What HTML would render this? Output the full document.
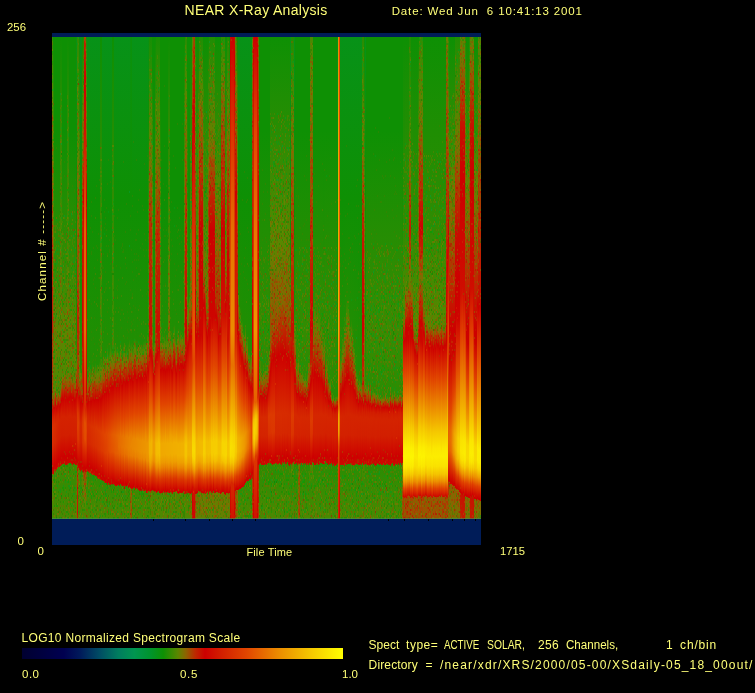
<!DOCTYPE html>
<html lang="en"><head><meta charset="utf-8"><title>NEAR X-Ray Analysis</title>
<style>
html,body{margin:0;padding:0;background:#000}
body{width:755px;height:693px;position:relative;overflow:hidden;font-family:"Liberation Sans",sans-serif}
.b{position:absolute;left:52px;width:429px;background:#001c58}
#sg{position:absolute;left:52px;top:37px;width:429px;height:482px;display:flex;background:#0a8c00}
#sg i{display:block;flex:0 0 1px;width:1px;height:482px}
#sp{position:absolute;left:52px;top:37px}
#tk{position:absolute;left:52px;top:518px;width:429px;height:1px;background:rgba(60,150,90,.55)}
#tk b{position:absolute;top:1px;width:1px;height:2px;background:#000}
#bar{position:absolute;left:22px;top:648px;width:321px;height:11px;background:linear-gradient(to right,#000030 0.0%,#000050 13.0%,#00195a 18.0%,#004b64 24.0%,#007d5f 30.0%,#009650 35.0%,#00942d 40.0%,#0e9004 44.0%,#5a8700 48.5%,#8c6400 51.0%,#be2800 54.0%,#cd0000 57.0%,#d21e00 62.0%,#e14600 70.0%,#eb8c00 80.0%,#f5c800 90.0%,#ff0 100.0%)}
.t{position:absolute;color:#ffff78;white-space:pre;line-height:1;transform-origin:0 0}
.v{transform-origin:0 0;transform:rotate(-90deg) translateY(-84.65%)}
</style></head><body>
<div class="b" style="top:33px;height:4px"></div>
<div class="b" style="top:519px;height:26px"></div>
<div id="sg"><i style="background:linear-gradient(#308c02 0.5px,#5a8700 58.5px,#8c6400 126.5px,#be2800 242.5px,#c31b00 293.5px,#be2800 316.5px,#9e4e00 361.5px,#bd2900 365.5px,#cd0200 371.5px,#d52600 382.5px,#d93100 391.5px,#d62a00 408.5px,#cd0000 431.5px,#c90a00 436.5px,#628200 437.5px,#458901 475.5px,#498901 481.5px)"></i><i style="background:linear-gradient(#0e9004 0.5px,#3a8b02 93.5px,#5a8700 185.5px,#797100 292.5px,#608300 357.5px,#8a6600 361.5px,#ba2d00 366.5px,#cc0400 371.5px,#d52700 383.5px,#d82f00 390.5px,#d62900 407.5px,#cd0100 431.5px,#c90a00 436.5px,#488901 437.5px,#498901 481.5px)"></i><i style="background:linear-gradient(#0e9004 0.5px,#0e9004 93.5px,#278d03 192.5px,#388b02 242.5px,#5a8700 293.5px,#4c8901 354.5px,#608300 356.5px,#836a00 359.5px,#be2700 365.5px,#cd0100 370.5px,#d32100 379.5px,#d72d00 387.5px,#d52700 405.5px,#cd0100 427.5px,#c90a00 433.5px,#3a8b02 434.5px,#378b02 450.5px,#498901 481.5px)"></i><i style="background:linear-gradient(#0e9004 0.5px,#0e9004 93.5px,#278d03 192.5px,#388b02 242.5px,#5a8700 293.5px,#4e8801 347.5px,#5d8500 349.5px,#896600 354.5px,#be2800 361.5px,#cc0300 367.5px,#d72b00 387.5px,#d52600 405.5px,#cd0100 428.5px,#c90a00 434.5px,#3a8b02 435.5px,#378b02 450.5px,#498901 481.5px)"></i><i style="background:linear-gradient(#0e9004 0.5px,#0e9004 93.5px,#278d03 192.5px,#388b02 242.5px,#5a8700 293.5px,#4c8901 356.5px,#5c8600 358.5px,#836a00 361.5px,#bc2b00 366.5px,#cd0200 371.5px,#d32000 379.5px,#d62900 386.5px,#d42300 404.5px,#cd0000 426.5px,#c90b00 432.5px,#3b8b02 433.5px,#378b02 450.5px,#498901 481.5px)"></i><i style="background:linear-gradient(#0e9004 0.5px,#0e9004 93.5px,#278d03 192.5px,#388b02 242.5px,#5a8700 293.5px,#4c8901 355.5px,#896600 360.5px,#be2700 365.5px,#cb0400 369.5px,#d31f00 378.5px,#d52700 385.5px,#d32100 403.5px,#cd0100 424.5px,#c90a00 430.5px,#3b8b02 431.5px,#378b02 450.5px,#498901 481.5px)"></i><i style="background:linear-gradient(#0e9004 0.5px,#0e9004 93.5px,#278d03 192.5px,#388b02 242.5px,#5a8700 293.5px,#4d8901 351.5px,#5e8400 353.5px,#8b6500 357.5px,#ba2c00 362.5px,#cc0400 367.5px,#d21f00 377.5px,#d52500 383.5px,#d32000 401.5px,#cd0100 422.5px,#c90b00 429.5px,#3b8b02 430.5px,#378b02 450.5px,#498901 481.5px)"></i><i style="background:linear-gradient(#0e9004 0.5px,#0e9004 93.5px,#278d03 192.5px,#388b02 242.5px,#5a8700 293.5px,#4c8901 355.5px,#5b8700 357.5px,#826b00 360.5px,#bc2a00 365.5px,#cb0500 369.5px,#d42300 383.5px,#d21f00 401.5px,#cd0100 422.5px,#c90b00 429.5px,#3b8b02 430.5px,#378b02 450.5px,#498901 481.5px)"></i><i style="background:linear-gradient(#0e9004 0.5px,#308c02 92.5px,#418a01 193.5px,#648000 292.5px,#4d8901 350.5px,#5a8700 352.5px,#866800 356.5px,#be2700 362.5px,#cd0100 367.5px,#d21c00 376.5px,#d42200 382.5px,#d21f00 399.5px,#cd0000 421.5px,#c90b00 428.5px,#3c8b02 429.5px,#378b02 450.5px,#498901 481.5px)"></i><i style="background:linear-gradient(#0e9004 0.5px,#308c02 92.5px,#418a01 193.5px,#648000 292.5px,#4f8801 341.5px,#608300 344.5px,#8a6600 349.5px,#bc2a00 356.5px,#cd0000 363.5px,#d21d00 374.5px,#d42200 380.5px,#d21e00 398.5px,#cd0000 420.5px,#c90b00 427.5px,#3c8b02 428.5px,#378b02 450.5px,#498901 481.5px)"></i><i style="background:linear-gradient(#0e9004 0.5px,#0e9004 93.5px,#388b02 242.5px,#5a8700 292.5px,#508801 336.5px,#5a8700 338.5px,#8d6300 345.5px,#be2800 353.5px,#cd0000 361.5px,#d42200 379.5px,#d21e00 398.5px,#cd0100 419.5px,#c90b00 426.5px,#3c8b02 427.5px,#378b02 450.5px,#498901 481.5px)"></i><i style="background:linear-gradient(#0e9004 0.5px,#0e9004 93.5px,#278d03 192.5px,#388b02 242.5px,#5a8700 293.5px,#508801 338.5px,#5a8700 340.5px,#886700 346.5px,#bc2a00 354.5px,#cd0100 362.5px,#d42200 379.5px,#d21e00 398.5px,#cd0100 419.5px,#c90b00 426.5px,#3c8b02 427.5px,#378b02 450.5px,#498901 481.5px)"></i><i style="background:linear-gradient(#0e9004 0.5px,#0e9004 93.5px,#388b02 242.5px,#5a8700 292.5px,#518800 333.5px,#5a8700 335.5px,#8a6600 342.5px,#be2900 351.5px,#cc0300 359.5px,#d42200 379.5px,#d21f00 397.5px,#cd0000 419.5px,#c90b00 426.5px,#3c8b02 427.5px,#378b02 450.5px,#498901 481.5px)"></i><i style="background:linear-gradient(#0e9004 0.5px,#0e9004 93.5px,#388b02 242.5px,#5a8700 292.5px,#518800 335.5px,#5b8700 337.5px,#8b6500 344.5px,#ba2d00 352.5px,#cd0000 361.5px,#d42200 380.5px,#d21f00 398.5px,#cd0100 420.5px,#c90b00 427.5px,#3c8b02 428.5px,#378b02 450.5px,#498901 481.5px)"></i><i style="background:linear-gradient(#0e9004 0.5px,#0e9004 93.5px,#388b02 242.5px,#5a8700 292.5px,#518800 334.5px,#8c6400 343.5px,#be2800 352.5px,#cc0200 360.5px,#d42200 380.5px,#d21f00 398.5px,#cd0000 420.5px,#c90b00 427.5px,#3c8b02 428.5px,#378b02 450.5px,#498901 481.5px)"></i><i style="background:linear-gradient(#0e9004 0.5px,#308c02 92.5px,#418a01 193.5px,#648000 292.5px,#508801 338.5px,#598700 340.5px,#876800 346.5px,#bb2b00 354.5px,#cd0000 362.5px,#d21c00 373.5px,#d42200 380.5px,#d21e00 398.5px,#cd0000 420.5px,#c90b00 426.5px,#3c8b02 427.5px,#378b02 450.5px,#498901 481.5px)"></i><i style="background:linear-gradient(#0e9004 0.5px,#308c02 92.5px,#418a01 193.5px,#648000 292.5px,#508801 336.5px,#598700 338.5px,#8d6300 345.5px,#be2800 353.5px,#cd0100 361.5px,#d42200 379.5px,#d21f00 397.5px,#cd0000 419.5px,#c90b00 426.5px,#3c8b02 427.5px,#378b02 450.5px,#498901 481.5px)"></i><i style="background:linear-gradient(#0e9004 0.5px,#0e9004 93.5px,#388b02 242.5px,#5a8700 292.5px,#518800 335.5px,#598700 337.5px,#8d6300 344.5px,#be2800 352.5px,#cd0100 360.5px,#d42200 378.5px,#d21f00 396.5px,#cd0100 418.5px,#c90b00 425.5px,#3c8b02 426.5px,#378b02 450.5px,#498901 481.5px)"></i><i style="background:linear-gradient(#0e9004 0.5px,#0e9004 93.5px,#388b02 242.5px,#5a8700 292.5px,#518800 333.5px,#5a8700 335.5px,#8a6500 342.5px,#be2700 351.5px,#cd0100 359.5px,#d42200 378.5px,#d21e00 397.5px,#cd0100 418.5px,#c90b00 425.5px,#3c8b02 426.5px,#378b02 450.5px,#498901 481.5px)"></i><i style="background:linear-gradient(#0e9004 0.5px,#0e9004 93.5px,#388b02 242.5px,#5a8700 292.5px,#518800 335.5px,#5a8700 337.5px,#8c6400 344.5px,#bd2900 352.5px,#cd0100 360.5px,#d42200 379.5px,#d21e00 397.5px,#cd0000 419.5px,#c90b00 426.5px,#3c8b02 427.5px,#378b02 450.5px,#498901 481.5px)"></i><i style="background:linear-gradient(#0e9004 0.5px,#0e9004 93.5px,#388b02 242.5px,#5a8700 292.5px,#508801 336.5px,#8e6200 345.5px,#be2900 353.5px,#cd0100 361.5px,#d42200 380.5px,#d21f00 398.5px,#cd0000 420.5px,#c90b00 427.5px,#3c8b02 428.5px,#378b02 450.5px,#498901 481.5px)"></i><i style="background:linear-gradient(#0e9004 0.5px,#0e9004 93.5px,#388b02 242.5px,#5a8700 292.5px,#518800 335.5px,#8d6300 344.5px,#bc2a00 352.5px,#cc0200 360.5px,#d42200 379.5px,#d21e00 398.5px,#cd0000 420.5px,#c90b00 426.5px,#3c8b02 427.5px,#378b02 450.5px,#498901 481.5px)"></i><i style="background:linear-gradient(#0e9004 0.5px,#0e9004 93.5px,#278d03 192.5px,#388b02 242.5px,#5a8700 293.5px,#4f8801 341.5px,#598700 343.5px,#8c6400 349.5px,#be2800 356.5px,#cd0100 363.5px,#d42200 379.5px,#d21f00 397.5px,#cd0100 419.5px,#c90b00 426.5px,#3c8b02 427.5px,#378b02 450.5px,#498901 481.5px)"></i><i style="background:linear-gradient(#0e9004 0.5px,#0e9004 93.5px,#278d03 192.5px,#388b02 242.5px,#5a8700 293.5px,#4f8801 340.5px,#598700 342.5px,#8a6500 348.5px,#ba2d00 355.5px,#cc0300 362.5px,#d42300 380.5px,#d21e00 399.5px,#cd0000 420.5px,#c90b00 427.5px,#3c8b02 428.5px,#378b02 450.5px,#498901 481.5px)"></i><i style="background:linear-gradient(#089214 0.5px,#0e9004 162.5px,#238e03 316.5px,#5c8500 328.5px,#8a6600 336.5px,#be2800 347.5px,#cd0000 357.5px,#d21e00 373.5px,#d42400 382.5px,#d21e00 400.5px,#cd0000 421.5px,#c90b00 427.5px,#428a01 428.5px,#687d00 481.5px)"></i><i style="background:linear-gradient(#308c02 0.5px,#5a8700 109.5px,#8c6400 193.5px,#be2800 278.5px,#c02200 293.5px,#a54600 343.5px,#a64500 344.5px,#bf2400 348.5px,#cd0000 354.5px,#dc3800 376.5px,#de3e00 390.5px,#d93000 403.5px,#cd0100 424.5px,#ca0900 428.5px,#a84300 429.5px,#be2800 450.5px,#c80e00 481.5px)"></i><i style="background:linear-gradient(#308c02 0.5px,#5a8700 109.5px,#8c6400 193.5px,#be2800 278.5px,#c02200 293.5px,#a24a00 348.5px,#a24900 349.5px,#c02300 353.5px,#cc0100 358.5px,#da3500 376.5px,#de3f00 385.5px,#db3600 402.5px,#cd0000 426.5px,#ca0900 430.5px,#648000 431.5px,#468901 474.5px,#498901 481.5px)"></i><i style="background:linear-gradient(#0e9004 0.5px,#5a8700 230.5px,#747500 292.5px,#638100 340.5px,#886700 345.5px,#be2700 353.5px,#cd0100 360.5px,#d62a00 377.5px,#da3300 385.5px,#d72c00 403.5px,#cd0100 427.5px,#c90a00 432.5px,#478901 433.5px,#498901 481.5px)"></i><i style="background:linear-gradient(#079218 0.5px,#0e9004 162.5px,#228e03 330.5px,#5b8600 340.5px,#8a6500 347.5px,#bd2900 356.5px,#cd0100 365.5px,#d52700 386.5px,#d42200 405.5px,#cd0100 427.5px,#c90b00 434.5px,#2e8c02 435.5px,#498901 481.5px)"></i><i style="background:linear-gradient(#079218 0.5px,#0e9004 162.5px,#238e03 331.5px,#5a8700 341.5px,#8d6300 348.5px,#bd2900 356.5px,#cd0000 364.5px,#d62800 385.5px,#d42300 404.5px,#cd0100 426.5px,#c90a00 432.5px,#2d8c02 433.5px,#498901 481.5px)"></i><i style="background:linear-gradient(#109004 0.5px,#5b8700 100.5px,#8c6400 134.5px,#be2800 175.5px,#c41700 193.5px,#cd0100 292.5px,#be2700 342.5px,#af3a00 358.5px,#cd0200 366.5px,#d93100 380.5px,#dd3a00 388.5px,#da3300 405.5px,#cd0100 429.5px,#c90a00 434.5px,#5f8400 435.5px,#428a01 469.5px,#498901 481.5px)"></i><i style="background:linear-gradient(#1f8e03 0.5px,#598700 64.5px,#777200 92.5px,#be2700 133.5px,#cd0100 162.5px,#d01200 192.5px,#d21e00 292.5px,#cd0200 359.5px,#dd3c00 381.5px,#e04300 393.5px,#dc3700 407.5px,#cd0100 430.5px,#ca0900 434.5px,#777300 435.5px,#5a8700 452.5px,#468901 466.5px,#498901 481.5px)"></i><i style="background:linear-gradient(#be2800 0.5px,#cd0000 46.5px,#d01200 93.5px,#e56200 193.5px,#e77000 292.5px,#d52700 369.5px,#e24f00 385.5px,#e14900 401.5px,#cd0100 430.5px,#ca0800 433.5px,#b63100 434.5px,#8c6400 450.5px,#598700 466.5px,#478901 473.5px,#498901 481.5px)"></i><i style="background:linear-gradient(#be2800 0.5px,#cd0000 46.5px,#d01200 93.5px,#e56200 193.5px,#e77000 292.5px,#d52500 372.5px,#e24f00 386.5px,#e24b00 402.5px,#cd0000 431.5px,#ca0800 434.5px,#b43400 435.5px,#8c6400 450.5px,#598700 466.5px,#478901 473.5px,#498901 481.5px)"></i><i style="background:linear-gradient(#1f8e03 0.5px,#598700 64.5px,#777200 92.5px,#be2700 133.5px,#cd0100 162.5px,#d01200 192.5px,#d21e00 292.5px,#cd0000 351.5px,#c90b00 361.5px,#cd0200 363.5px,#de3d00 381.5px,#e14500 393.5px,#dc3900 407.5px,#cd0100 430.5px,#ca0900 434.5px,#777300 435.5px,#5a8700 452.5px,#428a01 469.5px,#498901 481.5px)"></i><i style="background:linear-gradient(#079218 0.5px,#0e9004 162.5px,#238e03 338.5px,#598700 346.5px,#8c6400 352.5px,#be2700 359.5px,#cd0100 366.5px,#d42400 379.5px,#d82d00 387.5px,#d52700 405.5px,#cd0000 428.5px,#c90a00 433.5px,#2e8c02 434.5px,#498901 481.5px)"></i><i style="background:linear-gradient(#079218 0.5px,#0e9004 162.5px,#238e03 332.5px,#608300 342.5px,#8c6400 348.5px,#be2800 356.5px,#cd0000 364.5px,#d42400 379.5px,#d82d00 387.5px,#d62800 406.5px,#cd0000 429.5px,#c90a00 434.5px,#2e8c02 435.5px,#498901 481.5px)"></i><i style="background:linear-gradient(#079218 0.5px,#0e9004 162.5px,#228e03 326.5px,#5f8300 337.5px,#8d6300 344.5px,#be2700 353.5px,#cc0200 361.5px,#d82e00 387.5px,#d62900 406.5px,#cd0100 429.5px,#c90a00 435.5px,#2f8c02 436.5px,#498901 481.5px)"></i><i style="background:linear-gradient(#079218 0.5px,#0e9004 162.5px,#238e03 334.5px,#5d8500 343.5px,#8b6500 349.5px,#be2700 357.5px,#cc0200 364.5px,#d92f00 388.5px,#d62900 407.5px,#cd0000 430.5px,#c90a00 435.5px,#2f8c02 436.5px,#498901 481.5px)"></i><i style="background:linear-gradient(#079218 0.5px,#0e9004 162.5px,#238e03 333.5px,#5c8600 342.5px,#896600 348.5px,#bc2a00 356.5px,#cd0000 364.5px,#d52600 380.5px,#d93100 389.5px,#d72b00 407.5px,#cd0100 430.5px,#c90a00 436.5px,#308c02 437.5px,#498901 481.5px)"></i><i style="background:linear-gradient(#079218 0.5px,#0e9004 162.5px,#238e03 326.5px,#5a8700 336.5px,#8f6100 344.5px,#bb2c00 352.5px,#cc0200 361.5px,#d93200 389.5px,#d72c00 408.5px,#cd0100 431.5px,#c90a00 437.5px,#308c02 438.5px,#498901 481.5px)"></i><i style="background:linear-gradient(#079218 0.5px,#0e9004 162.5px,#228e03 327.5px,#5e8400 338.5px,#8d6200 345.5px,#bb2c00 353.5px,#cd0100 362.5px,#da3300 390.5px,#d82d00 409.5px,#cd0100 432.5px,#ca0900 437.5px,#308c02 438.5px,#498901 481.5px)"></i><i style="background:linear-gradient(#079218 0.5px,#0e9004 162.5px,#228e03 330.5px,#5f8400 340.5px,#8a6500 346.5px,#bb2c00 354.5px,#cd0100 363.5px,#d72c00 382.5px,#da3400 390.5px,#d82e00 408.5px,#cd0100 432.5px,#c90a00 437.5px,#308c02 438.5px,#498901 481.5px)"></i><i style="background:linear-gradient(#079218 0.5px,#0e9004 162.5px,#228e03 325.5px,#5f8300 336.5px,#8d6300 343.5px,#be2800 352.5px,#cd0000 361.5px,#db3600 391.5px,#d93000 409.5px,#cd0000 434.5px,#ca0900 438.5px,#318c02 439.5px,#498901 481.5px)"></i><i style="background:linear-gradient(#079218 0.5px,#0e9004 162.5px,#228e03 328.5px,#598700 338.5px,#8b6500 345.5px,#bb2c00 353.5px,#cd0100 362.5px,#db3700 390.5px,#d93000 409.5px,#cd0000 433.5px,#c90a00 438.5px,#318c02 439.5px,#498901 481.5px)"></i><i style="background:linear-gradient(#079218 0.5px,#0e9004 162.5px,#228e03 328.5px,#5b8600 338.5px,#8b6500 345.5px,#be2700 354.5px,#cd0100 362.5px,#dc3800 392.5px,#d93100 411.5px,#cd0100 435.5px,#c90a00 440.5px,#328c02 441.5px,#498901 481.5px)"></i><i style="background:linear-gradient(#079218 0.5px,#0e9004 162.5px,#228e03 327.5px,#5a8700 337.5px,#896600 344.5px,#bd2a00 353.5px,#cd0000 362.5px,#dc3900 393.5px,#da3200 412.5px,#cd0100 436.5px,#c90a00 441.5px,#328c02 442.5px,#498901 481.5px)"></i><i style="background:linear-gradient(#079218 0.5px,#0e9004 162.5px,#228e03 324.5px,#5e8400 335.5px,#8b6500 342.5px,#bc2a00 351.5px,#cc0200 360.5px,#dd3a00 393.5px,#da3400 412.5px,#cd0100 437.5px,#c90a00 441.5px,#328c02 442.5px,#498901 481.5px)"></i><i style="background:linear-gradient(#0e9004 0.5px,#388b02 193.5px,#418a01 292.5px,#368b02 331.5px,#5f8300 338.5px,#8f6100 345.5px,#bd2a00 353.5px,#cd0100 362.5px,#dd3c00 394.5px,#db3600 412.5px,#cc0100 438.5px,#c90a00 442.5px,#338c02 443.5px,#498901 481.5px)"></i><i style="background:linear-gradient(#0e9004 0.5px,#388b02 193.5px,#418a01 292.5px,#378b02 330.5px,#5e8400 337.5px,#8d6300 344.5px,#ba2c00 352.5px,#cd0100 361.5px,#de3e00 395.5px,#dc3800 413.5px,#cc0100 439.5px,#ca0800 442.5px,#338c02 443.5px,#498901 481.5px)"></i><i style="background:linear-gradient(#079218 0.5px,#0e9004 162.5px,#228e03 322.5px,#5c8600 333.5px,#896600 340.5px,#bb2c00 349.5px,#cd0100 359.5px,#db3700 386.5px,#df4000 395.5px,#dc3900 413.5px,#cd0000 438.5px,#ca0900 442.5px,#338c02 443.5px,#498901 481.5px)"></i><i style="background:linear-gradient(#079218 0.5px,#0e9004 162.5px,#228e03 315.5px,#5c8500 327.5px,#8c6400 335.5px,#bd2900 345.5px,#cd0000 355.5px,#e04200 395.5px,#dd3a00 414.5px,#cd0100 439.5px,#ca0900 443.5px,#348c02 444.5px,#498901 481.5px)"></i><i style="background:linear-gradient(#079218 0.5px,#0e9004 162.5px,#228e03 319.5px,#5e8400 331.5px,#8a6500 338.5px,#be2700 348.5px,#cd0100 357.5px,#e04400 397.5px,#dd3d00 415.5px,#cd0100 441.5px,#ca0800 444.5px,#348b02 445.5px,#498901 481.5px)"></i><i style="background:linear-gradient(#079218 0.5px,#0e9004 162.5px,#228e03 313.5px,#5d8500 325.5px,#8b6500 333.5px,#bb2b00 343.5px,#cd0000 354.5px,#e14600 397.5px,#de3e00 416.5px,#cd0100 442.5px,#ca0900 445.5px,#358b02 446.5px,#498901 481.5px)"></i><i style="background:linear-gradient(#079218 0.5px,#0e9004 162.5px,#228e03 318.5px,#598700 329.5px,#8c6400 337.5px,#bb2b00 346.5px,#cd0000 356.5px,#e14700 395.5px,#df4100 415.5px,#cd0100 442.5px,#ca0900 445.5px,#358b02 446.5px,#498901 481.5px)"></i><i style="background:linear-gradient(#079218 0.5px,#0e9004 162.5px,#218e03 309.5px,#598700 321.5px,#8b6500 330.5px,#be2800 341.5px,#cd0100 352.5px,#e24a00 397.5px,#e04300 417.5px,#cd0000 444.5px,#ca0800 447.5px,#368b02 448.5px,#498901 481.5px)"></i><i style="background:linear-gradient(#079218 0.5px,#0e9004 162.5px,#228e03 317.5px,#598700 328.5px,#8c6400 336.5px,#bc2a00 345.5px,#cd0100 355.5px,#e24d00 396.5px,#e14900 413.5px,#cd0000 442.5px,#ca0700 445.5px,#358b02 446.5px,#498901 481.5px)"></i><i style="background:linear-gradient(#079218 0.5px,#0e9004 162.5px,#228e03 313.5px,#5a8700 324.5px,#8a6600 332.5px,#bc2a00 342.5px,#cd0100 352.5px,#e25000 397.5px,#e24c00 414.5px,#cd0100 444.5px,#ca0900 447.5px,#368b02 448.5px,#498901 481.5px)"></i><i style="background:linear-gradient(#079218 0.5px,#0e9004 162.5px,#218e03 307.5px,#5a8700 319.5px,#8c6400 328.5px,#bc2b00 338.5px,#cd0000 349.5px,#e35200 397.5px,#e24e00 415.5px,#cd0000 444.5px,#ca0800 447.5px,#368b02 448.5px,#498901 481.5px)"></i><i style="background:linear-gradient(#079218 0.5px,#0e9004 162.5px,#218e03 311.5px,#598700 322.5px,#8a6600 330.5px,#bd2900 340.5px,#cd0000 350.5px,#e35600 397.5px,#e35100 414.5px,#cd0100 443.5px,#ca0700 446.5px,#358b02 447.5px,#498901 481.5px)"></i><i style="background:linear-gradient(#0e9004 0.5px,#388b02 193.5px,#418a01 292.5px,#3a8b02 317.5px,#5a8700 323.5px,#8c6400 331.5px,#bb2b00 340.5px,#cd0000 350.5px,#e45900 397.5px,#e35300 414.5px,#cd0000 443.5px,#ca0800 446.5px,#358b02 447.5px,#498901 481.5px)"></i><i style="background:linear-gradient(#0e9004 0.5px,#388b02 193.5px,#418a01 292.5px,#3a8b02 317.5px,#5e8400 324.5px,#8b6400 331.5px,#bc2b00 340.5px,#cd0100 350.5px,#e45c00 397.5px,#e35500 414.5px,#cd0000 443.5px,#ca0800 446.5px,#358b02 447.5px,#498901 481.5px)"></i><i style="background:linear-gradient(#079218 0.5px,#0e9004 162.5px,#218e03 306.5px,#598700 318.5px,#8e6100 327.5px,#bb2b00 336.5px,#cc0100 346.5px,#e45e00 397.5px,#e45800 415.5px,#cd0100 444.5px,#ca0700 447.5px,#368b02 448.5px,#498901 481.5px)"></i><i style="background:linear-gradient(#079218 0.5px,#0e9004 162.5px,#218e03 305.5px,#5f8400 318.5px,#8e6200 326.5px,#be2700 336.5px,#cd0100 346.5px,#e56000 398.5px,#e45b00 416.5px,#cd0100 445.5px,#ca0700 448.5px,#378b02 449.5px,#498901 481.5px)"></i><i style="background:linear-gradient(#079218 0.5px,#0e9004 162.5px,#218e03 311.5px,#5c8600 322.5px,#8f6100 330.5px,#be2700 339.5px,#cd0000 348.5px,#e56400 398.5px,#e45c00 416.5px,#cd0000 445.5px,#ca0800 448.5px,#378b02 449.5px,#498901 481.5px)"></i><i style="background:linear-gradient(#079218 0.5px,#0e9004 162.5px,#218e03 308.5px,#5f8400 320.5px,#8b6500 327.5px,#bb2c00 336.5px,#cd0000 346.5px,#e66600 398.5px,#e55f00 416.5px,#cd0100 445.5px,#ca0800 448.5px,#378b02 449.5px,#498901 481.5px)"></i><i style="background:linear-gradient(#079218 0.5px,#0e9004 162.5px,#218e03 311.5px,#5d8500 322.5px,#8b6500 329.5px,#bd2900 338.5px,#cd0000 347.5px,#e66900 398.5px,#e66b00 409.5px,#e56100 416.5px,#cd0000 445.5px,#cb0600 447.5px,#368b02 448.5px,#498901 481.5px)"></i><i style="background:linear-gradient(#079218 0.5px,#0e9004 162.5px,#228e03 313.5px,#5a8700 323.5px,#896600 330.5px,#bc2a00 339.5px,#cd0000 348.5px,#e66c00 399.5px,#e76d00 410.5px,#e56400 417.5px,#cd0000 446.5px,#cb0600 448.5px,#378b02 449.5px,#498901 481.5px)"></i><i style="background:linear-gradient(#079218 0.5px,#0e9004 162.5px,#218e03 304.5px,#5b8600 315.5px,#8e6200 323.5px,#bd2900 332.5px,#cd0100 342.5px,#e04500 379.5px,#e76f00 397.5px,#e77000 408.5px,#e66600 415.5px,#cd0100 444.5px,#cb0600 446.5px,#358b02 447.5px,#498901 481.5px)"></i><i style="background:linear-gradient(#079218 0.5px,#0e9004 162.5px,#218e03 310.5px,#5b8600 321.5px,#8a6500 328.5px,#bd2900 337.5px,#cd0000 346.5px,#e14600 382.5px,#e77000 399.5px,#e77200 410.5px,#e66800 417.5px,#cd0100 446.5px,#cb0500 448.5px,#378b02 449.5px,#498901 481.5px)"></i><i style="background:linear-gradient(#079218 0.5px,#0e9004 162.5px,#228e03 314.5px,#5a8700 324.5px,#8c6400 331.5px,#bb2c00 339.5px,#cd0000 348.5px,#e14600 382.5px,#e77200 399.5px,#e87400 410.5px,#e66a00 417.5px,#cd0100 446.5px,#cb0500 448.5px,#378b02 449.5px,#498901 481.5px)"></i><i style="background:linear-gradient(#079218 0.5px,#0e9004 162.5px,#218e03 308.5px,#5c8500 319.5px,#8c6400 326.5px,#be2800 335.5px,#cd0100 344.5px,#e14500 379.5px,#e87500 398.5px,#e87600 409.5px,#e66c00 416.5px,#cd0100 445.5px,#ca0700 448.5px,#378b02 449.5px,#498901 481.5px)"></i><i style="background:linear-gradient(#079218 0.5px,#0e9004 162.5px,#218e03 305.5px,#598700 316.5px,#8c6400 324.5px,#bc2b00 333.5px,#cd0100 343.5px,#e14600 381.5px,#e87700 401.5px,#e87800 412.5px,#e76e00 419.5px,#d01000 443.5px,#cd0100 449.5px,#ca0700 451.5px,#388b02 452.5px,#498901 481.5px)"></i><i style="background:linear-gradient(#079218 0.5px,#0e9004 162.5px,#228e03 312.5px,#5c8600 322.5px,#8d6200 329.5px,#bd2900 337.5px,#cd0100 346.5px,#e14500 379.5px,#e87900 399.5px,#e97b00 409.5px,#e77100 416.5px,#cd0000 446.5px,#cb0600 448.5px,#378b02 449.5px,#498901 481.5px)"></i><i style="background:linear-gradient(#079218 0.5px,#0e9004 162.5px,#218e03 310.5px,#5c8600 320.5px,#8d6300 327.5px,#bb2b00 335.5px,#cd0000 344.5px,#e14700 379.5px,#e97b00 399.5px,#e97c00 410.5px,#e77200 417.5px,#cd0100 446.5px,#cb0500 448.5px,#378b02 449.5px,#498901 481.5px)"></i><i style="background:linear-gradient(#079218 0.5px,#0e9004 162.5px,#228e03 312.5px,#5c8500 322.5px,#8e6100 329.5px,#be2800 337.5px,#cd0000 345.5px,#e14700 379.5px,#e97d00 399.5px,#e97e00 410.5px,#e87400 417.5px,#d01000 441.5px,#cd0100 447.5px,#cb0500 448.5px,#378b02 449.5px,#498901 481.5px)"></i><i style="background:linear-gradient(#079218 0.5px,#0e9004 162.5px,#218e03 306.5px,#5b8600 317.5px,#896600 324.5px,#bc2a00 333.5px,#cd0100 342.5px,#e14500 378.5px,#e97f00 401.5px,#e98100 412.5px,#e87600 419.5px,#d01000 443.5px,#cd0100 449.5px,#cb0400 450.5px,#388b02 451.5px,#498901 481.5px)"></i><i style="background:linear-gradient(#079218 0.5px,#0e9004 162.5px,#218e03 302.5px,#5a8700 313.5px,#8e6100 321.5px,#be2700 330.5px,#cd0000 339.5px,#e14600 376.5px,#ea8200 400.5px,#ea8200 411.5px,#e87700 418.5px,#cd0100 447.5px,#cb0600 449.5px,#378b02 450.5px,#498901 481.5px)"></i><i style="background:linear-gradient(#0a9110 0.5px,#0e9004 162.5px,#218e03 307.5px,#5f8300 318.5px,#8f6100 325.5px,#bc2a00 333.5px,#cd0000 342.5px,#e14700 378.5px,#e97e00 398.5px,#ea8500 409.5px,#e97c00 418.5px,#d01100 443.5px,#cd0100 449.5px,#cb0400 450.5px,#6e7900 451.5px,#8a6600 481.5px)"></i><i style="background:linear-gradient(#0b910c 0.5px,#0e9004 162.5px,#218e03 305.5px,#5c8600 316.5px,#8b6500 323.5px,#be2800 332.5px,#cd0000 341.5px,#e14600 377.5px,#e97d00 397.5px,#ea8700 407.5px,#e97d00 418.5px,#d01200 443.5px,#cd0000 449.5px,#cb0700 451.5px,#8d6200 452.5px,#a64500 481.5px)"></i><i style="background:linear-gradient(#079218 0.5px,#0e9004 162.5px,#218e03 310.5px,#5c8500 320.5px,#8e6200 327.5px,#bd2900 335.5px,#cd0100 344.5px,#e14700 378.5px,#ea8600 402.5px,#ea8700 412.5px,#e97c00 419.5px,#d01200 443.5px,#cd0000 449.5px,#cb0700 451.5px,#388b02 452.5px,#498901 481.5px)"></i><i style="background:linear-gradient(#079218 0.5px,#0e9004 162.5px,#218e03 308.5px,#5d8500 318.5px,#8e6100 325.5px,#bd2900 333.5px,#cd0100 342.5px,#e14600 376.5px,#ea8700 401.5px,#ea8800 411.5px,#e97d00 418.5px,#d01200 442.5px,#cd0000 448.5px,#cb0700 450.5px,#388b02 451.5px,#498901 481.5px)"></i><i style="background:linear-gradient(#079218 0.5px,#0e9004 162.5px,#218e03 300.5px,#5b8700 311.5px,#8e6200 319.5px,#be2700 328.5px,#cd0000 337.5px,#e14500 374.5px,#ea8800 401.5px,#eb8900 412.5px,#e97d00 419.5px,#d11500 442.5px,#cd0100 449.5px,#cb0400 450.5px,#388b02 451.5px,#498901 481.5px)"></i><i style="background:linear-gradient(#079218 0.5px,#0e9004 162.5px,#218e03 301.5px,#5b8600 312.5px,#8e6100 320.5px,#be2700 329.5px,#cd0000 338.5px,#e14600 376.5px,#eb8900 403.5px,#eb8a00 414.5px,#e97f00 421.5px,#d11600 444.5px,#cd0100 451.5px,#cb0400 452.5px,#398b02 453.5px,#498901 481.5px)"></i><i style="background:linear-gradient(#079218 0.5px,#0e9004 162.5px,#218e03 309.5px,#5a8700 319.5px,#8d6300 326.5px,#bd2900 334.5px,#cc0200 342.5px,#e14600 376.5px,#eb8a00 401.5px,#eb8b00 412.5px,#e97f00 419.5px,#d11500 442.5px,#cd0100 449.5px,#cb0500 450.5px,#388b02 451.5px,#498901 481.5px)"></i><i style="background:linear-gradient(#079218 0.5px,#0e9004 162.5px,#218e03 308.5px,#5b8600 318.5px,#8d6300 325.5px,#bc2a00 333.5px,#cd0100 342.5px,#e14600 376.5px,#eb8c00 402.5px,#eb8c00 413.5px,#ea8200 419.5px,#d01400 443.5px,#cd0100 449.5px,#cb0600 451.5px,#388b02 452.5px,#498901 481.5px)"></i><i style="background:linear-gradient(#079218 0.5px,#0e9004 162.5px,#218e03 303.5px,#5a8700 313.5px,#8f6000 321.5px,#bc2b00 329.5px,#cd0100 338.5px,#e14700 375.5px,#eb8d00 402.5px,#eb8e00 413.5px,#ea8300 420.5px,#d11700 443.5px,#cd0000 450.5px,#cb0600 452.5px,#398b02 453.5px,#498901 481.5px)"></i><i style="background:linear-gradient(#079218 0.5px,#0e9004 162.5px,#218e03 304.5px,#5c8600 315.5px,#8b6500 322.5px,#be2800 331.5px,#cd0100 340.5px,#e14700 376.5px,#eb8e00 403.5px,#eb8f00 414.5px,#ea8400 421.5px,#d11700 444.5px,#cd0000 451.5px,#cb0600 453.5px,#398b02 454.5px,#498901 481.5px)"></i><i style="background:linear-gradient(#079218 0.5px,#0e9004 162.5px,#218e03 306.5px,#5a8700 316.5px,#8a6500 323.5px,#be2700 332.5px,#cd0100 341.5px,#e14700 376.5px,#eb8f00 403.5px,#ec9000 414.5px,#ea8400 421.5px,#d11700 444.5px,#cd0000 451.5px,#cc0400 452.5px,#398b02 453.5px,#498901 481.5px)"></i><i style="background:linear-gradient(#079218 0.5px,#0e9004 162.5px,#218e03 306.5px,#5c8600 316.5px,#8c6400 323.5px,#ba2c00 331.5px,#cd0100 340.5px,#e14700 376.5px,#ec9000 404.5px,#ec9100 415.5px,#ea8400 422.5px,#d72b00 440.5px,#cd0100 451.5px,#cb0500 453.5px,#398b02 454.5px,#498901 481.5px)"></i><i style="background:linear-gradient(#079218 0.5px,#0e9004 162.5px,#218e03 307.5px,#5a8700 317.5px,#8c6400 324.5px,#bc2a00 332.5px,#cd0100 341.5px,#e14700 375.5px,#ec9100 403.5px,#ec9200 413.5px,#ea8800 420.5px,#d72a00 439.5px,#cd0100 450.5px,#cb0600 452.5px,#398b02 453.5px,#498901 481.5px)"></i><i style="background:linear-gradient(#079218 0.5px,#0e9004 162.5px,#218e03 304.5px,#5e8400 315.5px,#8e6200 322.5px,#bb2b00 330.5px,#cd0000 339.5px,#e14600 375.5px,#ec9200 404.5px,#ec9300 415.5px,#ea8800 422.5px,#d62a00 441.5px,#cd0000 452.5px,#cc0300 453.5px,#398b02 454.5px,#498901 481.5px)"></i><i style="background:linear-gradient(#079218 0.5px,#0e9004 162.5px,#218e03 303.5px,#5a8700 313.5px,#8a6600 320.5px,#bd2900 329.5px,#cd0000 338.5px,#e14600 374.5px,#ec9300 404.5px,#ec9400 415.5px,#eb8900 422.5px,#d62a00 441.5px,#cd0000 452.5px,#cc0300 453.5px,#398b02 454.5px,#498901 481.5px)"></i><i style="background:linear-gradient(#079218 0.5px,#0e9004 162.5px,#218e03 302.5px,#5f8400 313.5px,#8e6100 320.5px,#bc2a00 328.5px,#cd0000 337.5px,#e14700 373.5px,#eb8b00 397.5px,#ec9500 403.5px,#ed9500 413.5px,#eb8c00 420.5px,#d72c00 439.5px,#cd0100 450.5px,#cb0500 452.5px,#398b02 453.5px,#498901 481.5px)"></i><i style="background:linear-gradient(#079218 0.5px,#0e9004 162.5px,#218e03 306.5px,#598700 316.5px,#8a6500 323.5px,#be2700 332.5px,#cd0100 340.5px,#e14500 375.5px,#eb8a00 399.5px,#ed9600 406.5px,#ed9600 416.5px,#eb8c00 423.5px,#d72b00 442.5px,#cd0100 453.5px,#cb0600 455.5px,#3b8b02 456.5px,#498901 481.5px)"></i><i style="background:linear-gradient(#079218 0.5px,#0e9004 162.5px,#208e03 293.5px,#5d8500 305.5px,#8e6200 313.5px,#bc2a00 322.5px,#cd0000 332.5px,#e14600 372.5px,#ed9700 406.5px,#ed9700 417.5px,#eb8c00 424.5px,#d82f00 442.5px,#cd0000 454.5px,#cc0300 455.5px,#3b8b02 456.5px,#498901 481.5px)"></i><i style="background:linear-gradient(#099113 0.5px,#0e9004 82.5px,#348c02 193.5px,#468901 304.5px,#5e8500 308.5px,#8c6400 315.5px,#be2700 324.5px,#cd0100 333.5px,#e14500 369.5px,#ee9d00 404.5px,#ee9d00 415.5px,#eb8e00 423.5px,#d93000 440.5px,#cd0000 452.5px,#cc0400 453.5px,#3c8b02 454.5px,#498901 481.5px)"></i><i style="background:linear-gradient(#178f04 0.5px,#5a8700 101.5px,#8c6300 143.5px,#be2900 192.5px,#c80d00 292.5px,#c31a00 311.5px,#cd0000 318.5px,#e14600 358.5px,#efa700 398.5px,#f1b200 406.5px,#f1b100 417.5px,#eea000 424.5px,#ea8800 429.5px,#db3500 441.5px,#cd0000 453.5px,#cc0300 454.5px,#478901 455.5px,#3f8a01 464.5px,#498901 481.5px)"></i><i style="background:linear-gradient(#178f04 0.5px,#5a8700 101.5px,#8c6300 143.5px,#be2900 192.5px,#c80d00 292.5px,#c41800 308.5px,#cd0100 314.5px,#e14600 356.5px,#f1b300 406.5px,#f1b200 418.5px,#efa200 425.5px,#eb8b00 430.5px,#db3600 442.5px,#cd0100 454.5px,#cc0200 455.5px,#488901 456.5px,#518800 481.5px)"></i><i style="background:linear-gradient(#178f04 0.5px,#5a8700 101.5px,#8c6300 143.5px,#be2900 192.5px,#c80d00 292.5px,#c31a00 311.5px,#cd0000 318.5px,#e14600 357.5px,#f2b400 404.5px,#f2b300 416.5px,#efa200 423.5px,#eb8a00 428.5px,#db3500 440.5px,#cd0000 452.5px,#cc0300 453.5px,#488901 454.5px,#518800 481.5px)"></i><i style="background:linear-gradient(#0e9004 0.5px,#0e9004 29.5px,#298d03 92.5px,#5a8700 174.5px,#677e00 193.5px,#836a00 292.5px,#7e6e00 303.5px,#8c6400 306.5px,#bd2900 315.5px,#cd0100 324.5px,#e14600 362.5px,#f0a900 403.5px,#f0a900 415.5px,#ee9b00 422.5px,#ea8500 427.5px,#db3500 439.5px,#cd0100 451.5px,#cc0200 452.5px,#478901 453.5px,#518800 481.5px)"></i><i style="background:linear-gradient(#0e9004 0.5px,#0e9004 162.5px,#218e03 304.5px,#5d8500 314.5px,#8f6000 321.5px,#be2700 329.5px,#cd0000 337.5px,#e14600 371.5px,#eb8d00 395.5px,#ee9f00 404.5px,#ee9f00 415.5px,#ec9000 423.5px,#d93000 440.5px,#cd0000 452.5px,#cc0400 453.5px,#488901 454.5px,#518800 481.5px)"></i><i style="background:linear-gradient(#0e9004 0.5px,#0e9004 162.5px,#218e03 300.5px,#5b8600 310.5px,#8b6400 317.5px,#ba2d00 325.5px,#cd0100 334.5px,#e14700 370.5px,#ec9000 396.5px,#eea100 405.5px,#eea000 416.5px,#ec9000 424.5px,#dc3900 439.5px,#cd0100 452.5px,#cb0500 454.5px,#488901 455.5px,#518800 481.5px)"></i><i style="background:linear-gradient(#0e9004 0.5px,#398b02 92.5px,#5a8700 135.5px,#8e6200 193.5px,#a94200 292.5px,#9f4d00 308.5px,#be2800 314.5px,#cd0000 323.5px,#e14500 360.5px,#f1b300 405.5px,#f1b200 416.5px,#eea000 424.5px,#ea8800 429.5px,#da3400 441.5px,#cd0000 453.5px,#cb0400 454.5px,#488901 455.5px,#518800 481.5px)"></i><i style="background:linear-gradient(#178f04 0.5px,#5a8700 101.5px,#8c6300 143.5px,#be2900 192.5px,#c80d00 292.5px,#c31b00 312.5px,#cd0100 319.5px,#e14700 357.5px,#f3bb00 406.5px,#f3bb00 417.5px,#f0a800 425.5px,#ea8800 431.5px,#db3600 442.5px,#cd0000 454.5px,#cc0400 455.5px,#488901 456.5px,#518800 481.5px)"></i><i style="background:linear-gradient(#178f04 0.5px,#5a8700 101.5px,#8c6300 143.5px,#be2900 192.5px,#c80d00 292.5px,#c31a00 310.5px,#cd0000 316.5px,#e14600 355.5px,#f3bd00 406.5px,#f3bc00 417.5px,#f0ac00 424.5px,#eb8e00 430.5px,#db3500 442.5px,#d01000 449.5px,#cd0100 454.5px,#488901 455.5px,#518800 481.5px)"></i><i style="background:linear-gradient(#178f04 0.5px,#5a8700 101.5px,#8c6300 143.5px,#be2900 192.5px,#c80d00 292.5px,#c41700 306.5px,#cd0100 312.5px,#e14600 352.5px,#f3be00 404.5px,#f3bd00 416.5px,#f0ad00 423.5px,#eb8e00 429.5px,#dd3a00 440.5px,#cd0200 452.5px,#cc0100 453.5px,#488901 454.5px,#518800 481.5px)"></i><i style="background:linear-gradient(#178f04 0.5px,#5a8700 101.5px,#8c6300 143.5px,#be2900 192.5px,#c80d00 292.5px,#c51600 305.5px,#cd0100 311.5px,#e14500 351.5px,#f4c000 406.5px,#f3be00 418.5px,#f0ac00 425.5px,#eb8c00 431.5px,#dc3700 442.5px,#cd0000 454.5px,#cc0300 455.5px,#488901 456.5px,#518800 481.5px)"></i><i style="background:linear-gradient(#0e9004 0.5px,#0e9004 60.5px,#448a01 193.5px,#580 307.5px,#8d6300 315.5px,#bc2a00 323.5px,#cd0100 332.5px,#e14500 366.5px,#eea100 399.5px,#f1af00 407.5px,#f1af00 418.5px,#ee9e00 426.5px,#ea8500 431.5px,#da3300 443.5px,#cd0000 455.5px,#cc0400 456.5px,#498901 457.5px,#518800 481.5px)"></i><i style="background:linear-gradient(#0e9004 0.5px,#0e9004 162.5px,#218e03 298.5px,#5b8600 308.5px,#8c6400 315.5px,#ba2d00 323.5px,#cd0100 332.5px,#e14600 368.5px,#f0a800 406.5px,#f0a800 418.5px,#ed9900 425.5px,#ea8200 430.5px,#da3400 442.5px,#cd0100 454.5px,#cc0300 455.5px,#488901 456.5px,#518800 481.5px)"></i><i style="background:linear-gradient(#0e9004 0.5px,#0e9004 162.5px,#218e03 295.5px,#5c8600 306.5px,#8b6400 313.5px,#be2700 322.5px,#cd0100 331.5px,#e14600 367.5px,#f0a900 406.5px,#f0a800 418.5px,#ed9900 425.5px,#ea8200 430.5px,#da3300 442.5px,#cd0000 454.5px,#cc0300 455.5px,#488901 456.5px,#518800 481.5px)"></i><i style="background:linear-gradient(#0e9004 0.5px,#0e9004 162.5px,#218e03 299.5px,#5e8400 309.5px,#8f6100 316.5px,#be2800 324.5px,#cd0100 333.5px,#e14500 367.5px,#f0a900 405.5px,#f0a900 417.5px,#ed9b00 424.5px,#ea8400 429.5px,#db3500 441.5px,#cd0100 453.5px,#cc0200 454.5px,#488901 455.5px,#518800 481.5px)"></i><i style="background:linear-gradient(#0e9004 0.5px,#0e9004 162.5px,#218e03 297.5px,#598700 307.5px,#8a6600 314.5px,#be2800 323.5px,#cd0100 332.5px,#e14600 367.5px,#f0aa00 406.5px,#f0a900 418.5px,#ed9a00 425.5px,#ea8300 430.5px,#da3400 442.5px,#cd0100 454.5px,#cc0300 455.5px,#488901 456.5px,#518800 481.5px)"></i><i style="background:linear-gradient(#0e9004 0.5px,#0e9004 162.5px,#218e03 301.5px,#5d8500 311.5px,#896600 317.5px,#ba2c00 325.5px,#cd0100 334.5px,#e14500 367.5px,#ee9c00 397.5px,#f0aa00 405.5px,#f0aa00 416.5px,#ee9c00 423.5px,#ea8600 428.5px,#d93100 441.5px,#cf0b00 449.5px,#cd0100 453.5px,#cb0500 454.5px,#488901 455.5px,#518800 481.5px)"></i><i style="background:linear-gradient(#0e9004 0.5px,#0e9004 162.5px,#218e03 297.5px,#5d8500 308.5px,#8e6200 315.5px,#bd2a00 323.5px,#cd0100 332.5px,#e14600 367.5px,#f0aa00 406.5px,#f0ab00 417.5px,#ed9a00 425.5px,#ea8300 430.5px,#da3300 442.5px,#cd0000 454.5px,#cc0300 455.5px,#488901 456.5px,#518800 481.5px)"></i><i style="background:linear-gradient(#0e9004 0.5px,#0e9004 162.5px,#218e03 297.5px,#5e8400 308.5px,#8f6000 315.5px,#be2800 323.5px,#cd0100 332.5px,#e14700 367.5px,#f0ab00 405.5px,#f0ab00 417.5px,#ee9c00 424.5px,#ea8500 429.5px,#db3500 441.5px,#cd0100 453.5px,#cc0200 454.5px,#488901 455.5px,#518800 481.5px)"></i><i style="background:linear-gradient(#0e9004 0.5px,#308c02 93.5px,#418a01 192.5px,#5a8700 242.5px,#787200 292.5px,#717700 308.5px,#8c6400 312.5px,#be2700 321.5px,#cd0100 330.5px,#e14600 366.5px,#f0ab00 406.5px,#f0ab00 418.5px,#ee9c00 425.5px,#ea8600 430.5px,#db3500 442.5px,#cd0100 454.5px,#cc0200 455.5px,#488901 456.5px,#518800 481.5px)"></i><i style="background:linear-gradient(#0e9004 0.5px,#308c02 93.5px,#418a01 193.5px,#5a8700 243.5px,#787200 292.5px,#707700 311.5px,#8e6100 316.5px,#be2800 324.5px,#cc0100 332.5px,#e14600 367.5px,#ee9d00 398.5px,#f0ac00 406.5px,#f0ac00 417.5px,#ed9b00 425.5px,#ea8300 430.5px,#da3300 442.5px,#cd0000 454.5px,#cc0400 455.5px,#488901 456.5px,#518800 481.5px)"></i><i style="background:linear-gradient(#0e9004 0.5px,#0e9004 162.5px,#208e03 293.5px,#5d8500 304.5px,#8d6300 311.5px,#bb2c00 319.5px,#cd0100 328.5px,#e14500 364.5px,#ee9e00 397.5px,#f0ac00 405.5px,#f0ac00 416.5px,#ee9e00 423.5px,#ea8800 428.5px,#d93200 441.5px,#cd0100 453.5px,#cb0400 454.5px,#488901 455.5px,#518800 481.5px)"></i><i style="background:linear-gradient(#0e9004 0.5px,#0e9004 162.5px,#218e03 299.5px,#5b8700 309.5px,#8d6300 316.5px,#bd2900 324.5px,#cd0100 333.5px,#e14600 367.5px,#ee9e00 398.5px,#f0ad00 406.5px,#f0ad00 417.5px,#ee9e00 424.5px,#ea8800 429.5px,#d93200 442.5px,#cd0100 454.5px,#cb0400 455.5px,#488901 456.5px,#518800 481.5px)"></i><i style="background:linear-gradient(#0e9004 0.5px,#0e9004 162.5px,#218e03 302.5px,#5d8500 312.5px,#896600 318.5px,#bb2c00 326.5px,#cd0100 335.5px,#e14500 368.5px,#ee9f00 399.5px,#f1ad00 407.5px,#f0ad00 418.5px,#ed9b00 426.5px,#ea8200 431.5px,#dd3c00 441.5px,#cd0200 454.5px,#cb0500 456.5px,#498901 457.5px,#518800 481.5px)"></i><i style="background:linear-gradient(#0e9004 0.5px,#0e9004 162.5px,#208e03 291.5px,#5e8400 302.5px,#8d6300 309.5px,#ba2d00 317.5px,#cd0100 327.5px,#e14600 363.5px,#f1ae00 405.5px,#f1ad00 416.5px,#ee9c00 424.5px,#eb8900 428.5px,#da3200 441.5px,#cd0000 453.5px,#cb0400 454.5px,#488901 455.5px,#518800 481.5px)"></i><i style="background:linear-gradient(#0e9004 0.5px,#0e9004 162.5px,#208e03 287.5px,#5a8700 298.5px,#8e6200 306.5px,#be2800 315.5px,#cd0000 324.5px,#e14600 362.5px,#f1ae00 405.5px,#f1ad00 417.5px,#ee9e00 424.5px,#ea8600 429.5px,#db3500 441.5px,#cd0100 453.5px,#cc0300 454.5px,#488901 455.5px,#518800 481.5px)"></i><i style="background:linear-gradient(#0e9004 0.5px,#0e9004 162.5px,#218e03 298.5px,#598700 308.5px,#8b6500 315.5px,#bc2b00 323.5px,#cd0100 332.5px,#e14600 366.5px,#f1ae00 405.5px,#f1ae00 416.5px,#ee9e00 424.5px,#ea8600 429.5px,#da3400 441.5px,#cd0000 453.5px,#cc0300 454.5px,#488901 455.5px,#518800 481.5px)"></i><i style="background:linear-gradient(#0e9004 0.5px,#0e9004 162.5px,#218e03 306.5px,#5d8500 315.5px,#8c6400 321.5px,#ba2d00 328.5px,#cd0100 336.5px,#e14600 368.5px,#ee9f00 397.5px,#f1af00 405.5px,#f1ae00 416.5px,#eea000 423.5px,#eb8900 428.5px,#db3700 440.5px,#cd0100 452.5px,#cd0100 453.5px,#488901 454.5px,#518800 481.5px)"></i><i style="background:linear-gradient(#0e9004 0.5px,#0e9004 162.5px,#208e03 292.5px,#5f8400 303.5px,#8e6200 310.5px,#bb2c00 318.5px,#cd0100 328.5px,#e14600 364.5px,#f1af00 406.5px,#f1af00 418.5px,#eea000 425.5px,#eb8900 430.5px,#db3700 442.5px,#cd0100 454.5px,#cd0100 455.5px,#488901 456.5px,#518800 481.5px)"></i><i style="background:linear-gradient(#0e9004 0.5px,#0e9004 162.5px,#208e03 291.5px,#5f8400 302.5px,#8d6300 309.5px,#be2700 318.5px,#cd0100 327.5px,#e14600 364.5px,#f1b000 407.5px,#f1af00 418.5px,#ee9e00 426.5px,#ea8500 431.5px,#da3300 443.5px,#cd0000 455.5px,#cc0400 456.5px,#498901 457.5px,#518800 481.5px)"></i><i style="background:linear-gradient(#0e9004 0.5px,#0e9004 162.5px,#218e03 297.5px,#5f8400 308.5px,#8a6600 314.5px,#be2700 323.5px,#cd0000 331.5px,#e14600 366.5px,#f1af00 406.5px,#f1af00 418.5px,#eea000 425.5px,#eb8a00 430.5px,#db3700 442.5px,#cd0100 454.5px,#cc0200 455.5px,#488901 456.5px,#518800 481.5px)"></i><i style="background:linear-gradient(#0e9004 0.5px,#0e9004 162.5px,#208e03 292.5px,#5e8400 303.5px,#8d6200 310.5px,#bb2c00 318.5px,#cd0100 327.5px,#e14700 364.5px,#f1b000 406.5px,#f1af00 418.5px,#ee9f00 425.5px,#ea8700 430.5px,#db3500 442.5px,#cd0000 454.5px,#cc0300 455.5px,#488901 456.5px,#518800 481.5px)"></i><i style="background:linear-gradient(#0e9004 0.5px,#0e9004 162.5px,#208e03 293.5px,#5e8400 304.5px,#8e6200 311.5px,#bc2a00 319.5px,#cd0000 328.5px,#e14700 364.5px,#f1b100 406.5px,#f1b100 417.5px,#ee9f00 425.5px,#ea8600 430.5px,#da3400 442.5px,#cd0000 454.5px,#cc0400 455.5px,#488901 456.5px,#518800 481.5px)"></i><i style="background:linear-gradient(#0e9004 0.5px,#0e9004 162.5px,#218e03 294.5px,#5c8600 304.5px,#8c6400 311.5px,#bb2c00 319.5px,#cd0100 328.5px,#e14600 364.5px,#f1b100 406.5px,#f1b000 418.5px,#eea000 425.5px,#ea8800 430.5px,#db3500 442.5px,#cd0100 454.5px,#cc0300 455.5px,#488901 456.5px,#518800 481.5px)"></i><i style="background:linear-gradient(#0e9004 0.5px,#0e9004 162.5px,#218e03 297.5px,#5d8500 307.5px,#8f6100 314.5px,#be2700 322.5px,#cd0000 330.5px,#e14700 365.5px,#f1b100 405.5px,#f1b100 417.5px,#efa100 424.5px,#eb8a00 429.5px,#db3700 441.5px,#cd0100 453.5px,#cc0200 454.5px,#488901 455.5px,#518800 481.5px)"></i><i style="background:linear-gradient(#0e9004 0.5px,#5a8700 166.5px,#836a00 262.5px,#8d6300 292.5px,#846a00 309.5px,#be2800 319.5px,#cd0100 327.5px,#e14600 362.5px,#f0ad00 399.5px,#f3bb00 407.5px,#f3ba00 418.5px,#f0ab00 425.5px,#eb8e00 431.5px,#db3600 443.5px,#cd0000 455.5px,#cc0400 456.5px,#498901 457.5px,#518800 481.5px)"></i><i style="background:linear-gradient(#288d03 0.5px,#5a8700 62.5px,#8c6400 117.5px,#be2800 192.5px,#cd0000 292.5px,#c51500 321.5px,#cd0100 325.5px,#e14600 359.5px,#f2b800 400.5px,#f4c500 408.5px,#f4c300 419.5px,#f1b000 426.5px,#ec9000 432.5px,#dc3900 443.5px,#cd0100 455.5px,#cc0300 456.5px,#498901 457.5px,#518800 481.5px)"></i><i style="background:linear-gradient(#288d03 0.5px,#5a8700 62.5px,#8c6400 117.5px,#be2800 192.5px,#cd0000 292.5px,#c71100 314.5px,#cd0000 318.5px,#e14600 355.5px,#f3b900 400.5px,#f5c500 408.5px,#f4c300 419.5px,#f1b000 426.5px,#ec9000 432.5px,#dc3900 443.5px,#cd0000 455.5px,#cc0300 456.5px,#498901 457.5px,#518800 481.5px)"></i><i style="background:linear-gradient(#0e9004 0.5px,#0e9004 40.5px,#5b8600 282.5px,#8e6100 291.5px,#be2700 301.5px,#cd0000 311.5px,#e14600 353.5px,#f2b800 405.5px,#f2b800 417.5px,#f0a900 424.5px,#eb8c00 430.5px,#da3500 442.5px,#d01000 449.5px,#cd0000 454.5px,#cb0400 455.5px,#488901 456.5px,#518800 481.5px)"></i><i style="background:linear-gradient(#0e9004 0.5px,#0e9004 162.5px,#1f8e03 262.5px,#5d8500 276.5px,#8d6200 285.5px,#bb2c00 295.5px,#cd0100 307.5px,#e14600 352.5px,#f1b300 405.5px,#f2b400 417.5px,#efa200 425.5px,#eb8b00 430.5px,#db3600 442.5px,#cd0100 454.5px,#cc0300 455.5px,#488901 456.5px,#518800 481.5px)"></i><i style="background:linear-gradient(#0e9004 0.5px,#0e9004 162.5px,#1d8e03 251.5px,#5d8500 266.5px,#8a6500 275.5px,#be2900 287.5px,#cd0000 299.5px,#e14600 348.5px,#f2b400 405.5px,#f2b400 417.5px,#efa200 425.5px,#eb8a00 430.5px,#db3500 442.5px,#cd0000 454.5px,#cc0300 455.5px,#488901 456.5px,#518800 481.5px)"></i><i style="background:linear-gradient(#0e9004 0.5px,#498901 192.5px,#5b8700 222.5px,#7d6f00 271.5px,#bc2a00 286.5px,#cd0100 299.5px,#e14600 348.5px,#f1b300 405.5px,#f2b500 418.5px,#efa500 426.5px,#ea8700 432.5px,#dc3900 443.5px,#cd0200 455.5px,#cd0100 456.5px,#697c00 457.5px,#648000 481.5px)"></i><i style="background:linear-gradient(#0e9004 0.5px,#498901 192.5px,#5b8700 222.5px,#7a7000 267.5px,#be2900 283.5px,#cd0100 295.5px,#e14700 346.5px,#f2b400 404.5px,#f2b500 417.5px,#efa400 425.5px,#eb8d00 430.5px,#db3700 442.5px,#cd0100 454.5px,#cc0200 455.5px,#697c00 456.5px,#648000 481.5px)"></i><i style="background:linear-gradient(#528800 0.5px,#8b6400 39.5px,#be2800 79.5px,#cd0000 113.5px,#d82d00 193.5px,#e14600 292.5px,#dc3a00 327.5px,#f6cf00 398.5px,#f8d900 412.5px,#f7d300 419.5px,#f3bd00 425.5px,#eb8f00 432.5px,#e04400 440.5px,#cf0a00 450.5px,#cd0000 468.5px,#c80d00 481.5px)"></i><i style="background:linear-gradient(#a44700 0.5px,#be2800 25.5px,#cd0000 73.5px,#e45b00 292.5px,#e14900 324.5px,#f7d200 400.5px,#f8da00 413.5px,#f7d300 421.5px,#f3bd00 427.5px,#eb8e00 434.5px,#e04300 442.5px,#d01300 450.5px,#ce0300 481.5px)"></i><i style="background:linear-gradient(#a44700 0.5px,#be2800 25.5px,#cd0000 73.5px,#e45b00 292.5px,#e24a00 322.5px,#f7d200 401.5px,#f8db00 414.5px,#f7d400 422.5px,#f3be00 428.5px,#ec9000 435.5px,#e04500 443.5px,#d01100 452.5px,#ce0300 481.5px)"></i><i style="background:linear-gradient(#1f8e03 0.5px,#5a8700 79.5px,#8c6400 126.5px,#c12000 192.5px,#cd0000 272.5px,#cd0200 297.5px,#e14600 341.5px,#f4c000 400.5px,#f5cb00 410.5px,#f5c800 419.5px,#f2b400 426.5px,#eb8b00 433.5px,#dc3900 443.5px,#cd0000 455.5px,#cc0300 456.5px,#a14b00 457.5px,#950 481.5px)"></i><i style="background:linear-gradient(#0e9004 0.5px,#498901 192.5px,#5b8700 222.5px,#7f6d00 273.5px,#bd2900 287.5px,#cd0000 299.5px,#e14600 347.5px,#f2b700 405.5px,#f2b800 417.5px,#f0a900 425.5px,#eb8c00 431.5px,#db3500 443.5px,#cd0000 455.5px,#cc0400 456.5px,#697c00 457.5px,#648000 481.5px)"></i><i style="background:linear-gradient(#0e9004 0.5px,#498901 192.5px,#5b8700 222.5px,#7c7000 269.5px,#bc2a00 284.5px,#cd0100 296.5px,#e14600 345.5px,#f2b700 404.5px,#f3b900 416.5px,#f0ab00 424.5px,#ea8800 431.5px,#dc3700 442.5px,#cd0100 454.5px,#cc0200 455.5px,#697c00 456.5px,#648000 481.5px)"></i><i style="background:linear-gradient(#0e9004 0.5px,#148f04 22.5px,#5a8700 131.5px,#856900 192.5px,#935b00 274.5px,#be2700 285.5px,#cd0100 296.5px,#e14500 344.5px,#f2b700 402.5px,#f3b900 415.5px,#f0a900 423.5px,#eb8c00 429.5px,#da3400 441.5px,#d01000 448.5px,#cd0100 453.5px,#6a7c00 454.5px,#648000 481.5px)"></i><i style="background:linear-gradient(#1f8e03 0.5px,#5a8700 54.5px,#8c6300 93.5px,#be2800 143.5px,#cd0000 193.5px,#ce0400 300.5px,#e14600 345.5px,#f3ba00 404.5px,#f3b900 416.5px,#f0aa00 423.5px,#eb8d00 429.5px,#db3500 441.5px,#cd0000 453.5px,#cb0400 454.5px,#6c7a00 455.5px,#648000 481.5px)"></i><i style="background:linear-gradient(#1f8e03 0.5px,#5a8700 54.5px,#8c6300 93.5px,#be2800 143.5px,#cd0000 193.5px,#ce0400 299.5px,#e14600 345.5px,#f3ba00 404.5px,#f3ba00 416.5px,#f0a800 424.5px,#eb8a00 430.5px,#dc3800 441.5px,#cd0100 453.5px,#cc0200 454.5px,#6c7a00 455.5px,#648000 481.5px)"></i><i style="background:linear-gradient(#1f8e03 0.5px,#5a8700 54.5px,#8c6300 93.5px,#be2800 143.5px,#cd0000 193.5px,#ce0500 297.5px,#e14600 343.5px,#f3bb00 405.5px,#f3bb00 417.5px,#f0a900 425.5px,#eb8a00 431.5px,#dc3700 442.5px,#cd0100 454.5px,#cc0300 455.5px,#6b7b00 456.5px,#648000 481.5px)"></i><i style="background:linear-gradient(#1f8e03 0.5px,#5a8700 54.5px,#8c6300 93.5px,#be2800 143.5px,#cd0000 193.5px,#ce0400 301.5px,#e14600 346.5px,#f3bb00 405.5px,#f3bc00 417.5px,#f0aa00 425.5px,#eb8c00 431.5px,#dc3a00 442.5px,#cd0100 454.5px,#cc0100 455.5px,#6b7b00 456.5px,#648000 481.5px)"></i><i style="background:linear-gradient(#0e9004 0.5px,#148f04 22.5px,#5a8700 131.5px,#856900 192.5px,#8e6100 241.5px,#bf2700 255.5px,#cd0000 268.5px,#e14600 324.5px,#f6cc00 404.5px,#f6ce00 417.5px,#f3bc00 425.5px,#eb8f00 433.5px,#dd3b00 443.5px,#d01300 450.5px,#cd0100 455.5px,#cc0300 456.5px,#697c00 457.5px,#648000 481.5px)"></i><i style="background:linear-gradient(#0e9004 0.5px,#498901 192.5px,#608300 229.5px,#8d6200 240.5px,#be2800 253.5px,#cd0100 267.5px,#e14700 323.5px,#f6cd00 403.5px,#f6cf00 416.5px,#f3be00 424.5px,#ec9000 432.5px,#dd3c00 442.5px,#cd0100 454.5px,#cc0200 455.5px,#697c00 456.5px,#648000 481.5px)"></i><i style="background:linear-gradient(#0e9004 0.5px,#498901 192.5px,#6b7b00 245.5px,#8b6500 252.5px,#be2800 265.5px,#cd0000 278.5px,#e14600 331.5px,#f5c600 404.5px,#f5c900 417.5px,#f2b800 425.5px,#eb8c00 433.5px,#dd3a00 443.5px,#cd0100 455.5px,#cc0300 456.5px,#697c00 457.5px,#648000 481.5px)"></i><i style="background:linear-gradient(#0e9004 0.5px,#498901 192.5px,#5b8700 222.5px,#7c6f00 269.5px,#be2700 284.5px,#cd0000 295.5px,#e14600 343.5px,#f3bd00 404.5px,#f3be00 416.5px,#f1af00 424.5px,#eb8b00 431.5px,#dc3800 442.5px,#cd0100 454.5px,#cc0300 455.5px,#697c00 456.5px,#648000 481.5px)"></i><i style="background:linear-gradient(#0e9004 0.5px,#498901 192.5px,#5b8700 222.5px,#806c00 276.5px,#bd2900 289.5px,#cd0000 300.5px,#e14700 346.5px,#f3be00 404.5px,#f3bf00 416.5px,#f1ae00 424.5px,#eb8900 431.5px,#db3600 442.5px,#d01000 449.5px,#cd0000 454.5px,#6a7c00 455.5px,#648000 481.5px)"></i><i style="background:linear-gradient(#109004 0.5px,#458901 92.5px,#5a8700 113.5px,#8c6400 155.5px,#b03900 192.5px,#be2800 281.5px,#cd0000 293.5px,#e14600 342.5px,#f3be00 405.5px,#f4c000 417.5px,#f1af00 425.5px,#eb8c00 432.5px,#dc3700 443.5px,#cd0000 455.5px,#cc0300 456.5px,#697c00 457.5px,#648000 481.5px)"></i><i style="background:linear-gradient(#1f8e03 0.5px,#648000 92.5px,#8d6300 118.5px,#be2800 155.5px,#cd0000 193.5px,#ce0400 298.5px,#e14600 343.5px,#f4bf00 404.5px,#f4c000 416.5px,#f1ae00 424.5px,#eb8900 431.5px,#dd3b00 441.5px,#cd0200 453.5px,#cd0100 454.5px,#6c7a00 455.5px,#648000 481.5px)"></i><i style="background:linear-gradient(#1f8e03 0.5px,#648000 92.5px,#8d6300 118.5px,#be2800 155.5px,#cd0000 193.5px,#ce0600 293.5px,#e14600 339.5px,#f4c000 403.5px,#f4c000 415.5px,#f0ad00 423.5px,#eb8d00 429.5px,#dc3800 440.5px,#cd0100 452.5px,#cc0300 453.5px,#6d7a00 454.5px,#648000 481.5px)"></i><i style="background:linear-gradient(#1f8e03 0.5px,#648000 92.5px,#8d6300 118.5px,#be2800 155.5px,#cd0000 193.5px,#ce0500 280.5px,#e14600 329.5px,#f6cc00 404.5px,#f6cb00 417.5px,#f3b900 424.5px,#eb8b00 432.5px,#dc3800 442.5px,#d01100 449.5px,#cd0100 454.5px,#6c7a00 455.5px,#648000 481.5px)"></i><i style="background:linear-gradient(#1f8e03 0.5px,#648000 92.5px,#8d6300 118.5px,#be2800 155.5px,#cd0000 193.5px,#ce0500 283.5px,#e14600 331.5px,#f6cc00 405.5px,#f6cb00 418.5px,#f3b900 425.5px,#eb8a00 433.5px,#de3e00 442.5px,#cd0200 454.5px,#cd0100 455.5px,#6b7b00 456.5px,#648000 481.5px)"></i><i style="background:linear-gradient(#1f8e03 0.5px,#648000 92.5px,#8d6300 118.5px,#be2800 155.5px,#cd0000 193.5px,#ce0500 279.5px,#e14700 328.5px,#f6cc00 402.5px,#f6cc00 415.5px,#f3bc00 422.5px,#eb8e00 430.5px,#dd3a00 440.5px,#d01300 447.5px,#cd0000 452.5px,#cc0300 453.5px,#6d7a00 454.5px,#648000 481.5px)"></i><i style="background:linear-gradient(#1f8e03 0.5px,#648000 92.5px,#8d6300 118.5px,#be2800 155.5px,#cd0000 193.5px,#ce0500 279.5px,#e14600 328.5px,#f6cc00 404.5px,#f6cd00 417.5px,#f3bd00 424.5px,#ec8f00 432.5px,#dd3c00 442.5px,#cd0100 454.5px,#cc0300 455.5px,#6b7b00 456.5px,#648000 481.5px)"></i><i style="background:linear-gradient(#0e9004 0.5px,#308c02 92.5px,#5a8700 155.5px,#8c6400 212.5px,#b63200 263.5px,#cd0100 278.5px,#e14600 329.5px,#f6cb00 403.5px,#f6ce00 416.5px,#f3bd00 424.5px,#ec9000 432.5px,#dd3c00 442.5px,#cd0100 454.5px,#cc0200 455.5px,#697c00 456.5px,#648000 481.5px)"></i><i style="background:linear-gradient(#0e9004 0.5px,#308c02 92.5px,#5a8700 155.5px,#8c6400 212.5px,#b73000 264.5px,#cd0100 279.5px,#e14700 330.5px,#f6cd00 403.5px,#f6cd00 416.5px,#f3be00 423.5px,#ec9100 431.5px,#de3d00 441.5px,#cd0100 453.5px,#cc0200 454.5px,#6a7c00 455.5px,#648000 481.5px)"></i><i style="background:linear-gradient(#0e9004 0.5px,#308c02 92.5px,#5a8700 155.5px,#8c6400 212.5px,#be2700 274.5px,#cd0100 286.5px,#e14700 335.5px,#f5c800 403.5px,#f5c900 416.5px,#f3b900 423.5px,#eb8d00 431.5px,#dd3b00 441.5px,#cd0100 453.5px,#cc0200 454.5px,#6a7c00 455.5px,#648000 481.5px)"></i><i style="background:linear-gradient(#0e9004 0.5px,#308c02 92.5px,#5a8700 155.5px,#8c6400 212.5px,#be2800 272.5px,#c31b00 292.5px,#cd0000 300.5px,#e14700 345.5px,#f4c200 404.5px,#f4c300 416.5px,#f1b200 424.5px,#eb8e00 431.5px,#dc3800 442.5px,#cd0000 454.5px,#cc0300 455.5px,#697c00 456.5px,#648000 481.5px)"></i><i style="background:linear-gradient(#0e9004 0.5px,#308c02 92.5px,#5a8700 155.5px,#8c6400 212.5px,#be2800 272.5px,#c11f00 286.5px,#cd0100 295.5px,#e14600 342.5px,#f4c200 404.5px,#f4c300 416.5px,#f1b200 424.5px,#eb8e00 431.5px,#dc3800 442.5px,#cd0000 454.5px,#cc0400 455.5px,#697c00 456.5px,#648000 481.5px)"></i><i style="background:linear-gradient(#0e9004 0.5px,#498901 192.5px,#5b8700 222.5px,#7b7000 267.5px,#be2800 282.5px,#cd0100 294.5px,#e14500 341.5px,#f4c200 405.5px,#f4c400 417.5px,#f2b400 425.5px,#eb8a00 433.5px,#dd3b00 443.5px,#cd0100 455.5px,#cc0200 456.5px,#697c00 457.5px,#648000 481.5px)"></i><i style="background:linear-gradient(#308c02 0.5px,#5b8600 39.5px,#9c5100 92.5px,#be2900 132.5px,#cd0000 193.5px,#d01300 293.5px,#e14700 332.5px,#f6cc00 406.5px,#f6cc00 418.5px,#f3ba00 425.5px,#eb8c00 433.5px,#dc3900 443.5px,#d01100 450.5px,#cd0000 455.5px,#707700 456.5px,#648000 481.5px)"></i><i style="background:linear-gradient(#308c02 0.5px,#5b8600 39.5px,#9c5100 92.5px,#be2900 132.5px,#cd0000 193.5px,#d00f00 277.5px,#e14700 321.5px,#f7d500 404.5px,#f7d400 416.5px,#f4c400 423.5px,#eb8e00 432.5px,#de3e00 441.5px,#cd0100 453.5px,#cc0200 454.5px,#727600 455.5px,#648000 481.5px)"></i><i style="background:linear-gradient(#308c02 0.5px,#5b8600 39.5px,#9c5100 92.5px,#be2900 132.5px,#cd0000 193.5px,#d00f00 278.5px,#e14600 321.5px,#f7d500 405.5px,#f7d400 417.5px,#f4c300 424.5px,#ec9300 432.5px,#dd3b00 442.5px,#d01300 449.5px,#cd0000 454.5px,#727600 455.5px,#648000 481.5px)"></i><i style="background:linear-gradient(#308c02 0.5px,#5b8600 39.5px,#9c5100 92.5px,#be2900 132.5px,#cd0000 193.5px,#d00f00 277.5px,#e14600 321.5px,#f7d600 406.5px,#f7d500 418.5px,#f4c400 425.5px,#eb8d00 434.5px,#de3d00 443.5px,#d01400 450.5px,#cd0100 455.5px,#cc0300 456.5px,#6f7800 457.5px,#648000 481.5px)"></i><i style="background:linear-gradient(#0e9004 0.5px,#498901 192.5px,#628200 232.5px,#8d6300 242.5px,#be2700 255.5px,#cd0100 268.5px,#e14600 322.5px,#f7d400 405.5px,#f8d600 418.5px,#f4c400 426.5px,#eb8d00 435.5px,#de3d00 444.5px,#d01400 451.5px,#cd0100 456.5px,#cc0300 457.5px,#697d00 458.5px,#648000 481.5px)"></i><i style="background:linear-gradient(#0e9004 0.5px,#168f04 29.5px,#5a8700 145.5px,#905f00 237.5px,#bd2900 249.5px,#cd0100 263.5px,#e14600 318.5px,#f7d500 404.5px,#f8d600 417.5px,#f4c400 425.5px,#eb8c00 434.5px,#dd3c00 443.5px,#d01300 450.5px,#cd0000 455.5px,#697c00 456.5px,#648000 481.5px)"></i><i style="background:linear-gradient(#1f8e03 0.5px,#5a8700 65.5px,#8c6400 109.5px,#be2800 159.5px,#cd0000 218.5px,#d01200 292.5px,#cf0e00 304.5px,#e14600 342.5px,#f4c500 405.5px,#f5c600 417.5px,#f2b300 425.5px,#eb8e00 432.5px,#db3700 443.5px,#d01000 450.5px,#cd0100 455.5px,#707700 456.5px,#648000 481.5px)"></i><i style="background:linear-gradient(#1f8e03 0.5px,#5a8700 65.5px,#8c6400 109.5px,#be2800 159.5px,#cd0000 218.5px,#cf0f00 302.5px,#e14700 341.5px,#f5c500 406.5px,#f5c600 418.5px,#f2b500 426.5px,#ec8f00 433.5px,#dc3800 444.5px,#cd0000 456.5px,#6f7800 457.5px,#648000 481.5px)"></i><i style="background:linear-gradient(#0e9004 0.5px,#5b8700 112.5px,#9f4d00 192.5px,#bd2900 264.5px,#cd0100 277.5px,#e14600 329.5px,#f6cc00 404.5px,#f6cd00 417.5px,#f3be00 424.5px,#ec9200 432.5px,#de3d00 442.5px,#cd0200 454.5px,#cc0100 455.5px,#697c00 456.5px,#648000 481.5px)"></i><i style="background:linear-gradient(#c80d00 0.5px,#cd0000 19.5px,#e66900 292.5px,#e35400 326.5px,#f8d700 399.5px,#f9e100 411.5px,#f9dc00 419.5px,#f4c500 426.5px,#eb8e00 434.5px,#df4100 442.5px,#d01200 450.5px,#cd0000 481.5px)"></i><i style="background:linear-gradient(#cd0000 0.5px,#e14600 132.5px,#e77000 193.5px,#eb8c00 292.5px,#e77200 328.5px,#f8d700 398.5px,#f9df00 409.5px,#f8da00 418.5px,#f4c400 425.5px,#ed9500 432.5px,#e14900 440.5px,#d62800 445.5px,#d01200 481.5px)"></i><i style="background:linear-gradient(#cd0000 0.5px,#e14600 132.5px,#e77000 193.5px,#eb8c00 292.5px,#e77200 328.5px,#f8d600 399.5px,#f9dd00 410.5px,#f8d800 419.5px,#f4c400 425.5px,#ec9000 433.5px,#e04400 441.5px,#d52700 446.5px,#d01200 481.5px)"></i><i style="background:linear-gradient(#cd0000 0.5px,#e14600 132.5px,#e77000 193.5px,#eb8c00 292.5px,#e77100 329.5px,#f7d400 400.5px,#f8db00 411.5px,#f8d700 420.5px,#f4c100 427.5px,#ec9400 434.5px,#e14900 442.5px,#d62800 447.5px,#d01200 481.5px)"></i><i style="background:linear-gradient(#c80d00 0.5px,#cd0000 19.5px,#e66900 292.5px,#e45900 317.5px,#f7d200 397.5px,#f8d900 409.5px,#f7d300 418.5px,#f3bd00 424.5px,#ec8f00 431.5px,#e14500 439.5px,#d01400 447.5px,#cd0000 481.5px)"></i><i style="background:linear-gradient(#648000 0.5px,#9f4d00 93.5px,#be2700 118.5px,#cd0000 155.5px,#d01200 193.5px,#d52500 301.5px,#e14700 328.5px,#f5c600 399.5px,#f6cc00 411.5px,#f5c500 419.5px,#f1af00 425.5px,#eb8a00 431.5px,#e04500 439.5px,#cd0200 452.5px,#cd0000 453.5px,#af3a00 454.5px,#a14b00 481.5px)"></i><i style="background:linear-gradient(#308c02 0.5px,#5b8600 39.5px,#8c6400 77.5px,#bd2900 117.5px,#cd0000 155.5px,#d01200 193.5px,#d52700 298.5px,#e14600 324.5px,#f5c800 401.5px,#f5c900 414.5px,#f2b800 421.5px,#eb8c00 429.5px,#dc3a00 439.5px,#cd0100 451.5px,#cc0300 452.5px,#8d6300 453.5px,#787200 481.5px)"></i><i style="background:linear-gradient(#0e9004 0.5px,#408a01 92.5px,#5a8700 123.5px,#8c6400 173.5px,#be2800 232.5px,#cd0100 292.5px,#e14600 342.5px,#f1b200 400.5px,#f2b500 414.5px,#efa500 422.5px,#ea8800 428.5px,#dc3800 439.5px,#cd0100 451.5px,#cc0100 452.5px,#8d6300 453.5px,#787200 481.5px)"></i><i style="background:linear-gradient(#079218 0.5px,#0e9004 162.5px,#1d8e03 249.5px,#5a8700 264.5px,#8c6400 274.5px,#be2700 286.5px,#cd0100 298.5px,#e14700 347.5px,#f1b100 402.5px,#f1b200 414.5px,#efa300 422.5px,#eb8c00 427.5px,#dc3800 439.5px,#cd0200 451.5px,#cd0100 452.5px,#398b02 453.5px,#498901 481.5px)"></i><i style="background:linear-gradient(#079218 0.5px,#0e9004 162.5px,#1f8e03 267.5px,#5c8600 280.5px,#8e6100 289.5px,#be2800 299.5px,#cd0100 310.5px,#e14600 353.5px,#f0ad00 401.5px,#f1ae00 413.5px,#ee9d00 421.5px,#ea8600 426.5px,#da3400 438.5px,#cd0100 450.5px,#cc0300 451.5px,#388b02 452.5px,#498901 481.5px)"></i><i style="background:linear-gradient(#079218 0.5px,#0e9004 162.5px,#1f8e03 270.5px,#5d8500 283.5px,#8b6500 291.5px,#bb2c00 301.5px,#cd0000 312.5px,#e14700 356.5px,#f0a900 402.5px,#f0a900 414.5px,#ed9900 421.5px,#ea8200 426.5px,#da3300 438.5px,#cd0000 450.5px,#cc0300 451.5px,#388b02 452.5px,#498901 481.5px)"></i><i style="background:linear-gradient(#079218 0.5px,#0e9004 162.5px,#208e03 281.5px,#598700 292.5px,#8a6500 300.5px,#be2800 310.5px,#cd0100 320.5px,#e14600 360.5px,#efa500 401.5px,#efa500 413.5px,#ed9600 420.5px,#da3200 437.5px,#cd0000 449.5px,#cc0300 450.5px,#388b02 451.5px,#498901 481.5px)"></i><i style="background:linear-gradient(#079218 0.5px,#0e9004 162.5px,#208e03 283.5px,#598700 294.5px,#8b6500 302.5px,#be2700 312.5px,#cd0100 321.5px,#e14600 361.5px,#eea100 400.5px,#eea100 411.5px,#ec9100 419.5px,#d93000 436.5px,#cd0100 448.5px,#cb0400 449.5px,#378b02 450.5px,#498901 481.5px)"></i><i style="background:linear-gradient(#079218 0.5px,#0e9004 162.5px,#208e03 293.5px,#5c8600 304.5px,#8b6500 311.5px,#be2800 320.5px,#cd0000 329.5px,#e14700 366.5px,#eb8c00 391.5px,#ee9d00 400.5px,#ee9d00 411.5px,#eb8d00 419.5px,#d82f00 436.5px,#cd0100 448.5px,#cb0500 449.5px,#378b02 450.5px,#498901 481.5px)"></i><i style="background:linear-gradient(#079218 0.5px,#0e9004 162.5px,#218e03 297.5px,#5a8700 307.5px,#8b6500 314.5px,#be2700 323.5px,#cd0100 331.5px,#e14700 367.5px,#ed9800 398.5px,#ed9900 409.5px,#eb8d00 416.5px,#d82f00 434.5px,#cd0000 446.5px,#cc0400 447.5px,#368b02 448.5px,#498901 481.5px)"></i><i style="background:linear-gradient(#079218 0.5px,#0e9004 162.5px,#208e03 287.5px,#5d8500 299.5px,#8e6100 307.5px,#be2800 316.5px,#cd0100 326.5px,#e14700 365.5px,#ec9200 396.5px,#ec9200 407.5px,#ea8700 414.5px,#d62900 433.5px,#cd0000 444.5px,#cc0400 445.5px,#358b02 446.5px,#498901 481.5px)"></i><i style="background:linear-gradient(#079218 0.5px,#0e9004 162.5px,#218e03 302.5px,#5b8600 312.5px,#8d6300 319.5px,#bc2a00 327.5px,#cd0100 336.5px,#e14600 370.5px,#eb8900 395.5px,#eb8a00 406.5px,#e97d00 413.5px,#d01400 436.5px,#cd0100 442.5px,#cb0500 444.5px,#348b02 445.5px,#498901 481.5px)"></i><i style="background:linear-gradient(#079218 0.5px,#0e9004 162.5px,#218e03 300.5px,#5a8700 310.5px,#896600 317.5px,#bc2a00 326.5px,#cd0000 335.5px,#e14600 371.5px,#e97f00 394.5px,#e98000 404.5px,#e87600 411.5px,#cd0000 441.5px,#cb0600 443.5px,#348c02 444.5px,#498901 481.5px)"></i><i style="background:linear-gradient(#079218 0.5px,#0e9004 162.5px,#228e03 314.5px,#598700 323.5px,#8e6100 330.5px,#bb2c00 337.5px,#cd0100 345.5px,#e04500 376.5px,#e87500 394.5px,#e87700 404.5px,#e76d00 411.5px,#d01000 435.5px,#cd0100 441.5px,#ca0700 443.5px,#348c02 444.5px,#498901 481.5px)"></i><i style="background:linear-gradient(#079218 0.5px,#0e9004 162.5px,#228e03 315.5px,#5a8700 324.5px,#8f6000 331.5px,#bc2b00 338.5px,#cd0100 346.5px,#e66c00 392.5px,#e56400 409.5px,#cd0100 438.5px,#ca0700 441.5px,#328c02 442.5px,#498901 481.5px)"></i><i style="background:linear-gradient(#079218 0.5px,#0e9004 162.5px,#228e03 318.5px,#5e8400 328.5px,#8a6500 334.5px,#bc2b00 342.5px,#cc0200 350.5px,#e45e00 393.5px,#e45800 410.5px,#cd0100 439.5px,#ca0800 442.5px,#338c02 443.5px,#498901 481.5px)"></i><i style="background:linear-gradient(#079218 0.5px,#0e9004 162.5px,#228e03 312.5px,#5c8600 323.5px,#8e6100 331.5px,#be2800 340.5px,#cd0100 349.5px,#e24c00 390.5px,#e14900 407.5px,#cd0100 437.5px,#ca0900 440.5px,#328c02 441.5px,#498901 481.5px)"></i><i style="background:linear-gradient(#648000 0.5px,#a74400 92.5px,#be2800 146.5px,#cd0000 267.5px,#cd0000 309.5px,#c61100 349.5px,#cd0000 352.5px,#e14800 372.5px,#e98100 384.5px,#eb8e00 391.5px,#eb8d00 400.5px,#e98100 406.5px,#d62a00 424.5px,#cd0100 435.5px,#cb0600 437.5px,#ad3c00 438.5px,#a14b00 481.5px)"></i><i style="background:linear-gradient(#c80d00 0.5px,#cd0000 15.5px,#d21e00 93.5px,#e14600 292.5px,#d82f00 360.5px,#e14500 365.5px,#f2b700 382.5px,#f5c700 387.5px,#f5ca00 393.5px,#f4c400 401.5px,#f1ae00 407.5px,#eb8a00 413.5px,#e14500 421.5px,#d11700 429.5px,#cd0000 481.5px)"></i><i style="background:linear-gradient(#cd0000 0.5px,#e14600 93.5px,#e87700 193.5px,#ed9800 292.5px,#e56000 364.5px,#f4c400 382.5px,#f7d500 392.5px,#f6cf00 401.5px,#f3b900 407.5px,#eb8c00 414.5px,#db3600 424.5px,#d01200 481.5px)"></i><i style="background:linear-gradient(#cd0000 0.5px,#e14600 93.5px,#e87700 193.5px,#ed9800 292.5px,#e55f00 365.5px,#f3bc00 378.5px,#f6cb00 382.5px,#f6d000 388.5px,#f5cb00 396.5px,#f2b700 402.5px,#eb8c00 409.5px,#dc3800 419.5px,#d01200 481.5px)"></i><i style="background:linear-gradient(#cd0000 0.5px,#e14600 93.5px,#e87700 193.5px,#ed9800 292.5px,#e56000 364.5px,#f3ba00 378.5px,#f5c600 382.5px,#f5ca00 388.5px,#f4c400 396.5px,#f1af00 402.5px,#eb8c00 408.5px,#dc3a00 418.5px,#d01200 481.5px)"></i><i style="background:linear-gradient(#c80d00 0.5px,#cd0000 15.5px,#d21e00 93.5px,#e14600 292.5px,#d82f00 360.5px,#ee9f00 377.5px,#f1af00 382.5px,#f1b300 388.5px,#f0ac00 396.5px,#ed9900 402.5px,#e14700 414.5px,#d11800 423.5px,#cd0000 481.5px)"></i><i style="background:linear-gradient(#806c00 0.5px,#be2800 81.5px,#cd0000 181.5px,#d01200 292.5px,#ce0400 351.5px,#e66c00 375.5px,#e87800 383.5px,#e66900 397.5px,#cd0000 425.5px,#cb0600 427.5px,#c11f00 428.5px,#b13800 481.5px)"></i><i style="background:linear-gradient(#0e9004 0.5px,#0e9004 93.5px,#338c02 292.5px,#2a8d03 340.5px,#598700 346.5px,#8b6500 351.5px,#be2800 357.5px,#cd0100 363.5px,#d32000 373.5px,#d62800 380.5px,#d42300 398.5px,#cd0100 420.5px,#c90a00 426.5px,#2a8d03 427.5px,#498901 481.5px)"></i><i style="background:linear-gradient(#0e9004 0.5px,#0e9004 93.5px,#338c02 292.5px,#2c8c02 327.5px,#5b8700 335.5px,#8d6300 342.5px,#be2800 350.5px,#cd0000 358.5px,#d21f00 371.5px,#d62800 379.5px,#d42300 398.5px,#cd0000 420.5px,#c90a00 426.5px,#2a8d03 427.5px,#498901 481.5px)"></i><i style="background:linear-gradient(#0e9004 0.5px,#0e9004 93.5px,#338c02 292.5px,#2c8c02 330.5px,#5f8400 338.5px,#8c6400 344.5px,#be2700 352.5px,#cc0200 359.5px,#d62800 380.5px,#d42300 399.5px,#cd0000 421.5px,#c90b00 427.5px,#2a8d03 428.5px,#498901 481.5px)"></i><i style="background:linear-gradient(#0e9004 0.5px,#0e9004 93.5px,#338c02 292.5px,#2b8d02 334.5px,#5d8500 341.5px,#8f6100 347.5px,#b92e00 353.5px,#cc0300 360.5px,#d62800 380.5px,#d42400 398.5px,#cd0100 420.5px,#c90b00 427.5px,#2a8d03 428.5px,#498901 481.5px)"></i><i style="background:linear-gradient(#0e9004 0.5px,#0e9004 93.5px,#338c02 292.5px,#2c8c02 328.5px,#598700 336.5px,#8d6300 343.5px,#be2700 351.5px,#cd0100 359.5px,#d32000 372.5px,#d62900 380.5px,#d42400 398.5px,#cd0000 421.5px,#c90b00 427.5px,#2a8d03 428.5px,#498901 481.5px)"></i><i style="background:linear-gradient(#0e9004 0.5px,#0e9004 93.5px,#338c02 292.5px,#2c8c02 330.5px,#5c8600 338.5px,#8b6500 344.5px,#be2700 352.5px,#cc0200 359.5px,#d62900 380.5px,#d42300 399.5px,#cd0000 421.5px,#c90b00 427.5px,#2a8d03 428.5px,#498901 481.5px)"></i><i style="background:linear-gradient(#0e9004 0.5px,#0e9004 93.5px,#338c02 292.5px,#2c8c02 329.5px,#5d8500 337.5px,#8b6500 343.5px,#be2800 351.5px,#cc0300 358.5px,#d62900 380.5px,#d42400 398.5px,#cd0100 420.5px,#c90a00 426.5px,#2a8d03 427.5px,#498901 481.5px)"></i><i style="background:linear-gradient(#0e9004 0.5px,#0e9004 93.5px,#338c02 292.5px,#2c8c02 331.5px,#598700 338.5px,#8f6000 345.5px,#bd2900 352.5px,#cd0100 360.5px,#d31f00 372.5px,#d62900 380.5px,#d42400 399.5px,#cd0100 421.5px,#c90a00 427.5px,#2a8d03 428.5px,#498901 481.5px)"></i><i style="background:linear-gradient(#0e9004 0.5px,#0e9004 93.5px,#338c02 292.5px,#2c8c02 327.5px,#5e8400 335.5px,#8a6500 341.5px,#bc2a00 349.5px,#cd0100 357.5px,#d32100 371.5px,#d62a00 379.5px,#d52500 397.5px,#cd0000 420.5px,#c90b00 426.5px,#2a8d03 427.5px,#498901 481.5px)"></i><i style="background:linear-gradient(#0e9004 0.5px,#0e9004 93.5px,#338c02 292.5px,#2d8c02 324.5px,#5d8500 331.5px,#8d6300 337.5px,#bd2a00 344.5px,#cc0200 351.5px,#d93000 371.5px,#dc3900 379.5px,#d93100 397.5px,#cd0000 421.5px,#ca0900 425.5px,#298d03 426.5px,#498901 481.5px)"></i><i style="background:linear-gradient(#0e9004 0.5px,#0e9004 93.5px,#318c02 306.5px,#5d8500 315.5px,#8d6300 323.5px,#be2800 333.5px,#cd0000 343.5px,#dc3900 378.5px,#da3200 396.5px,#cd0100 420.5px,#c90900 425.5px,#298d03 426.5px,#498901 481.5px)"></i><i style="background:linear-gradient(#0e9004 0.5px,#288d03 93.5px,#5a8700 205.5px,#9c5000 292.5px,#915e00 309.5px,#be2700 321.5px,#cd0100 334.5px,#dc3900 377.5px,#da3300 396.5px,#cd0100 420.5px,#ca0900 425.5px,#368b02 426.5px,#2f8c02 436.5px,#498901 481.5px)"></i><i style="background:linear-gradient(#0e9004 0.5px,#288d03 93.5px,#5a8700 205.5px,#8c6400 268.5px,#9c5000 292.5px,#950 298.5px,#be2800 310.5px,#cd0000 326.5px,#dc3900 377.5px,#db3600 394.5px,#cd0100 421.5px,#c90a00 426.5px,#358b02 427.5px,#2f8c02 436.5px,#498901 481.5px)"></i><i style="background:linear-gradient(#0e9004 0.5px,#288d03 93.5px,#5a8700 205.5px,#9b5200 290.5px,#be2700 303.5px,#cd0100 320.5px,#dc3900 378.5px,#db3600 396.5px,#cd0000 423.5px,#ca0900 427.5px,#348b02 428.5px,#2f8c02 436.5px,#498901 481.5px)"></i><i style="background:linear-gradient(#0e9004 0.5px,#288d03 93.5px,#5a8700 205.5px,#9d5000 292.5px,#be2700 304.5px,#cd0000 321.5px,#dc3a00 378.5px,#db3600 395.5px,#cd0000 422.5px,#ca0900 426.5px,#358b02 427.5px,#2f8c02 436.5px,#498901 481.5px)"></i><i style="background:linear-gradient(#0e9004 0.5px,#288d03 93.5px,#5a8700 205.5px,#985600 285.5px,#bd2900 299.5px,#cd0000 317.5px,#dc3a00 377.5px,#db3700 394.5px,#cd0100 421.5px,#c90a00 426.5px,#358b02 427.5px,#2f8c02 436.5px,#498901 481.5px)"></i><i style="background:linear-gradient(#0e9004 0.5px,#288d03 93.5px,#5a8700 205.5px,#965800 282.5px,#be2800 301.5px,#cd0000 323.5px,#d72b00 376.5px,#d52700 396.5px,#cd0000 420.5px,#c90a00 425.5px,#368b02 426.5px,#2f8c02 436.5px,#498901 481.5px)"></i><i style="background:linear-gradient(#0e9004 0.5px,#288d03 93.5px,#5a8700 205.5px,#925c00 277.5px,#be2800 298.5px,#cd0000 321.5px,#d72b00 376.5px,#d52700 397.5px,#cd0100 420.5px,#c90a00 426.5px,#358b02 427.5px,#2f8c02 436.5px,#498901 481.5px)"></i><i style="background:linear-gradient(#0e9004 0.5px,#288d03 93.5px,#5a8700 205.5px,#915e00 275.5px,#be2800 297.5px,#cd0000 320.5px,#d72c00 376.5px,#d52700 397.5px,#cd0100 420.5px,#c90a00 426.5px,#358b02 427.5px,#2f8c02 436.5px,#498901 481.5px)"></i><i style="background:linear-gradient(#0e9004 0.5px,#288d03 93.5px,#5a8700 205.5px,#8d6300 269.5px,#bd2900 293.5px,#cd0000 318.5px,#d72c00 376.5px,#d52700 397.5px,#cd0100 420.5px,#c90a00 426.5px,#358b02 427.5px,#2f8c02 436.5px,#498901 481.5px)"></i><i style="background:linear-gradient(#0e9004 0.5px,#288d03 93.5px,#5a8700 205.5px,#905f00 274.5px,#be2900 296.5px,#cd0100 319.5px,#d72c00 375.5px,#d62700 396.5px,#cd0100 419.5px,#c90a00 425.5px,#368b02 426.5px,#2f8c02 436.5px,#498901 481.5px)"></i><i style="background:linear-gradient(#0e9004 0.5px,#288d03 93.5px,#5a8700 205.5px,#8a6600 264.5px,#be2800 291.5px,#cd0000 316.5px,#d72c00 376.5px,#d52700 397.5px,#cd0100 420.5px,#c90a00 426.5px,#358b02 427.5px,#2f8c02 436.5px,#498901 481.5px)"></i><i style="background:linear-gradient(#0e9004 0.5px,#288d03 93.5px,#5a8700 205.5px,#886700 262.5px,#bd2900 290.5px,#cd0000 316.5px,#d72c00 377.5px,#d52700 398.5px,#cd0100 421.5px,#c90a00 427.5px,#348b02 428.5px,#2f8c02 436.5px,#498901 481.5px)"></i><i style="background:linear-gradient(#0e9004 0.5px,#288d03 93.5px,#5a8700 205.5px,#8a6500 265.5px,#bd2900 291.5px,#cd0000 316.5px,#d72b00 374.5px,#d52700 395.5px,#cd0000 419.5px,#c90a00 424.5px,#368b02 425.5px,#2f8c02 436.5px,#498901 481.5px)"></i><i style="background:linear-gradient(#0e9004 0.5px,#288d03 93.5px,#5a8700 205.5px,#8a6500 265.5px,#be2800 292.5px,#cd0000 317.5px,#d72b00 376.5px,#d52700 397.5px,#cd0100 420.5px,#c90a00 426.5px,#358b02 427.5px,#2f8c02 436.5px,#498901 481.5px)"></i><i style="background:linear-gradient(#0e9004 0.5px,#288d03 93.5px,#5a8700 205.5px,#8a6500 265.5px,#bd2900 291.5px,#cd0000 316.5px,#d72b00 374.5px,#d52700 395.5px,#cd0000 419.5px,#c90a00 424.5px,#368b02 425.5px,#2f8c02 436.5px,#498901 481.5px)"></i><i style="background:linear-gradient(#0e9004 0.5px,#288d03 93.5px,#5a8700 205.5px,#876800 260.5px,#bd2900 289.5px,#cd0000 316.5px,#d72b00 376.5px,#d52600 397.5px,#cd0000 421.5px,#c90a00 426.5px,#358b02 427.5px,#2f8c02 436.5px,#498901 481.5px)"></i><i style="background:linear-gradient(#0e9004 0.5px,#288d03 93.5px,#5a8700 205.5px,#915e00 275.5px,#be2800 297.5px,#cd0000 321.5px,#d72b00 376.5px,#d52700 396.5px,#cd0000 420.5px,#c90b00 426.5px,#358b02 427.5px,#2f8c02 436.5px,#498901 481.5px)"></i><i style="background:linear-gradient(#0e9004 0.5px,#288d03 93.5px,#5a8700 205.5px,#925c00 277.5px,#be2800 298.5px,#cd0000 321.5px,#d72a00 375.5px,#d52600 395.5px,#cd0000 419.5px,#c90a00 424.5px,#368b02 425.5px,#2f8c02 436.5px,#498901 481.5px)"></i><i style="background:linear-gradient(#0e9004 0.5px,#288d03 93.5px,#5a8700 205.5px,#8f6000 272.5px,#be2800 296.5px,#cd0100 320.5px,#d62a00 376.5px,#d52600 397.5px,#cd0100 420.5px,#c90a00 426.5px,#358b02 427.5px,#2f8c02 436.5px,#498901 481.5px)"></i><i style="background:linear-gradient(#0e9004 0.5px,#288d03 93.5px,#5a8700 205.5px,#985600 285.5px,#bd2900 303.5px,#cd0000 326.5px,#d62a00 378.5px,#d52600 398.5px,#cd0000 422.5px,#c90b00 428.5px,#348c02 429.5px,#2f8c02 436.5px,#498901 481.5px)"></i><i style="background:linear-gradient(#079218 0.5px,#198f03 227.5px,#5b8600 258.5px,#8d6300 278.5px,#be2800 301.5px,#cd0000 324.5px,#d62900 376.5px,#d52500 397.5px,#cd0100 420.5px,#c90a00 426.5px,#2a8d03 427.5px,#498901 481.5px)"></i><i style="background:linear-gradient(#1f8e03 0.5px,#5a8700 81.5px,#8c6400 142.5px,#ae3c00 193.5px,#be2800 226.5px,#c80e00 292.5px,#c41800 306.5px,#cd0000 317.5px,#dd3b00 379.5px,#da3400 398.5px,#cd0000 423.5px,#ca0900 427.5px,#478901 428.5px,#358b02 446.5px,#498901 481.5px)"></i><i style="background:linear-gradient(#1f8e03 0.5px,#5a8700 81.5px,#8c6400 142.5px,#ae3c00 193.5px,#be2800 226.5px,#c80e00 292.5px,#c31b00 309.5px,#cd0000 320.5px,#dd3b00 378.5px,#da3400 397.5px,#cd0000 422.5px,#ca0900 426.5px,#488901 427.5px,#358b02 446.5px,#498901 481.5px)"></i><i style="background:linear-gradient(#1f8e03 0.5px,#5a8700 81.5px,#8c6400 142.5px,#ae3c00 193.5px,#be2800 226.5px,#c80e00 292.5px,#c21e00 312.5px,#cd0000 324.5px,#dd3b00 377.5px,#da3300 396.5px,#cd0000 420.5px,#ca0900 424.5px,#4b8901 425.5px,#358b02 446.5px,#498901 481.5px)"></i><i style="background:linear-gradient(#079218 0.5px,#0e9004 162.5px,#1f8e03 272.5px,#5a8700 292.5px,#8b6400 306.5px,#be2900 323.5px,#cd0000 340.5px,#d62800 377.5px,#d42500 397.5px,#cd0100 420.5px,#c90a00 426.5px,#2a8d03 427.5px,#498901 481.5px)"></i><i style="background:linear-gradient(#0e9004 0.5px,#0e9004 93.5px,#328c02 289.5px,#5d8500 302.5px,#8c6400 314.5px,#be2800 329.5px,#cd0100 343.5px,#d62800 377.5px,#d42400 397.5px,#cd0000 420.5px,#c90b00 426.5px,#2a8d03 427.5px,#498901 481.5px)"></i><i style="background:linear-gradient(#0e9004 0.5px,#0e9004 93.5px,#338c02 292.5px,#2d8c02 323.5px,#5d8500 332.5px,#8d6300 339.5px,#bc2b00 347.5px,#cd0100 356.5px,#d21e00 369.5px,#d62800 378.5px,#d42300 397.5px,#cd0000 419.5px,#c90b00 425.5px,#298d03 426.5px,#498901 481.5px)"></i><i style="background:linear-gradient(#0e9004 0.5px,#0e9004 93.5px,#338c02 292.5px,#2d8c02 322.5px,#5e8400 331.5px,#8b6500 338.5px,#bc2b00 347.5px,#cc0200 356.5px,#d62800 379.5px,#d42300 398.5px,#cd0000 421.5px,#c90b00 427.5px,#2a8d03 428.5px,#498901 481.5px)"></i><i style="background:linear-gradient(#0e9004 0.5px,#0e9004 93.5px,#338c02 292.5px,#2e8c02 320.5px,#5e8400 329.5px,#8f6100 337.5px,#be2800 346.5px,#cd0100 356.5px,#d32100 372.5px,#d62800 381.5px,#d32200 399.5px,#cd0000 420.5px,#c90a00 426.5px,#5e8400 427.5px,#915e00 481.5px)"></i><i style="background:linear-gradient(#0e9004 0.5px,#0e9004 93.5px,#338c02 292.5px,#2d8c02 325.5px,#338c02 333.5px,#5c8500 339.5px,#8d6300 345.5px,#bd2a00 352.5px,#cd0200 360.5px,#d42200 373.5px,#d62800 384.5px,#d32100 399.5px,#cd0100 420.5px,#c90b00 426.5px,#7c6f00 427.5px,#b03900 481.5px)"></i><i style="background:linear-gradient(#0e9004 0.5px,#0e9004 93.5px,#338c02 292.5px,#2c8c02 328.5px,#5a8700 336.5px,#8d6300 343.5px,#be2800 351.5px,#cd0000 359.5px,#d21f00 372.5px,#d62700 380.5px,#d42300 398.5px,#cd0100 420.5px,#c90b00 427.5px,#2a8d03 428.5px,#498901 481.5px)"></i><i style="background:linear-gradient(#0e9004 0.5px,#0e9004 93.5px,#338c02 292.5px,#2b8d02 334.5px,#5c8600 341.5px,#8f6000 347.5px,#bb2c00 353.5px,#cd0000 360.5px,#d21e00 371.5px,#d62700 379.5px,#d42200 397.5px,#cd0100 419.5px,#c90a00 425.5px,#298d03 426.5px,#498901 481.5px)"></i><i style="background:linear-gradient(#0e9004 0.5px,#0e9004 93.5px,#338c02 292.5px,#2b8d02 332.5px,#5f8300 340.5px,#8f6100 346.5px,#be2800 353.5px,#cd0100 360.5px,#d21f00 372.5px,#d52700 380.5px,#d42200 398.5px,#cd0100 420.5px,#c90b00 427.5px,#2a8d03 428.5px,#498901 481.5px)"></i><i style="background:linear-gradient(#0e9004 0.5px,#0e9004 93.5px,#338c02 292.5px,#2b8d02 336.5px,#5f8300 343.5px,#8d6300 348.5px,#bb2c00 354.5px,#cd0100 361.5px,#d21e00 371.5px,#d52700 379.5px,#d42200 397.5px,#cd0000 419.5px,#c90a00 425.5px,#298d03 426.5px,#498901 481.5px)"></i><i style="background:linear-gradient(#0e9004 0.5px,#0e9004 93.5px,#338c02 292.5px,#2a8d03 338.5px,#5c8600 345.5px,#8b6500 350.5px,#bb2c00 356.5px,#cc0300 362.5px,#d21f00 373.5px,#d52700 380.5px,#d42200 398.5px,#cd0100 420.5px,#c90a00 426.5px,#2a8d03 427.5px,#498901 481.5px)"></i><i style="background:linear-gradient(#0e9004 0.5px,#0e9004 93.5px,#338c02 292.5px,#2b8d02 336.5px,#5b8600 343.5px,#896600 348.5px,#b82f00 354.5px,#cd0000 361.5px,#d21e00 371.5px,#d52700 379.5px,#d32200 397.5px,#cd0000 419.5px,#c90a00 425.5px,#298d03 426.5px,#498901 481.5px)"></i><i style="background:linear-gradient(#0e9004 0.5px,#0e9004 93.5px,#338c02 292.5px,#298d03 344.5px,#608300 350.5px,#8b6500 354.5px,#b92e00 359.5px,#cd0000 365.5px,#d21e00 374.5px,#d52700 381.5px,#d32200 399.5px,#cd0000 421.5px,#c90a00 427.5px,#2a8d03 428.5px,#498901 481.5px)"></i><i style="background:linear-gradient(#0e9004 0.5px,#0e9004 93.5px,#338c02 292.5px,#2b8d02 335.5px,#5e8400 342.5px,#896600 347.5px,#bc2b00 354.5px,#cd0000 361.5px,#d21e00 372.5px,#d52700 380.5px,#d32200 398.5px,#cd0000 420.5px,#c90a00 426.5px,#2a8d03 427.5px,#498901 481.5px)"></i><i style="background:linear-gradient(#0e9004 0.5px,#0e9004 93.5px,#338c02 292.5px,#2d8c02 322.5px,#5c8600 331.5px,#8e6200 339.5px,#be2800 348.5px,#cd0100 357.5px,#d52700 380.5px,#d32200 399.5px,#cd0000 421.5px,#c90a00 427.5px,#2a8d03 428.5px,#498901 481.5px)"></i><i style="background:linear-gradient(#0e9004 0.5px,#0e9004 93.5px,#338c02 292.5px,#2e8c02 317.5px,#5f8300 327.5px,#8e6100 335.5px,#bb2c00 344.5px,#cd0100 354.5px,#d52700 378.5px,#d32200 397.5px,#cd0100 419.5px,#c90a00 425.5px,#298d03 426.5px,#498901 481.5px)"></i><i style="background:linear-gradient(#498901 0.5px,#5a8700 31.5px,#8c6400 109.5px,#be2800 207.5px,#cd0000 292.5px,#bd2900 337.5px,#cd0100 347.5px,#da3400 372.5px,#dd3b00 383.5px,#da3200 398.5px,#cd0100 422.5px,#c90a00 426.5px,#4d8901 427.5px,#368b02 448.5px,#498901 481.5px)"></i><i style="background:linear-gradient(#498901 0.5px,#5a8700 31.5px,#8c6400 109.5px,#be2800 207.5px,#cd0000 292.5px,#c02300 332.5px,#cd0100 342.5px,#db3500 373.5px,#dd3b00 384.5px,#da3200 399.5px,#cd0100 423.5px,#c90a00 427.5px,#4c8901 428.5px,#368b02 448.5px,#498901 481.5px)"></i><i style="background:linear-gradient(#498901 0.5px,#5a8700 31.5px,#8c6400 109.5px,#be2800 207.5px,#cd0000 292.5px,#c21e00 326.5px,#cd0000 335.5px,#db3600 370.5px,#dd3b00 381.5px,#da3200 396.5px,#cd0000 420.5px,#c90900 424.5px,#508801 425.5px,#368b02 448.5px,#498901 481.5px)"></i><i style="background:linear-gradient(#0e9004 0.5px,#0e9004 93.5px,#308c02 278.5px,#5b8600 293.5px,#8c6400 307.5px,#be2800 324.5px,#cd0000 341.5px,#d52600 376.5px,#d42200 396.5px,#cd0000 419.5px,#c90a00 425.5px,#298d03 426.5px,#498901 481.5px)"></i><i style="background:linear-gradient(#0e9004 0.5px,#0e9004 93.5px,#2d8c02 260.5px,#5b8600 279.5px,#8d6300 296.5px,#bd2900 316.5px,#cd0000 336.5px,#d52600 378.5px,#d42200 398.5px,#cd0000 421.5px,#c90b00 427.5px,#2a8d03 428.5px,#498901 481.5px)"></i><i style="background:linear-gradient(#0e9004 0.5px,#0e9004 93.5px,#2e8c02 265.5px,#5b8600 283.5px,#8c6400 299.5px,#bc2a00 318.5px,#cd0100 337.5px,#d52600 377.5px,#d42300 397.5px,#cd0100 420.5px,#c90b00 427.5px,#2a8d03 428.5px,#498901 481.5px)"></i><i style="background:linear-gradient(#0e9004 0.5px,#0e9004 93.5px,#2f8c02 272.5px,#5a8700 288.5px,#8d6200 304.5px,#be2800 322.5px,#cd0000 340.5px,#d52600 378.5px,#d42200 398.5px,#cd0000 421.5px,#c90b00 427.5px,#2a8d03 428.5px,#498901 481.5px)"></i><i style="background:linear-gradient(#0e9004 0.5px,#0e9004 93.5px,#2e8c02 267.5px,#5b8700 284.5px,#8c6400 300.5px,#be2800 319.5px,#cd0000 338.5px,#d52600 377.5px,#d32200 397.5px,#cd0000 420.5px,#c90b00 426.5px,#2a8d03 427.5px,#498901 481.5px)"></i><i style="background:linear-gradient(#0e9004 0.5px,#0e9004 93.5px,#308c02 275.5px,#5d8500 291.5px,#8b6500 305.5px,#bd2900 323.5px,#cd0000 341.5px,#d52600 378.5px,#d32200 398.5px,#cd0100 420.5px,#c90b00 427.5px,#2a8d03 428.5px,#498901 481.5px)"></i><i style="background:linear-gradient(#0e9004 0.5px,#0e9004 93.5px,#308c02 276.5px,#5c8500 292.5px,#8c6400 306.5px,#bc2a00 323.5px,#cd0100 340.5px,#d52600 377.5px,#d32200 397.5px,#cd0100 419.5px,#c90b00 426.5px,#2a8d03 427.5px,#498901 481.5px)"></i><i style="background:linear-gradient(#0e9004 0.5px,#0e9004 93.5px,#328c02 286.5px,#5b8600 299.5px,#8c6400 312.5px,#be2800 328.5px,#cd0100 343.5px,#d52600 376.5px,#d32200 396.5px,#cd0000 419.5px,#c90b00 425.5px,#298d03 426.5px,#498901 481.5px)"></i><i style="background:linear-gradient(#0e9004 0.5px,#0e9004 93.5px,#318c02 284.5px,#5c8600 298.5px,#8c6400 311.5px,#be2900 327.5px,#cd0000 343.5px,#d52600 376.5px,#d32200 396.5px,#cd0000 419.5px,#c90b00 425.5px,#298d03 426.5px,#498901 481.5px)"></i><i style="background:linear-gradient(#0e9004 0.5px,#0e9004 93.5px,#338c02 292.5px,#5d8500 305.5px,#8d6300 317.5px,#bc2b00 331.5px,#cd0000 346.5px,#d52600 377.5px,#d32200 397.5px,#cd0100 419.5px,#c90b00 426.5px,#2a8d03 427.5px,#498901 481.5px)"></i><i style="background:linear-gradient(#0e9004 0.5px,#0e9004 93.5px,#318c02 303.5px,#5a8700 314.5px,#8d6300 325.5px,#bc2b00 337.5px,#cd0000 350.5px,#d52600 378.5px,#d32100 397.5px,#cd0100 419.5px,#c90b00 426.5px,#2a8d03 427.5px,#498901 481.5px)"></i><i style="background:linear-gradient(#0e9004 0.5px,#0e9004 93.5px,#328c02 297.5px,#5b8700 309.5px,#8e6200 321.5px,#bc2a00 334.5px,#cd0000 348.5px,#d52600 378.5px,#d32100 397.5px,#cd0100 419.5px,#c90b00 426.5px,#2a8d03 427.5px,#498901 481.5px)"></i><i style="background:linear-gradient(#0e9004 0.5px,#0e9004 93.5px,#338c02 292.5px,#2c8c02 331.5px,#5c8600 338.5px,#8d6300 344.5px,#bd2900 351.5px,#cd0100 358.5px,#d21f00 370.5px,#d52600 377.5px,#d32100 395.5px,#cd0000 417.5px,#c90a00 423.5px,#288d03 424.5px,#498901 481.5px)"></i><i style="background:linear-gradient(#0e9004 0.5px,#0e9004 93.5px,#338c02 292.5px,#2e8c02 319.5px,#598700 328.5px,#8b6500 336.5px,#be2700 346.5px,#cd0000 355.5px,#d52500 377.5px,#d32100 396.5px,#cd0100 418.5px,#c90b00 425.5px,#298d03 426.5px,#498901 481.5px)"></i><i style="background:linear-gradient(#0e9004 0.5px,#0e9004 93.5px,#338c02 292.5px,#2d8c02 325.5px,#5d8500 334.5px,#8d6300 341.5px,#bb2c00 349.5px,#cd0000 358.5px,#d21d00 371.5px,#d52600 379.5px,#d32000 398.5px,#cd0100 419.5px,#c90b00 426.5px,#2a8d03 427.5px,#498901 481.5px)"></i><i style="background:linear-gradient(#0e9004 0.5px,#0e9004 93.5px,#338c02 292.5px,#2a8d03 339.5px,#5e8400 346.5px,#8d6300 351.5px,#bd2900 357.5px,#cc0100 363.5px,#d21d00 373.5px,#d52500 380.5px,#d32100 398.5px,#cd0100 420.5px,#c90b00 427.5px,#2a8d03 428.5px,#498901 481.5px)"></i><i style="background:linear-gradient(#0e9004 0.5px,#0e9004 93.5px,#338c02 292.5px,#298d03 342.5px,#2b8d02 343.5px,#638100 349.5px,#8d6300 353.5px,#ba2d00 358.5px,#cd0100 364.5px,#d21e00 373.5px,#d52500 380.5px,#d32000 398.5px,#cd0100 419.5px,#c90b00 426.5px,#2a8d03 427.5px,#498901 481.5px)"></i><i style="background:linear-gradient(#0e9004 0.5px,#0e9004 93.5px,#338c02 292.5px,#2a8d03 341.5px,#628100 348.5px,#8b6400 352.5px,#bf2700 358.5px,#cc0200 363.5px,#d21e00 373.5px,#d52500 379.5px,#d32100 397.5px,#cd0100 419.5px,#c90b00 426.5px,#2a8d03 427.5px,#498901 481.5px)"></i><i style="background:linear-gradient(#0e9004 0.5px,#0e9004 93.5px,#338c02 292.5px,#278d03 356.5px,#2b8d02 357.5px,#618200 360.5px,#8b6500 362.5px,#bf2600 365.5px,#cd0200 368.5px,#d21e00 374.5px,#d52500 380.5px,#d32000 397.5px,#cd0000 418.5px,#c90b00 425.5px,#298d03 426.5px,#498901 481.5px)"></i><i style="background:linear-gradient(#0e9004 0.5px,#0e9004 93.5px,#338c02 292.5px,#268d03 360.5px,#578700 363.5px,#816c00 365.5px,#b83000 368.5px,#cc0300 371.5px,#d21d00 377.5px,#d52500 383.5px,#d32000 400.5px,#cd0000 422.5px,#c90b00 428.5px,#2b8d02 429.5px,#498901 481.5px)"></i><i style="background:linear-gradient(#0e9004 0.5px,#0e9004 93.5px,#338c02 292.5px,#268d03 357.5px,#2b8d02 358.5px,#618200 361.5px,#8b6500 363.5px,#bf2600 366.5px,#cd0200 369.5px,#d21e00 375.5px,#d52500 381.5px,#d32000 398.5px,#cd0000 419.5px,#c90b00 426.5px,#2a8d03 427.5px,#498901 481.5px)"></i><i style="background:linear-gradient(#0e9004 0.5px,#0e9004 93.5px,#338c02 292.5px,#268d03 359.5px,#278d03 360.5px,#5c8500 363.5px,#866800 365.5px,#bc2b00 368.5px,#cd0000 371.5px,#d21e00 377.5px,#d52500 383.5px,#d32000 400.5px,#cd0100 421.5px,#c90b00 428.5px,#2b8d02 429.5px,#498901 481.5px)"></i><i style="background:linear-gradient(#0e9004 0.5px,#0e9004 93.5px,#338c02 292.5px,#268d03 359.5px,#298d03 360.5px,#5e8400 363.5px,#886700 365.5px,#bd2900 368.5px,#cd0100 371.5px,#d21e00 377.5px,#d52500 383.5px,#d32000 400.5px,#cd0100 421.5px,#c90b00 428.5px,#2b8d02 429.5px,#498901 481.5px)"></i><i style="background:linear-gradient(#0e9004 0.5px,#0e9004 93.5px,#338c02 292.5px,#268d03 358.5px,#2a8d03 359.5px,#5f8300 362.5px,#896600 364.5px,#be2800 367.5px,#cd0100 370.5px,#d21e00 376.5px,#d52500 382.5px,#d32000 399.5px,#cd0100 420.5px,#c90b00 427.5px,#2a8d03 428.5px,#498901 481.5px)"></i><i style="background:linear-gradient(#079218 0.5px,#0e9004 162.5px,#248d03 358.5px,#588700 361.5px,#955a00 364.5px,#c11f00 367.5px,#cc0300 369.5px,#d21d00 375.5px,#d52500 381.5px,#d32000 398.5px,#cd0100 419.5px,#c90b00 426.5px,#2a8d03 427.5px,#498901 481.5px)"></i><i style="background:linear-gradient(#eb8c00 0.5px,#efa400 93.5px,#f1b000 292.5px,#e77000 371.5px,#efa100 377.5px,#f0ac00 386.5px,#f0a700 392.5px,#ed9500 398.5px,#e24f00 409.5px,#d21e00 481.5px)"></i><i style="background:linear-gradient(#de3f00 0.5px,#e45e00 192.5px,#e56000 292.5px,#dc3900 364.5px,#e87900 375.5px,#ea8400 384.5px,#e87600 395.5px,#d42300 414.5px,#ce0400 481.5px)"></i><i style="background:linear-gradient(#079218 0.5px,#0e9004 162.5px,#228e03 319.5px,#5a8700 330.5px,#8b6500 338.5px,#be2700 348.5px,#cd0100 357.5px,#d52500 379.5px,#d32100 398.5px,#cd0100 420.5px,#c90b00 427.5px,#2a8d03 428.5px,#498901 481.5px)"></i><i style="background:linear-gradient(#079218 0.5px,#0e9004 162.5px,#228e03 314.5px,#5e8400 327.5px,#8b6500 335.5px,#bb2b00 345.5px,#cd0100 356.5px,#d52500 379.5px,#d32000 398.5px,#cd0000 420.5px,#c90b00 427.5px,#2a8d03 428.5px,#498901 481.5px)"></i><i style="background:linear-gradient(#079218 0.5px,#0e9004 162.5px,#218e03 300.5px,#5a8700 315.5px,#8c6400 326.5px,#be2800 339.5px,#cc0200 351.5px,#d42400 378.5px,#d32100 398.5px,#cd0100 420.5px,#c90b00 427.5px,#2a8d03 428.5px,#498901 481.5px)"></i><i style="background:linear-gradient(#079218 0.5px,#0e9004 162.5px,#218e03 299.5px,#5a8700 314.5px,#8b6500 325.5px,#bc2a00 338.5px,#cd0100 351.5px,#d42500 379.5px,#d32000 399.5px,#cd0000 421.5px,#c90b00 427.5px,#2a8d03 428.5px,#498901 481.5px)"></i><i style="background:linear-gradient(#079218 0.5px,#0e9004 162.5px,#208e03 283.5px,#5a8700 302.5px,#8b6500 315.5px,#bd2a00 331.5px,#cd0000 347.5px,#d42400 379.5px,#d32100 399.5px,#cd0100 421.5px,#c90b00 428.5px,#2b8d02 429.5px,#498901 481.5px)"></i><i style="background:linear-gradient(#079218 0.5px,#0e9004 162.5px,#208e03 277.5px,#5c8600 297.5px,#8d6300 311.5px,#bc2a00 327.5px,#cd0000 344.5px,#d42400 377.5px,#d32100 397.5px,#cd0000 420.5px,#c90b00 426.5px,#2a8d03 427.5px,#498901 481.5px)"></i><i style="background:linear-gradient(#079218 0.5px,#0e9004 162.5px,#1f8e03 262.5px,#5a8700 285.5px,#8d6200 302.5px,#be2800 321.5px,#cd0000 340.5px,#d42400 378.5px,#d32100 398.5px,#cd0000 421.5px,#c90a00 427.5px,#2a8d03 428.5px,#498901 481.5px)"></i><i style="background:linear-gradient(#079218 0.5px,#0e9004 162.5px,#1f8e03 261.5px,#5c8500 285.5px,#8d6300 301.5px,#be2800 320.5px,#cd0000 339.5px,#d42400 376.5px,#d32100 397.5px,#cd0100 419.5px,#c90b00 426.5px,#2a8d03 427.5px,#498901 481.5px)"></i><i style="background:linear-gradient(#079218 0.5px,#0e9004 162.5px,#1f8e03 262.5px,#5a8700 285.5px,#8c6400 301.5px,#bd2900 320.5px,#cd0000 339.5px,#d42400 376.5px,#d32000 397.5px,#cd0100 419.5px,#c90b00 426.5px,#2a8d03 427.5px,#498901 481.5px)"></i><i style="background:linear-gradient(#079218 0.5px,#0e9004 162.5px,#208e03 275.5px,#5c8600 296.5px,#8d6300 310.5px,#be2800 327.5px,#cd0100 343.5px,#d42400 377.5px,#d32100 397.5px,#cd0100 419.5px,#c90b00 426.5px,#2a8d03 427.5px,#498901 481.5px)"></i><i style="background:linear-gradient(#079218 0.5px,#0e9004 162.5px,#208e03 287.5px,#5b8600 305.5px,#8a6500 317.5px,#bd2a00 332.5px,#cd0000 347.5px,#d42400 377.5px,#d32000 397.5px,#cd0100 419.5px,#c90b00 426.5px,#2a8d03 427.5px,#498901 481.5px)"></i><i style="background:linear-gradient(#079218 0.5px,#0e9004 162.5px,#208e03 282.5px,#5b8600 301.5px,#8b6500 314.5px,#bc2a00 330.5px,#cd0100 346.5px,#d42400 378.5px,#d32100 398.5px,#cd0000 421.5px,#c90a00 427.5px,#2a8d03 428.5px,#498901 481.5px)"></i><i style="background:linear-gradient(#079218 0.5px,#0e9004 162.5px,#208e03 288.5px,#5a8700 306.5px,#8d6300 319.5px,#be2700 334.5px,#cd0100 348.5px,#d42400 378.5px,#d32100 398.5px,#cd0000 421.5px,#c90a00 427.5px,#2a8d03 428.5px,#498901 481.5px)"></i><i style="background:linear-gradient(#079218 0.5px,#0e9004 162.5px,#218e03 300.5px,#5c8600 316.5px,#8d6200 327.5px,#bb2b00 339.5px,#cd0100 352.5px,#d42400 379.5px,#d32000 399.5px,#cd0000 421.5px,#c90b00 428.5px,#2b8d02 429.5px,#498901 481.5px)"></i><i style="background:linear-gradient(#079218 0.5px,#0e9004 162.5px,#228e03 310.5px,#5b8600 323.5px,#8b6500 332.5px,#bb2b00 343.5px,#cc0200 354.5px,#d42400 378.5px,#d32000 398.5px,#cd0000 420.5px,#c90b00 427.5px,#2a8d03 428.5px,#498901 481.5px)"></i><i style="background:linear-gradient(#079218 0.5px,#0e9004 162.5px,#228e03 318.5px,#5b8600 330.5px,#8c6400 338.5px,#be2800 348.5px,#cc0200 357.5px,#d42400 379.5px,#d32000 398.5px,#cd0100 420.5px,#c90b00 427.5px,#2a8d03 428.5px,#498901 481.5px)"></i><i style="background:linear-gradient(#079218 0.5px,#0e9004 162.5px,#238e03 333.5px,#5f8400 342.5px,#906000 348.5px,#b92e00 354.5px,#cd0100 362.5px,#d21e00 373.5px,#d42400 379.5px,#d32000 398.5px,#cd0000 420.5px,#c90b00 426.5px,#2a8d03 427.5px,#498901 481.5px)"></i><i style="background:linear-gradient(#079218 0.5px,#0e9004 162.5px,#238e03 337.5px,#608300 345.5px,#8e6200 350.5px,#bc2a00 356.5px,#cc0300 362.5px,#d42400 379.5px,#d21f00 398.5px,#cd0000 419.5px,#c90b00 426.5px,#2a8d03 427.5px,#498901 481.5px)"></i><i style="background:linear-gradient(#079218 0.5px,#0e9004 162.5px,#238d03 346.5px,#5e8400 352.5px,#8c6400 356.5px,#bd2a00 361.5px,#cd0100 366.5px,#d21e00 375.5px,#d42400 381.5px,#d31f00 399.5px,#cd0100 420.5px,#c90b00 427.5px,#2a8d03 428.5px,#498901 481.5px)"></i><i style="background:linear-gradient(#079218 0.5px,#0e9004 162.5px,#238d03 340.5px,#5c8500 347.5px,#8c6400 352.5px,#bd2900 358.5px,#cd0100 364.5px,#d21d00 374.5px,#d42400 380.5px,#d21f00 399.5px,#cd0100 420.5px,#c90b00 427.5px,#2a8d03 428.5px,#498901 481.5px)"></i><i style="background:linear-gradient(#079218 0.5px,#0e9004 162.5px,#238d03 343.5px,#628100 350.5px,#8e6200 354.5px,#bc2a00 359.5px,#cc0300 364.5px,#d42400 379.5px,#d21f00 398.5px,#cd0100 419.5px,#c90b00 426.5px,#2a8d03 427.5px,#498901 481.5px)"></i><i style="background:linear-gradient(#079218 0.5px,#0e9004 162.5px,#238d03 346.5px,#588700 352.5px,#876800 356.5px,#b92e00 361.5px,#cc0300 366.5px,#d21d00 375.5px,#d42400 381.5px,#d31f00 399.5px,#cd0100 420.5px,#c90b00 427.5px,#2a8d03 428.5px,#498901 481.5px)"></i><i style="background:linear-gradient(#288d03 0.5px,#5a8700 100.5px,#8c6400 135.5px,#be2700 179.5px,#c31b00 193.5px,#cd0000 292.5px,#be2800 336.5px,#a74300 356.5px,#bf2500 359.5px,#cd0000 364.5px,#d21e00 373.5px,#d42400 380.5px,#d21f00 398.5px,#cd0000 419.5px,#c90b00 425.5px,#4e8801 426.5px,#368b02 448.5px,#498901 481.5px)"></i><i style="background:linear-gradient(#288d03 0.5px,#5a8700 100.5px,#8c6400 135.5px,#be2700 179.5px,#c31b00 193.5px,#cd0000 292.5px,#be2800 336.5px,#a14a00 361.5px,#c02400 364.5px,#cd0200 368.5px,#d21d00 375.5px,#d42400 382.5px,#d21f00 399.5px,#cd0000 420.5px,#c90b00 427.5px,#4c8901 428.5px,#368b02 448.5px,#498901 481.5px)"></i><i style="background:linear-gradient(#0d9006 0.5px,#298d03 92.5px,#598700 163.5px,#717700 193.5px,#866800 263.5px,#8d6300 293.5px,#687d00 349.5px,#697d00 350.5px,#886700 353.5px,#be2800 359.5px,#cc0300 364.5px,#d21e00 374.5px,#d42400 380.5px,#d21f00 398.5px,#cd0000 420.5px,#c90b00 426.5px,#3c8b02 427.5px,#368b02 448.5px,#498901 481.5px)"></i><i style="background:linear-gradient(#079218 0.5px,#0e9004 162.5px,#238e03 342.5px,#5d8500 349.5px,#915e00 354.5px,#bd2900 359.5px,#cb0400 364.5px,#d42400 380.5px,#d31f00 398.5px,#cd0000 420.5px,#c90b00 426.5px,#2a8d03 427.5px,#498901 481.5px)"></i><i style="background:linear-gradient(#0e9004 0.5px,#0e9004 93.5px,#3a8b02 292.5px,#2d8c02 347.5px,#608300 352.5px,#8f6000 356.5px,#b82f00 360.5px,#cc0300 365.5px,#d21e00 374.5px,#d42400 380.5px,#d21f00 398.5px,#cd0100 419.5px,#c90b00 426.5px,#2a8d03 427.5px,#498901 481.5px)"></i><i style="background:linear-gradient(#0e9004 0.5px,#0e9004 93.5px,#3a8b02 292.5px,#2d8c02 348.5px,#5d8500 353.5px,#8c6400 357.5px,#be2800 362.5px,#cd0000 367.5px,#d21c00 375.5px,#d42400 381.5px,#d31f00 399.5px,#cd0000 421.5px,#c90a00 427.5px,#2a8d03 428.5px,#498901 481.5px)"></i><i style="background:linear-gradient(#0e9004 0.5px,#0e9004 93.5px,#3a8b02 292.5px,#2e8c02 343.5px,#5f8400 349.5px,#905f00 354.5px,#bb2c00 359.5px,#cd0000 365.5px,#d21e00 375.5px,#d42400 381.5px,#d21f00 399.5px,#cd0100 420.5px,#c90b00 427.5px,#2a8d03 428.5px,#498901 481.5px)"></i><i style="background:linear-gradient(#0e9004 0.5px,#0e9004 93.5px,#3a8b02 292.5px,#2d8c02 350.5px,#5e8400 355.5px,#905f00 359.5px,#bb2b00 363.5px,#cd0100 368.5px,#d21d00 376.5px,#d42400 382.5px,#d21f00 400.5px,#cd0000 421.5px,#c90b00 428.5px,#2b8d02 429.5px,#498901 481.5px)"></i><i style="background:linear-gradient(#0e9004 0.5px,#0e9004 93.5px,#3a8b02 292.5px,#2e8c02 344.5px,#628100 350.5px,#8c6400 354.5px,#b82f00 359.5px,#cd0100 365.5px,#d21e00 375.5px,#d42400 381.5px,#d21f00 399.5px,#cd0100 420.5px,#c90b00 427.5px,#2a8d03 428.5px,#498901 481.5px)"></i><i style="background:linear-gradient(#0e9004 0.5px,#0e9004 93.5px,#3a8b02 292.5px,#2b8d02 358.5px,#5f8300 361.5px,#886700 363.5px,#bc2a00 366.5px,#cd0100 369.5px,#d21c00 375.5px,#d42400 381.5px,#d21f00 398.5px,#cd0000 419.5px,#c90b00 426.5px,#2a8d03 427.5px,#498901 481.5px)"></i><i style="background:linear-gradient(#0e9004 0.5px,#0e9004 93.5px,#3a8b02 292.5px,#2c8c02 353.5px,#2d8c02 354.5px,#638100 358.5px,#915e00 361.5px,#b82f00 364.5px,#cc0100 368.5px,#d21c00 375.5px,#d42400 381.5px,#d21e00 399.5px,#cd0000 420.5px,#c90a00 426.5px,#2a8d03 427.5px,#498901 481.5px)"></i><i style="background:linear-gradient(#0e9004 0.5px,#0e9004 93.5px,#3a8b02 292.5px,#2c8c02 352.5px,#318c02 353.5px,#667f00 357.5px,#925d00 360.5px,#b82f00 363.5px,#cc0300 367.5px,#d21e00 375.5px,#d42300 380.5px,#d21f00 398.5px,#cd0000 419.5px,#c90b00 426.5px,#2a8d03 427.5px,#498901 481.5px)"></i><i style="background:linear-gradient(#0e9004 0.5px,#0e9004 93.5px,#3a8b02 292.5px,#2c8c02 351.5px,#608300 356.5px,#896600 359.5px,#b73000 363.5px,#cd0100 368.5px,#d21c00 375.5px,#d42300 381.5px,#d21f00 399.5px,#cd0100 420.5px,#c90b00 427.5px,#2a8d03 428.5px,#498901 481.5px)"></i><i style="background:linear-gradient(#0e9004 0.5px,#0e9004 93.5px,#3a8b02 292.5px,#2c8c02 354.5px,#308c02 355.5px,#657f00 359.5px,#925d00 362.5px,#b82f00 365.5px,#cc0300 369.5px,#d21e00 377.5px,#d42300 382.5px,#d21f00 400.5px,#cd0000 421.5px,#c90b00 428.5px,#2b8d02 429.5px,#498901 481.5px)"></i><i style="background:linear-gradient(#0e9004 0.5px,#0e9004 93.5px,#3a8b02 292.5px,#2b8d02 356.5px,#2d8c02 357.5px,#5a8700 360.5px,#8e6100 363.5px,#bb2c00 366.5px,#cb0600 369.5px,#cd0200 370.5px,#d21f00 377.5px,#d42400 382.5px,#d21f00 399.5px,#cd0100 420.5px,#c90b00 427.5px,#2a8d03 428.5px,#498901 481.5px)"></i><i style="background:linear-gradient(#0e9004 0.5px,#0e9004 93.5px,#3a8b02 292.5px,#2c8c02 354.5px,#5d8500 358.5px,#8d6200 361.5px,#b63200 364.5px,#cc0200 368.5px,#d21c00 375.5px,#d42300 381.5px,#d21e00 399.5px,#cd0000 420.5px,#c90b00 426.5px,#2a8d03 427.5px,#498901 481.5px)"></i><i style="background:linear-gradient(#0e9004 0.5px,#0e9004 93.5px,#3a8b02 292.5px,#2b8d02 355.5px,#2e8c02 356.5px,#598700 359.5px,#8c6400 362.5px,#b82f00 365.5px,#cd0100 369.5px,#d21b00 375.5px,#d42300 381.5px,#d21e00 399.5px,#cd0000 420.5px,#c90a00 426.5px,#2a8d03 427.5px,#498901 481.5px)"></i><i style="background:linear-gradient(#0e9004 0.5px,#0e9004 93.5px,#3a8b02 292.5px,#2a8d03 359.5px,#5a8700 362.5px,#836a00 364.5px,#b83000 367.5px,#cb0400 370.5px,#d21e00 377.5px,#d42300 382.5px,#d21f00 399.5px,#cd0100 420.5px,#c90b00 427.5px,#2a8d03 428.5px,#498901 481.5px)"></i><i style="background:linear-gradient(#0e9004 0.5px,#0e9004 93.5px,#3a8b02 292.5px,#2b8d02 357.5px,#2d8c02 358.5px,#618200 361.5px,#896600 363.5px,#bd2900 366.5px,#cd0000 369.5px,#d21c00 375.5px,#d42300 381.5px,#d21e00 398.5px,#cd0000 419.5px,#c90b00 426.5px,#2a8d03 427.5px,#498901 481.5px)"></i><i style="background:linear-gradient(#0e9004 0.5px,#0e9004 93.5px,#3a8b02 292.5px,#2a8d03 359.5px,#5b8600 362.5px,#846a00 364.5px,#b82f00 367.5px,#cb0400 370.5px,#d21e00 377.5px,#d42300 382.5px,#d21e00 399.5px,#cd0100 420.5px,#c90b00 427.5px,#2a8d03 428.5px,#498901 481.5px)"></i><i style="background:linear-gradient(#0e9004 0.5px,#0e9004 93.5px,#3a8b02 292.5px,#2a8d03 359.5px,#5a8700 362.5px,#836b00 364.5px,#b73000 367.5px,#cb0500 370.5px,#d21e00 377.5px,#d42300 382.5px,#d21e00 399.5px,#cd0100 420.5px,#c90b00 427.5px,#2a8d03 428.5px,#498901 481.5px)"></i><i style="background:linear-gradient(#0e9004 0.5px,#0e9004 93.5px,#3a8b02 292.5px,#2b8d02 358.5px,#318c02 359.5px,#667f00 362.5px,#8e6100 364.5px,#bf2500 367.5px,#cd0100 370.5px,#d21d00 376.5px,#d42300 381.5px,#d21f00 398.5px,#cd0000 420.5px,#c90b00 426.5px,#2a8d03 427.5px,#498901 481.5px)"></i><i style="background:linear-gradient(#0e9004 0.5px,#0e9004 93.5px,#3a8b02 292.5px,#2b8d02 358.5px,#2f8c02 359.5px,#648000 362.5px,#8c6400 364.5px,#be2700 367.5px,#cd0100 370.5px,#d21d00 376.5px,#d42300 381.5px,#d21e00 399.5px,#cd0000 420.5px,#c90b00 427.5px,#2a8d03 428.5px,#498901 481.5px)"></i><i style="background:linear-gradient(#0e9004 0.5px,#0e9004 93.5px,#3a8b02 292.5px,#2c8c02 354.5px,#5b8600 358.5px,#8a6600 361.5px,#be2800 365.5px,#cd0100 369.5px,#d21d00 376.5px,#d42300 382.5px,#d21e00 399.5px,#cd0100 420.5px,#c90b00 427.5px,#2a8d03 428.5px,#498901 481.5px)"></i><i style="background:linear-gradient(#0e9004 0.5px,#0e9004 93.5px,#3a8b02 292.5px,#2b8d02 358.5px,#578700 361.5px,#6a7c00 362.5px,#c02300 367.5px,#cd0200 370.5px,#d21d00 376.5px,#d42300 381.5px,#d21f00 398.5px,#cd0100 419.5px,#c90b00 426.5px,#2a8d03 427.5px,#498901 481.5px)"></i><i style="background:linear-gradient(#0e9004 0.5px,#0e9004 93.5px,#3a8b02 292.5px,#2b8d02 358.5px,#578700 361.5px,#925d00 364.5px,#b33500 366.5px,#ca0800 369.5px,#cd0200 370.5px,#d21d00 376.5px,#d42300 381.5px,#d21f00 398.5px,#cd0100 419.5px,#c90b00 426.5px,#2a8d03 427.5px,#498901 481.5px)"></i><i style="background:linear-gradient(#0e9004 0.5px,#0e9004 93.5px,#3a8b02 292.5px,#2a8d03 359.5px,#308c02 360.5px,#648000 363.5px,#8d6300 365.5px,#be2700 368.5px,#cd0100 371.5px,#d21c00 377.5px,#d42300 382.5px,#d21f00 399.5px,#cd0000 421.5px,#c90a00 427.5px,#2a8d03 428.5px,#498901 481.5px)"></i><i style="background:linear-gradient(#0e9004 0.5px,#0e9004 93.5px,#3a8b02 292.5px,#2a8d03 359.5px,#598700 362.5px,#945a00 365.5px,#b63200 367.5px,#cb0600 370.5px,#ce0300 371.5px,#d21d00 377.5px,#d42300 382.5px,#d21e00 399.5px,#cd0100 420.5px,#c90b00 427.5px,#2a8d03 428.5px,#498901 481.5px)"></i><i style="background:linear-gradient(#0e9004 0.5px,#0e9004 93.5px,#3a8b02 292.5px,#2d8c02 347.5px,#598700 352.5px,#8f6000 357.5px,#be2900 362.5px,#cc0200 367.5px,#d21c00 376.5px,#d42300 382.5px,#d21e00 400.5px,#cd0100 421.5px,#c90b00 428.5px,#2b8d02 429.5px,#498901 481.5px)"></i><i style="background:linear-gradient(#0e9004 0.5px,#0e9004 93.5px,#3a8b02 292.5px,#2b8d02 358.5px,#598700 361.5px,#935b00 364.5px,#c02100 367.5px,#cb0700 369.5px,#cd0300 370.5px,#d21d00 376.5px,#d42300 381.5px,#d21e00 398.5px,#cd0100 419.5px,#c90b00 426.5px,#2a8d03 427.5px,#498901 481.5px)"></i><i style="background:linear-gradient(#0e9004 0.5px,#0e9004 93.5px,#3a8b02 292.5px,#2c8c02 353.5px,#2e8c02 354.5px,#677e00 358.5px,#876800 360.5px,#be2800 364.5px,#cd0200 368.5px,#d21b00 374.5px,#d42300 380.5px,#d21f00 397.5px,#cd0000 419.5px,#c90a00 425.5px,#298d03 426.5px,#498901 481.5px)"></i><i style="background:linear-gradient(#0e9004 0.5px,#0e9004 93.5px,#3a8b02 292.5px,#2a8d03 359.5px,#2d8c02 360.5px,#618200 363.5px,#896600 365.5px,#bd2a00 368.5px,#cd0100 371.5px,#d21c00 377.5px,#d42300 383.5px,#d21e00 400.5px,#cd0000 421.5px,#c90b00 428.5px,#2b8d02 429.5px,#498901 481.5px)"></i><i style="background:linear-gradient(#0e9004 0.5px,#0e9004 93.5px,#3a8b02 292.5px,#2d8c02 350.5px,#308c02 351.5px,#5b8700 355.5px,#8d6300 359.5px,#b82f00 363.5px,#cd0000 368.5px,#d21c00 376.5px,#d42300 382.5px,#d21f00 399.5px,#cd0000 421.5px,#c90b00 428.5px,#2b8d02 429.5px,#498901 481.5px)"></i><i style="background:linear-gradient(#0e9004 0.5px,#0e9004 93.5px,#3a8b02 292.5px,#2b8d02 355.5px,#638000 359.5px,#935b00 362.5px,#bd2900 365.5px,#cd0200 369.5px,#d21b00 375.5px,#d42300 381.5px,#d21e00 398.5px,#cd0100 419.5px,#c90b00 426.5px,#2a8d03 427.5px,#498901 481.5px)"></i><i style="background:linear-gradient(#0e9004 0.5px,#0e9004 93.5px,#3a8b02 292.5px,#2b8d02 357.5px,#2c8c02 358.5px,#5f8300 361.5px,#886700 363.5px,#bb2c00 366.5px,#cc0200 369.5px,#d21b00 375.5px,#d42300 381.5px,#d21e00 398.5px,#cd0000 419.5px,#c90b00 426.5px,#2a8d03 427.5px,#498901 481.5px)"></i><i style="background:linear-gradient(#0e9004 0.5px,#0e9004 93.5px,#3a8b02 292.5px,#2a8d03 359.5px,#5d8500 362.5px,#856900 364.5px,#b92f00 367.5px,#cb0400 370.5px,#d21d00 377.5px,#d42300 382.5px,#d21e00 399.5px,#cd0000 420.5px,#c90b00 427.5px,#2a8d03 428.5px,#498901 481.5px)"></i><i style="background:linear-gradient(#0e9004 0.5px,#0e9004 93.5px,#3a8b02 292.5px,#2b8d02 357.5px,#598700 360.5px,#925d00 363.5px,#bf2400 366.5px,#cd0100 369.5px,#d21c00 375.5px,#d42200 380.5px,#d21e00 397.5px,#cd0000 419.5px,#c90b00 426.5px,#2a8d03 427.5px,#498901 481.5px)"></i><i style="background:linear-gradient(#0e9004 0.5px,#0e9004 93.5px,#3a8b02 292.5px,#2d8c02 352.5px,#5c8600 356.5px,#866800 359.5px,#b63200 363.5px,#cd0100 368.5px,#d21b00 375.5px,#d42300 381.5px,#d21e00 398.5px,#cd0000 420.5px,#c90b00 427.5px,#2a8d03 428.5px,#498901 481.5px)"></i><i style="background:linear-gradient(#0e9004 0.5px,#0e9004 93.5px,#3a8b02 292.5px,#2c8c02 353.5px,#318c02 354.5px,#5a8700 357.5px,#8a6500 360.5px,#bf2600 364.5px,#cb0400 367.5px,#d21e00 375.5px,#d42300 380.5px,#d21e00 397.5px,#cd0100 418.5px,#c90b00 425.5px,#298d03 426.5px,#498901 481.5px)"></i><i style="background:linear-gradient(#0e9004 0.5px,#0e9004 93.5px,#3a8b02 292.5px,#2b8d02 358.5px,#2c8c02 359.5px,#5f8300 362.5px,#876700 364.5px,#bb2c00 367.5px,#cc0300 370.5px,#d21e00 377.5px,#d42300 382.5px,#d21e00 398.5px,#cd0000 420.5px,#c90b00 427.5px,#2a8d03 428.5px,#498901 481.5px)"></i><i style="background:linear-gradient(#0e9004 0.5px,#0e9004 93.5px,#1f8e03 192.5px,#548800 358.5px,#856900 361.5px,#bf2500 365.5px,#cd0100 368.5px,#d21d00 375.5px,#d42300 381.5px,#d21e00 397.5px,#cd0100 418.5px,#c90b00 425.5px,#6b7b00 426.5px,#915e00 481.5px)"></i><i style="background:linear-gradient(#0e9004 0.5px,#308c02 192.5px,#580 278.5px,#896600 285.5px,#bc2b00 293.5px,#cd0200 302.5px,#e14600 336.5px,#f5c800 392.5px,#fbe900 410.5px,#fcef00 419.5px,#fae300 429.5px,#f4c300 437.5px,#ec9000 444.5px,#e04300 451.5px,#ce0900 459.5px,#a44700 460.5px,#b03800 481.5px)"></i><i style="background:linear-gradient(#0e9004 0.5px,#308c02 192.5px,#580 280.5px,#860 287.5px,#bd2900 295.5px,#cd0000 303.5px,#e14600 337.5px,#f5c800 391.5px,#fcee00 411.5px,#fdf500 420.5px,#fbea00 430.5px,#f5cb00 438.5px,#ed9700 445.5px,#e14800 452.5px,#cf0b00 460.5px,#965800 461.5px,#9d5000 481.5px)"></i><i style="background:linear-gradient(#0e9004 0.5px,#3e8a01 226.5px,#468901 244.5px,#588700 249.5px,#8e6200 262.5px,#be2800 276.5px,#cd0000 290.5px,#cd0100 302.5px,#e14700 336.5px,#f5c700 389.5px,#fcef00 410.5px,#fdf500 419.5px,#fbe800 429.5px,#f5c800 437.5px,#ec9300 444.5px,#e04400 451.5px,#cf0900 459.5px,#a74300 460.5px,#9d5000 481.5px)"></i><i style="background:linear-gradient(#0e9004 0.5px,#3e8a01 226.5px,#468901 244.5px,#588700 249.5px,#8e6200 262.5px,#be2800 276.5px,#cd0000 290.5px,#cd0100 303.5px,#e14700 337.5px,#f5c700 390.5px,#fcef00 411.5px,#fdf500 420.5px,#fbe800 430.5px,#f5c700 438.5px,#ec9200 445.5px,#e04300 452.5px,#ce0800 460.5px,#a74400 461.5px,#9d5000 481.5px)"></i><i style="background:linear-gradient(#0e9004 0.5px,#3e8a01 226.5px,#468901 244.5px,#588700 249.5px,#8e6200 262.5px,#be2800 276.5px,#cd0000 290.5px,#cd0200 300.5px,#e14600 334.5px,#f5c900 389.5px,#fcee00 409.5px,#fdf500 418.5px,#fbea00 428.5px,#f5c600 437.5px,#ec9000 444.5px,#df4100 451.5px,#cf0d00 458.5px,#a84300 459.5px,#9d5000 481.5px)"></i><i style="background:linear-gradient(#0e9004 0.5px,#3e8a01 226.5px,#468901 244.5px,#588700 249.5px,#8e6200 262.5px,#be2800 276.5px,#cd0000 290.5px,#cd0100 303.5px,#e14600 336.5px,#f5c700 389.5px,#fcee00 409.5px,#fdf500 418.5px,#fbea00 428.5px,#f5c500 437.5px,#eb8f00 444.5px,#df4000 451.5px,#cf0c00 458.5px,#a84300 459.5px,#9d5000 481.5px)"></i><i style="background:linear-gradient(#1f8e03 0.5px,#408a01 92.5px,#5a8700 111.5px,#8d6300 143.5px,#be2800 180.5px,#c31b00 192.5px,#be2800 201.5px,#8c6400 226.5px,#667f00 243.5px,#8d6300 254.5px,#bd2900 270.5px,#cd0000 287.5px,#ce0600 300.5px,#e14500 332.5px,#f5c900 388.5px,#fcef00 409.5px,#fdf500 418.5px,#fbe900 428.5px,#f5c800 436.5px,#ec9300 443.5px,#e04400 450.5px,#cf0900 458.5px,#a94200 459.5px,#9d5000 481.5px)"></i><i style="background:linear-gradient(#1f8e03 0.5px,#408a01 92.5px,#5a8700 111.5px,#8d6300 143.5px,#be2800 180.5px,#c31b00 192.5px,#be2800 201.5px,#8c6400 226.5px,#667f00 243.5px,#8d6300 254.5px,#bd2900 270.5px,#cd0000 287.5px,#ce0400 304.5px,#e14600 336.5px,#f5c700 390.5px,#fcef00 411.5px,#fdf500 420.5px,#fbe900 430.5px,#f5c800 438.5px,#ec9300 445.5px,#e04400 452.5px,#cf0900 460.5px,#a84300 461.5px,#9d5000 481.5px)"></i><i style="background:linear-gradient(#0e9004 0.5px,#3e8a01 226.5px,#468901 244.5px,#588700 249.5px,#8e6200 262.5px,#be2800 276.5px,#cd0000 290.5px,#cd0200 300.5px,#e14600 334.5px,#f5c800 389.5px,#fcef00 410.5px,#fdf500 419.5px,#fbe900 429.5px,#f5c900 437.5px,#eb8b00 445.5px,#e14500 451.5px,#cf0a00 459.5px,#a74300 460.5px,#9d5000 481.5px)"></i><i style="background:linear-gradient(#0e9004 0.5px,#3e8a01 226.5px,#468901 244.5px,#588700 249.5px,#8e6200 262.5px,#be2800 276.5px,#cd0000 290.5px,#cd0100 303.5px,#e14700 337.5px,#f5c800 391.5px,#fcee00 411.5px,#fdf500 420.5px,#fbea00 430.5px,#f5c500 439.5px,#eb8f00 446.5px,#df4000 453.5px,#cf0c00 460.5px,#a74400 461.5px,#9d5000 481.5px)"></i><i style="background:linear-gradient(#0e9004 0.5px,#308c02 192.5px,#588700 283.5px,#8f6100 290.5px,#bd2900 297.5px,#cd0100 305.5px,#e14700 338.5px,#f5c800 390.5px,#fcec00 409.5px,#fdf400 418.5px,#fbe800 428.5px,#f5c800 436.5px,#eb8b00 444.5px,#e14600 450.5px,#cf0a00 458.5px,#965800 459.5px,#9d5000 481.5px)"></i><i style="background:linear-gradient(#0e9004 0.5px,#308c02 192.5px,#598700 291.5px,#8d6300 298.5px,#bc2a00 305.5px,#cd0100 313.5px,#e14600 345.5px,#f5c800 397.5px,#fae200 411.5px,#fbe800 419.5px,#f9dc00 429.5px,#f3bc00 437.5px,#eb8a00 444.5px,#df4000 451.5px,#ce0800 459.5px,#965800 460.5px,#9d5000 481.5px)"></i><i style="background:linear-gradient(#0e9004 0.5px,#308c02 192.5px,#5a8700 293.5px,#5b8600 294.5px,#8d6300 300.5px,#bd2a00 307.5px,#cd0100 315.5px,#e14700 347.5px,#f5c600 397.5px,#fae200 411.5px,#fbe800 419.5px,#f9dc00 429.5px,#f3be00 437.5px,#eb8d00 444.5px,#e04200 451.5px,#cf0900 459.5px,#965800 460.5px,#9d5000 481.5px)"></i><i style="background:linear-gradient(#0e9004 0.5px,#308c02 192.5px,#5b8700 294.5px,#8b6500 300.5px,#ba2c00 307.5px,#cd0000 315.5px,#e14600 347.5px,#f5c600 398.5px,#fae200 412.5px,#fbe800 420.5px,#f9dc00 430.5px,#f3be00 438.5px,#eb8d00 445.5px,#e04300 452.5px,#cf0a00 460.5px,#965800 461.5px,#9d5000 481.5px)"></i><i style="background:linear-gradient(#0e9004 0.5px,#308c02 192.5px,#5c8600 298.5px,#8e6100 304.5px,#be2700 311.5px,#cd0000 318.5px,#e14500 349.5px,#f5c700 399.5px,#fae200 413.5px,#fbe700 421.5px,#f9dd00 430.5px,#f4c000 438.5px,#ec9000 445.5px,#e14500 452.5px,#cf0b00 460.5px,#965800 461.5px,#9d5000 481.5px)"></i><i style="background:linear-gradient(#0e9004 0.5px,#3a8b02 92.5px,#5a8700 139.5px,#856900 192.5px,#5b8600 225.5px,#488901 242.5px,#598700 254.5px,#8e6100 285.5px,#be2700 293.5px,#cd0100 301.5px,#e14600 335.5px,#f5c800 390.5px,#fced00 410.5px,#fdf300 418.5px,#fbe800 428.5px,#f5ca00 436.5px,#ed9700 443.5px,#df4100 451.5px,#cf0c00 458.5px,#965800 459.5px,#9d5000 481.5px)"></i><i style="background:linear-gradient(#308c02 0.5px,#5a8700 57.5px,#787200 92.5px,#be2800 150.5px,#cd0000 192.5px,#be2800 214.5px,#8d6300 235.5px,#7a7100 243.5px,#be2800 266.5px,#cd0000 284.5px,#ce0800 299.5px,#e14500 331.5px,#f5c700 388.5px,#fcec00 409.5px,#fdf300 418.5px,#fbe700 428.5px,#f5c800 436.5px,#eb8b00 444.5px,#e14600 450.5px,#cf0a00 458.5px,#aa4100 459.5px,#9d5000 481.5px)"></i><i style="background:linear-gradient(#308c02 0.5px,#5a8700 57.5px,#787200 92.5px,#be2800 150.5px,#cd0000 192.5px,#be2800 214.5px,#8d6300 235.5px,#7a7100 243.5px,#be2800 266.5px,#cd0000 284.5px,#ce0700 303.5px,#e14500 334.5px,#f5c800 389.5px,#fcec00 409.5px,#fdf300 417.5px,#fbe800 427.5px,#f4c500 436.5px,#ec9000 443.5px,#df4200 450.5px,#ce0800 458.5px,#aa4100 459.5px,#9d5000 481.5px)"></i><i style="background:linear-gradient(#308c02 0.5px,#5a8700 57.5px,#787200 92.5px,#be2800 150.5px,#cd0000 192.5px,#be2800 214.5px,#8d6300 235.5px,#7a7100 243.5px,#be2800 266.5px,#cd0000 284.5px,#ce0700 304.5px,#e14600 336.5px,#f5c700 391.5px,#fcec00 411.5px,#fdf300 420.5px,#fbe700 430.5px,#f5c700 438.5px,#eb8b00 446.5px,#e14600 452.5px,#cf0a00 460.5px,#a84200 461.5px,#9d5000 481.5px)"></i><i style="background:linear-gradient(#308c02 0.5px,#5a8700 57.5px,#787200 92.5px,#be2800 150.5px,#cd0000 192.5px,#be2800 214.5px,#8d6300 235.5px,#7a7100 243.5px,#be2800 266.5px,#cd0000 284.5px,#ce0900 293.5px,#ce0600 307.5px,#e14600 338.5px,#f5c700 391.5px,#fbec00 410.5px,#fdf200 419.5px,#fae600 429.5px,#f5c700 437.5px,#ec9300 444.5px,#e04400 451.5px,#cf0a00 459.5px,#a94100 460.5px,#9d5000 481.5px)"></i><i style="background:linear-gradient(#0e9004 0.5px,#248d03 122.5px,#3e8a01 192.5px,#388b02 211.5px,#508801 269.5px,#876800 277.5px,#be2800 286.5px,#cd0100 295.5px,#e14700 331.5px,#f5c700 388.5px,#fbec00 409.5px,#fdf300 418.5px,#fbe800 428.5px,#f5ca00 436.5px,#ed9700 443.5px,#df4100 451.5px,#cf0c00 458.5px,#965800 459.5px,#9d5000 481.5px)"></i><i style="background:linear-gradient(#0e9004 0.5px,#308c02 192.5px,#528800 273.5px,#8b6500 281.5px,#bc2a00 289.5px,#cd0100 298.5px,#e14600 333.5px,#f5c800 390.5px,#fcec00 410.5px,#fdf300 419.5px,#fbe600 429.5px,#f5c700 437.5px,#ec9300 444.5px,#e04500 451.5px,#cf0a00 459.5px,#965800 460.5px,#9d5000 481.5px)"></i><i style="background:linear-gradient(#0e9004 0.5px,#308c02 192.5px,#598700 291.5px,#8b6500 297.5px,#bc2a00 304.5px,#cd0100 312.5px,#e14600 343.5px,#f5c700 393.5px,#fbe700 409.5px,#fced00 417.5px,#fae100 427.5px,#f4c200 435.5px,#ec8f00 442.5px,#e04300 449.5px,#cf0900 457.5px,#955900 458.5px,#9d5000 481.5px)"></i><i style="background:linear-gradient(#0e9004 0.5px,#308c02 192.5px,#578700 282.5px,#8d6300 289.5px,#ba2d00 296.5px,#cd0200 305.5px,#e14500 338.5px,#f5c700 392.5px,#fbe700 409.5px,#fced00 418.5px,#fae300 427.5px,#f5c600 435.5px,#eb8c00 443.5px,#df4000 450.5px,#ce0800 458.5px,#965800 459.5px,#9d5000 481.5px)"></i><i style="background:linear-gradient(#0e9004 0.5px,#308c02 192.5px,#568800 282.5px,#8a6600 289.5px,#bd2900 297.5px,#cd0000 305.5px,#e14500 339.5px,#f5c700 394.5px,#fbe700 411.5px,#fced00 420.5px,#f9e100 430.5px,#f4c100 438.5px,#eb8d00 445.5px,#df4100 452.5px,#ce0800 460.5px,#965800 461.5px,#9d5000 481.5px)"></i><i style="background:linear-gradient(#0e9004 0.5px,#308c02 192.5px,#588700 288.5px,#8f6000 295.5px,#be2800 302.5px,#cd0100 310.5px,#e14500 342.5px,#f5c600 394.5px,#fbe700 411.5px,#fced00 419.5px,#fae200 429.5px,#f4c400 437.5px,#ec9200 444.5px,#e14600 451.5px,#cf0b00 459.5px,#965800 460.5px,#9d5000 481.5px)"></i><i style="background:linear-gradient(#0e9004 0.5px,#308c02 192.5px,#5a8700 290.5px,#8b6500 296.5px,#bb2c00 303.5px,#cd0000 311.5px,#e14500 343.5px,#f5c800 395.5px,#fbe700 411.5px,#fced00 419.5px,#fae200 429.5px,#f4c300 437.5px,#ec9100 444.5px,#e04400 451.5px,#cf0a00 459.5px,#965800 460.5px,#9d5000 481.5px)"></i><i style="background:linear-gradient(#0e9004 0.5px,#308c02 192.5px,#568700 284.5px,#8c6400 291.5px,#ba2d00 298.5px,#cd0100 306.5px,#e14700 340.5px,#f5c700 393.5px,#fbe700 410.5px,#fced00 418.5px,#fae200 428.5px,#f4c300 436.5px,#ec9100 443.5px,#e14500 450.5px,#cf0a00 458.5px,#965800 459.5px,#9d5000 481.5px)"></i><i style="background:linear-gradient(#0e9004 0.5px,#308c02 192.5px,#588700 288.5px,#8e6100 295.5px,#bd2900 302.5px,#cd0100 310.5px,#e14700 343.5px,#f5c800 395.5px,#fced00 419.5px,#fae200 429.5px,#f4c500 437.5px,#ec9400 444.5px,#e14800 451.5px,#cf0c00 459.5px,#965800 460.5px,#9d5000 481.5px)"></i><i style="background:linear-gradient(#0e9004 0.5px,#308c02 192.5px,#578700 286.5px,#8a6600 293.5px,#be2800 301.5px,#cd0100 309.5px,#e14600 342.5px,#f5c700 395.5px,#fbe700 412.5px,#fced00 420.5px,#fae200 430.5px,#f4c500 438.5px,#ec9300 445.5px,#e14700 452.5px,#cf0c00 460.5px,#965800 461.5px,#9d5000 481.5px)"></i><i style="background:linear-gradient(#0e9004 0.5px,#308c02 192.5px,#598700 291.5px,#8e6100 298.5px,#be2700 305.5px,#cd0100 312.5px,#e14700 344.5px,#f5c700 394.5px,#fbe700 410.5px,#fced00 418.5px,#fae100 428.5px,#f4c200 436.5px,#ec9000 443.5px,#e04300 450.5px,#cf0a00 458.5px,#965800 459.5px,#9d5000 481.5px)"></i><i style="background:linear-gradient(#0e9004 0.5px,#308c02 192.5px,#578700 286.5px,#8c6400 293.5px,#ba2c00 300.5px,#cd0100 308.5px,#e14500 341.5px,#f5c700 394.5px,#fbe700 411.5px,#fced00 419.5px,#fae100 429.5px,#f4c200 437.5px,#ec9000 444.5px,#e04300 451.5px,#cf0a00 459.5px,#965800 460.5px,#9d5000 481.5px)"></i><i style="background:linear-gradient(#0e9004 0.5px,#308c02 192.5px,#598700 289.5px,#8c6400 296.5px,#bb2b00 303.5px,#cd0100 311.5px,#e14600 343.5px,#f5c700 394.5px,#fbe800 411.5px,#fced00 419.5px,#f9e000 429.5px,#f4c000 437.5px,#eb8c00 444.5px,#df4000 451.5px,#ce0800 459.5px,#965800 460.5px,#9d5000 481.5px)"></i><i style="background:linear-gradient(#0e9004 0.5px,#308c02 192.5px,#568700 283.5px,#8a6500 290.5px,#be2800 298.5px,#cd0100 306.5px,#e14700 340.5px,#f5c800 394.5px,#fbe700 411.5px,#fced00 419.5px,#fae200 429.5px,#f4c400 437.5px,#ec9200 444.5px,#e14600 451.5px,#cf0b00 459.5px,#965800 460.5px,#9d5000 481.5px)"></i><i style="background:linear-gradient(#0e9004 0.5px,#308c02 192.5px,#598700 286.5px,#896600 292.5px,#be2800 300.5px,#cd0100 308.5px,#e14600 341.5px,#f5c800 394.5px,#fbe800 411.5px,#fced00 419.5px,#fae100 429.5px,#f4c200 437.5px,#ec9000 444.5px,#e04300 451.5px,#cf0a00 459.5px,#965800 460.5px,#9d5000 481.5px)"></i><i style="background:linear-gradient(#0e9004 0.5px,#308c02 192.5px,#578700 286.5px,#8e6200 293.5px,#bc2a00 300.5px,#cd0000 308.5px,#e14600 341.5px,#f5c800 394.5px,#fbe800 411.5px,#fced00 419.5px,#fae100 429.5px,#f4c200 437.5px,#eb8e00 444.5px,#e04200 451.5px,#ce0900 459.5px,#965800 460.5px,#9d5000 481.5px)"></i><i style="background:linear-gradient(#0e9004 0.5px,#308c02 192.5px,#598700 290.5px,#886700 296.5px,#be2700 304.5px,#cd0100 311.5px,#e14600 343.5px,#f5c700 394.5px,#fbe700 410.5px,#fced00 418.5px,#fae200 428.5px,#f4c400 436.5px,#ec9200 443.5px,#e14600 450.5px,#cf0b00 458.5px,#965800 459.5px,#9d5000 481.5px)"></i><i style="background:linear-gradient(#0e9004 0.5px,#308c02 192.5px,#588700 288.5px,#8e6200 295.5px,#bd2a00 302.5px,#cd0100 310.5px,#e14500 342.5px,#f5c700 394.5px,#fbe700 411.5px,#fced00 419.5px,#fae100 429.5px,#f4c200 437.5px,#ec8f00 444.5px,#e04300 451.5px,#cf0900 459.5px,#965800 460.5px,#9d5000 481.5px)"></i><i style="background:linear-gradient(#0e9004 0.5px,#308c02 192.5px,#588700 284.5px,#8e6200 291.5px,#bc2b00 298.5px,#cd0000 306.5px,#e14700 340.5px,#f5c700 393.5px,#fced00 418.5px,#fae200 428.5px,#f5c500 436.5px,#ec9400 443.5px,#e14800 450.5px,#cf0c00 458.5px,#965800 459.5px,#9d5000 481.5px)"></i><i style="background:linear-gradient(#0e9004 0.5px,#308c02 192.5px,#588700 288.5px,#8b6400 295.5px,#bb2c00 302.5px,#cd0000 310.5px,#e14700 343.5px,#f5c700 394.5px,#fbe800 411.5px,#fced00 419.5px,#fae100 429.5px,#f4c200 437.5px,#eb8e00 444.5px,#e04200 451.5px,#ce0900 459.5px,#965800 460.5px,#9d5000 481.5px)"></i><i style="background:linear-gradient(#0e9004 0.5px,#308c02 192.5px,#598700 289.5px,#896600 295.5px,#be2700 303.5px,#cd0100 310.5px,#e14700 343.5px,#f5c700 394.5px,#fbe700 411.5px,#fced00 419.5px,#fae100 429.5px,#f4c200 437.5px,#ec8f00 444.5px,#e04300 451.5px,#cf0900 459.5px,#965800 460.5px,#9d5000 481.5px)"></i><i style="background:linear-gradient(#0e9004 0.5px,#308c02 192.5px,#588700 286.5px,#8e6100 293.5px,#bc2a00 300.5px,#cd0000 308.5px,#e14500 341.5px,#f5c700 394.5px,#fbe700 411.5px,#fced00 419.5px,#fae200 429.5px,#f5c500 437.5px,#ec9400 444.5px,#e14800 451.5px,#cf0c00 459.5px,#965800 460.5px,#9d5000 481.5px)"></i><i style="background:linear-gradient(#0e9004 0.5px,#308c02 192.5px,#578700 285.5px,#8a6500 292.5px,#be2700 300.5px,#cd0100 308.5px,#e14700 341.5px,#f5c600 393.5px,#fbe700 410.5px,#fced00 418.5px,#fae200 428.5px,#f5c500 436.5px,#ec9400 443.5px,#e14800 450.5px,#cf0c00 458.5px,#965800 459.5px,#9d5000 481.5px)"></i><i style="background:linear-gradient(#648000 0.5px,#9d5000 93.5px,#be2800 193.5px,#cd0000 292.5px,#cd0100 308.5px,#e14600 341.5px,#f5c800 394.5px,#fbe800 411.5px,#fced00 419.5px,#f9e100 429.5px,#f4c100 437.5px,#eb8d00 444.5px,#df4100 451.5px,#ce0800 459.5px,#965800 460.5px,#9d5000 481.5px)"></i><i style="background:linear-gradient(#648000 0.5px,#9c5000 92.5px,#bf2700 196.5px,#cd0000 222.5px,#d82d00 292.5px,#d72a00 300.5px,#f5c700 388.5px,#fced00 419.5px,#fae300 429.5px,#f5c700 437.5px,#ed9700 444.5px,#e04200 452.5px,#ce0900 460.5px,#965800 461.5px,#9d5000 481.5px)"></i><i style="background:linear-gradient(#288d03 0.5px,#358b02 35.5px,#5a8700 69.5px,#8c6400 109.5px,#be2800 159.5px,#cd0000 200.5px,#e14600 292.5px,#d82d00 341.5px,#e56200 392.5px,#e56400 405.5px,#e35700 414.5px,#cd0100 441.5px,#ca0800 444.5px,#bc2b00 445.5px,#797100 481.5px)"></i><i style="background:linear-gradient(#0e9004 0.5px,#308c02 92.5px,#5b8700 143.5px,#8c6300 193.5px,#be2900 242.5px,#cd0000 293.5px,#c90c00 316.5px,#cd0000 321.5px,#e14600 375.5px,#e56300 391.5px,#e66900 402.5px,#e56100 412.5px,#cd0000 442.5px,#cb0600 444.5px,#925d00 445.5px,#787200 481.5px)"></i><i style="background:linear-gradient(#0e9004 0.5px,#308c02 92.5px,#5b8700 143.5px,#8c6300 193.5px,#be2900 242.5px,#cd0000 293.5px,#c90b00 314.5px,#cd0000 318.5px,#e14600 374.5px,#e66700 392.5px,#e76e00 403.5px,#e66700 413.5px,#cd0000 444.5px,#cb0600 446.5px,#915e00 447.5px,#787200 481.5px)"></i><i style="background:linear-gradient(#0e9004 0.5px,#308c02 92.5px,#5b8700 143.5px,#8c6300 193.5px,#be2900 242.5px,#cd0000 293.5px,#c90c00 316.5px,#cd0100 321.5px,#e14600 371.5px,#e77300 393.5px,#e87900 405.5px,#e77000 414.5px,#cd0100 444.5px,#cb0500 446.5px,#915e00 447.5px,#787200 481.5px)"></i><i style="background:linear-gradient(#0e9004 0.5px,#308c02 92.5px,#5b8700 143.5px,#8c6300 193.5px,#be2900 242.5px,#cd0000 293.5px,#ca0900 310.5px,#cd0100 314.5px,#e14600 363.5px,#ea8600 394.5px,#eb8c00 406.5px,#e98100 415.5px,#d01400 439.5px,#cd0100 445.5px,#cb0500 447.5px,#905f00 448.5px,#787200 481.5px)"></i><i style="background:linear-gradient(#0e9004 0.5px,#308c02 92.5px,#5b8700 143.5px,#8c6300 193.5px,#be2900 242.5px,#cd0000 292.5px,#ca0900 311.5px,#cd0000 314.5px,#e14700 359.5px,#ed9800 396.5px,#ed9b00 409.5px,#eb8e00 417.5px,#da3200 434.5px,#cd0100 446.5px,#cb0500 448.5px,#8f6000 449.5px,#787200 481.5px)"></i><i style="background:linear-gradient(#0e9004 0.5px,#308c02 92.5px,#5b8700 143.5px,#8c6300 193.5px,#be2900 242.5px,#cd0000 292.5px,#ca0900 310.5px,#cd0100 313.5px,#e14600 354.5px,#efa600 396.5px,#f0a900 409.5px,#ed9b00 417.5px,#ea8400 422.5px,#db3600 434.5px,#cd0100 446.5px,#cb0500 448.5px,#8f6000 449.5px,#787200 481.5px)"></i><i style="background:linear-gradient(#1f8e03 0.5px,#648000 92.5px,#8c6400 121.5px,#be2800 164.5px,#c80d00 193.5px,#cd0000 242.5px,#cd0300 306.5px,#e14700 349.5px,#f1b200 399.5px,#f2b500 411.5px,#efa600 419.5px,#eb8b00 425.5px,#db3600 437.5px,#cd0100 449.5px,#cc0300 450.5px,#915e00 451.5px,#787200 481.5px)"></i><i style="background:linear-gradient(#1f8e03 0.5px,#648000 92.5px,#8c6400 121.5px,#be2800 164.5px,#c80d00 193.5px,#cd0000 243.5px,#ce0400 278.5px,#e14700 331.5px,#f3bc00 400.5px,#f3be00 413.5px,#f1af00 421.5px,#eb8c00 428.5px,#dc3800 439.5px,#cd0100 451.5px,#cc0300 452.5px,#8f6000 453.5px,#787200 481.5px)"></i><i style="background:linear-gradient(#1f8e03 0.5px,#648000 92.5px,#8c6400 121.5px,#be2800 164.5px,#c80d00 193.5px,#cd0000 242.5px,#ce0500 282.5px,#e14600 330.5px,#f5ca00 401.5px,#f6cb00 414.5px,#f3b900 422.5px,#eb8b00 430.5px,#dc3900 440.5px,#d01200 447.5px,#cd0000 452.5px,#8f6000 453.5px,#787200 481.5px)"></i><i style="background:linear-gradient(#1f8e03 0.5px,#648000 92.5px,#8c6400 121.5px,#be2800 164.5px,#c80d00 193.5px,#cd0000 242.5px,#ce0500 282.5px,#e14600 328.5px,#f7d100 401.5px,#f7d100 414.5px,#f4c200 421.5px,#eb8c00 430.5px,#de3e00 439.5px,#cd0100 451.5px,#cc0200 452.5px,#8f6000 453.5px,#787200 481.5px)"></i><i style="background:linear-gradient(#1f8e03 0.5px,#648000 92.5px,#8c6400 121.5px,#be2800 164.5px,#c80d00 193.5px,#cd0000 242.5px,#ce0500 281.5px,#e14600 328.5px,#f7d200 403.5px,#f7d300 416.5px,#f4c100 424.5px,#ec9200 432.5px,#dd3b00 442.5px,#d01300 449.5px,#cd0000 454.5px,#8e6200 455.5px,#787200 481.5px)"></i><i style="background:linear-gradient(#5b8600 0.5px,#8d6300 31.5px,#bd2900 67.5px,#c80d00 93.5px,#cd0000 143.5px,#cf0e00 258.5px,#e14600 305.5px,#f9e000 400.5px,#fbe700 413.5px,#f9e000 420.5px,#f5c900 426.5px,#ec9000 434.5px,#df4200 442.5px,#ce0400 453.5px,#cc0200 455.5px,#c61200 456.5px,#c31a00 481.5px)"></i><i style="background:linear-gradient(#5b8600 0.5px,#8d6300 31.5px,#bd2900 67.5px,#c80d00 93.5px,#cd0000 143.5px,#cf0d00 253.5px,#e14600 302.5px,#fae200 402.5px,#fbe800 415.5px,#f9e000 422.5px,#f5c900 428.5px,#eb8e00 436.5px,#df4000 444.5px,#ce0300 455.5px,#cd0100 456.5px,#c61200 457.5px,#c31a00 481.5px)"></i><i style="background:linear-gradient(#5b8600 0.5px,#8d6300 31.5px,#bd2900 67.5px,#c80d00 93.5px,#cd0000 143.5px,#cf0d00 249.5px,#e14700 300.5px,#fae400 403.5px,#fbe900 416.5px,#fae100 423.5px,#f5ca00 429.5px,#ec8f00 437.5px,#df4000 445.5px,#ce0300 456.5px,#cd0100 457.5px,#c61200 458.5px,#c31a00 481.5px)"></i><i style="background:linear-gradient(#5b8600 0.5px,#8d6300 31.5px,#bd2900 67.5px,#c80d00 93.5px,#cd0000 143.5px,#cf0e00 257.5px,#e14600 304.5px,#fae400 402.5px,#fbeb00 415.5px,#fae300 422.5px,#f5c700 429.5px,#ec9200 436.5px,#df4200 444.5px,#ce0400 455.5px,#cd0100 456.5px,#c61200 457.5px,#c31a00 481.5px)"></i><i style="background:linear-gradient(#5b8600 0.5px,#8d6300 31.5px,#bd2900 67.5px,#c80d00 93.5px,#cd0000 143.5px,#cf0d00 252.5px,#e14600 301.5px,#fae600 404.5px,#fcec00 417.5px,#fae300 425.5px,#f5c900 431.5px,#eb8c00 439.5px,#e04400 446.5px,#ce0500 457.5px,#cd0100 459.5px,#c61300 460.5px,#c31a00 481.5px)"></i><i style="background:linear-gradient(#248d03 0.5px,#598700 68.5px,#717700 93.5px,#8f6000 196.5px,#c12100 251.5px,#cd0100 262.5px,#e14600 314.5px,#fae300 403.5px,#fbea00 415.5px,#fae400 423.5px,#f5c800 430.5px,#eb8c00 438.5px,#e04500 445.5px,#d01200 453.5px,#cd0200 457.5px,#cd0100 458.5px,#8f6100 459.5px,#905f00 481.5px)"></i><i style="background:linear-gradient(#0e9004 0.5px,#308c02 92.5px,#5b8700 143.5px,#8c6300 193.5px,#be2900 242.5px,#cd0000 292.5px,#cd0100 301.5px,#e14700 342.5px,#f8d700 407.5px,#f8da00 420.5px,#f5c900 428.5px,#ec9100 437.5px,#df3f00 446.5px,#d01000 454.5px,#cd0100 458.5px,#cc0200 459.5px,#886700 460.5px,#787200 481.5px)"></i><i style="background:linear-gradient(#0e9004 0.5px,#308c02 92.5px,#5b8700 143.5px,#8c6300 193.5px,#be2900 242.5px,#cd0000 292.5px,#cd0100 306.5px,#e14500 345.5px,#f8d800 408.5px,#f8da00 420.5px,#f5c900 428.5px,#ec9200 437.5px,#df4000 446.5px,#cd0200 458.5px,#cd0100 459.5px,#886700 460.5px,#787200 481.5px)"></i><i style="background:linear-gradient(#0e9004 0.5px,#308c02 92.5px,#5b8700 143.5px,#8c6300 193.5px,#be2900 242.5px,#cd0000 292.5px,#cd0000 306.5px,#e14500 345.5px,#f8d800 409.5px,#f8da00 421.5px,#f5c900 429.5px,#ec9100 438.5px,#de3f00 447.5px,#d01000 455.5px,#cd0100 459.5px,#cc0200 460.5px,#876700 461.5px,#787200 481.5px)"></i><i style="background:linear-gradient(#248d03 0.5px,#598700 68.5px,#717700 93.5px,#8f6000 196.5px,#bf2500 246.5px,#cd0000 258.5px,#e14600 312.5px,#fae400 405.5px,#fbeb00 417.5px,#fae400 425.5px,#f5c900 432.5px,#eb8d00 440.5px,#e14500 447.5px,#d01200 455.5px,#cd0200 459.5px,#cd0100 460.5px,#8f6100 461.5px,#905f00 481.5px)"></i><i style="background:linear-gradient(#5b8600 0.5px,#8d6300 31.5px,#bd2900 67.5px,#c80d00 93.5px,#cd0000 143.5px,#cf0d00 253.5px,#e14600 301.5px,#fbe700 403.5px,#fcee00 416.5px,#fae500 424.5px,#f6cd00 430.5px,#ec9000 438.5px,#e14700 445.5px,#ce0600 456.5px,#cd0000 458.5px,#c61300 459.5px,#c31a00 481.5px)"></i><i style="background:linear-gradient(#5b8600 0.5px,#8d6300 31.5px,#bd2900 67.5px,#c80d00 93.5px,#cd0000 143.5px,#cf0d00 251.5px,#e14600 300.5px,#fbe800 405.5px,#fcee00 418.5px,#fbe600 425.5px,#f5c900 432.5px,#eb8b00 440.5px,#e04300 447.5px,#ce0400 458.5px,#cd0100 459.5px,#c61300 460.5px,#c31a00 481.5px)"></i><i style="background:linear-gradient(#5b8600 0.5px,#8d6300 31.5px,#bd2900 67.5px,#c80d00 93.5px,#cd0000 143.5px,#cf0d00 250.5px,#e14600 299.5px,#fbe700 403.5px,#fcee00 416.5px,#fae500 424.5px,#f6cc00 430.5px,#ec9000 438.5px,#e14700 445.5px,#ce0600 456.5px,#cd0000 458.5px,#c61300 459.5px,#c31a00 481.5px)"></i><i style="background:linear-gradient(#5b8600 0.5px,#8d6300 31.5px,#bd2900 67.5px,#c80d00 93.5px,#cd0000 143.5px,#d01000 276.5px,#e14600 317.5px,#fae300 405.5px,#fbea00 418.5px,#f9e000 426.5px,#f5c600 432.5px,#ec9200 439.5px,#e04200 447.5px,#ce0400 458.5px,#cd0100 459.5px,#c61300 460.5px,#c31a00 481.5px)"></i><i style="background:linear-gradient(#0e9004 0.5px,#308c02 92.5px,#5b8700 143.5px,#8c6300 193.5px,#be2900 242.5px,#cd0000 292.5px,#cd0100 303.5px,#e14600 344.5px,#f8d700 409.5px,#f8da00 422.5px,#f5c900 430.5px,#ec9100 439.5px,#de3f00 448.5px,#d01000 456.5px,#cd0100 460.5px,#cc0200 461.5px,#866800 462.5px,#787200 481.5px)"></i><i style="background:linear-gradient(#0e9004 0.5px,#308c02 92.5px,#5b8700 143.5px,#8c6300 193.5px,#be2900 242.5px,#cd0000 292.5px,#cd0100 306.5px,#e14700 346.5px,#f8d700 410.5px,#f8d900 423.5px,#f5c600 431.5px,#eb8d00 440.5px,#dd3c00 449.5px,#d01200 456.5px,#cd0000 461.5px,#866800 462.5px,#787200 481.5px)"></i><i style="background:linear-gradient(#0e9004 0.5px,#308c02 92.5px,#5b8700 143.5px,#8c6300 193.5px,#be2900 242.5px,#cd0000 292.5px,#cd0100 305.5px,#e14700 346.5px,#f8d700 410.5px,#f8da00 423.5px,#f5c900 431.5px,#ec9100 440.5px,#df3f00 449.5px,#d01000 457.5px,#cd0100 461.5px,#cc0200 462.5px,#866800 463.5px,#787200 481.5px)"></i><i style="background:linear-gradient(#0e9004 0.5px,#308c02 92.5px,#5b8700 143.5px,#8c6300 193.5px,#be2900 242.5px,#c31c00 258.5px,#cd0100 267.5px,#e14600 317.5px,#fbea00 408.5px,#fced00 422.5px,#f8da00 430.5px,#f0a700 438.5px,#de3e00 449.5px,#cd0200 460.5px,#cd0100 461.5px,#866800 462.5px,#787200 481.5px)"></i><i style="background:linear-gradient(#498901 0.5px,#5a8700 37.5px,#787200 93.5px,#be2800 192.5px,#c90a00 267.5px,#cd0000 270.5px,#e14700 320.5px,#fced00 413.5px,#fbea00 425.5px,#f7d500 432.5px,#ee9e00 440.5px,#e04400 449.5px,#d01100 457.5px,#cd0100 461.5px,#cc0200 462.5px,#866800 463.5px,#787200 481.5px)"></i><i style="background:linear-gradient(#498901 0.5px,#5a8700 37.5px,#787200 93.5px,#be2800 192.5px,#c80c00 262.5px,#cd0000 266.5px,#e14600 317.5px,#fced00 413.5px,#fbeb00 425.5px,#f7d500 432.5px,#ee9f00 440.5px,#e14500 449.5px,#d01200 457.5px,#cd0200 461.5px,#cd0100 462.5px,#866800 463.5px,#787200 481.5px)"></i><i style="background:linear-gradient(#498901 0.5px,#5a8700 37.5px,#787200 93.5px,#be2800 192.5px,#c90b00 265.5px,#cd0100 269.5px,#e14600 319.5px,#fced00 414.5px,#fbeb00 426.5px,#f8d600 433.5px,#eea000 441.5px,#de3f00 451.5px,#d01300 458.5px,#cd0000 463.5px,#856900 464.5px,#787200 481.5px)"></i></div>
<svg id="sp" width="429" height="482" viewBox="0 0 429 482"><g transform="translate(.5 0)" fill="none" stroke-width="1" stroke-opacity=".5" shape-rendering="crispEdges"><path stroke="#00a040" d="M26 0v2m131 2v2m201 18v2m-332 14v2m378 2v2m-297 4v2m-99 4v2m391 2v2m-374 0v2m399 4v2m-27 2v2m-243 0v2m79 4v2m-101 0v2m87 4v2m4 2v2m176 2v2m-175 0v2m-215 6v2m221 0v2m6 2v2m-10 8v2m126-2v2m4-2v2m15-2v2m15 0v2m2-2v2m-27 6v2m20-2v2m11-2v2m-21 2v2m4 2v2m-150 0v2m134-2v2m17 0v2m-12 0v2m-337 2v2m50 2v2m297 2v2m4-2v2m6 4v2m-2 2v2m9 0v2m-12 0v2m-360 2v2m-7 0v2m96-2v2m274 6v2m-361 10v2m27-2v2m29 8v2m176 0v2m4-2v2m103 0v2m-108 4v2m72-2v2m22 2v2m-100 2v2m4-2v2m-6 2v2m10 0v2m67 0v2m-74 2v2m7 2v2m18-2v2m-17 0v2m26-2v2m-2 0v2m-262 0v2m198 10v2m56-2v2m-28 0v2m76 8v2m-52 0v2m-23 2v2m38 4v2m81 0v2m-33 4v2m-6 2v2m-8 0v2m-12 0v2m20-2v2m18 2v2m-11 4v2m-79 2v2m-177 0v2m-20 0v2m158 0v2m2 8v2m114 4v2m-3 6v2m-11 4v2m30 2v2m-66 72v2m-12 0v2m35-2v2m-58 0v2m83 0v2m-114 0v2m105-2v2m-67 0v2m-32 2v2m84-2v2m-46 0v2m36 0v2m40 6v2m-217 0v2m194-2v2m-173 4v2m-81 4v2m258-2v2"/><path stroke="#a06000" d="M32 0v2m1-2v2m-1 0v2m147-2v2m-146 0v2m393-2v2m-226 0v2m59-2v2m161-2v2m7-2v2m-32 0v2m13 0v2m1-2v2m-376 0v2m107 0v2m43-2v2m0 0v2m245-2v2m-267 2v2m242-2v2m-8 2v2m-28 0v2m50-2v2m-276 0v2m8 0v2m279 0v2m-58 0v2m-111 0v2m-112 6v2m259-2v2m22-2v2m-395 0v2m128-2v2m9-2v2m-139 0v2m153-2v2m55-2v2m-80 0v2m10-2v2m89-2v2m-84 0v2m-4 0v2m90-2v2m-89 2v2m13-2v2m242-2v2m-292 0v2m7-2v2m2 0v2m168-2v2m-311 0v2m148-2v2m2-2v2m253-2v2m23-2v2m2-2v2m-402 0v2m73-2v2m7-2v2m27-2v2m236-2v2m59-2v2m-413 0v2m343-2v2m-259 0v2m49-2v2m14-2v2m79-2v2m19-2v2m149-2v2m2-2v2m6-2v2m-105 0v2m108-2v2m-280 0v2m3-2v2m96-2v2m129-2v2m43-2v2m15-2v2m-276 0v2m10-2v2m46-2v2m-63 0v2m8-2v2m6-2v2m154-2v2m-213 0v2m56-2v2m23-2v2m192-2v2m51-2v2m-286 0v2m96-2v2m11-2v2m187-2v2m-397 0v2m66-2v2m49-2v2m94-2v2m71-2v2m107-2v2m-320 0v2m45 0v2m86-2v2m188 0v2m-181 0v2m74-2v2m97-2v2m-377 0v2m192-2v2m-61 0v2m150-2v2m110-2v2m-193 0v2m13-2v2m116-2v2m-47 0v2m94-2v2m21-2v2m-282 0v2m167-2v2m89-2v2m17-2v2m-408 0v2m130-2v2m266-2v2m-307 0v2m1-2v2m6-2v2m319-2v2m-323 0v2m46-2v2m17-2v2m78-2v2m-138 0v2m74-2v2m64-2v2m172-2v2m-189 0v2m187-2v2m-402 0v2m95-2v2m47-2v2m26-2v2m133-2v2m-142 0v2m9-2v2m237-2v2m-104 2v2m56 0v2m16-2v2m30-2v2m-386 0v2m35-2v2m-30 2v2m139-2v2m30-2v2m-97 0v2m61-2v2m73-2v2m-89 0v2m52-2v2m6-2v2m-58 0v2m79-2v2m157-2v2m27-2v2m12-2v2m-279 0v2m26-2v2m1-2v2m53-2v2m137-2v2m-334 0v2m4-2v2m117-2v2m3-2v2m18 0v2m14-2v2m46-2v2m171-2v2m-375 0v2m144-2v2m5-2v2m60-2v2m190-2v2m-2 0v2m-421 0v2m8-2v2m163-2v2m49-2v2m134-2v2m56-2v2m14-2v2m-322 0v2m63-2v2m250-2v2m-269 0v2m10-2v2m14-2v2m195-2v2m2-2v2m33-2v2m-176 4v2m10-2v2m117-2v2m10-2v2m5-2v2m31-2v2m8-2v2m4-2v2m-255 0v2m2-2v2m8-2v2m257-2v2m-395 0v2m73-2v2m16-2v2m1-2v2m54-2v2m227-2v2m-382 0v2m133-2v2m13-2v2m205-2v2m1-2v2m14-2v2m16-2v2m6-2v2m12-2v2m7-2v2m-111 0v2m71-2v2m-221 0v2m1-2v2m5-2v2m56-2v2m88-2v2m-212 0v2m58-2v2m9-2v2m185-2v2m43-2v2m-228 0v2m2-2v2m51-2v2m6-2v2m-210 0v2m11-2v2m90-2v2m18-2v2m9-2v2m23-2v2m57-2v2m3-2v2m-207 0v2m142-2v2m1-2v2m2-2v2m145-2v2m84-2v2m11-2v2m-247 0v2m9-2v2m1-2v2m202-2v2m33-2v2m-240 0v2m12-2v2m54-2v2m5-2v2m-230 0v2m96-2v2m-70 0v2m194-2v2m-81 0v2m20-2v2m1-2v2m54-2v2m2-2v2m3-2v2m159-2v2m13-2v2m-290 0v2m38-2v2m11-2v2m65-2v2m6-2v2m178-2v2m16-2v2m-418 0v2m217-2v2m6-2v2m-208 0v2m83-2v2m1-2v2m8-2v2m46-2v2m70-2v2m203-2v2m-419 0v2m229-2v2m73-2v2m100-2v2m-187 0v2m148-2v2m41-2v2m-389 0v2m77-2v2m48-2v2m213-2v2m-254 0v2m112-2v2m2-2v2m-219 0v2m106-2v2m262-2v2m25-2v2m32-2v2m-410 0v2m214-2v2m134-2v2m18-2v2m-370 0v2m93-2v2m1-2v2m1-2v2m31-2v2m11-2v2m4-2v2m78-2v2m2-2v2m26-2v2m98-2v2m23-2v2m10-2v2m-244 0v2m3-2v2m85-2v2m23-2v2m2-2v2m103-2v2m1-2v2m-334 0v2m102-2v2m96-2v2m125-2v2m-353 0v2m30-2v2m86-2v2m106-2v2m134-2v2m12-2v2m17-2v2m-372 0v2m35-2v2m85-2v2m96-2v2m1-2v2m28-2v2m77-2v2m54-2v2m16-2v2m21-2v2m-425 0v2m7-2v2m142-2v2m18-2v2m47-2v2m3-2v2m-65 0v2m72-2v2m4-2v2m7-2v2m91-2v2m9-2v2m-237 0v2m5-2v2m13-2v2m36-2v2m69-2v2m17-2v2m138-2v2m6-2v2m-284 0v2m9-2v2m44-2v2m68-2v2m168-2v2m-281 0v2m28-2v2m65-2v2m8-2v2m12-2v2m3-2v2m1-2v2m11-2v2m131-2v2m-268 0v2m124-2v2m17-2v2m1-2v2m147-2v2m39-2v2m-327 0v2m18-2v2m122-2v2m1-2v2m124-2v2m-264 0v2m45-2v2m76-2v2m3-2v2m119-2v2m20-2v2m17-2v2m4-2v2m-376 0v2m97-2v2m51-2v2m1-2v2m43-2v2m125-2v2m-325 0v2m152-2v2m85-2v2m74-2v2m80-2v2m1-2v2m-365 0v2m112-2v2m87-2v2m2-2v2m88-2v2m-212 0v2m228-2v2m26-2v2m39-2v2m18-2v2m-366 0v2m178-2v2m49-2v2m122-2v2m15-2v2m9-2v2m-422 0v2m12-2v2m10-2v2m77-2v2m18-2v2m38-2v2m64-2v2m106-2v2m26 0v2m50-2v2m12-2v2m-410 0v2m102-2v2m144-2v2m148-2v2m28-2v2m-417 0v2m15-2v2m116-2v2m119-2v2m80-2v2m60-2v2m3-2v2m1-2v2m-247 0v2m86-2v2m160-2v2m4-2v2m-404 0v2m159-2v2m119-2v2m36-2v2m18-2v2m20-2v2m12-2v2m20-2v2m-337 0v2m104-2v2m117-2v2m129-2v2m2-2v2m-399 0v2m151-2v2m116-2v2m47-2v2m14-2v2m25-2v2m34-2v2m26-2v2m-387 0v2m127-2v2m14-2v2m85-2v2m78-2v2m15-2v2m20-2v2m11-2v2m51-2v2m-176 0v2m135-2v2m29-2v2m10-2v2m-408 0v2m7-2v2m131-2v2m12-2v2m143-2v2m82-2v2m30-2v2m5-2v2m-402 0v2m315-2v2m57-2v2m-381 0v2m221-2v2m24-2v2m33-2v2m23-2v2m53-2v2m19-2v2m1-2v2m22-2v2m-314 0v2m17-2v2m51-2v2m72-2v2m31-2v2m88-2v2m31-2v2m-362 0v2m70-2v2m59-2v2m117-2v2m94-2v2m18-2v2m-337 0v2m165-2v2m26-2v2m19-2v2m2-2v2m101-2v2m-358 0v2m12-2v2m1-2v2m119-2v2m125-2v2m95-2v2m29-2v2m-365 0v2m116-2v2m227-2v2m14-2v2m6-2v2m-373 0v2m5-2v2m121-2v2m217-2v2m7-2v2m5-2v2m24-2v2m-135 0v2m101-2v2m19-2v2m3-2v2m-358 0v2m138-2v2m12-2v2m9-2v2m88-2v2m30-2v2m41-2v2m23-2v2m64-2v2m-412 0v2m5-2v2m33-2v2m166-2v2m81-2v2m31-2v2m16-2v2m36-2v2m10-2v2m-378 0v2m12-2v2m84-2v2m30-2v2m96-2v2m11-2v2m29-2v2m102-2v2m-358 0v2m259-2v2m52-2v2m66-2v2m21-2v2m-173 0v2m21-2v2m13-2v2m89-2v2m-361 0v2m271-2v2m21-2v2m66-2v2m-128 0v2m60-2v2m93-2v2m-368 0v2m88-2v2m189-2v2m69-2v2m-340 0v2m268-2v2m6-2v2m39-2v2m36-2v2m10-2v2m-384 0v2m13-2v2m85-2v2m126-2v2m10-2v2m-226 0v2m91-2v2m114-2v2m14-2v2m44-2v2m21-2v2m37-2v2m59-2v2m2-2v2m32-2v2m-317 0v2m25-2v2m58-2v2m39-2v2m3-2v2m107-2v2m42-2v2m-353 0v2m194-2v2m21-2v2m14-2v2m24-2v2m1-2v2m12-2v2m81-2v2m-351 0v2m73-2v2m14-2v2m112-2v2m15-2v2m18-2v2m90-2v2m29-2v2m24-2v2m-397 0v2m87-2v2m7-2v2m3-2v2m13-2v2m113-2v2m-222 0v2m3-2v2m98-2v2m106-2v2m113-2v2m23-2v2m-343 0v2m18-2v2m114-2v2m57-2v2m29-2v2m113-2v2m6-2v2m-334 0v2m5-2v2m44-2v2m48-2v2m2-2v2m170-2v2m62-2v2m-267 0v2m64-2v2m68-2v2m34-2v2m94-2v2m-307 0v2m290-2v2m30-2v2m-338 0v2m19-2v2m29-2v2m179-2v2m-230 0v2m25-2v2m30-2v2m5-2v2m55-2v2m101-2v2m-202 0v2m99-2v2m16-2v2m208-2v2m-322 0v2m46-2v2m55-2v2m8-2v2m132-2v2m33-2v2m6-2v2m-294 0v2m1-2v2m12-2v2m5-2v2m101-2v2m126-2v2m2-2v2m10-2v2m1-2v2m-237 0v2m61-2v2m110-2v2m106-2v2m12-2v2m4-2v2m-265 0v2m38-2v2m1-2v2m144-2v2m66-2v2m-250 0v2m1-2v2m36-2v2m15-2v2m107-2v2m113-2v2m-272 0v2m13-2v2m19-2v2m21-2v2m95-2v2m74-2v2m-248 0v2m14-2v2m34-2v2m16-2v2m3-2v2m159-2v2m-239 0v2m18-2v2m11-2v2m33-2v2m-69 0v2m4-2v2m16-2v2m38-2v2m137-2v2m99-2v2m-289 0v2m43-2v2m165-2v2m36-2v2m2-2v2m26-2v2m4-2v2m15-2v2m-295 0v2m295-2v2m-245 0v2m-29 0v2m24-2v2m198-2v2m69-2v2m20-2v2m-317 2v2m10-2v2m11-2v2m-36 0v2m204-2v2m97-2v2m29-2v2m-295 0v2m216-2v2m23-2v2m1-2v2m54-2v2m-296 0v2m7-2v2m262-2v2m-300 0v2m315-2v2m9-2v2m1-2v2m3-2v2m11-2v2m2-2v2m-29 0v2m3-2v2m-299 46v2m253-2v2m15 0v2m-22 0v2m28-2v2m34 2v2m-112 0v2m77-2v2m-45 2v2m-250 0v2m258-2v2m2-2v2m55-2v2m35-2v2m-116 0v2m35-2v2m80-2v2m-341 0v2m26-2v2m5-2v2m-1 0v2m178-2v2m44-2v2m7-2v2m18-2v2m-280 0v2m241-2v2m26-2v2m-267 0v2m267-2v2m35 0v2m-59 0v2m16-2v2m32-2v2m5-2v2m-274 0v2m179-2v2m-9 0v2m137-2v2m-295 0v2m11-2v2m148-2v2m91-2v2m1-2v2m23-2v2m-277 0v2m34-2v2m19-2v2m-29 0v2m146-2v2m61-2v2m80-2v2m-303 0v2m54-2v2m26-2v2m8-2v2m91-2v2m39-2v2m44-2v2m-267 0v2m11-2v2m31-2v2m1-2v2m41-2v2m38-2v2m3-2v2m5-2v2m25-2v2m82-2v2m132-2v2m-364 0v2m133-2v2m31-2v2m33-2v2m88-2v2m27-2v2m-310 0v2m77-2v2m49-2v2m3-2v2m62-2v2m63-2v2m64-2v2m-335 0v2m75-2v2m9-2v2m19-2v2m19-2v2m4-2v2m2-2v2m60-2v2m13-2v2m32-2v2m17-2v2m39-2v2m-302 0v2m22-2v2m50-2v2m21-2v2m3-2v2m3-2v2m7-2v2m38-2v2m89-2v2m59-2v2m20-2v2m84-2v2m-391 0v2m61-2v2m11-2v2m35-2v2m1-2v2m4-2v2m43-2v2m17-2v2m47-2v2m73-2v2m5-2v2m25-2v2m2-2v2m-306 0v2m47-2v2m13-2v2m65-2v2m5-2v2m159-2v2m-312 0v2m84-2v2m27-2v2m22-2v2m3-2v2m1-2v2m2-2v2m16-2v2m1-2v2m95-2v2m59-2v2m-326 0v2m14-2v2m92-2v2m38-2v2m6-2v2m2-2v2m10-2v2m13-2v2m83-2v2m65-2v2m-264 0v2m16-2v2m1-2v2m61-2v2m12-2v2m1-2v2m7-2v2m5-2v2m131-2v2m37-2v2m10-2v2m3-2v2m-338 0v2m1-2v2m15-2v2m44-2v2m39-2v2m1-2v2m17-2v2m15-2v2m29-2v2m30-2v2m57-2v2m15-2v2m16-2v2m30-2v2m97-2v2m-409 0v2m39-2v2m5-2v2m74-2v2m9-2v2m57-2v2m1-2v2m28-2v2m48-2v2m33-2v2m124-2v2m-403 0v2m9-2v2m45-2v2m3-2v2m36-2v2m34-2v2m47-2v2m4-2v2m30-2v2m6-2v2m74-2v2m5-2v2m23-2v2m76-2v2"/><path stroke="#608000" d="M134 0v2m234-2v2m-335 0v2m108-2v2m-141 0v2m206-2v2m161-2v2m29-2v2m-370 0v2m180-2v2m-73 0v2m15-2v2m28-2v2m8-2v2m185-2v2m-236 0v2m24-2v2m-123 0v2m114-2v2m209-2v2m-224 0v2m24-2v2m1-2v2m26-2v2m173-2v2m1-2v2m48-2v2m-372 0v2m115-2v2m258-2v2m-373 0v2m71-2v2m29-2v2m269-2v2m-378 0v2m80-2v2m29-2v2m14-2v2m10-2v2m153-2v2m47-2v2m49-2v2m5-2v2m-387 0v2m9-2v2m63-2v2m46-2v2m14-2v2m4-2v2m11-2v2m3-2v2m31-2v2m162-2v2m35-2v2m6-2v2m2-2v2m-385 0v2m131-2v2m-24 0v2m24-2v2m18-2v2m182-2v2m39-2v2m12-2v2m11-2v2m-259 0v2m247-2v2m2-2v2m2-2v2m1-2v2m-279 0v2m7-2v2m263-2v2m7-2v2m8-2v2m1-2v2m-394 0v2m1-2v2m5-2v2m66-2v2m1-2v2m35-2v2m270-2v2m2-2v2m13-2v2m-388 0v2m209-2v2m172-2v2m7-2v2m-285 0v2m108-2v2m166-2v2m3-2v2m2-2v2m-313 0v2m8-2v2m36-2v2m40-2v2m228-2v2m-253 0v2m238-2v2m-370 0v2m80-2v2m56-2v2m38-2v2m213-2v2m-388 0v2m152-2v2m218-2v2m8-2v2m-296 0v2m49-2v2m154-2v2m99-2v2m-302 0v2m49-2v2m29-2v2m181-2v2m37-2v2m-247 0v2m6-2v2m15-2v2m230-2v2m3-2v2m-259 0v2m244-2v2m10-2v2m4-2v2m11-2v2m-269 0v2m206-2v2m-348 0v2m17-2v2m106-2v2m14-2v2m5-2v2m14-2v2m12-2v2m224-2v2m15-2v2m-401 0v2m102-2v2m29-2v2m5-2v2m207-2v2m36-2v2m6-2v2m21-2v2m-406 0v2m143-2v2m-149 0v2m16 0v2m107-2v2m14-2v2m248-2v2m14-2v2m4-2v2m-309 0v2m62-2v2m18-2v2m227-2v2m10-2v2m4-2v2m1-2v2m-416 0v2m90-2v2m65-2v2m19-2v2m127-2v2m85-2v2m6-2v2m13-2v2m-406 0v2m138-2v2m54-2v2m215-2v2m-399 0v2m87-2v2m103-2v2m193-2v2m2-2v2m21-2v2m3-2v2m-322 0v2m67-2v2m15-2v2m181-2v2m42-2v2m15-2v2m1-2v2m-408 0v2m14-2v2m73-2v2m29-2v2m12-2v2m3-2v2m5-2v2m14-2v2m3-2v2m49-2v2m4-2v2m6-2v2m173-2v2m21-2v2m3-2v2m-409 0v2m87-2v2m36-2v2m7-2v2m85-2v2m4-2v2m1-2v2m130-2v2m34-2v2m-180 0v2m6-2v2m9-2v2m131-2v2m32-2v2m2-2v2m2-2v2m21-2v2m-323 0v2m65-2v2m7-2v2m55-2v2m8-2v2m2-2v2m165-2v2m12-2v2m-405 0v2m136-2v2m20-2v2m54-2v2m7-2v2m6-2v2m27-2v2m53-2v2m86-2v2m26-2v2m-268 0v2m7-2v2m2-2v2m41-2v2m14-2v2m11-2v2m6-2v2m75-2v2m-212 0v2m66-2v2m57-2v2m9-2v2m167-2v2m-383 0v2m84-2v2m3-2v2m64-2v2m62-2v2m4-2v2m1-2v2m181-2v2m10-2v2m-271 0v2m12-2v2m5-2v2m13-2v2m36-2v2m8-2v2m84-2v2m88-2v2m16-2v2m-263 0v2m13-2v2m93-2v2m98-2v2m42-2v2m29-2v2m-401 0v2m117-2v2m4-2v2m17-2v2m19-2v2m46-2v2m3-2v2m25-2v2m54-2v2m86-2v2m2-2v2m14-2v2m-405 0v2m25-2v2m112-2v2m20-2v2m71-2v2m133-2v2m25-2v2m2-2v2m18-2v2m6-2v2m-394 0v2m7-2v2m130-2v2m10-2v2m26-2v2m19-2v2m4-2v2m143-2v2m36-2v2m20-2v2m2-2v2m-416 0v2m1-2v2m6-2v2m16-2v2m102-2v2m6-2v2m8-2v2m4-2v2m3-2v2m19-2v2m3-2v2m46-2v2m11-2v2m167-2v2m25-2v2m-416 0v2m18-2v2m76-2v2m31-2v2m1-2v2m15-2v2m2-2v2m18-2v2m48-2v2m11-2v2m8-2v2m153-2v2m-257 0v2m1-2v2m14-2v2m73-2v2m11-2v2m26-2v2m110-2v2m2-2v2m-339 0v2m107-2v2m16-2v2m19-2v2m46-2v2m8-2v2m10-2v2m117-2v2m2-2v2m10-2v2m4-2v2m30-2v2m-369 0v2m3-2v2m15-2v2m51-2v2m32-2v2m16-2v2m7-2v2m2-2v2m16-2v2m49-2v2m6-2v2m141-2v2m30-2v2m25-2v2m2-2v2m2-2v2m-293 0v2m4-2v2m8-2v2m5-2v2m1-2v2m5-2v2m3-2v2m59-2v2m3-2v2m2-2v2m3-2v2m4-2v2m3-2v2m2-2v2m75-2v2m57-2v2m31-2v2m3-2v2m1-2v2m12-2v2m9-2v2m-398 0v2m106-2v2m6-2v2m14-2v2m4-2v2m61-2v2m3-2v2m37-2v2m1-2v2m102-2v2m8-2v2m12-2v2m23-2v2m1-2v2m1-2v2m-391 0v2m120-2v2m4-2v2m15-2v2m3-2v2m1-2v2m4-2v2m8-2v2m60-2v2m121-2v2m1-2v2m12-2v2m3-2v2m4-2v2m13-2v2m3-2v2m2-2v2m3-2v2m1-2v2m35-2v2m-419 0v2m7-2v2m11-2v2m4-2v2m29-2v2m79-2v2m5-2v2m10-2v2m19-2v2m45-2v2m3-2v2m14-2v2m25-2v2m95-2v2m6-2v2m17-2v2m2-2v2m5-2v2m3-2v2m-354 0v2m113-2v2m15-2v2m11-2v2m3-2v2m52-2v2m12-2v2m112-2v2m18-2v2m4-2v2m5-2v2m17-2v2m5-2v2m15-2v2m-407 0v2m18-2v2m21-2v2m52-2v2m8-2v2m25-2v2m1-2v2m4-2v2m1-2v2m6-2v2m5-2v2m5-2v2m17-2v2m1-2v2m48-2v2m1-2v2m5-2v2m5-2v2m79-2v2m40-2v2m28-2v2m1-2v2m10-2v2m4-2v2m2-2v2m11-2v2m-399 0v2m23-2v2m76-2v2m37-2v2m32-2v2m47-2v2m1-2v2m12-2v2m5-2v2m112-2v2m24-2v2m2-2v2m6-2v2m19-2v2m-396 0v2m52-2v2m78-2v2m6-2v2m24-2v2m7-2v2m31-2v2m18-2v2m9-2v2m120-2v2m11-2v2m5-2v2m2-2v2m7-2v2m4-2v2m7-2v2m17-2v2m7-2v2m14-2v2m-427 0v2m105-2v2m1-2v2m28-2v2m4-2v2m1-2v2m26-2v2m10-2v2m1-2v2m44-2v2m19-2v2m117-2v2m3-2v2m1-2v2m3-2v2m14-2v2m9-2v2m10-2v2m-348 0v2m69-2v2m16-2v2m15-2v2m11-2v2m63-2v2m89-2v2m44-2v2m52-2v2m19-2v2m-410 0v2m44-2v2m57-2v2m18-2v2m27-2v2m63-2v2m14-2v2m71-2v2m42-2v2m5-2v2m11-2v2m3-2v2m9-2v2m3-2v2m23-2v2m21-2v2m-418 0v2m7-2v2m18-2v2m14-2v2m1-2v2m50-2v2m45-2v2m32-2v2m63-2v2m1-2v2m18-2v2m2-2v2m92-2v2m1-2v2m1-2v2m5-2v2m3-2v2m13-2v2m1-2v2m5-2v2m2-2v2m23-2v2m-398 0v2m90-2v2m8-2v2m10-2v2m22-2v2m1-2v2m15-2v2m1-2v2m200-2v2m7-2v2m27-2v2m6-2v2m10-2v2m1-2v2m-358 0v2m1-2v2m11-2v2m38-2v2m19-2v2m21-2v2m5-2v2m9-2v2m7-2v2m13-2v2m3-2v2m54-2v2m2-2v2m10-2v2m17-2v2m98-2v2m6-2v2m5-2v2m13-2v2m3-2v2m10-2v2m-385 0v2m1-2v2m97-2v2m27-2v2m24-2v2m19-2v2m54-2v2m5-2v2m77-2v2m46-2v2m37-2v2m11-2v2m1-2v2m-311 0v2m21-2v2m16-2v2m35-2v2m7-2v2m43-2v2m93-2v2m57-2v2m7-2v2m6-2v2m15-2v2m11-2v2m10-2v2m-318 0v2m7-2v2m2-2v2m50-2v2m63-2v2m2-2v2m2-2v2m7-2v2m120-2v2m25-2v2m5-2v2m1-2v2m-367 0v2m11-2v2m79-2v2m120-2v2m6-2v2m26-2v2m-258 0v2m107-2v2m46-2v2m7-2v2m67-2v2m14-2v2m18-2v2m96-2v2m8-2v2m4-2v2m12-2v2m4-2v2m-375 0v2m22-2v2m18-2v2m1-2v2m11-2v2m37-2v2m8-2v2m12-2v2m143-2v2m96-2v2m7-2v2m8-2v2m6-2v2m7-2v2m43-2v2m-378 0v2m106-2v2m1-2v2m67-2v2m3-2v2m11-2v2m2-2v2m19-2v2m1-2v2m52-2v2m40-2v2m1-2v2m25-2v2m14-2v2m-383 0v2m40-2v2m107-2v2m7-2v2m62-2v2m17-2v2m117-2v2m4-2v2m22-2v2m19-2v2m-394 0v2m89-2v2m47-2v2m11-2v2m66-2v2m135-2v2m4-2v2m11-2v2m10-2v2m1-2v2m3-2v2m-279 0v2m122-2v2m126-2v2m10-2v2m10-2v2m7-2v2m9-2v2m2-2v2m-296 0v2m9-2v2m43-2v2m110-2v2m92-2v2m4-2v2m4-2v2m15-2v2m11-2v2m2-2v2m3-2v2m1-2v2m4-2v2m32-2v2m-397 0v2m66-2v2m8-2v2m8-2v2m43-2v2m1-2v2m12-2v2m9-2v2m49-2v2m147-2v2m1-2v2m13-2v2m2-2v2m4-2v2m2-2v2m-368 0v2m77-2v2m179-2v2m77-2v2m18-2v2m1-2v2m2-2v2m1-2v2m4-2v2m4-2v2m-382 0v2m41-2v2m96-2v2m25-2v2m6-2v2m135-2v2m45-2v2m6-2v2m10-2v2m14-2v2m-359 0v2m22-2v2m84-2v2m21-2v2m19-2v2m67-2v2m20-2v2m99-2v2m-119 0v2m112-2v2m7-2v2m12-2v2m19-2v2m-284 0v2m134-2v2m30-2v2m88-2v2m6-2v2m9-2v2m15-2v2m1-2v2m37-2v2m2-2v2m-406 0v2m4-2v2m71-2v2m2-2v2m9-2v2m122-2v2m29-2v2m114-2v2m52-2v2m-415 0v2m10-2v2m28-2v2m210-2v2m93-2v2m21-2v2m4-2v2m6-2v2m9-2v2m2-2v2m-386 0v2m89-2v2m2-2v2m126-2v2m150-2v2m7-2v2m5-2v2m14-2v2m13-2v2m4-2v2m-417 0v2m12-2v2m4-2v2m27-2v2m200-2v2m114-2v2m30-2v2m2-2v2m7-2v2m19-2v2m-401 0v2m89-2v2m82-2v2m21-2v2m6-2v2m159-2v2m31-2v2m11-2v2m2-2v2m10-2v2m1-2v2m-426 0v2m7-2v2m3-2v2m13-2v2m2-2v2m71-2v2m42-2v2m16-2v2m106-2v2m113-2v2m5-2v2m9-2v2m11-2v2m-393 0v2m15-2v2m113-2v2m220-2v2m10-2v2m20-2v2m4-2v2m2-2v2m17-2v2m-403 0v2m1-2v2m8-2v2m2-2v2m12-2v2m360-2v2m6-2v2m5-2v2m17-2v2m11-2v2m-422 0v2m2-2v2m2-2v2m19-2v2m79-2v2m2-2v2m244-2v2m13-2v2m12-2v2m3-2v2m12-2v2m6-2v2m-390 0v2m10-2v2m2-2v2m4-2v2m26-2v2m77-2v2m40-2v2m105-2v2m82-2v2m9-2v2m12-2v2m5-2v2m7-2v2m4-2v2m2-2v2m36-2v2m-426 0v2m8-2v2m97-2v2m59-2v2m74-2v2m115-2v2m5-2v2m62-2v2m-416 0v2m313-2v2m43-2v2m13-2v2m12-2v2m27-2v2m-395 0v2m35-2v2m220-2v2m70-2v2m21-2v2m34-2v2m26-2v2m-414 0v2m10-2v2m1-2v2m74-2v2m78-2v2m99-2v2m74-2v2m18-2v2m52-2v2m-414 0v2m8-2v2m7-2v2m2-2v2m115-2v2m228-2v2m1-2v2m18-2v2m2-2v2m5-2v2m8-2v2m20-2v2m8-2v2m-405 0v2m2-2v2m143-2v2m2-2v2m72-2v2m137-2v2m8-2v2m16-2v2m-390 0v2m5-2v2m5-2v2m299-2v2m6-2v2m30-2v2m23-2v2m23-2v2m14-2v2m-411 0v2m2-2v2m11-2v2m4-2v2m39-2v2m91-2v2m65-2v2m42-2v2m71-2v2m1-2v2m17-2v2m1-2v2m2-2v2m5-2v2m60-2v2m8-2v2m2-2v2m-422 0v2m9-2v2m11-2v2m140-2v2m46-2v2m38-2v2m3-2v2m1-2v2m10-2v2m1-2v2m3-2v2m8-2v2m3-2v2m8-2v2m14-2v2m28-2v2m36-2v2m27-2v2m37-2v2m-423 0v2m93-2v2m120-2v2m32-2v2m4-2v2m2-2v2m7-2v2m21-2v2m42-2v2m3-2v2m45-2v2m15-2v2m27-2v2m-389 0v2m131-2v2m53-2v2m38-2v2m7-2v2m1-2v2m11-2v2m6-2v2m43-2v2m11-2v2m1-2v2m2-2v2m5-2v2m2-2v2m2-2v2m5-2v2m6-2v2m14-2v2m9-2v2m17-2v2m3-2v2m6-2v2m1-2v2m28-2v2m-416 0v2m2-2v2m2-2v2m152-2v2m42-2v2m38-2v2m24-2v2m47-2v2m7-2v2m7-2v2m10-2v2m10-2v2m15-2v2m17-2v2m17-2v2m4-2v2m-400 0v2m3-2v2m12-2v2m1-2v2m34-2v2m41-2v2m7-2v2m31-2v2m43-2v2m80-2v2m4-2v2m4-2v2m2-2v2m9-2v2m38-2v2m21-2v2m6-2v2m22-2v2m7-2v2m12-2v2m2-2v2m3-2v2m12-2v2m3-2v2m11-2v2m-407 0v2m8-2v2m10-2v2m37-2v2m12-2v2m134-2v2m6-2v2m37-2v2m16-2v2m3-2v2m6-2v2m1-2v2m1-2v2m39-2v2m1-2v2m1-2v2m22-2v2m23-2v2m17-2v2m4-2v2m3-2v2m27-2v2m-397 0v2m8-2v2m78-2v2m60-2v2m48-2v2m1-2v2m38-2v2m1-2v2m3-2v2m25-2v2m3-2v2m33-2v2m7-2v2m13-2v2m18-2v2m2-2v2m24-2v2m2-2v2m1-2v2m33-2v2m-413 0v2m4-2v2m13-2v2m4-2v2m88-2v2m45-2v2m56-2v2m33-2v2m5-2v2m7-2v2m7-2v2m2-2v2m2-2v2m1-2v2m10-2v2m37-2v2m5-2v2m14-2v2m19-2v2m9-2v2m5-2v2m1-2v2m5-2v2m6-2v2m12-2v2m24-2v2m-398 0v2m1-2v2m6-2v2m78-2v2m4-2v2m58-2v2m30-2v2m14-2v2m7-2v2m29-2v2m9-2v2m8-2v2m5-2v2m17-2v2m12-2v2m21-2v2m5-2v2m2-2v2m6-2v2m9-2v2m6-2v2m8-2v2m5-2v2m2-2v2m64-2v2m-405 0v2m127-2v2m100-2v2m3-2v2m6-2v2m8-2v2m7-2v2m1-2v2m59-2v2m3-2v2m11-2v2m1-2v2m3-2v2m7-2v2m21-2v2m1-2v2m5-2v2m21-2v2m4-2v2m-401 0v2m20-2v2m34-2v2m107-2v2m40-2v2m4-2v2m6-2v2m35-2v2m3-2v2m1-2v2m7-2v2m30-2v2m16-2v2m12-2v2m1-2v2m1-2v2m44-2v2m22-2v2m10-2v2m-392 0v2m7-2v2m12-2v2m70-2v2m71-2v2m10-2v2m39-2v2m35-2v2m14-2v2m11-2v2m25-2v2m23-2v2m12-2v2m4-2v2m6-2v2m-329 0v2m9-2v2m23-2v2m80-2v2m79-2v2m9-2v2m22-2v2m17-2v2m6-2v2m7-2v2m2-2v2m9-2v2m45-2v2m4-2v2m39-2v2m33-2v2m-396 0v2m5-2v2m2-2v2m2-2v2m12-2v2m2-2v2m15-2v2m43-2v2m1-2v2m65-2v2m14-2v2m8-2v2m43-2v2m21-2v2m25-2v2m2-2v2m2-2v2m12-2v2m1-2v2m26-2v2m27-2v2m8-2v2m24-2v2m25-2v2m9-2v2m-387 0v2m9-2v2m143-2v2m50-2v2m39-2v2m1-2v2m1-2v2m8-2v2m11-2v2m45-2v2m6-2v2m9-2v2m1-2v2m2-2v2m4-2v2m1-2v2m3-2v2m23-2v2m23-2v2m-344 0v2m23-2v2m61-2v2m15-2v2m5-2v2m5-2v2m55-2v2m27-2v2m10-2v2m1-2v2m7-2v2m5-2v2m73-2v2m7-2v2m7-2v2m36-2v2m-367 0v2m4-2v2m2-2v2m26-2v2m114-2v2m44-2v2m8-2v2m48-2v2m17-2v2m41-2v2m5-2v2m4-2v2m5-2v2m7-2v2m5-2v2m12-2v2m21-2v2m-359 0v2m35-2v2m47-2v2m28-2v2m42-2v2m41-2v2m23-2v2m16-2v2m65-2v2m4-2v2m2-2v2m13-2v2m6-2v2m9-2v2m15-2v2m-365 0v2m3-2v2m55-2v2m151-2v2m6-2v2m31-2v2m2-2v2m1-2v2m14-2v2m1-2v2m29-2v2m23-2v2m3-2v2m7-2v2m3-2v2m17-2v2m51-2v2m1-2v2m26-2v2m-426 0v2m10-2v2m103-2v2m43-2v2m54-2v2m34-2v2m9-2v2m4-2v2m6-2v2m5-2v2m5-2v2m11-2v2m6-2v2m24-2v2m5-2v2m1-2v2m11-2v2m1-2v2m4-2v2m6-2v2m2-2v2m2-2v2m70-2v2m-413 0v2m22-2v2m32-2v2m46-2v2m108-2v2m3-2v2m26-2v2m4-2v2m10-2v2m1-2v2m1-2v2m8-2v2m7-2v2m10-2v2m27-2v2m19-2v2m15-2v2m4-2v2m3-2v2m20-2v2m1-2v2m-358 0v2m76-2v2m38-2v2m51-2v2m31-2v2m14-2v2m19-2v2m3-2v2m1-2v2m1-2v2m1-2v2m6-2v2m2-2v2m10-2v2m15-2v2m38-2v2m6-2v2m7-2v2m11-2v2m15-2v2m1-2v2m10-2v2m-366 0v2m46-2v2m4-2v2m68-2v2m43-2v2m62-2v2m4-2v2m16-2v2m27-2v2m9-2v2m33-2v2m21-2v2m4-2v2m5-2v2m26-2v2m-366 0v2m7-2v2m199-2v2m22-2v2m5-2v2m6-2v2m3-2v2m4-2v2m1-2v2m3-2v2m3-2v2m6-2v2m1-2v2m9-2v2m2-2v2m3-2v2m4-2v2m33-2v2m13-2v2m17-2v2m26-2v2m-347 0v2m45-2v2m31-2v2m113-2v2m5-2v2m1-2v2m10-2v2m34-2v2m1-2v2m3-2v2m1-2v2m15-2v2m10-2v2m31-2v2m1-2v2m8-2v2m15-2v2m22-2v2m32-2v2m-353 0v2m16-2v2m15-2v2m131-2v2m1-2v2m2-2v2m12-2v2m20-2v2m19-2v2m5-2v2m2-2v2m7-2v2m59-2v2m6-2v2m12-2v2m-343 0v2m5-2v2m19-2v2m18-2v2m158-2v2m3-2v2m18-2v2m13-2v2m1-2v2m16-2v2m18-2v2m1-2v2m1-2v2m40-2v2m3-2v2m3-2v2m1-2v2m13-2v2m-331 0v2m12-2v2m17-2v2m6-2v2m52-2v2m28-2v2m4-2v2m12-2v2m50-2v2m16-2v2m4-2v2m2-2v2m2-2v2m3-2v2m2-2v2m2-2v2m2-2v2m3-2v2m19-2v2m14-2v2m10-2v2m3-2v2m44-2v2m5-2v2m-281 0v2m7-2v2m26-2v2m44-2v2m15-2v2m8-2v2m82-2v2m3-2v2m23-2v2m23-2v2m7-2v2m65-2v2m13-2v2m-315 0v2m65-2v2m29-2v2m7-2v2m19-2v2m47-2v2m17-2v2m18-2v2m4-2v2m1-2v2m11-2v2m1-2v2m3-2v2m2-2v2m8-2v2m7-2v2m4-2v2m27-2v2m14-2v2m11-2v2m4-2v2m9-2v2m5-2v2m2-2v2m10-2v2m-349 0v2m111-2v2m22-2v2m33-2v2m20-2v2m11-2v2m14-2v2m19-2v2m5-2v2m12-2v2m3-2v2m2-2v2m1-2v2m3-2v2m6-2v2m22-2v2m11-2v2m13-2v2m2-2v2m2-2v2m1-2v2m-274 0v2m26-2v2m59-2v2m1-2v2m41-2v2m22-2v2m5-2v2m1-2v2m1-2v2m11-2v2m6-2v2m1-2v2m11-2v2m8-2v2m8-2v2m6-2v2m7-2v2m10-2v2m12-2v2m35-2v2m13-2v2m4-2v2m-285 0v2m3-2v2m13-2v2m77-2v2m61-2v2m8-2v2m3-2v2m3-2v2m5-2v2m2-2v2m43-2v2m36-2v2m11-2v2m1-2v2m1-2v2m1-2v2m4-2v2m4-2v2m63-2v2m-331 0v2m138-2v2m1-2v2m15-2v2m21-2v2m7-2v2m2-2v2m2-2v2m9-2v2m6-2v2m2-2v2m4-2v2m47-2v2m6-2v2m23-2v2m44-2v2m-349 0v2m158-2v2m1-2v2m13-2v2m1-2v2m21-2v2m8-2v2m16-2v2m9-2v2m40-2v2m6-2v2m-283 0v2m19-2v2m27-2v2m33-2v2m20-2v2m70-2v2m1-2v2m11-2v2m7-2v2m30-2v2m11-2v2m5-2v2m8-2v2m11-2v2m5-2v2m17-2v2m15-2v2m3-2v2m11-2v2m10-2v2m-318 0v2m33-2v2m118-2v2m39-2v2m10-2v2m15-2v2m5-2v2m12-2v2m9-2v2m16-2v2m26-2v2m16-2v2m11-2v2m27-2v2m-281 0v2m95-2v2m27-2v2m3-2v2m7-2v2m2-2v2m17-2v2m1-2v2m6-2v2m1-2v2m7-2v2m13-2v2m2-2v2m4-2v2m8-2v2m46-2v2m-241 0v2m4-2v2m116-2v2m27-2v2m1-2v2m18-2v2m13-2v2m3-2v2m6-2v2m4-2v2m51-2v2m18-2v2m9-2v2m-299 0v2m133-2v2m14-2v2m16-2v2m14-2v2m17-2v2m2-2v2m72-2v2m7-2v2m2-2v2m1-2v2m23-2v2m-252 0v2m78-2v2m20-2v2m3-2v2m1-2v2m9-2v2m9-2v2m19-2v2m2-2v2m23-2v2m7-2v2m11-2v2m7-2v2m22-2v2m15-2v2m14-2v2m3-2v2m14-2v2m12-2v2m6-2v2m-340 0v2m34-2v2m1-2v2m3-2v2m31-2v2m19-2v2m86-2v2m3-2v2m1-2v2m23-2v2m6-2v2m5-2v2m14-2v2m8-2v2m6-2v2m15-2v2m13-2v2m6-2v2m1-2v2m3-2v2m2-2v2m21-2v2m41-2v2m-337 0v2m2-2v2m10-2v2m48-2v2m3-2v2m6-2v2m17-2v2m92-2v2m22-2v2m5-2v2m3-2v2m19-2v2m40-2v2m8-2v2m14-2v2m55-2v2m-338 0v2m34-2v2m28-2v2m2-2v2m16-2v2m80-2v2m100-2v2m1-2v2m1-2v2m-256 0v2m10-2v2m20-2v2m27-2v2m11-2v2m89-2v2m5-2v2m2-2v2m12-2v2m8-2v2m6-2v2m6-2v2m5-2v2m17-2v2m10-2v2m26-2v2m3-2v2m15-2v2m9-2v2m2-2v2m3-2v2m43-2v2m1-2v2m-331 0v2m32-2v2m19-2v2m96-2v2m8-2v2m106-2v2m15-2v2m25-2v2m2-2v2m1-2v2m-339 0v2m22-2v2m53-2v2m20-2v2m92-2v2m6-2v2m26-2v2m2-2v2m17-2v2m17-2v2m10-2v2m6-2v2m18-2v2m12-2v2m1-2v2m-214 0v2m9-2v2m66-2v2m6-2v2m18-2v2m3-2v2m34-2v2m18-2v2m9-2v2m1-2v2m4-2v2m37-2v2m1-2v2m25-2v2m21-2v2m-316 0v2m8-2v2m4-2v2m11-2v2m54-2v2m6-2v2m80-2v2m4-2v2m30-2v2m6-2v2m5-2v2m20-2v2m2-2v2m54-2v2m4-2v2m9-2v2m-274 0v2m1-2v2m8-2v2m19-2v2m3-2v2m27-2v2m3-2v2m58-2v2m17-2v2m6-2v2m1-2v2m32-2v2m17-2v2m9-2v2m7-2v2m35-2v2m8-2v2m3-2v2m7-2v2m4-2v2m4-2v2m6-2v2m-323 0v2m41-2v2m6-2v2m9-2v2m38-2v2m14-2v2m113-2v2m12-2v2m17-2v2m4-2v2m42-2v2m6-2v2m-281 0v2m36-2v2m9-2v2m26-2v2m15-2v2m62-2v2m17-2v2m2-2v2m34-2v2m2-2v2m40-2v2m14-2v2m28-2v2m7-2v2m7-2v2m-229 0v2m3-2v2m14-2v2m59-2v2m8-2v2m20-2v2m17-2v2m11-2v2m1-2v2m1-2v2m26-2v2m21-2v2m26-2v2m15-2v2m8-2v2m-304 0v2m73-2v2m1-2v2m14-2v2m2-2v2m63-2v2m21-2v2m31-2v2m5-2v2m1-2v2m9-2v2m6-2v2m1-2v2m2-2v2m7-2v2m2-2v2m14-2v2m6-2v2m31-2v2m5-2v2m14-2v2m-305 0v2m66-2v2m3-2v2m6-2v2m8-2v2m68-2v2m13-2v2m34-2v2m5-2v2m4-2v2m6-2v2m6-2v2m13-2v2m2-2v2m3-2v2m11-2v2m1-2v2m11-2v2m34-2v2m-247 0v2m23-2v2m3-2v2m6-2v2m93-2v2m40-2v2m11-2v2m5-2v2m56-2v2m1-2v2m6-2v2m4-2v2m10-2v2m-300 0v2m30-2v2m9-2v2m24-2v2m2-2v2m10-2v2m8-2v2m75-2v2m39-2v2m3-2v2m4-2v2m17-2v2m5-2v2m5-2v2m39-2v2m4-2v2m3-2v2m19-2v2m-319 0v2m11-2v2m34-2v2m5-2v2m8-2v2m9-2v2m115-2v2m8-2v2m1-2v2m59-2v2m6-2v2m8-2v2m29-2v2m3-2v2m6-2v2m3-2v2m2-2v2m1-2v2m2-2v2m2-2v2m9-2v2m-322 0v2m24-2v2m13-2v2m25-2v2m15-2v2m106-2v2m5-2v2m4-2v2m59-2v2m2-2v2m5-2v2m29-2v2m9-2v2m14-2v2m4-2v2m10-2v2m-320 0v2m16-2v2m3-2v2m23-2v2m3-2v2m3-2v2m3-2v2m4-2v2m124-2v2m3-2v2m2-2v2m1-2v2m33-2v2m5-2v2m21-2v2m25-2v2m38-2v2m-307 0v2m7-2v2m9-2v2m24-2v2m16-2v2m122-2v2m43-2v2m4-2v2m24-2v2m23-2v2m17-2v2m7-2v2m23-2v2m-348 0v2m35-2v2m1-2v2m2-2v2m7-2v2m14-2v2m7-2v2m10-2v2m178-2v2m17-2v2m37-2v2m1-2v2m6-2v2m10-2v2m3-2v2m-290 0v2m19-2v2m141-2v2m103-2v2m17-2v2m13-2v2m2-2v2m2-2v2m3-2v2m3-2v2m-303 0v2m18-2v2m7-2v2m27-2v2m155-2v2m8-2v2m31-2v2m30-2v2m16-2v2m2-2v2m1-2v2m1-2v2m5-2v2m-283 0v2m2-2v2m8-2v2m141-2v2m70-2v2m5-2v2m1-2v2m51-2v2m13-2v2m-140 0v2m38-2v2m66-2v2m2-2v2m11-2v2m1-2v2m4-2v2m5-2v2m-321 0v2m28-2v2m10-2v2m1-2v2m156-2v2m40-2v2m34-2v2m3-2v2m4-2v2m21-2v2m15-2v2m3-2v2m15-2v2m1-2v2m1-2v2m3-2v2m-336 0v2m2-2v2m7-2v2m20-2v2m3-2v2m171-2v2m33-2v2m9-2v2m31-2v2m32-2v2m4-2v2m8-2v2m2-2v2m6-2v2m9-2v2m-312 0v2m172-2v2m2-2v2m1-2v2m33-2v2m28-2v2m2-2v2m5-2v2m23-2v2m21-2v2m2-2v2m1-2v2m-311 0v2m6-2v2m14-2v2m28-2v2m150-2v2m41-2v2m26-2v2m24-2v2m4-2v2m17-2v2m4-2v2m17-2v2m-335 0v2m7-2v2m4-2v2m5-2v2m11-2v2m171-2v2m72-2v2m40-2v2m1-2v2m6-2v2m20-2v2m-330 0v2m10-2v2m181-2v2m102-2v2m8-2v2m4-2v2m1-2v2m2-2v2m8-2v2m-309 0v2m4-2v2m283-2v2m19-2v2m3-2v2m11-2v2m3-2v2m-349 0v2m209-2v2m70-2v2m1-2v2m38-2v2m15-2v2m-333 0v2m8-2v2m273-2v2m28-2v2m32-2v2m1-2v2m7-2v2m-66 0v2m1-2v2m43-2v2m13-2v2m-2 0v2m5-2v2m1-2v2m4-2v2m-347 0v2m323-2v2m5-2v2m11-2v2m-339 0v2m348 0v2m-108 50v2m31-2v2m-5 2v2m-251 0v2m192-2v2m7-2v2m8-2v2m4-2v2m4-2v2m9-2v2m1-2v2m5-2v2m9-2v2m9-2v2m1-2v2m20-2v2m8-2v2m10-2v2m22-2v2m6-2v2m-119 0v2m3-2v2m7-2v2m31-2v2m9-2v2m13-2v2m8-2v2m8-2v2m8-2v2m2-2v2m8-2v2m5-2v2m3-2v2m24-2v2m-334 0v2m204-2v2m3-2v2m11-2v2m1-2v2m2-2v2m2-2v2m13-2v2m9-2v2m18-2v2m3-2v2m6-2v2m9-2v2m6-2v2m5-2v2m2-2v2m6-2v2m22-2v2m2-2v2m7-2v2m3-2v2m6-2v2m-345 0v2m10-2v2m7-2v2m188-2v2m2-2v2m9-2v2m9-2v2m3-2v2m7-2v2m16-2v2m15-2v2m4-2v2m16-2v2m4-2v2m4-2v2m1-2v2m4-2v2m7-2v2m7-2v2m10-2v2m6-2v2m2-2v2m9-2v2m1-2v2m-340 0v2m1-2v2m6-2v2m4-2v2m14-2v2m182-2v2m1-2v2m1-2v2m8-2v2m11-2v2m2-2v2m4-2v2m1-2v2m6-2v2m5-2v2m5-2v2m2-2v2m1-2v2m7-2v2m2-2v2m2-2v2m12-2v2m16-2v2m1-2v2m2-2v2m9-2v2m6-2v2m7-2v2m1-2v2m2-2v2m14-2v2m1-2v2m2-2v2m5-2v2m-343 0v2m11-2v2m6-2v2m8-2v2m182-2v2m5-2v2m17-2v2m4-2v2m8-2v2m1-2v2m30-2v2m20-2v2m13-2v2m4-2v2m7-2v2m15-2v2m8-2v2m-335 0v2m12-2v2m3-2v2m2-2v2m11-2v2m173-2v2m7-2v2m3-2v2m6-2v2m2-2v2m6-2v2m17-2v2m8-2v2m9-2v2m1-2v2m3-2v2m1-2v2m3-2v2m5-2v2m4-2v2m2-2v2m11-2v2m12-2v2m6-2v2m1-2v2m5-2v2m2-2v2m27-2v2m-320 0v2m14-2v2m166-2v2m2-2v2m10-2v2m3-2v2m6-2v2m2-2v2m6-2v2m2-2v2m10-2v2m7-2v2m16-2v2m28-2v2m14-2v2m23-2v2m8-2v2m2-2v2m-341 0v2m8-2v2m2-2v2m1-2v2m14-2v2m12-2v2m4-2v2m172-2v2m6-2v2m5-2v2m26-2v2m1-2v2m31-2v2m2-2v2m7-2v2m9-2v2m3-2v2m6-2v2m27-2v2m1-2v2m-341 0v2m5-2v2m2-2v2m15-2v2m4-2v2m3-2v2m7-2v2m1-2v2m154-2v2m18-2v2m18-2v2m6-2v2m27-2v2m5-2v2m9-2v2m1-2v2m7-2v2m13-2v2m6-2v2m20-2v2m3-2v2m2-2v2m-326 0v2m26-2v2m7-2v2m6-2v2m178-2v2m10-2v2m21-2v2m10-2v2m6-2v2m6-2v2m9-2v2m31-2v2m3-2v2m1-2v2m33-2v2m-332 0v2m19-2v2m4-2v2m2-2v2m13-2v2m9-2v2m4-2v2m6-2v2m118-2v2m21-2v2m3-2v2m3-2v2m4-2v2m23-2v2m24-2v2m17-2v2m11-2v2m1-2v2m2-2v2m6-2v2m11-2v2m17-2v2m3-2v2m5-2v2m-342 0v2m35-2v2m8-2v2m151-2v2m14-2v2m7-2v2m2-2v2m1-2v2m1-2v2m1-2v2m23-2v2m5-2v2m10-2v2m4-2v2m6-2v2m3-2v2m2-2v2m10-2v2m10-2v2m27-2v2m11-2v2m66-2v2m-386 0v2m6-2v2m1-2v2m7-2v2m56-2v2m1-2v2m6-2v2m119-2v2m2-2v2m48-2v2m4-2v2m1-2v2m13-2v2m2-2v2m40-2v2m5-2v2m8-2v2m7-2v2m7-2v2m-327 0v2m1-2v2m18-2v2m27-2v2m2-2v2m6-2v2m6-2v2m12-2v2m6-2v2m6-2v2m8-2v2m12-2v2m8-2v2m59-2v2m3-2v2m27-2v2m5-2v2m6-2v2m16-2v2m16-2v2m4-2v2m7-2v2m18-2v2m18-2v2m13-2v2m2-2v2m11-2v2m9-2v2m2-2v2m51-2v2m-393 0v2m37-2v2m7-2v2m13-2v2m9-2v2m2-2v2m35-2v2m25-2v2m54-2v2m26-2v2m1-2v2m6-2v2m1-2v2m28-2v2m30-2v2m10-2v2m7-2v2m1-2v2m2-2v2m3-2v2m4-2v2m13-2v2m27-2v2m55-2v2m-397 0v2m33-2v2m10-2v2m10-2v2m11-2v2m25-2v2m6-2v2m84-2v2m1-2v2m9-2v2m29-2v2m14-2v2m7-2v2m12-2v2m7-2v2m15-2v2m3-2v2m11-2v2m32-2v2m24-2v2m-340 0v2m29-2v2m8-2v2m6-2v2m13-2v2m8-2v2m8-2v2m2-2v2m7-2v2m96-2v2m72-2v2m17-2v2m20-2v2m2-2v2m29-2v2m7-2v2m9-2v2m3-2v2m14-2v2m5-2v2m4-2v2m6-2v2m1-2v2m8-2v2m7-2v2m8-2v2m2-2v2m-393 0v2m36-2v2m15-2v2m9-2v2m24-2v2m101-2v2m30-2v2m16-2v2m1-2v2m1-2v2m5-2v2m1-2v2m17-2v2m9-2v2m6-2v2m1-2v2m12-2v2m18-2v2m2-2v2m18-2v2m22-2v2m6-2v2m7-2v2m6-2v2m5-2v2m4-2v2m8-2v2m4-2v2m3-2v2m5-2v2m19-2v2m-415 0v2m11-2v2m60-2v2m7-2v2m15-2v2m93-2v2m1-2v2m5-2v2m16-2v2m38-2v2m7-2v2m1-2v2m17-2v2m54-2v2m17-2v2m11-2v2m5-2v2m1-2v2m4-2v2m4-2v2m3-2v2m10-2v2m1-2v2m14-2v2m-354 0v2m7-2v2m4-2v2m11-2v2m6-2v2m26-2v2m112-2v2m3-2v2m12-2v2m28-2v2m15-2v2m18-2v2m14-2v2m18-2v2m12-2v2m24-2v2m5-2v2m5-2v2m4-2v2m2-2v2m21-2v2m18-2v2m9-2v2m7-2v2m5-2v2m-400 0v2m3-2v2m33-2v2m30-2v2m95-2v2m1-2v2m5-2v2m12-2v2m28-2v2m16-2v2m20-2v2m8-2v2m15-2v2m11-2v2m52-2v2m6-2v2m13-2v2m1-2v2m19-2v2m2-2v2m-391 0v2m2-2v2m22-2v2m23-2v2m22-2v2m121-2v2m9-2v2m14-2v2m2-2v2m3-2v2m37-2v2m2-2v2m44-2v2m7-2v2m13-2v2m2-2v2m21-2v2m7-2v2m1-2v2m23-2v2m5-2v2m1-2v2m2-2v2m23-2v2m-391 0v2m50-2v2m6-2v2m157-2v2m5-2v2m24-2v2m20-2v2m36-2v2m6-2v2m24-2v2m6-2v2m10-2v2m26-2v2m8-2v2m17-2v2m7-2v2m-372 0v2m27-2v2m105-2v2m1-2v2m8-2v2m29-2v2m19-2v2m22-2v2m5-2v2m10-2v2m38-2v2m18-2v2m39-2v2m6-2v2m8-2v2m1-2v2m1-2v2m14-2v2m10-2v2m2-2v2m-375 0v2m19-2v2m26-2v2m135-2v2m4-2v2m11-2v2m14-2v2m3-2v2m18-2v2m5-2v2m42-2v2m36-2v2m7-2v2m5-2v2m3-2v2m3-2v2m1-2v2m7-2v2m6-2v2m4-2v2m2-2v2m10-2v2m-396 0v2m31-2v2m9-2v2m4-2v2m12-2v2m36-2v2m143-2v2m11-2v2m41-2v2m31-2v2m17-2v2m12-2v2m2-2v2m4-2v2m4-2v2m3-2v2m10-2v2m3-2v2m7-2v2m-130 0v2m110-2v2m8-2v2m18-2v2m26-2v2"/><path stroke="#806000" d="M140 0v2m254-2v2m33 0v2m-286 0v2m43-2v2m55-2v2m1-2v2m169-2v2m9-2v2m1-2v2m9-2v2m-428 0v2m141-2v2m29-2v2m256 0v2m-393 0v2m107-2v2m217-2v2m13-2v2m-229 0v2m226 0v2m-128 0v2m1-2v2m127-2v2m2-2v2m57-2v2m-395 0v2m110-2v2m118-2v2m-228 0v2m102-2v2m16-2v2m56-2v2m54-2v2m167-2v2m-393 0v2m114-2v2m3-2v2m108-2v2m53-2v2m-163 0v2m1-2v2m0 0v2m22-2v2m199-2v2m-265 0v2m53-2v2m83-2v2m187-2v2m-281 0v2m1-2v2m10-2v2m11-2v2m199-2v2m39-2v2m-251 0v2m21-2v2m82-2v2m-153 0v2m152-2v2m111-2v2m-263 0v2m42-2v2m1-2v2m35-2v2m55-2v2m19-2v2m-116 0v2m16-2v2m268-2v2m1-2v2m1-2v2m-323 0v2m56-2v2m-18 0v2m27-2v2m69-2v2m21-2v2m106-2v2m-267 0v2m34-2v2m27-2v2m79-2v2m21-2v2m107-2v2m59-2v2m-392 0v2m113-2v2m2-2v2m91-2v2m19-2v2m-126 0v2m29-2v2m79-2v2m70-2v2m58-2v2m35-2v2m-247 2v2m153-2v2m96-2v2m-381 0v2m124-2v2m26-2v2m194-2v2m27-2v2m13-2v2m-41 0v2m-271 0v2m36-2v2m41-2v2m66-2v2m117-2v2m53-2v2m5-2v2m8-2v2m-15 0v2m4-2v2m6-2v2m-321 0v2m36-2v2m263-2v2m23-2v2m3-2v2m-388 0v2m73-2v2m36-2v2m267-2v2m-306 0v2m58-2v2m-131 0v2m101-2v2m74-2v2m-176 0v2m155-2v2m-155 0v2m76-2v2m69-2v2m228-2v2m9-2v2m6-2v2m-256 0v2m44-2v2m35-2v2m71-2v2m100-2v2m-315 0v2m48-2v2m265-2v2m1-2v2m3-2v2m-406 0v2m18-2v2m141-2v2m59-2v2m2-2v2m-198 0v2m77-2v2m78-2v2m34-2v2m187-2v2m-405 0v2m7-2v2m18-2v2m135-2v2m247-2v2m3-2v2m-254 0v2m3-2v2m1-2v2m80-2v2m69-2v2m90 0v2m3-2v2m22-2v2m-319 0v2m100-2v2m34-2v2m166-2v2m-274 0v2m24-2v2m250-2v2m-381 0v2m135-2v2m7-2v2m144-2v2m93-2v2m-306 0v2m7-2v2m34-2v2m279-2v2m-266 0v2m16-2v2m189-2v2m-331 0v2m81-2v2m204-2v2m114-2v2m-328 0v2m8-2v2m60-2v2m62-2v2m-120 0v2m48-2v2m68-2v2m88-2v2m104-2v2m8-2v2m-325 0v2m79-2v2m8-2v2m45-2v2m168-2v2m1-2v2m-374 0v2m121-2v2m23-2v2m16-2v2m229-2v2m-315 0v2m8-2v2m76-2v2m175-2v2m36-2v2m-393 0v2m150-2v2m12-2v2m8-2v2m1-2v2m11-2v2m48-2v2m122-2v2m-352 0v2m59-2v2m38-2v2m40-2v2m13-2v2m5-2v2m66-2v2m136-2v2m40-2v2m1-2v2m-296 0v2m5-2v2m24-2v2m37-2v2m31-2v2m224-2v2m-202 0v2m6-2v2m134-2v2m60-2v2m-245 0v2m234-2v2m-266 0v2m167-2v2m49-2v2m5-2v2m29-2v2m5-2v2m19-2v2m4-2v2m-238 0v2m15-2v2m-173 0v2m90-2v2m29-2v2m227-2v2m42-2v2m-414 0v2m60-2v2m164-2v2m1-2v2m11-2v2m161-2v2m-234 0v2m7-2v2m14-2v2m33-2v2m10-2v2m7-2v2m118-2v2m11-2v2m2-2v2m7-2v2m20-2v2m9-2v2m14-2v2m9-2v2m-276 0v2m80-2v2m139-2v2m17-2v2m2-2v2m7-2v2m1-2v2m4-2v2m17-2v2m-415 0v2m115-2v2m33-2v2m14-2v2m60-2v2m8-2v2m144-2v2m19-2v2m29-2v2m-277 0v2m5-2v2m18-2v2m-24 0v2m27-2v2m2-2v2m47-2v2m8-2v2m173-2v2m-302 0v2m126-2v2m4-2v2m162-2v2m7-2v2m1-2v2m2-2v2m22-2v2m1-2v2m-394 0v2m130-2v2m1-2v2m204-2v2m31-2v2m1-2v2m18-2v2m-284 0v2m22-2v2m6-2v2m12-2v2m229-2v2m14-2v2m7-2v2m-322 0v2m62-2v2m14-2v2m189-2v2m1-2v2m4-2v2m-220 0v2m8-2v2m9-2v2m67-2v2m122-2v2m3-2v2m39-2v2m6-2v2m17-2v2m-321 0v2m59-2v2m4-2v2m190-2v2m16-2v2m9-2v2m3-2v2m7-2v2m6-2v2m31-2v2m-410 0v2m130-2v2m77-2v2m2-2v2m2-2v2m143-2v2m1-2v2m24-2v2m-250 0v2m76-2v2m12-2v2m80-2v2m-303 0v2m18-2v2m116-2v2m15-2v2m3-2v2m70-2v2m122-2v2m35-2v2m6-2v2m3-2v2m1-2v2m7-2v2m-297 0v2m8-2v2m38-2v2m4-2v2m3-2v2m15-2v2m42-2v2m9-2v2m4-2v2m139-2v2m46-2v2m-190 0v2m184-2v2m18-2v2m-285 0v2m77-2v2m150-2v2m-271 0v2m1-2v2m32-2v2m38-2v2m53-2v2m12-2v2m120-2v2m15-2v2m-270 0v2m32-2v2m34-2v2m63-2v2m5-2v2m1-2v2m75-2v2m81-2v2m-258 0v2m93-2v2m-217 0v2m210-2v2m92-2v2m116-2v2m-427 0v2m27-2v2m116-2v2m81-2v2m3-2v2m84-2v2m46-2v2m19-2v2m50-2v2m-318 0v2m31-2v2m4-2v2m10-2v2m8-2v2m12-2v2m59-2v2m3-2v2m75-2v2m47-2v2m17-2v2m9-2v2m-183 0v2m23-2v2m203-2v2m-328 0v2m2-2v2m4-2v2m55-2v2m41-2v2m32-2v2m5-2v2m23-2v2m135-2v2m33-2v2m-323 0v2m12-2v2m89-2v2m12-2v2m9-2v2m31-2v2m1-2v2m52-2v2m48-2v2m4-2v2m1-2v2m64-2v2m-290 0v2m5-2v2m10-2v2m70-2v2m12-2v2m2-2v2m116-2v2m18-2v2m2-2v2m21-2v2m11-2v2m16-2v2m-322 0v2m127-2v2m8-2v2m24-2v2m-90 0v2m51-2v2m14-2v2m134-2v2m-367 0v2m19-2v2m78-2v2m59-2v2m73-2v2m7-2v2m4-2v2m20-2v2m51-2v2m46-2v2m37-2v2m-392 0v2m28-2v2m19-2v2m58-2v2m26-2v2m37-2v2m-110 0v2m162-2v2m8-2v2m130-2v2m34-2v2m-393 0v2m2-2v2m3-2v2m10-2v2m11-2v2m205-2v2m2-2v2m24-2v2m2-2v2m91-2v2m24-2v2m9-2v2m11-2v2m-176 0v2m3-2v2m17-2v2m20-2v2m95-2v2m13-2v2m7-2v2m15-2v2m1-2v2m4-2v2m-383 0v2m87-2v2m122-2v2m7-2v2m138-2v2m29-2v2m-388 0v2m1-2v2m166-2v2m3-2v2m47-2v2m10-2v2m2-2v2m24-2v2m51-2v2m46-2v2m-347 0v2m6-2v2m83-2v2m58-2v2m63-2v2m4-2v2m150-2v2m3-2v2m-363 0v2m14-2v2m117-2v2m24-2v2m56-2v2m16-2v2m1-2v2m18-2v2m99-2v2m-331 0v2m198-2v2m33-2v2m128-2v2m3-2v2m-388 0v2m104-2v2m119-2v2m10-2v2m192-2v2m-281 0v2m7-2v2m3-2v2m205-2v2m2-2v2m23-2v2m-370 0v2m92-2v2m70-2v2m49-2v2m1-2v2m14-2v2m30-2v2m1-2v2m56-2v2m18-2v2m17-2v2m28-2v2m-390 0v2m97-2v2m8-2v2m2-2v2m118-2v2m9-2v2m1-2v2m23-2v2m109-2v2m14-2v2m45-2v2m-366 0v2m44-2v2m39-2v2m8-2v2m1-2v2m32-2v2m41-2v2m4-2v2m11-2v2m10-2v2m81-2v2m3-2v2m15-2v2m34-2v2m-280 0v2m40-2v2m33-2v2m60-2v2m3-2v2m19-2v2m3-2v2m11-2v2m41-2v2m21-2v2m43-2v2m44-2v2m-373 0v2m57-2v2m33-2v2m29-2v2m48-2v2m17-2v2m30-2v2m-262 0v2m59-2v2m113-2v2m38-2v2m30-2v2m27-2v2m12-2v2m122-2v2m20-2v2m1-2v2m1-2v2m3-2v2m-221 0v2m10-2v2m25-2v2m22-2v2m14-2v2m34-2v2m43-2v2m16-2v2m7-2v2m16-2v2m-382 0v2m38-2v2m210-2v2m16-2v2m36-2v2m16-2v2m26-2v2m8-2v2m-361 0v2m26-2v2m118-2v2m24-2v2m73-2v2m92-2v2m18-2v2m10-2v2m5-2v2m31-2v2m-383 0v2m148-2v2m78-2v2m135-2v2m22-2v2m3-2v2m14-2v2m-409 0v2m4-2v2m107-2v2m18-2v2m145-2v2m51-2v2m20-2v2m4-2v2m21-2v2m15-2v2m23-2v2m-259 0v2m177-2v2m19-2v2m9-2v2m24-2v2m15-2v2m-389 0v2m88-2v2m11-2v2m77-2v2m74-2v2m23-2v2m79-2v2m18-2v2m10-2v2m-366 0v2m94-2v2m92-2v2m35-2v2m6-2v2m16-2v2m15-2v2m39-2v2m15-2v2m19-2v2m2-2v2m68-2v2m-318 0v2m105-2v2m41-2v2m18-2v2m90-2v2m57-2v2m4-2v2m-236 0v2m55-2v2m99-2v2m12-2v2m30-2v2m7-2v2m27-2v2m2-2v2m-417 0v2m16-2v2m9-2v2m74-2v2m18-2v2m39-2v2m83-2v2m28-2v2m6-2v2m8-2v2m36-2v2m43-2v2m18-2v2m8-2v2m2-2v2m-253 0v2m9-2v2m118-2v2m68-2v2m17-2v2m4-2v2m40-2v2m32-2v2m-409 0v2m119-2v2m192-2v2m31-2v2m23-2v2m-374 0v2m3-2v2m1-2v2m87-2v2m38-2v2m17-2v2m125-2v2m40-2v2m43-2v2m1-2v2m23-2v2m-357 0v2m151-2v2m38-2v2m124-2v2m15-2v2m6-2v2m12-2v2m4-2v2m8-2v2m-378 0v2m17-2v2m141-2v2m9-2v2m193-2v2m-351 0v2m2-2v2m157-2v2m64-2v2m15-2v2m8-2v2m12-2v2m57-2v2m12-2v2m9-2v2m22-2v2m7-2v2m5-2v2m-379 0v2m10-2v2m1-2v2m118-2v2m103-2v2m30-2v2m13-2v2m30-2v2m70-2v2m30-2v2m13-2v2m-417 0v2m10-2v2m149-2v2m11-2v2m78-2v2m11-2v2m8-2v2m44-2v2m47-2v2m10-2v2m5-2v2m-378 0v2m103-2v2m61-2v2m84-2v2m32-2v2m54-2v2m34-2v2m6-2v2m8-2v2m1-2v2m-380 0v2m9-2v2m1-2v2m148-2v2m99-2v2m3-2v2m82-2v2m28-2v2m13-2v2m1-2v2m27-2v2m-405 0v2m1-2v2m2-2v2m94-2v2m51-2v2m4-2v2m91-2v2m57-2v2m15-2v2m5-2v2m5-2v2m6-2v2m20-2v2m16-2v2m19-2v2m3-2v2m-397 0v2m153-2v2m87-2v2m15-2v2m66-2v2m40-2v2m17-2v2m-379 0v2m4-2v2m6-2v2m4-2v2m32-2v2m119-2v2m114-2v2m42-2v2m15-2v2m36-2v2m5-2v2m4-2v2m9-2v2m2-2v2m21-2v2m-411 0v2m1-2v2m4-2v2m1-2v2m10-2v2m84-2v2m31-2v2m21-2v2m109-2v2m87-2v2m2-2v2m10-2v2m17-2v2m-116 0v2m10-2v2m7-2v2m35-2v2m20-2v2m21-2v2m10-2v2m7-2v2m6-2v2m2-2v2m-381 0v2m4-2v2m161-2v2m96-2v2m82-2v2m4-2v2m5-2v2m7-2v2m14-2v2m-370 0v2m8-2v2m198-2v2m22-2v2m30-2v2m2-2v2m45-2v2m11-2v2m19-2v2m21-2v2m-262 0v2m67-2v2m62-2v2m34-2v2m10-2v2m24-2v2m23-2v2m14-2v2m20-2v2m9-2v2m18-2v2m9-2v2m4-2v2m-129 0v2m13-2v2m17-2v2m2-2v2m23-2v2m3-2v2m1-2v2m56-2v2m11-2v2m26-2v2m-406 0v2m198-2v2m48-2v2m7-2v2m8-2v2m26-2v2m66-2v2m10-2v2m10-2v2m7-2v2m-387 0v2m6-2v2m130-2v2m6-2v2m67-2v2m19-2v2m66-2v2m43-2v2m2-2v2m35-2v2m11-2v2m2-2v2m10-2v2m1-2v2m-399 0v2m17-2v2m214-2v2m31-2v2m54-2v2m6-2v2m6-2v2m14-2v2m36-2v2m-375 0v2m16-2v2m1-2v2m210-2v2m40-2v2m49-2v2m9-2v2m11-2v2m3-2v2m28-2v2m11-2v2m7-2v2m-387 0v2m6-2v2m14-2v2m80-2v2m36-2v2m16-2v2m79-2v2m11-2v2m26-2v2m44-2v2m24-2v2m2-2v2m22-2v2m2-2v2m-352 0v2m213-2v2m9-2v2m3-2v2m89-2v2m2-2v2m5-2v2m15-2v2m3-2v2m-216 0v2m85-2v2m7-2v2m40-2v2m62-2v2m19-2v2m-349 0v2m19-2v2m4-2v2m37-2v2m167-2v2m2-2v2m6-2v2m37-2v2m54-2v2m19-2v2m-342 0v2m105-2v2m6-2v2m114-2v2m26-2v2m22-2v2m72-2v2m49-2v2m-388 0v2m2-2v2m1-2v2m102-2v2m4-2v2m10-2v2m111-2v2m29-2v2m13-2v2m38-2v2m8-2v2m5-2v2m10-2v2m8-2v2m35-2v2m-368 0v2m44-2v2m34-2v2m40-2v2m52-2v2m35-2v2m34-2v2m45-2v2m18-2v2m1-2v2m2-2v2m7-2v2m14-2v2m-343 0v2m21-2v2m39-2v2m37-2v2m173-2v2m66-2v2m9-2v2m-332 0v2m8-2v2m39-2v2m45-2v2m22-2v2m82-2v2m82-2v2m9-2v2m38-2v2m-322 0v2m3-2v2m70-2v2m2-2v2m18-2v2m10-2v2m122-2v2m11-2v2m1-2v2m25-2v2m65-2v2m-343 0v2m17-2v2m32-2v2m54-2v2m147-2v2m4-2v2m1-2v2m1-2v2m108-2v2m-346 0v2m53-2v2m1-2v2m7-2v2m43-2v2m140-2v2m1-2v2m2-2v2m13-2v2m16-2v2m45-2v2m26-2v2m37-2v2m-396 0v2m7-2v2m6-2v2m1-2v2m2-2v2m104-2v2m67-2v2m19-2v2m3-2v2m74-2v2m26-2v2m35-2v2m-350 0v2m5-2v2m8-2v2m11-2v2m39-2v2m62-2v2m115-2v2m35-2v2m20-2v2m-295 0v2m8-2v2m5-2v2m12-2v2m46-2v2m9-2v2m4-2v2m31-2v2m94-2v2m57-2v2m17-2v2m14-2v2m5-2v2m8-2v2m16-2v2m-301 0v2m5-2v2m34-2v2m3-2v2m6-2v2m42-2v2m130-2v2m19-2v2m78-2v2m-334 0v2m19-2v2m69-2v2m164-2v2m139-2v2m-396 0v2m15-2v2m12-2v2m62-2v2m22-2v2m2-2v2m7-2v2m91-2v2m48-2v2m5-2v2m58-2v2m4-2v2m12-2v2m-289 0v2m141-2v2m51-2v2m13-2v2m2-2v2m57-2v2m6-2v2m10-2v2m-314 0v2m262-2v2m45-2v2m10-2v2m4-2v2m1-2v2m2-2v2m-334 0v2m2-2v2m67-2v2m15-2v2m9-2v2m99-2v2m45-2v2m22-2v2m72-2v2m-337 0v2m4-2v2m46-2v2m28-2v2m7-2v2m5-2v2m159-2v2m7-2v2m15-2v2m12-2v2m29-2v2m2-2v2m5-2v2m-319 0v2m41-2v2m33-2v2m191-2v2m15-2v2m25-2v2m3-2v2m10-2v2m16-2v2m-278 0v2m1-2v2m1-2v2m4-2v2m6-2v2m5-2v2m3-2v2m131-2v2m4-2v2m34-2v2m11-2v2m57-2v2m8-2v2m18-2v2m-338 0v2m10-2v2m2-2v2m42-2v2m8-2v2m285-2v2m-345 0v2m3-2v2m34-2v2m15-2v2m21-2v2m171-2v2m53-2v2m8-2v2m37-2v2m-347 0v2m5-2v2m52-2v2m19-2v2m255-2v2m4-2v2m-90 0v2m44-2v2m17-2v2m-271 0v2m25-2v2m4-2v2m180-2v2m89-2v2m-329 0v2m3-2v2m6-2v2m17-2v2m185-2v2m30-2v2m30-2v2m73-2v2m-303 0v2m269-2v2m6-2v2m-314 0v2m2-2v2m5-2v2m4-2v2m13-2v2m14-2v2m2-2v2m167-2v2m34-2v2m63-2v2m23-2v2m-331 0v2m13-2v2m1-2v2m23-2v2m10-2v2m204-2v2m57-2v2m15-2v2m2-2v2m3-2v2m18-2v2m-321 0v2m7-2v2m1-2v2m4-2v2m216-2v2m75-2v2m-292 0v2m272-2v2m21-2v2m-118 0v2m101-2v2m2-2v2m15-2v2m13-2v2m-29 0v2m2-2v2m10 2v2m10 0v2m10 38v2m-134 6v2m4 4v2m0 0v2m77-2v2m-269 0v2m192-2v2m31-2v2m51-2v2m-280 0v2m1-2v2m5-2v2m208-2v2m6-2v2m108-2v2m-334 0v2m249-2v2m4-2v2m11-2v2m34-2v2m-300 0v2m10-2v2m203-2v2m7-2v2m19-2v2m-248 0v2m10-2v2m13-2v2m7-2v2m214-2v2m12-2v2m74-2v2m8-2v2m-303 0v2m161-2v2m14-2v2m89-2v2m34-2v2m-329 0v2m12-2v2m3-2v2m16-2v2m240-2v2m28-2v2m11-2v2m5-2v2m-317 0v2m306-2v2m27-2v2m-307 0v2m4-2v2m246-2v2m13-2v2m35-2v2m12-2v2m2-2v2m-305 0v2m176-2v2m62-2v2m5-2v2m8-2v2m12-2v2m15-2v2m7-2v2m16-2v2m3-2v2m8-2v2m-342 0v2m30-2v2m39-2v2m136-2v2m43-2v2m2-2v2m48-2v2m2-2v2m18-2v2m4-2v2m-306 0v2m13-2v2m2-2v2m157-2v2m17-2v2m1-2v2m2-2v2m1-2v2m-213 0v2m1-2v2m16-2v2m37-2v2m6-2v2m160-2v2m18-2v2m22-2v2m17-2v2m18-2v2m7-2v2m15-2v2m8-2v2m18-2v2m-308 0v2m10-2v2m19-2v2m126-2v2m26-2v2m110-2v2m20-2v2m-318 0v2m21-2v2m2-2v2m80-2v2m13-2v2m1-2v2m7-2v2m28-2v2m31-2v2m25-2v2m2-2v2m25-2v2m28-2v2m14-2v2m-245 0v2m11-2v2m29-2v2m48-2v2m25-2v2m7-2v2m12-2v2m47-2v2m1-2v2m20-2v2m2-2v2m17-2v2m8-2v2m1-2v2m4-2v2m-268 0v2m3-2v2m1-2v2m3-2v2m49-2v2m5-2v2m6-2v2m6-2v2m15-2v2m1-2v2m8-2v2m4-2v2m5-2v2m6-2v2m100-2v2m13-2v2m17-2v2m30-2v2m8-2v2m11-2v2m20-2v2m7-2v2m3-2v2m18-2v2m-365 0v2m10-2v2m5-2v2m37-2v2m3-2v2m42-2v2m9-2v2m14-2v2m6-2v2m5-2v2m14-2v2m42-2v2m32-2v2m24-2v2m14-2v2m27-2v2m49-2v2m13-2v2m20-2v2m-345 0v2m12-2v2m14-2v2m22-2v2m55-2v2m6-2v2m13-2v2m4-2v2m8-2v2m8-2v2m61-2v2m4-2v2m3-2v2m34-2v2m6-2v2m16-2v2m38-2v2m19-2v2m3-2v2m5-2v2m-336 0v2m3-2v2m48-2v2m8-2v2m58-2v2m2-2v2m20-2v2m10-2v2m41-2v2m15-2v2m16-2v2m2-2v2m5-2v2m5-2v2m29-2v2m12-2v2m-269 0v2m7-2v2m7-2v2m12-2v2m52-2v2m22-2v2m92-2v2m10-2v2m7-2v2m6-2v2m2-2v2m35-2v2m4-2v2m16-2v2m1-2v2m8-2v2m14-2v2m8-2v2m45-2v2m-362 0v2m2-2v2m2-2v2m4-2v2m33-2v2m1-2v2m4-2v2m48-2v2m18-2v2m8-2v2m43-2v2m47-2v2m10-2v2m19-2v2m55-2v2m14-2v2m5-2v2m-319 0v2m2-2v2m2-2v2m6-2v2m5-2v2m2-2v2m9-2v2m17-2v2m3-2v2m4-2v2m21-2v2m39-2v2m16-2v2m1-2v2m21-2v2m89-2v2m8-2v2m14-2v2m13-2v2m20-2v2m15-2v2m1-2v2m11-2v2m2-2v2m25-2v2m-342 0v2m10-2v2m19-2v2m11-2v2m9-2v2m25-2v2m11-2v2m4-2v2m20-2v2m3-2v2m6-2v2m63-2v2m1-2v2m73-2v2m16-2v2m5-2v2m15-2v2m15-2v2m13-2v2m12-2v2m11-2v2m60-2v2m-400 0v2m9-2v2m7-2v2m11-2v2m4-2v2m12-2v2m13-2v2m8-2v2m15-2v2m1-2v2m11-2v2m1-2v2m11-2v2m7-2v2m1-2v2m64-2v2m7-2v2m6-2v2m13-2v2m5-2v2m12-2v2m13-2v2m16-2v2m15-2v2m7-2v2m38-2v2m20-2v2m4-2v2m73-2v2m-400 0v2m7-2v2m3-2v2m5-2v2m3-2v2m2-2v2m1-2v2m3-2v2m5-2v2m6-2v2m44-2v2m1-2v2m8-2v2m21-2v2m8-2v2m16-2v2m4-2v2m16-2v2m13-2v2m20-2v2m11-2v2m2-2v2m3-2v2m14-2v2m8-2v2m5-2v2m2-2v2m12-2v2m8-2v2m1-2v2m19-2v2m40-2v2m6-2v2m10-2v2m12-2v2m57-2v2m-390 0v2m5-2v2m12-2v2m28-2v2m10-2v2m27-2v2m4-2v2m7-2v2m7-2v2m6-2v2m30-2v2m63-2v2m5-2v2m11-2v2m8-2v2m17-2v2m10-2v2m3-2v2m20-2v2m11-2v2m6-2v2m13-2v2m9-2v2m16-2v2m-336 0v2m2-2v2m7-2v2m27-2v2m47-2v2m2-2v2m18-2v2m6-2v2m4-2v2m38-2v2m9-2v2m36-2v2m10-2v2m18-2v2m6-2v2m12-2v2m29-2v2m16-2v2m17-2v2m11-2v2m23-2v2"/><path stroke="#208000" d="M200 0v2m221-2v2m6-2v2m-16 0v2m-151 2v2m134-2v2m1-2v2m33 0v2m-228 0v2m228-2v2m-170 0v2m1-2v2m149-2v2m13-2v2m-163 0v2m137-2v2m-395 0v2m259-2v2m159-2v2m2-2v2m-251 0v2m89-2v2m162-2v2m6-2v2m1-2v2m-256 0v2m1-2v2m198-2v2m58-2v2m-2 0v2m-257 0v2m257-2v2m2-2v2m-428 0v2m184-2v2m242-2v2m-277 0v2m21-2v2m257 0v2m-277 0v2m34-2v2m76-2v2m107-2v2m1-2v2m-337 0v2m139-2v2m2-2v2m255-2v2m-258 0v2m-144 0v2m124-2v2m10-2v2m12-2v2m68-2v2m-89 0v2m33-2v2m76-2v2m168-2v2m1-2v2m-403 0v2m147-2v2m86-2v2m109-2v2m-233 0v2m9-2v2m19-2v2m7-2v2m1-2v2m1-2v2m223-2v2m-369 0v2m6-2v2m116 0v2m22-2v2m90-2v2m111-2v2m-199 0v2m4-2v2m1-2v2m63-2v2m21-2v2m135-2v2m1-2v2m30-2v2m-279 0v2m1-2v2m27-2v2m193-2v2m2-2v2m37-2v2m-301 0v2m41-2v2m24-2v2m69-2v2m177-2v2m11-2v2m-280 0v2m1-2v2m8-2v2m2-2v2m3-2v2m243-2v2m8-2v2m4-2v2m9-2v2m-283 0v2m4-2v2m3-2v2m25-2v2m135-2v2m96-2v2m1-2v2m20-2v2m-427 0v2m26-2v2m8-2v2m113-2v2m12-2v2m16-2v2m242-2v2m-383 0v2m64-2v2m49-2v2m3-2v2m12-2v2m241-2v2m10-2v2m15-2v2m-402 0v2m285-2v2m-311 0v2m30-2v2m104-2v2m26-2v2m80-2v2m19-2v2m1-2v2m-103 0v2m82-2v2m1-2v2m130-2v2m47-2v2m-319 0v2m59-2v2m4-2v2m97-2v2m100-2v2m-200 0v2m4-2v2m79-2v2m-241 0v2m26-2v2m72-2v2m6-2v2m53-2v2m4-2v2m8-2v2m15-2v2m126-2v2m94-2v2m-300 0v2m136-2v2m20-2v2m109-2v2m27-2v2m11-2v2m6-2v2m-314 0v2m140-2v2m-214 0v2m133-2v2m152-2v2m47-2v2m37-2v2m34-2v2m-397 0v2m125-2v2m248-2v2m3-2v2m10-2v2m-310 0v2m44-2v2m7-2v2m1-2v2m11-2v2m13-2v2m185-2v2m-261 0v2m68-2v2m66-2v2m126-2v2m38-2v2m-301 0v2m29-2v2m13-2v2m26-2v2m13-2v2m182-2v2m29-2v2m7-2v2m-260 0v2m19-2v2m79-2v2m117-2v2m-260 0v2m7-2v2m38-2v2m13-2v2m-52 0v2m72-2v2m63-2v2m2-2v2m17-2v2m53-2v2m47-2v2m-254 0v2m54-2v2m81-2v2m157-2v2m31-2v2m-402 0v2m74-2v2m6-2v2m95-2v2m40-2v2m163-2v2m-297 0v2m50-2v2m3-2v2m3-2v2m195-2v2m46-2v2m-403 0v2m25-2v2m72-2v2m2-2v2m78-2v2m181-2v2m-210 0v2m15-2v2m250-2v2m-250 0v2m78-2v2m117-2v2m-254 0v2m1-2v2m298-2v2m3-2v2m-406 0v2m25-2v2m73-2v2m36-2v2m13-2v2m2-2v2m90-2v2m119-2v2m-332 0v2m4-2v2m102-2v2m45-2v2m23-2v2m157-2v2m9-2v2m56-2v2m6-2v2m-28 0v2m23-2v2m-317 0v2m45-2v2m5-2v2m5-2v2m-161 0v2m25-2v2m376-2v2m13-2v2m-384 0v2m76-2v2m252-2v2m44-2v2m-402 0v2m402-2v2m-236 0v2m146-2v2m86-2v2m-292 0v2m57-2v2m203-2v2m2-2v2m47-2v2m8-2v2m-397 0v2m208-2v2m78-2v2m105-2v2m-319 0v2m48-2v2m28-2v2m47-2v2m145-2v2m38-2v2m9-2v2m2-2v2m10-2v2m-251 0v2m54-2v2m1-2v2m1-2v2m192-2v2m-325 0v2m68-2v2m2-2v2m61-2v2m138-2v2m32-2v2m-295 0v2m63-2v2m71-2v2m161-2v2m16-2v2m8-2v2m-316 0v2m60-2v2m146-2v2m-212 0v2m46-2v2m-46 0v2m3-2v2m263-2v2m34-2v2m23-2v2m-326 0v2m139-2v2m162-2v2m4-2v2m-268 0v2m29-2v2m2-2v2m9-2v2m53-2v2m4-2v2m2-2v2m4-2v2m75-2v2m101-2v2m10-2v2m-414 0v2m125-2v2m265-2v2m16-2v2m9-2v2m-408 0v2m87-2v2m1-2v2m47-2v2m2-2v2m12-2v2m1-2v2m1-2v2m52-2v2m1-2v2m15-2v2m164-2v2m15-2v2m-406 0v2m159-2v2m10-2v2m224-2v2m15-2v2m-400 0v2m128-2v2m22-2v2m64-2v2m2-2v2m4-2v2m75-2v2m89-2v2m25-2v2m-417 0v2m124-2v2m3-2v2m4-2v2m25-2v2m2-2v2m63-2v2m83-2v2m113-2v2m-290 0v2m32-2v2m51-2v2m17-2v2m131-2v2m32-2v2m-382 0v2m138-2v2m67-2v2m2-2v2m1-2v2m11-2v2m1-2v2m163-2v2m2-2v2m-235 0v2m56-2v2m8-2v2m3-2v2m167-2v2m-237 0v2m1-2v2m21-2v2m40-2v2m1-2v2m171-2v2m3-2v2m24-2v2m-424 0v2m167-2v2m61-2v2m8-2v2m74-2v2m-92 0v2m9-2v2m1-2v2m3-2v2m4-2v2m131-2v2m36-2v2m-401 0v2m144-2v2m85-2v2m2-2v2m193-2v2m-424 0v2m25-2v2m128-2v2m9-2v2m58-2v2m4-2v2m5-2v2m-222 0v2m221-2v2m6-2v2m-208 0v2m137-2v2m10-2v2m226-2v2m14-2v2m8-2v2m-414 0v2m92-2v2m53-2v2m1-2v2m72-2v2m7-2v2m-232 0v2m138-2v2m79-2v2m14-2v2m165-2v2m-259 0v2m36-2v2m44-2v2m2-2v2m2-2v2m3-2v2m7-2v2m-93 0v2m6-2v2m8-2v2m2-2v2m66-2v2m5-2v2m8-2v2m1-2v2m1-2v2m76-2v2m41-2v2m-214 0v2m5-2v2m77-2v2m178-2v2m-383 0v2m100-2v2m36-2v2m68-2v2m5-2v2m5-2v2m194-2v2m-206 0v2m14-2v2m127-2v2m54-2v2m2-2v2m-400 0v2m203-2v2m5-2v2m13-2v2m163-2v2m2-2v2m-392 0v2m51-2v2m78-2v2m83-2v2m7-2v2m1-2v2m3-2v2m3-2v2m182-2v2m-265 0v2m13-2v2m53-2v2m7-2v2m11-2v2m135-2v2m-356 0v2m129-2v2m21-2v2m3-2v2m54-2v2m2-2v2m3-2v2m2-2v2m3-2v2m5-2v2m165-2v2m-286 0v2m19-2v2m9-2v2m10-2v2m70-2v2m10-2v2m1-2v2m187-2v2m-407 0v2m85-2v2m53-2v2m65-2v2m5-2v2m-214 0v2m126-2v2m29-2v2m55-2v2m16-2v2m77-2v2m116-2v2m-312 0v2m19-2v2m9-2v2m8-2v2m3-2v2m19-2v2m49-2v2m4-2v2m9-2v2m1-2v2m124-2v2m18-2v2m-226 0v2m69-2v2m2-2v2m5-2v2m5-2v2m132-2v2m50-2v2m-316 0v2m39-2v2m13-2v2m67-2v2m-66 0v2m2-2v2m64-2v2m3-2v2m5-2v2m5-2v2m145-2v2m-328 0v2m83-2v2m3-2v2m3-2v2m17-2v2m231-2v2m2-2v2m-272 0v2m115-2v2m1-2v2m142-2v2m8-2v2m-274 0v2m37-2v2m92-2v2m128-2v2m-356 0v2m129-2v2m90-2v2m1-2v2m7-2v2m120-2v2m29-2v2m-166 0v2m8-2v2m1-2v2m132-2v2m1-2v2m19-2v2m-365 0v2m124-2v2m6-2v2m233-2v2m3-2v2m-366 0v2m117-2v2m13-2v2m8-2v2m72-2v2m1-2v2m3-2v2m127-2v2m-340 0v2m45-2v2m77-2v2m80-2v2m9-2v2m124-2v2m15-2v2m5-2v2m1-2v2m-323 0v2m51-2v2m39-2v2m15-2v2m19-2v2m51-2v2m156-2v2m1-2v2m6-2v2m-386 0v2m217-2v2m1-2v2m4-2v2m152-2v2m1-2v2m9-2v2m-380 0v2m43-2v2m185-2v2m125-2v2m4-2v2m10-2v2m8-2v2m11-2v2m-383 0v2m1-2v2m7-2v2m11-2v2m193-2v2m146-2v2m18-2v2m5-2v2m-374 0v2m33-2v2m304-2v2m13-2v2m12-2v2m-361 0v2m137-2v2m221-2v2m18-2v2m-381 0v2m134-2v2m89-2v2m149-2v2m4-2v2m2-2v2m3-2v2m-376 0v2m138-2v2m201-2v2m20-2v2m7-2v2m2-2v2m4-2v2m1-2v2m-383 0v2m102-2v2m27-2v2m16-2v2m204-2v2m7-2v2m2-2v2m5-2v2m9-2v2m13-2v2m-385 0v2m12-2v2m2-2v2m2-2v2m110-2v2m21-2v2m11-2v2m69-2v2m4-2v2m114-2v2m3-2v2m1-2v2m9-2v2m2-2v2m21-2v2m-271 0v2m236-2v2m4-2v2m10-2v2m7-2v2m4-2v2m9-2v2m7-2v2m-390 0v2m12-2v2m7-2v2m39-2v2m35-2v2m129-2v2m13-2v2m114-2v2m2-2v2m20-2v2m11-2v2m6-2v2m-385 0v2m4-2v2m11-2v2m118-2v2m5-2v2m74-2v2m153-2v2m18-2v2m-380 0v2m5-2v2m94-2v2m118-2v2m161-2v2m-386 0v2m7-2v2m6-2v2m5-2v2m4-2v2m80-2v2m13-2v2m21-2v2m175-2v2m39-2v2m7-2v2m14-2v2m2-2v2m5-2v2m10-2v2m-385 0v2m9-2v2m3-2v2m1-2v2m4-2v2m124-2v2m75-2v2m3-2v2m167-2v2m-381 0v2m355-2v2m23-2v2m3-2v2m1-2v2m1-2v2m-332 0v2m312-2v2m3-2v2m2-2v2m15-2v2m-390 0v2m6-2v2m6-2v2m13-2v2m33-2v2m252-2v2m65-2v2m-363 0v2m8-2v2m78-2v2m263-2v2m14-2v2m9-2v2m-383 0v2m113-2v2m146-2v2m89-2v2m11-2v2m25-2v2m-368 0v2m98-2v2m27-2v2m208-2v2m9-2v2m13-2v2m3-2v2m-375 2v2m19-2v2m95-2v2m28-2v2m44-2v2m32-2v2m115-2v2m31-2v2m11-2v2m3-2v2m2-2v2m3-2v2m1-2v2m1-2v2m2-2v2m1-2v2m2-2v2m-384 0v2m4-2v2m4-2v2m45-2v2m47-2v2m280-2v2m-385 0v2m5-2v2m7-2v2m8-2v2m4-2v2m21-2v2m139-2v2m185-2v2m14-2v2m1-2v2m1-2v2m-381 0v2m2-2v2m4-2v2m1-2v2m4-2v2m78-2v2m12-2v2m115-2v2m42-2v2m79-2v2m36-2v2m6-2v2m-380 0v2m4-2v2m50-2v2m204-2v2m1-2v2m31-2v2m37-2v2m12-2v2m31-2v2m7-2v2m-377 0v2m5-2v2m12-2v2m113-2v2m52-2v2m54-2v2m75-2v2m49-2v2m15-2v2m5-2v2m1-2v2m-385 0v2m18-2v2m28-2v2m48-2v2m4-2v2m169-2v2m24-2v2m70-2v2m10-2v2m-360 0v2m4-2v2m1-2v2m2-2v2m1-2v2m39-2v2m259-2v2m58-2v2m2-2v2m4-2v2m8-2v2m1-2v2m-378 0v2m1-2v2m7-2v2m246-2v2m29-2v2m18-2v2m25-2v2m45-2v2m-380 0v2m6-2v2m1-2v2m178-2v2m52-2v2m50-2v2m2-2v2m23-2v2m16-2v2m4-2v2m-330 0v2m1-2v2m13-2v2m75-2v2m30-2v2m141-2v2m-262 0v2m3-2v2m3-2v2m4-2v2m81-2v2m26-2v2m209-2v2m9-2v2m3-2v2m21-2v2m-360 0v2m19-2v2m102-2v2m118-2v2m26-2v2m30-2v2m16-2v2m-304 0v2m1-2v2m2-2v2m1-2v2m95-2v2m8-2v2m151-2v2m1-2v2m29-2v2m-276 0v2m79-2v2m6-2v2m1-2v2m2-2v2m-96 0v2m5-2v2m3-2v2m25-2v2m69-2v2m152-2v2m-252 0v2m3-2v2m197-2v2m54-2v2m21-2v2m-277 0v2m62-2v2m32-2v2m4-2v2m1-2v2m184-2v2m-296 0v2m2-2v2m5-2v2m5-2v2m46-2v2m2-2v2m16-2v2m15-2v2m124-2v2m80-2v2m3-2v2m-299 0v2m7-2v2m4-2v2m2-2v2m2-2v2m11-2v2m45-2v2m4-2v2m9-2v2m2-2v2m-79 0v2m9-2v2m6-2v2m53-2v2m12-2v2m6-2v2m196-2v2m-270 0v2m55-2v2m1-2v2m224-2v2m-295 0v2m7-2v2m6-2v2m52-2v2m6-2v2m8-2v2m1-2v2m9-2v2m-89 0v2m2-2v2m6-2v2m45-2v2m7-2v2m19-2v2m112-2v2m21-2v2m40-2v2m55-2v2m-306 0v2m4-2v2m6-2v2m7-2v2m40-2v2m9-2v2m125-2v2m48-2v2m12-2v2m-255 0v2m1-2v2m2-2v2m6-2v2m1-2v2m2-2v2m43-2v2m245-2v2m-294 0v2m12-2v2m31-2v2m1-2v2m4-2v2m247-2v2m-297 0v2m9-2v2m4-2v2m33-2v2m28-2v2m223-2v2m-293 0v2m4-2v2m10-2v2m-23 0v2m5-2v2m9-2v2m5-2v2m21-2v2m15-2v2m153-2v2m2-2v2m36-2v2m28-2v2m-262 0v2m6-2v2m3-2v2m30-2v2m163-2v2m58-2v2m-268 0v2m17-2v2m14-2v2m5-2v2m168-2v2m-206 0v2m6-2v2m10-2v2m1-2v2m23-2v2m169-2v2m39-2v2m53-2v2m-284 0v2m18-2v2m169-2v2m69-2v2m-267 0v2m30-2v2m237-2v2m-268 0v2m342-2v2m-349 2v2m5-2v2m344-2v2m-345 0v2m303-2v2m5-2v2m37-2v2m-344 0v2m1-2v2m315-2v2m25 0v2m1-2v2m-344 0v2m334-2v2m12-2v2m-8 0v2m-6 2v2m-315 60v2m254-2v2m46-2v2m-309 0v2m3-2v2m-6 0v2m8-2v2m293-2v2m-297 0v2m233-2v2m-235 0v2m19-2v2m210-2v2m71-2v2m-305 0v2m3-2v2m17-2v2m-26 0v2m23-2v2m11 0v2m-33 0v2m30-2v2m-27 0v2m2-2v2m321 0v2m5-2v2m-305 0v2m4-2v2m2-2v2m25-2v2m152-2v2m38-2v2m7-2v2m52-2v2m36-2v2m54-2v2m-371 0v2m7-2v2m226-2v2m57-2v2m11-2v2m10-2v2m8-2v2m-328 0v2m17-2v2m45-2v2m143-2v2m72-2v2m3-2v2m13-2v2m-309 0v2m5-2v2m21-2v2m49-2v2m85-2v2m49-2v2m19-2v2m5-2v2m26-2v2m33-2v2m12-2v2m26-2v2m68-2v2m-383 0v2m14-2v2m21-2v2m2-2v2m34-2v2m4-2v2m10-2v2m9-2v2m12-2v2m9-2v2m4-2v2m4-2v2m10-2v2m10-2v2m41-2v2m8-2v2m24-2v2m79-2v2m9-2v2m-304 0v2m4-2v2m4-2v2m2-2v2m16-2v2m14-2v2m11-2v2m24-2v2m5-2v2m1-2v2m21-2v2m4-2v2m12-2v2m2-2v2m11-2v2m15-2v2m72-2v2m47-2v2m34-2v2m5-2v2m84-2v2m-400 0v2m10-2v2m10-2v2m2-2v2m22-2v2m12-2v2m1-2v2m14-2v2m11-2v2m11-2v2m9-2v2m22-2v2m1-2v2m26-2v2m8-2v2m11-2v2m21-2v2m1-2v2m14-2v2m4-2v2m3-2v2m4-2v2m53-2v2m6-2v2m2-2v2m33-2v2m7-2v2m19-2v2m-335 0v2m11-2v2m14-2v2m14-2v2m21-2v2m7-2v2m44-2v2m5-2v2m5-2v2m23-2v2m12-2v2m3-2v2m2-2v2m51-2v2m38-2v2m7-2v2m31-2v2m31-2v2m6-2v2m13-2v2m-336 0v2m13-2v2m1-2v2m22-2v2m10-2v2m1-2v2m2-2v2m3-2v2m43-2v2m7-2v2m3-2v2m4-2v2m22-2v2m20-2v2m12-2v2m27-2v2m21-2v2m15-2v2m5-2v2m61-2v2m105-2v2m-401 0v2m11-2v2m17-2v2m3-2v2m3-2v2m14-2v2m16-2v2m12-2v2m21-2v2m2-2v2m3-2v2m7-2v2m8-2v2m2-2v2m7-2v2m1-2v2m25-2v2m4-2v2m10-2v2m3-2v2m18-2v2m3-2v2m4-2v2m1-2v2m11-2v2m16-2v2m6-2v2m12-2v2m4-2v2m6-2v2m13-2v2m1-2v2m5-2v2m9-2v2m33-2v2m17-2v2m4-2v2m5-2v2m-327 0v2m15-2v2m15-2v2m1-2v2m10-2v2m5-2v2m13-2v2m2-2v2m30-2v2m5-2v2m1-2v2m6-2v2m5-2v2m4-2v2m11-2v2m14-2v2m15-2v2m59-2v2m48-2v2m5-2v2m11-2v2m8-2v2m15-2v2m17-2v2m3-2v2m3-2v2m7-2v2m4-2v2m55-2v2m-393 0v2m15-2v2m13-2v2m29-2v2m15-2v2m1-2v2m5-2v2m9-2v2m1-2v2m5-2v2m2-2v2m2-2v2m2-2v2m4-2v2m6-2v2m6-2v2m1-2v2m12-2v2m11-2v2m9-2v2m10-2v2m25-2v2m1-2v2m7-2v2m18-2v2m2-2v2m5-2v2m29-2v2m1-2v2m14-2v2m9-2v2m5-2v2m8-2v2m15-2v2m12-2v2m-316 0v2m10-2v2m10-2v2m9-2v2m13-2v2m1-2v2m4-2v2m50-2v2m5-2v2m1-2v2m5-2v2m2-2v2m18-2v2m7-2v2m11-2v2m8-2v2m5-2v2m9-2v2m40-2v2m3-2v2m7-2v2m13-2v2m6-2v2m4-2v2m7-2v2m11-2v2m15-2v2m10-2v2m21-2v2m43-2v2m67-2v2m-410 0v2m3-2v2m6-2v2m8-2v2m15-2v2m31-2v2m16-2v2m11-2v2m2-2v2m4-2v2m11-2v2m1-2v2m7-2v2m2-2v2m1-2v2m6-2v2m1-2v2m21-2v2m13-2v2m7-2v2m1-2v2m13-2v2m2-2v2m71-2v2m12-2v2m2-2v2m2-2v2m19-2v2m35-2v2m19-2v2m74-2v2m-421 0v2m9-2v2m34-2v2m8-2v2m4-2v2m27-2v2m15-2v2m4-2v2m1-2v2m25-2v2m3-2v2m1-2v2m105-2v2m3-2v2m2-2v2m2-2v2m12-2v2m9-2v2m25-2v2m12-2v2m17-2v2m15-2v2m7-2v2m5-2v2m2-2v2m66-2v2m-410 0v2m9-2v2m6-2v2m1-2v2m70-2v2m15-2v2m2-2v2m9-2v2m7-2v2m8-2v2m1-2v2m21-2v2m2-2v2m5-2v2m14-2v2m19-2v2m1-2v2m1-2v2m3-2v2m9-2v2m17-2v2m7-2v2m6-2v2m2-2v2m9-2v2m2-2v2m12-2v2m7-2v2m13-2v2m1-2v2m23-2v2m26-2v2m2-2v2m5-2v2m5-2v2m60-2v2m-397 0v2m2-2v2m7-2v2m40-2v2m5-2v2m5-2v2m6-2v2m4-2v2m7-2v2m1-2v2m10-2v2m5-2v2m2-2v2m1-2v2m14-2v2m5-2v2m1-2v2m4-2v2m4-2v2m2-2v2m22-2v2m2-2v2m9-2v2m11-2v2m13-2v2m23-2v2m1-2v2m26-2v2m12-2v2m7-2v2m3-2v2m11-2v2m7-2v2m4-2v2m6-2v2m3-2v2m1-2v2m1-2v2m4-2v2m10-2v2m5-2v2m2-2v2m12-2v2m1-2v2m2-2v2m1-2v2m7-2v2m6-2v2m84-2v2"/><path stroke="#408000" d="M206 0v2m105-2v2m97 0v2m12-2v2m-272 0v2m246-2v2m-232 0v2m249-2v2m1-2v2m6-2v2m-384 0v2m124-2v2m48 0v2m188 0v2m24 0v2m1 0v2m2-2v2m-26 0v2m-296 0v2m101-2v2m58-2v2m151-2v2m2-2v2m9-2v2m0 0v2m1-2v2m-12 0v2m2-2v2m8-2v2m-8 0v2m-228 0v2m225 0v2m-225 0v2m17-2v2m194 0v2m15-2v2m11-2v2m-11 2v2m-15 0v2m-211 0v2m183 0v2m-220 0v2m-34 0v2m88 2v2m59-2v2m135-2v2m18-2v2m14-2v2m2-2v2m-244 0v2m243-2v2m-280 0v2m25-2v2m222-2v2m3-2v2m5-2v2m10-2v2m-264 0v2m247-2v2m-247 0v2m2-2v2m252-2v2m14-2v2m-282 0v2m32-2v2m201-2v2m1-2v2m2-2v2m28-2v2m-264 0v2m15-2v2m14-2v2m1-2v2m2-2v2m6-2v2m196-2v2m45-2v2m8-2v2m-273 0v2m21-2v2m3-2v2m198-2v2m56-2v2m1-2v2m-419 0v2m141-2v2m1-2v2m16-2v2m5-2v2m1-2v2m-22 0v2m219-2v2m58-2v2m-396 0v2m338-2v2m-219 0v2m-150 0v2m153-2v2m47-2v2m20-2v2m151-2v2m55-2v2m-273 0v2m6-2v2m17-2v2m82-2v2m110-2v2m39-2v2m-373 0v2m142-2v2m46-2v2m5-2v2m12-2v2m21-2v2m77-2v2m-199 0v2m16-2v2m29-2v2m36-2v2m41-2v2m136-2v2m7-2v2m10-2v2m-413 0v2m100-2v2m72-2v2m1-2v2m11-2v2m36-2v2m38-2v2m137-2v2m33-2v2m-428 0v2m34-2v2m91-2v2m5-2v2m4-2v2m10-2v2m28-2v2m58-2v2m28-2v2m1-2v2m147-2v2m7-2v2m-379 0v2m126-2v2m11-2v2m199-2v2m17-2v2m8-2v2m31-2v2m-392 0v2m99-2v2m14-2v2m7-2v2m22-2v2m7-2v2m43-2v2m97-2v2m80-2v2m-269 0v2m15-2v2m72-2v2m38-2v2m111-2v2m-370 0v2m133-2v2m25-2v2m2-2v2m58-2v2m22-2v2m20-2v2m66-2v2m44-2v2m36-2v2m21-2v2m-287 0v2m19-2v2m3-2v2m14-2v2m45-2v2m13-2v2m133-2v2m1-2v2m45-2v2m15-2v2m-61 0v2m1-2v2m28-2v2m9-2v2m22-2v2m-278 0v2m34-2v2m49-2v2m28-2v2m153-2v2m-255 0v2m4-2v2m95-2v2m146-2v2m1-2v2m-404 0v2m31-2v2m50-2v2m52-2v2m26-2v2m208-2v2m28-2v2m10-2v2m12-2v2m-369 0v2m112-2v2m196-2v2m15-2v2m36-2v2m-295 0v2m36-2v2m10-2v2m4-2v2m77-2v2m21-2v2m34-2v2m17-2v2m44-2v2m41-2v2m-392 0v2m129-2v2m127-2v2m144-2v2m1-2v2m22-2v2m-402 0v2m81-2v2m234-2v2m67-2v2m-308 0v2m50-2v2m9-2v2m3-2v2m150-2v2m10 0v2m36-2v2m13-2v2m3-2v2m32-2v2m2-2v2m-377 0v2m65-2v2m2-2v2m1-2v2m6-2v2m4-2v2m13-2v2m35-2v2m3-2v2m95-2v2m98-2v2m12-2v2m49-2v2m-243 0v2m15-2v2m93-2v2m64-2v2m47-2v2m16-2v2m2-2v2m-381 0v2m30-2v2m28-2v2m13-2v2m2-2v2m8-2v2m2-2v2m21-2v2m197-2v2m10-2v2m4-2v2m14-2v2m14-2v2m7-2v2m-364 0v2m18-2v2m41-2v2m33-2v2m58-2v2m172-2v2m14-2v2m11-2v2m21-2v2m11-2v2m3-2v2m-302 0v2m7-2v2m2-2v2m4-2v2m2-2v2m36-2v2m6-2v2m28-2v2m93-2v2m147-2v2m-310 0v2m51-2v2m153-2v2m47-2v2m68-2v2m-319 0v2m16-2v2m54-2v2m8-2v2m167-2v2m17-2v2m21-2v2m15-2v2m-306 0v2m111-2v2m62-2v2m52-2v2m-299 0v2m1-2v2m79-2v2m87-2v2m157-2v2m16-2v2m63-2v2m-324 0v2m158-2v2m125-2v2m7-2v2m-394 0v2m12-2v2m145-2v2m20-2v2m65-2v2m10-2v2m8-2v2m17-2v2m53-2v2m3-2v2m5-2v2m12-2v2m-243 0v2m78-2v2m10-2v2m45-2v2m3-2v2m88-2v2m11-2v2m15-2v2m32-2v2m-366 0v2m3-2v2m21-2v2m51-2v2m145-2v2m11-2v2m20-2v2m31-2v2m81-2v2m-386 0v2m58-2v2m76-2v2m22-2v2m154-2v2m48-2v2m-303 0v2m46-2v2m10-2v2m32-2v2m6-2v2m64-2v2m29-2v2m18-2v2m135-2v2m-375 0v2m24-2v2m52-2v2m8-2v2m10-2v2m32-2v2m5-2v2m115-2v2m38-2v2m39-2v2m70-2v2m9-2v2m-397 0v2m71-2v2m78-2v2m71-2v2m148-2v2m5-2v2m17-2v2m-393 0v2m65-2v2m285-2v2m41-2v2m-406 0v2m15-2v2m134-2v2m18-2v2m37-2v2m4-2v2m43-2v2m85-2v2m44-2v2m26-2v2m10-2v2m-394 0v2m104-2v2m32-2v2m20-2v2m157-2v2m2-2v2m58-2v2m15-2v2m-392 0v2m3-2v2m52-2v2m164-2v2m2-2v2m79-2v2m7-2v2m65-2v2m-354 0v2m108-2v2m15-2v2m74-2v2m6-2v2m69-2v2m-290 0v2m10-2v2m17-2v2m34-2v2m17-2v2m4-2v2m44-2v2m16-2v2m7-2v2m11-2v2m5-2v2m5-2v2m90-2v2m3-2v2m111-2v2m15-2v2m8-2v2m-422 0v2m25-2v2m1-2v2m13-2v2m59-2v2m21-2v2m55-2v2m20-2v2m70-2v2m64-2v2m1-2v2m97-2v2m-396 0v2m44-2v2m30-2v2m106-2v2m69-2v2m17-2v2m21-2v2m80-2v2m3-2v2m1-2v2m23-2v2m1-2v2m-403 0v2m58-2v2m10-2v2m11-2v2m5-2v2m111-2v2m29-2v2m58-2v2m2-2v2m39-2v2m55-2v2m1-2v2m-364 0v2m17-2v2m71-2v2m41-2v2m34-2v2m197-2v2m17-2v2m-389 0v2m41-2v2m25-2v2m74-2v2m96-2v2m53-2v2m8-2v2m18-2v2m59-2v2m14-2v2m-395 0v2m11-2v2m23-2v2m33-2v2m33-2v2m49-2v2m167-2v2m-309 0v2m76-2v2m62-2v2m2-2v2m12-2v2m36-2v2m75-2v2m7-2v2m71-2v2m-348 0v2m21-2v2m23-2v2m16-2v2m129-2v2m58-2v2m10-2v2m18-2v2m24-2v2m18-2v2m9-2v2m22-2v2m50-2v2m7-2v2m-416 0v2m46-2v2m12-2v2m36-2v2m1-2v2m10-2v2m15-2v2m29-2v2m83-2v2m66-2v2m36-2v2m61-2v2m23-2v2m-403 0v2m3-2v2m93-2v2m33-2v2m5-2v2m9-2v2m45-2v2m7-2v2m23-2v2m14-2v2m146-2v2m-301 0v2m2-2v2m1-2v2m72-2v2m110-2v2m116-2v2m25-2v2m-422 0v2m23-2v2m27-2v2m199-2v2m11-2v2m50-2v2m87-2v2m1-2v2m21-2v2m-401 0v2m103-2v2m40-2v2m87-2v2m20-2v2m128-2v2m24-2v2m-410 0v2m25-2v2m14-2v2m143-2v2m52-2v2m1-2v2m65-2v2m53-2v2m34-2v2m1-2v2m-396 0v2m49-2v2m24-2v2m8-2v2m25-2v2m3-2v2m14-2v2m23-2v2m12-2v2m1-2v2m149-2v2m9-2v2m78-2v2m4-2v2m20-2v2m-420 0v2m36-2v2m33-2v2m45-2v2m7-2v2m38-2v2m24-2v2m9-2v2m62-2v2m23-2v2m27-2v2m5-2v2m4-2v2m25-2v2m59-2v2m1-2v2m11-2v2m2-2v2m10-2v2m-390 0v2m11-2v2m38-2v2m8-2v2m75-2v2m21-2v2m62-2v2m40-2v2m16-2v2m18-2v2m73-2v2m20-2v2m-392 0v2m37-2v2m50-2v2m1-2v2m2-2v2m12-2v2m3-2v2m2-2v2m31-2v2m11-2v2m68-2v2m2-2v2m32-2v2m26-2v2m64-2v2m35-2v2m14-2v2m-389 0v2m10-2v2m66-2v2m23-2v2m88-2v2m33-2v2m34-2v2m16-2v2m1-2v2m6-2v2m17-2v2m77-2v2m2-2v2m16-2v2m-408 0v2m22-2v2m28-2v2m6-2v2m20-2v2m1-2v2m9-2v2m6-2v2m20-2v2m91-2v2m7-2v2m8-2v2m24-2v2m5-2v2m2-2v2m5-2v2m9-2v2m131-2v2m15-2v2m8-2v2m4-2v2m-299 0v2m85-2v2m4-2v2m13-2v2m50-2v2m42-2v2m102-2v2m-355 0v2m20-2v2m10-2v2m27-2v2m5-2v2m34-2v2m74-2v2m4-2v2m24-2v2m32-2v2m7-2v2m116-2v2m2-2v2m-397 0v2m16-2v2m10-2v2m2-2v2m14-2v2m31-2v2m19-2v2m118-2v2m16-2v2m29-2v2m29-2v2m9-2v2m18-2v2m75-2v2m3-2v2m-376 0v2m4-2v2m24-2v2m19-2v2m105-2v2m31-2v2m25-2v2m39-2v2m24-2v2m-255 0v2m14-2v2m8-2v2m12-2v2m3-2v2m34-2v2m36-2v2m4-2v2m39-2v2m63-2v2m5-2v2m2-2v2m3-2v2m17-2v2m17-2v2m3-2v2m-278 0v2m18-2v2m13-2v2m1-2v2m27-2v2m65-2v2m11-2v2m45-2v2m9-2v2m5-2v2m15-2v2m13-2v2m22-2v2m15-2v2m2-2v2m6-2v2m7-2v2m53-2v2m59-2v2m-389 0v2m3-2v2m12-2v2m4-2v2m27-2v2m2-2v2m35-2v2m6-2v2m7-2v2m7-2v2m16-2v2m67-2v2m8-2v2m22-2v2m40-2v2m41-2v2m66-2v2m-374 0v2m61-2v2m6-2v2m23-2v2m52-2v2m51-2v2m1-2v2m15-2v2m30-2v2m13-2v2m12-2v2m38-2v2m7-2v2m23-2v2m67-2v2m-398 0v2m83-2v2m45-2v2m33-2v2m5-2v2m30-2v2m24-2v2m8-2v2m30-2v2m13-2v2m50-2v2m-318 0v2m16-2v2m37-2v2m2-2v2m2-2v2m26-2v2m6-2v2m46-2v2m2-2v2m49-2v2m16-2v2m5-2v2m37-2v2m10-2v2m10-2v2m40-2v2m16-2v2m-348 0v2m27-2v2m9-2v2m43-2v2m23-2v2m28-2v2m15-2v2m5-2v2m12-2v2m46-2v2m2-2v2m16-2v2m8-2v2m56-2v2m7-2v2m10-2v2m23-2v2m12-2v2m2-2v2m-287 0v2m15-2v2m36-2v2m13-2v2m64-2v2m3-2v2m24-2v2m18-2v2m48-2v2m9-2v2m24-2v2m11-2v2m-273 0v2m14-2v2m62-2v2m27-2v2m39-2v2m4-2v2m30-2v2m5-2v2m6-2v2m13-2v2m3-2v2m19-2v2m12-2v2m4-2v2m2-2v2m12-2v2m-273 0v2m13-2v2m8-2v2m1-2v2m17-2v2m6-2v2m10-2v2m82-2v2m42-2v2m20-2v2m1-2v2m1-2v2m1-2v2m5-2v2m18-2v2m13-2v2m27-2v2m18-2v2m104-2v2m-381 0v2m53-2v2m9-2v2m3-2v2m24-2v2m27-2v2m70-2v2m3-2v2m4-2v2m2-2v2m2-2v2m71-2v2m9-2v2m33-2v2m-310 0v2m18-2v2m6-2v2m21-2v2m84-2v2m27-2v2m30-2v2m6-2v2m18-2v2m46-2v2m15-2v2m61-2v2m2-2v2m1-2v2m-369 0v2m49-2v2m88-2v2m7-2v2m10-2v2m33-2v2m23-2v2m7-2v2m18-2v2m19-2v2m53-2v2m-307 0v2m34-2v2m49-2v2m39-2v2m31-2v2m69-2v2m1-2v2m4-2v2m3-2v2m11-2v2m1-2v2m37-2v2m12-2v2m20-2v2m-284 0v2m1-2v2m13-2v2m4-2v2m122-2v2m24-2v2m18-2v2m13-2v2m8-2v2m64-2v2m10-2v2m1-2v2m6-2v2m-288 0v2m17-2v2m25-2v2m15-2v2m19-2v2m1-2v2m67-2v2m26-2v2m22-2v2m19-2v2m12-2v2m14-2v2m16-2v2m17-2v2m74-2v2m-367 0v2m24-2v2m2-2v2m47-2v2m44-2v2m20-2v2m97-2v2m78-2v2m45-2v2m10-2v2m1-2v2m-328 0v2m13-2v2m19-2v2m40-2v2m41-2v2m41-2v2m4-2v2m15-2v2m22-2v2m131-2v2m-341 0v2m9-2v2m30-2v2m46-2v2m4-2v2m12-2v2m10-2v2m50-2v2m64-2v2m24-2v2m95-2v2m-327 0v2m10-2v2m1-2v2m4-2v2m6-2v2m36-2v2m38-2v2m17-2v2m74-2v2m5-2v2m51-2v2m-232 0v2m12-2v2m13-2v2m34-2v2m13-2v2m7-2v2m64-2v2m38-2v2m121-2v2m5-2v2m-333 0v2m68-2v2m21-2v2m14-2v2m2-2v2m21-2v2m67-2v2m74-2v2m1-2v2m3-2v2m8-2v2m1-2v2m53-2v2m37-2v2m-372 0v2m25-2v2m30-2v2m14-2v2m16-2v2m22-2v2m12-2v2m75-2v2m11-2v2m3-2v2m55-2v2m81-2v2m-304 0v2m15-2v2m10-2v2m12-2v2m7-2v2m45-2v2m-153 0v2m44-2v2m18-2v2m16-2v2m39-2v2m21-2v2m15-2v2m71-2v2m4-2v2m9-2v2m71-2v2m3-2v2m-285 0v2m9-2v2m16-2v2m69-2v2m47-2v2m135-2v2m-190 0v2m3-2v2m15-2v2m14-2v2m81-2v2m11-2v2m48-2v2m69-2v2m-353 0v2m38-2v2m62-2v2m26-2v2m12-2v2m15-2v2m69-2v2m5-2v2m8-2v2m53-2v2m-208 0v2m6-2v2m15-2v2m52-2v2m66-2v2m6-2v2m11-2v2m55-2v2m-265 0v2m29-2v2m8-2v2m3-2v2m11-2v2m5-2v2m54-2v2m7-2v2m24-2v2m56-2v2m-223 0v2m68-2v2m1-2v2m40-2v2m13-2v2m7-2v2m93-2v2m79-2v2m2-2v2m2-2v2m-251 0v2m20-2v2m5-2v2m29-2v2m7-2v2m39-2v2m63-2v2m1-2v2m1-2v2m7-2v2m-226 0v2m61-2v2m6-2v2m45-2v2m4-2v2m7-2v2m65-2v2m47-2v2m61-2v2m15-2v2m-86 0v2m9-2v2m-211 0v2m18-2v2m30-2v2m4-2v2m123-2v2m39-2v2m52-2v2m17-2v2m64-2v2m-363 0v2m19-2v2m10-2v2m44-2v2m6-2v2m102-2v2m120-2v2m-282 0v2m24-2v2m24-2v2m4-2v2m23-2v2m9-2v2m250-2v2m-298 0v2m17-2v2m11-2v2m3-2v2m6-2v2m30-2v2m25-2v2m76-2v2m31-2v2m90-2v2m41-2v2m-335 0v2m21-2v2m6-2v2m135-2v2m18-2v2m67-2v2m75-2v2m4-2v2m3-2v2m5-2v2m1-2v2m-377 0v2m13-2v2m16-2v2m8-2v2m16-2v2m52-2v2m8-2v2m96-2v2m63-2v2m1-2v2m-254 0v2m40-2v2m42-2v2m9-2v2m139-2v2m23-2v2m7-2v2m6-2v2m2-2v2m1-2v2m57-2v2m31-2v2m-384 0v2m31-2v2m37-2v2m3-2v2m36-2v2m4-2v2m142-2v2m6-2v2m-155 0v2m149-2v2m2-2v2m38-2v2m61-2v2m1-2v2m-362 0v2m36-2v2m28-2v2m22-2v2m1-2v2m32-2v2m15-2v2m54-2v2m30-2v2m17-2v2m57-2v2m4-2v2m15-2v2m50-2v2m-344 0v2m9-2v2m14-2v2m10-2v2m21-2v2m3-2v2m15-2v2m26-2v2m1-2v2m5-2v2m74-2v2m46-2v2m67-2v2m53-2v2m-361 0v2m15-2v2m23-2v2m225-2v2m28-2v2m1-2v2m10-2v2m-222 0v2m3-2v2m1-2v2m31-2v2m8-2v2m101-2v2m12-2v2m52-2v2m5-2v2m5-2v2m4-2v2m-279 0v2m18-2v2m4-2v2m10-2v2m2-2v2m22-2v2m20-2v2m10-2v2m15-2v2m118-2v2m20-2v2m7-2v2m26-2v2m-267 0v2m6-2v2m12-2v2m8-2v2m41-2v2m10-2v2m26-2v2m136-2v2m32-2v2m3-2v2m6-2v2m55-2v2m-289 0v2m21-2v2m4-2v2m16-2v2m15-2v2m137-2v2m24-2v2m7-2v2m7-2v2m-192 0v2m13-2v2m-112 0v2m98-2v2m1-2v2m15-2v2m135-2v2m6-2v2m2-2v2m20-2v2m6-2v2m2-2v2m13-2v2m-266 0v2m35-2v2m189-2v2m41-2v2m-272 0v2m18 0v2m5-2v2m24-2v2m184-2v2m27-2v2m-263 0v2m6-2v2m2-2v2m20-2v2m13-2v2m195-2v2m20-2v2m1-2v2m9-2v2m-261 0v2m19-2v2m3-2v2m11-2v2m7-2v2m1-2v2m210-2v2m1-2v2m-202 0v2m-37 0v2m4-2v2m214-2v2m-229 0v2m11-2v2m4-2v2m5-2v2m135-2v2m59-2v2m33-2v2m19-2v2m5-2v2m-260 0v2m2-2v2m190-2v2m35-2v2m22-2v2m-248 0v2m203-2v2m-231 0v2m14-2v2m168-2v2m-191 0v2m4-2v2m285-2v2m-305 0v2m24-2v2m2-2v2m21-2v2m8-2v2m8-2v2m183-2v2m24-2v2m41-2v2m-276 0v2m4-2v2m8-2v2m162-2v2m99-2v2m3-2v2m-292 0v2m3-2v2m4-2v2m9-2v2m2-2v2m8-2v2m1-2v2m208-2v2m50-2v2m-304 0v2m28-2v2m9-2v2m245-2v2m-272 0v2m1-2v2m5-2v2m12-2v2m12-2v2m166-2v2m100-2v2m5-2v2m-301 0v2m268-2v2m39-2v2m-62 0v2m22-2v2m-275 0v2m209-2v2m67-2v2m59-2v2m-23 0v2m27-2v2m-341 2v2m323-2v2m2-2v2m-42 0v2m40-2v2m9-2v2m13-2v2m1 0v2m-10 0v2m-325 58v2m212-2v2m10-2v2m17-2v2m47-2v2m-18 0v2m-276 2v2m346 2v2m-317 6v2m317-2v2m0 2v2m-268 0v2m164-2v2m-214 0v2m370-2v2m-300 0v2m55-2v2m-23 0v2m18-2v2m5-2v2m89-2v2m158-2v2m-371 0v2m112-2v2m4-2v2m1-2v2m4-2v2m3-2v2m7-2v2m1-2v2m3-2v2m4-2v2m75-2v2m151-2v2m8-2v2m-374 0v2m118-2v2m7-2v2m9-2v2m3-2v2m1-2v2m3-2v2m240-2v2m2-2v2m-337 0v2m60-2v2m20-2v2m1-2v2m12-2v2m2-2v2m3-2v2m199-2v2m21-2v2m26-2v2m-276 0v2m5-2v2m6-2v2m19-2v2m182-2v2m16-2v2m13-2v2m37-2v2m-280 0v2m1-2v2m3-2v2m36-2v2m193-2v2m21-2v2m6-2v2m10-2v2m10-2v2m-277 0v2m205-2v2m7-2v2m2-2v2m11-2v2m11-2v2m8-2v2m6-2v2m5-2v2m12-2v2m1-2v2m11-2v2m-287 0v2m28-2v2m2-2v2m1-2v2m15-2v2m177-2v2m4-2v2m33-2v2m3-2v2m14-2v2m7-2v2m-280 0v2m8-2v2m7-2v2m6-2v2m216-2v2m15-2v2m4-2v2m-261 0v2m20-2v2m3-2v2m3-2v2m11-2v2m194-2v2m25-2v2m2-2v2m4-2v2m27-2v2m-259 0v2m5-2v2m227-2v2m2-2v2m3-2v2m11-2v2m1-2v2m6-2v2m3-2v2m1-2v2m-278 0v2m8-2v2m9-2v2m5-2v2m29-2v2m47-2v2m116-2v2m6-2v2m5-2v2m19-2v2m29-2v2m4-2v2m1-2v2m-348 0v2m76-2v2m13-2v2m188-2v2m43-2v2m6-2v2m18-2v2m2-2v2m2-2v2"/><path stroke="#00a020" d="M367 0v2m-196 0v2m199-2v2m-199 0v2m-146 0v2m159-2v2m184-2v2m-199 0v2m242-2v2m-43 0v2m-221 0v2m11-2v2m13-2v2m235-2v2m1-2v2m10-2v2m-267 0v2m89-2v2m71-2v2m-177 0v2m17-2v2m34-2v2m221-2v2m-306 0v2m60-2v2m1-2v2m253-2v2m-17 0v2m17-2v2m-8 0v2m-165 0v2m1-2v2m69-2v2m86-2v2m9-2v2m-379 0v2m5-2v2m280-2v2m-285 0v2m108-2v2m177-2v2m47-2v2m11-2v2m35-2v2m-297 0v2m77-2v2m55-2v2m-205 0v2m113-2v2m12-2v2m3-2v2m77-2v2m119-2v2m38-2v2m21-2v2m-312 0v2m70-2v2m136-2v2m-207 0v2m1-2v2m45-2v2m12-2v2m8-2v2m140-2v2m-153 0v2m249-2v2m7-2v2m-254 0v2m3-2v2m78-2v2m118-2v2m-358 0v2m97-2v2m51-2v2m-122 0v2m344-2v2m35-2v2m-1 0v2m-300 0v2m54-2v2m200-2v2m-328 0v2m375-2v2m-405 0v2m1-2v2m29-2v2m76-2v2m252-2v2m-332 0v2m4-2v2m67-2v2m269-2v2m-210 0v2m2-2v2m2-2v2m-134 0v2m72-2v2m8-2v2m54-2v2m2-2v2m-46 0v2m45 0v2m-58 0v2m254-2v2m-199 0v2m199-2v2m50-2v2m-3 0v2m2-2v2m22-2v2m-253 0v2m229-2v2m24-2v2m-282 0v2m-137 0v2m165-2v2m226-2v2m-257 0v2m82-2v2m198-2v2m-414 0v2m348-2v2m-202 0v2m19-2v2m196-2v2m46-2v2m8-2v2m1-2v2m-274 0v2m9-2v2m151-2v2m-137 0v2m223 0v2m19-2v2m-267 0v2m86-2v2m180-2v2m7-2v2m-413 0v2m136-2v2m252-2v2m17-2v2m10-2v2m-398 0v2m148-2v2m1-2v2m222-2v2m-389 0v2m95-2v2m51-2v2m9-2v2m56-2v2m14-2v2m169-2v2m14-2v2m-400 0v2m148-2v2m259-2v2m-422 0v2m15-2v2m100-2v2m1-2v2m110-2v2m7-2v2m190-2v2m-399 0v2m203-2v2m172-2v2m15-2v2m-178 0v2m-222 0v2m84-2v2m1-2v2m124-2v2m2-2v2m-126 0v2m55-2v2m64-2v2m6-2v2m2-2v2m85-2v2m41-2v2m47-2v2m-234 0v2m146-2v2m-285 0v2m112-2v2m13-2v2m77-2v2m3-2v2m2-2v2m1-2v2m1-2v2m166-2v2m13-2v2m-197 0v2m1-2v2m10-2v2m130-2v2m65-2v2m-272 0v2m70-2v2m4-2v2m1-2v2m158-2v2m16-2v2m-257 0v2m1-2v2m10-2v2m8-2v2m61-2v2m-86 0v2m28-2v2m56-2v2m101-2v2m-223 0v2m39-2v2m88-2v2m8-2v2m-118 0v2m117-2v2m-95 0v2m82-2v2m1-2v2m3-2v2m6-2v2m171-2v2m-250 0v2m69-2v2m13-2v2m163-2v2m-176 0v2m1-2v2m5-2v2m5-2v2m-116 0v2m38-2v2m78-2v2m80-2v2m41-2v2m44-2v2m-297 0v2m8-2v2m36-2v2m80-2v2m132-2v2m68-2v2m1-2v2m-417 0v2m177-2v2m40-2v2m164-2v2m-158 0v2m3-2v2m122-2v2m37-2v2m-238 0v2m119-2v2m80-2v2m62-2v2m-356 0v2m57-2v2m37-2v2m79-2v2m123-2v2m22-2v2m-351 0v2m81-2v2m116-2v2m2-2v2m86-2v2m86-2v2m-170 0v2m163-2v2m-155 0v2m125-2v2m20-2v2m-320 0v2m56-2v2m107-2v2m-223 0v2m226-2v2m1-2v2m136-2v2m-211 0v2m72-2v2m6-2v2m3-2v2m145-2v2m4-2v2m3-2v2m12-2v2m-397 0v2m95-2v2m39-2v2m19-2v2m211-2v2m9-2v2m8-2v2m11-2v2m-276 0v2m113-2v2m157-2v2m5-2v2m-376 0v2m206-2v2m2-2v2m6-2v2m4-2v2m152-2v2m-377 0v2m146-2v2m70-2v2m2-2v2m135-2v2m2-2v2m15-2v2m-318 0v2m290-2v2m3-2v2m7-2v2m29-2v2m-389 0v2m137-2v2m1-2v2m213-2v2m13-2v2m11-2v2m1-2v2m15-2v2m-331 0v2m159-2v2m131-2v2m22-2v2m-234 0v2m84-2v2m7-2v2m141-2v2m5-2v2m11-2v2m2-2v2m-381 0v2m100-2v2m14-2v2m229-2v2m28-2v2m-156 0v2m5-2v2m144-2v2m12-2v2m-368 0v2m40-2v2m304-2v2m27-2v2m-327 0v2m56-2v2m237-2v2m18-2v2m2-2v2m-359 0v2m5-2v2m353-2v2m17-2v2m-387 0v2m7-2v2m210-2v2m5-2v2m136-2v2m12-2v2m9-2v2m2-2v2m3-2v2m6-2v2m-388 0v2m45-2v2m105-2v2m198-2v2m13-2v2m18-2v2m-367 0v2m92-2v2m244-2v2m32-2v2m2-2v2m6-2v2m-28 0v2m12-2v2m12-2v2m-368 0v2m102-2v2m112-2v2m119-2v2m6-2v2m1-2v2m12-2v2m7-2v2m2-2v2m1-2v2m5-2v2m-219 0v2m193-2v2m4-2v2m8-2v2m5-2v2m-318 0v2m48-2v2m256-2v2m1-2v2m7-2v2m8-2v2m-365 0v2m7-2v2m26-2v2m303-2v2m22-2v2m7-2v2m8-2v2m-380 0v2m44-2v2m64-2v2m238-2v2m-201 0v2m199-2v2m2-2v2m5-2v2m2-2v2m12-2v2m2-2v2m9-2v2m3-2v2m-384 0v2m14-2v2m2-2v2m335-2v2m9-2v2m-347 0v2m33-2v2m103-2v2m68-2v2m135-2v2m7-2v2m26-2v2m-384 0v2m2-2v2m42-2v2m317-2v2m23-2v2m-381 0v2m20-2v2m69-2v2m12-2v2m30-2v2m183-2v2m12-2v2m6-2v2m26-2v2m10-2v2m11-2v2m-378 0v2m130-2v2m176-2v2m42-2v2m18-2v2m2-2v2m1-2v2m4-2v2m2-2v2m-378 0v2m15-2v2m29-2v2m104-2v2m227-2v2m-376 0v2m1-2v2m2-2v2m2-2v2m6-2v2m7-2v2m1-2v2m220-2v2m1-2v2m30-2v2m10-2v2m60-2v2m1-2v2m4-2v2m25-2v2m1-2v2m6-2v2m4-2v2m3-2v2m4-2v2m-389 0v2m10-2v2m3-2v2m2-2v2m4-2v2m329-2v2m8-2v2m6-2v2m12-2v2m-374 0v2m2-2v2m1-2v2m11-2v2m44-2v2m202-2v2m88-2v2m25-2v2m-364 0v2m49-2v2m222-2v2m83-2v2m24-2v2m-387 0v2m19-2v2m351-2v2m3-2v2m15-2v2m-387 0v2m18-2v2m259-2v2m58-2v2m37-2v2m14-2v2m-385 0v2m16-2v2m1-2v2m39-2v2m74-2v2m224-2v2m27-2v2m-384 0v2m2-2v2m317-2v2m13-2v2m20-2v2m20-2v2m3-2v2m-369 0v2m1-2v2m1-2v2m5-2v2m33-2v2m219-2v2m2-2v2m59-2v2m6-2v2m25-2v2m15-2v2m12-2v2m-26 0v2m3-2v2m10-2v2m-353 0v2m41-2v2m186-2v2m75-2v2m3-2v2m10-2v2m16-2v2m39-2v2m-387 0v2m7-2v2m1-2v2m12-2v2m190-2v2m42-2v2m60-2v2m16-2v2m3-2v2m41-2v2m-240 0v2m138-2v2m48-2v2m13-2v2m25-2v2m2-2v2m-359 0v2m17-2v2m3-2v2m74-2v2m72-2v2m40-2v2m18-2v2m45-2v2m4-2v2m57-2v2m4-2v2m10-2v2m3-2v2m35-2v2m-288 0v2m120-2v2m30-2v2m82-2v2m4-2v2m12-2v2m42-2v2m3-2v2m2-2v2m2-2v2m-391 0v2m3-2v2m203-2v2m2-2v2m114-2v2m8-2v2m9-2v2m4-2v2m-333 0v2m272-2v2m41-2v2m8-2v2m12-2v2m3-2v2m22-2v2m-274 0v2m149-2v2m31-2v2m63-2v2m2-2v2m2-2v2m22-2v2m12-2v2m-366 0v2m203-2v2m1-2v2m31-2v2m20-2v2m56-2v2m-318 0v2m206-2v2m43-2v2m8-2v2m7-2v2m14-2v2m37-2v2m4-2v2m15-2v2m6-2v2m-334 0v2m241-2v2m10-2v2m54-2v2m11-2v2m24-2v2m39-2v2m-146 0v2m3-2v2m6-2v2m15-2v2m10-2v2m55-2v2m11-2v2m3-2v2m37-2v2m-134 0v2m6-2v2m6-2v2m5-2v2m5-2v2m1-2v2m11-2v2m33-2v2m8-2v2m1-2v2m8-2v2m10-2v2m4-2v2m17-2v2m-360 0v2m203-2v2m7-2v2m1-2v2m62-2v2m44-2v2m8-2v2m8-2v2m2-2v2m5-2v2m1-2v2m5-2v2m-327 0v2m37-2v2m36-2v2m41-2v2m73-2v2m7-2v2m30-2v2m10-2v2m6-2v2m12-2v2m3-2v2m27-2v2m14-2v2m1-2v2m4-2v2m7-2v2m6-2v2m3-2v2m2-2v2m1-2v2m37-2v2m-373 0v2m200-2v2m47-2v2m12-2v2m33-2v2m16-2v2m11-2v2m12-2v2m23-2v2m-355 0v2m237-2v2m1-2v2m20-2v2m4-2v2m2-2v2m13-2v2m54-2v2m12-2v2m31-2v2m-361 0v2m77-2v2m114-2v2m63-2v2m1-2v2m3-2v2m4-2v2m3-2v2m37-2v2m9-2v2m2-2v2m13-2v2m1-2v2m-102 0v2m1-2v2m34-2v2m3-2v2m1-2v2m31-2v2m5-2v2m27-2v2m15-2v2m26-2v2m2-2v2m-173 0v2m27-2v2m5-2v2m18-2v2m3-2v2m6-2v2m43-2v2m4-2v2m5-2v2m19-2v2m4-2v2m-138 0v2m38-2v2m13-2v2m63-2v2m1-2v2m23-2v2m1-2v2m38-2v2m-382 0v2m2-2v2m207-2v2m35-2v2m5-2v2m16-2v2m5-2v2m37-2v2m1-2v2m9-2v2m2-2v2m11-2v2m47-2v2m-177 0v2m5-2v2m40-2v2m4-2v2m5-2v2m8-2v2m49-2v2m2-2v2m3-2v2m1-2v2m6-2v2m6-2v2m14-2v2m12-2v2m-359 0v2m1-2v2m44-2v2m164-2v2m43-2v2m2-2v2m4-2v2m17-2v2m47-2v2m17-2v2m2-2v2m3-2v2m4-2v2m-302 0v2m165-2v2m28-2v2m30-2v2m6-2v2m4-2v2m2-2v2m42-2v2m22-2v2m-160 0v2m55-2v2m6-2v2m44-2v2m44-2v2m2-2v2m2-2v2m-324 0v2m304-2v2m5-2v2m12-2v2m41-2v2m10-2v2m-371 0v2m3-2v2m39-2v2m50-2v2m102-2v2m31-2v2m7-2v2m6-2v2m19-2v2m18-2v2m-191 0v2m114-2v2m30-2v2m1-2v2m10-2v2m14-2v2m58-2v2m13-2v2m3-2v2m1-2v2m-298 0v2m160-2v2m5-2v2m3-2v2m30-2v2m5-2v2m3-2v2m9-2v2m5-2v2m4-2v2m10-2v2m2-2v2m41-2v2m9-2v2m9-2v2m5-2v2m-338 0v2m197-2v2m3-2v2m3-2v2m61-2v2m9-2v2m56-2v2m52-2v2m-331 0v2m61-2v2m4-2v2m87-2v2m4-2v2m64-2v2m3-2v2m10-2v2m43-2v2m-335 0v2m212-2v2m4-2v2m26-2v2m3-2v2m1-2v2m51-2v2m20-2v2m3-2v2m16-2v2m13-2v2m-327 0v2m25-2v2m12-2v2m55-2v2m12-2v2m80-2v2m48-2v2m15-2v2m5-2v2m2-2v2m15-2v2m28-2v2m1-2v2m25-2v2m-237 0v2m20-2v2m80-2v2m39-2v2m29-2v2m48-2v2m9-2v2m-331 0v2m79-2v2m37-2v2m92-2v2m2-2v2m36-2v2m3-2v2m23-2v2m70-2v2m-332 0v2m55-2v2m18-2v2m121-2v2m1-2v2m8-2v2m1-2v2m40-2v2m66-2v2m1-2v2m16-2v2m3-2v2m-149 0v2m51-2v2m3-2v2m25-2v2m3-2v2m8-2v2m45-2v2m2-2v2m-121 0v2m45-2v2m67-2v2m3-2v2m6-2v2m13-2v2m-337 0v2m54-2v2m20-2v2m11-2v2m100-2v2m18-2v2m4-2v2m34-2v2m86-2v2m5-2v2m2-2v2m1-2v2m-287 0v2m10-2v2m127-2v2m17-2v2m74-2v2m37-2v2m8-2v2m1-2v2m19-2v2m-331 0v2m4-2v2m39-2v2m10-2v2m1-2v2m20-2v2m116-2v2m77-2v2m32-2v2m2-2v2m2-2v2m5-2v2m4-2v2m7-2v2m10-2v2m-279 0v2m129-2v2m1-2v2m10-2v2m42-2v2m78-2v2m2-2v2m-327 0v2m65-2v2m6-2v2m140-2v2m3-2v2m101-2v2m11-2v2m-274 0v2m21-2v2m133-2v2m1-2v2m40-2v2m5-2v2m1-2v2m28-2v2m1-2v2m47-2v2m-307 0v2m173-2v2m12-2v2m1-2v2m34-2v2m10-2v2m35-2v2m33-2v2m12-2v2m-123 0v2m2-2v2m127-2v2m2-2v2m1-2v2m1-2v2m5-2v2m-135 0v2m34-2v2m2-2v2m68-2v2m-280 0v2m6-2v2m205-2v2m67-2v2m6-2v2m4-2v2m8-2v2m7-2v2m2-2v2m-342 0v2m4-2v2m33-2v2m281-2v2m9-2v2m14-2v2m1-2v2m2-2v2m-322 0v2m14-2v2m176-2v2m107-2v2m3-2v2m8-2v2m1-2v2m10-2v2m-132 0v2m45-2v2m73-2v2m2-2v2m-14 0v2m11-2v2m18-2v2m4-2v2m-33 0v2m7-2v2m8-2v2m17-2v2m-344 0v2m249-2v2m62-2v2m21-2v2m10-2v2m3-2v2m-97 0v2m64-2v2m1-2v2m12-2v2m8-2v2m4-2v2m-338 0v2m3-2v2m271-2v2m32-2v2m12-2v2m1-2v2m21-2v2m-28 0v2m2-2v2m2-2v2m-40 0v2m52-2v2m-327 0v2m322-2v2m1-2v2m8-2v2m5-2v2m3-2v2m-1 0v2m-23 0v2m18-2v2m-330 0v2m317-2v2m4-2v2m6 0v2m-54 0v2m54-2v2m-85 64v2m61-2v2m38-2v2m-116 0v2m17-2v2m14-2v2m7-2v2m56-2v2m1-2v2m-108 0v2m3-2v2m2-2v2m59-2v2m17-2v2m9-2v2m33-2v2m-116 0v2m41-2v2m26-2v2m13-2v2m1-2v2m17-2v2m14-2v2m10-2v2m-325 0v2m200-2v2m3-2v2m6-2v2m10-2v2m27-2v2m10-2v2m23-2v2m14-2v2m1-2v2m2-2v2m17-2v2m1-2v2m12-2v2m-345 0v2m8-2v2m1-2v2m265-2v2m3-2v2m16-2v2m20-2v2m5-2v2m2-2v2m2-2v2m1-2v2m-325 0v2m2-2v2m24-2v2m206-2v2m2-2v2m6-2v2m33-2v2m15-2v2m7-2v2m7-2v2m9-2v2m19-2v2m6-2v2m-323 0v2m3-2v2m22-2v2m1-2v2m169-2v2m2-2v2m55-2v2m15-2v2m8-2v2m1-2v2m14-2v2m20-2v2m10-2v2m12-2v2m-306 0v2m156-2v2m26-2v2m1-2v2m21-2v2m6-2v2m15-2v2m1-2v2m4-2v2m10-2v2m18-2v2m18-2v2m5-2v2m5-2v2m22-2v2m-336 0v2m2-2v2m3-2v2m17-2v2m13-2v2m1-2v2m162-2v2m9-2v2m3-2v2m3-2v2m2-2v2m22-2v2m19-2v2m34-2v2m7-2v2m-292 0v2m34-2v2m155-2v2m27-2v2m6-2v2m8-2v2m6-2v2m5-2v2m16-2v2m3-2v2m10-2v2m11-2v2m12-2v2m10-2v2m17-2v2m1-2v2m9-2v2m-343 0v2m6-2v2m5-2v2m1-2v2m40-2v2m9-2v2m153-2v2m19-2v2m19-2v2m18-2v2m8-2v2m26-2v2m13-2v2m6-2v2m3-2v2m17-2v2m-331 0v2m6-2v2m5-2v2m7-2v2m4-2v2m15-2v2m6-2v2m14-2v2m179-2v2m5-2v2m49-2v2m7-2v2m17-2v2m13-2v2m-343 0v2m6-2v2m1-2v2m16-2v2m28-2v2m13-2v2m124-2v2m7-2v2m3-2v2m19-2v2m26-2v2m13-2v2m34-2v2m8-2v2m3-2v2m5-2v2m8-2v2m10-2v2m18-2v2m-335 0v2m6-2v2m15-2v2m8-2v2m16-2v2m13-2v2m4-2v2m1-2v2m19-2v2m101-2v2m27-2v2m35-2v2m28-2v2m1-2v2m22-2v2m15-2v2m8-2v2m3-2v2m8-2v2m1-2v2m9-2v2m-327 0v2m1-2v2m32-2v2m34-2v2m6-2v2m12-2v2m1-2v2m38-2v2m43-2v2m1-2v2m30-2v2m3-2v2m18-2v2m1-2v2m7-2v2m2-2v2m1-2v2m3-2v2m12-2v2m8-2v2m35-2v2m3-2v2m15-2v2m-322 0v2m31-2v2m17-2v2m9-2v2m7-2v2m2-2v2m2-2v2m8-2v2m128-2v2m31-2v2m58-2v2m8-2v2m28-2v2m2-2v2m4-2v2m1-2v2m-269 0v2m82-2v2m61-2v2m1-2v2m35-2v2m17-2v2m33-2v2m8-2v2m12-2v2m2-2v2m-302 0v2m23-2v2m19-2v2m132-2v2m46-2v2m33-2v2m18-2v2m21-2v2m-279 0v2m16-2v2m54-2v2m7-2v2m8-2v2m5-2v2m1-2v2m67-2v2m29-2v2m15-2v2m12-2v2m27-2v2m40-2v2m2-2v2m1-2v2m1-2v2m11-2v2m-310 0v2m35-2v2m22-2v2m30-2v2m9-2v2m72-2v2m46-2v2m30-2v2m19-2v2m9-2v2m7-2v2m11-2v2m27-2v2m12-2v2m-328 0v2m32-2v2m14-2v2m60-2v2m60-2v2m12-2v2m69-2v2m33-2v2m37-2v2m-296 0v2m20-2v2m47-2v2m36-2v2m31-2v2m33-2v2m1-2v2m16-2v2m29-2v2m15-2v2m-252 0v2m29-2v2m69-2v2m45-2v2m68-2v2m2-2v2m5-2v2m15-2v2m2-2v2m15-2v2m4-2v2m21-2v2m8-2v2m10-2v2m5-2v2m14-2v2m17-2v2m-321 0v2m15-2v2m17-2v2m7-2v2m51-2v2m6-2v2m34-2v2m60-2v2m18-2v2m19-2v2m42-2v2m-266 0v2m35-2v2m6-2v2m50-2v2m6-2v2m87-2v2m10-2v2m27-2v2m31-2v2m22-2v2m21-2v2m11-2v2m-293 0v2m6-2v2m26-2v2m118-2v2m5-2v2m16-2v2m25-2v2m57-2v2m6-2v2m37-2v2m7-2v2m83-2v2m-420 0v2m7-2v2m16-2v2m153-2v2m4-2v2m10-2v2"/><path stroke="#00a000" d="M409 0v2m-239 0v2m197-2v2m43-2v2m-241 0v2m2 0v2m196 0v2m-195 2v2m-172 0v2m417-2v2m-269 0v2m21-2v2m248-2v2m-267 2v2m160-2v2m-279 0v2m118-2v2m92-2v2m163-2v2m13-2v2m-417 0v2m34-2v2m99-2v2m39-2v2m3-2v2m1-2v2m-142 0v2m-8 2v2m136-2v2m79-2v2m155-2v2m17-2v2m-279 0v2m9-2v2m97 0v2m164-2v2m-404 0v2m25-2v2m1-2v2m5 0v2m75-2v2m55-2v2m98-2v2m-126 0v2m-102 0v2m73-2v2m137-2v2m-241 0v2m149-2v2m8-2v2m18-2v2m-76 0v2m-69 0v2m4-2v2m65-2v2m61-2v2m-61 0v2m5-2v2m2-2v2m28 0v2m16-2v2m207-2v2m56-2v2m-382 0v2m73-2v2m135-2v2m71-2v2m1-2v2m-128 0v2m57-2v2m71-2v2m58-2v2m-339 0v2m211-2v2m-84 0v2m260 0v2m-318 0v2m6-2v2m46 0v2m8-2v2m26 0v2m-185 0v2m134-2v2m-109 0v2m107-2v2m24-2v2m154-2v2m47-2v2m-225 0v2m45-2v2m190-2v2m38-2v2m-94 0v2m-214 0v2m59-2v2m-10 0v2m10-2v2m21 0v2m-176 0v2m184-2v2m172-2v2m60-2v2m-240 0v2m133-2v2m59-2v2m-3 2v2m32-2v2m3-2v2m1-2v2m-238 0v2m-139 0v2m121-2v2m277-2v2m-317 0v2m318-2v2m-273 0v2m10-2v2m237-2v2m-281 0v2m44-2v2m5-2v2m146-2v2m-311 0v2m25 0v2m4-2v2m135-2v2m145-2v2m115-2v2m-424 0v2m106-2v2m10-2v2m47-2v2m235-2v2m-282 0v2m310-2v2m-190 0v2m160-2v2m1-2v2m-239 0v2m4-2v2m3-2v2m236-2v2m-387 0v2m140-2v2m9-2v2m-148 0v2m84-2v2m43-2v2m167-2v2m-295 0v2m102-2v2m28-2v2m167-2v2m85-2v2m1-2v2m-389 0v2m98-2v2m152-2v2m140-2v2m26-2v2m-202 0v2m8-2v2m185-2v2m-401 0v2m85-2v2m38-2v2m26-2v2m70-2v2m124-2v2m58-2v2m-194 0v2m14-2v2m163-2v2m2-2v2m-228 0v2m50-2v2m176-2v2m25-2v2m-423 0v2m218-2v2m-66 0v2m263-2v2m-316 0v2m73-2v2m47-2v2m4-2v2m190-2v2m-387 0v2m90-2v2m18-2v2m29-2v2m233-2v2m3-2v2m-247 0v2m69-2v2m3-2v2m-80 0v2m18-2v2m60-2v2m3-2v2m-53 0v2m48-2v2m7-2v2m1-2v2m6-2v2m164-2v2m-244 0v2m64-2v2m12-2v2m-123 0v2m56-2v2m13-2v2m47-2v2m-108 0v2m19-2v2m83-2v2m7-2v2m3-2v2m-93 0v2m3-2v2m16-2v2m77-2v2m81-2v2m-297 0v2m1-2v2m100-2v2m23-2v2m15-2v2m67-2v2m12-2v2m-81 0v2m74-2v2m-74 0v2m74-2v2m2-2v2m8-2v2m-188 0v2m52-2v2m52-2v2m1-2v2m20-2v2m180-2v2m-245 0v2m27-2v2m4-2v2m5-2v2m74-2v2m179-2v2m-280 0v2m254-2v2m-310 0v2m163-2v2m6-2v2m123-2v2m62-2v2m-400 0v2m158-2v2m-113 0v2m57-2v2m116-2v2m-218 0v2m34-2v2m12-2v2m164-2v2m8-2v2m-184 0v2m171-2v2m9-2v2m127-2v2m-218 0v2m15-2v2m75-2v2m127-2v2m60-2v2m-354 0v2m71-2v2m6-2v2m83-2v2m2-2v2m5-2v2m-212 0v2m220-2v2m118-2v2m1-2v2m-307 2v2m85-2v2m22-2v2m78-2v2m120-2v2m-293 0v2m171-2v2m1-2v2m127-2v2m42-2v2m-385 0v2m32-2v2m68-2v2m1-2v2m238-2v2m6-2v2m-346 0v2m207-2v2m6-2v2m149-2v2m-350 0v2m126-2v2m72-2v2m4-2v2m5-2v2m118-2v2m38-2v2m-381 0v2m129-2v2m16 0v2m19-2v2m190-2v2m15-2v2m1-2v2m45-2v2m-409 0v2m46-2v2m112-2v2m60-2v2m127-2v2m4-2v2m17-2v2m8-2v2m-362 0v2m34-2v2m55-2v2m29-2v2m219-2v2m13-2v2m13-2v2m-245 0v2m10-2v2m12-2v2m189-2v2m6-2v2m22-2v2m1-2v2m5-2v2m-382 0v2m222-2v2m5-2v2m2-2v2m119-2v2m5-2v2m19-2v2m1-2v2m11-2v2m-376 0v2m33-2v2m344-2v2m-160 0v2m123-2v2m10-2v2m6-2v2m10-2v2m5-2v2m-152 0v2m137-2v2m15-2v2m3-2v2m-282 0v2m37-2v2m207-2v2m26-2v2m-211 0v2m186-2v2m1-2v2m32-2v2m-270 0v2m29-2v2m231-2v2m2-2v2m15-2v2m-38 0v2m8-2v2m2-2v2m14-2v2m11-2v2m-376 0v2m1-2v2m120-2v2m220-2v2m4-2v2m3-2v2m13-2v2m5-2v2m-369 0v2m215-2v2m136-2v2m-355 0v2m89-2v2m21-2v2m38-2v2m67-2v2m134-2v2m3-2v2m4-2v2m22-2v2m4-2v2m-376 0v2m4-2v2m335-2v2m31-2v2m-380 0v2m13-2v2m32-2v2m13-2v2m304-2v2m19-2v2m5-2v2m-386 0v2m9-2v2m8-2v2m2-2v2m201-2v2m13-2v2m124-2v2m29-2v2m-385 0v2m15-2v2m332-2v2m20-2v2m21-2v2m1-2v2m-391 0v2m1-2v2m20-2v2m213-2v2m143-2v2m5-2v2m9-2v2m-27 0v2m16-2v2m-365 0v2m2-2v2m77-2v2m283-2v2m7-2v2m-375 0v2m3-2v2m3-2v2m6-2v2m338-2v2m12-2v2m-369 0v2m10-2v2m121-2v2m230-2v2m-362 0v2m132-2v2m247-2v2m8-2v2m-385 0v2m371-2v2m-375 0v2m371-2v2m21-2v2m-391 0v2m5-2v2m42-2v2m189-2v2m123-2v2m17-2v2m1-2v2m-360 0v2m4-2v2m25-2v2m335-2v2m-275 0v2m228-2v2m44-2v2m3-2v2m3-2v2m1-2v2m-384 0v2m46-2v2m267-2v2m7-2v2m2-2v2m25-2v2m-337 0v2m215-2v2m91-2v2m3-2v2m12-2v2m18-2v2m40-2v2m-390 0v2m16-2v2m99-2v2m198-2v2m16-2v2m9-2v2m22-2v2m19-2v2m7-2v2m-63 0v2m4-2v2m3-2v2m18-2v2m1-2v2m13-2v2m14-2v2m3-2v2m5-2v2m3-2v2m-386 0v2m9-2v2m49-2v2m84-2v2m169-2v2m18-2v2m44-2v2m-366 0v2m306-2v2m18-2v2m1-2v2m4-2v2m7-2v2m2-2v2m40-2v2m-378 0v2m7-2v2m210-2v2m100-2v2m13-2v2m2-2v2m33-2v2m12-2v2m4-2v2m-384 0v2m3-2v2m8-2v2m117-2v2m140-2v2m47-2v2m2-2v2m2-2v2m24-2v2m-342 0v2m244-2v2m44-2v2m28-2v2m4-2v2m2-2v2m-312 0v2m3-2v2m40-2v2m186-2v2m7-2v2m62-2v2m2-2v2m5-2v2m5-2v2m2-2v2m3-2v2m10-2v2m-321 0v2m230-2v2m69-2v2m6-2v2m7-2v2m31-2v2m16-2v2m-358 0v2m37-2v2m204-2v2m6-2v2m44-2v2m27-2v2m5-2v2m1-2v2m-287 0v2m153-2v2m57-2v2m76-2v2m15-2v2m-355 0v2m204-2v2m59-2v2m7-2v2m42-2v2m16-2v2m6-2v2m7-2v2m3-2v2m-349 0v2m206-2v2m3-2v2m3-2v2m1-2v2m31-2v2m8-2v2m9-2v2m7-2v2m6-2v2m5-2v2m40-2v2m5-2v2m5-2v2m-281 0v2m140-2v2m56-2v2m26-2v2m4-2v2m40-2v2m9-2v2m5-2v2m17-2v2m4-2v2m34-2v2m3-2v2m-373 0v2m196-2v2m3-2v2m31-2v2m2-2v2m2-2v2m26-2v2m4-2v2m38-2v2m10-2v2m8-2v2m11-2v2m37-2v2m-168 0v2m59-2v2m21-2v2m1-2v2m32-2v2m13-2v2m9-2v2m-288 0v2m151-2v2m32-2v2m12-2v2m23-2v2m35-2v2m14-2v2m60-2v2m-368 0v2m188-2v2m36-2v2m4-2v2m1-2v2m101-2v2m-242 0v2m8-2v2m99-2v2m30-2v2m5-2v2m21-2v2m1-2v2m2-2v2m58-2v2m18-2v2m-255 0v2m34-2v2m78-2v2m38-2v2m11-2v2m20-2v2m4-2v2m3-2v2m31-2v2m5-2v2m8-2v2m15-2v2m23-2v2m-355 0v2m120-2v2m80-2v2m37-2v2m1-2v2m1-2v2m19-2v2m4-2v2m28-2v2m28-2v2m2-2v2m6-2v2m29-2v2m-119 0v2m1-2v2m2-2v2m23-2v2m3-2v2m3-2v2m4-2v2m41-2v2m12-2v2m5-2v2m1-2v2m8-2v2m-336 0v2m35-2v2m61-2v2m6-2v2m99-2v2m31-2v2m34-2v2m37-2v2m16-2v2m18-2v2m-338 0v2m83-2v2m15-2v2m137-2v2m28-2v2m39-2v2m8-2v2m6-2v2m-323 0v2m202-2v2m46-2v2m27-2v2m39-2v2m30-2v2m-336 0v2m8-2v2m96-2v2m160-2v2m24-2v2m16-2v2m3-2v2m7-2v2m-321 0v2m105-2v2m98-2v2m124-2v2m-320 0v2m10-2v2m38-2v2m7-2v2m33-2v2m176-2v2m40-2v2m18-2v2m8-2v2m-341 0v2m59-2v2m5-2v2m7-2v2m121-2v2m144-2v2m-285 0v2m32-2v2m5-2v2m1-2v2m108-2v2m117-2v2m29-2v2m-292 0v2m16-2v2m243-2v2m20-2v2m-331 0v2m1-2v2m5-2v2m12-2v2m29-2v2m1-2v2m265-2v2m6-2v2m7-2v2m3-2v2m-316 0v2m43-2v2m13-2v2m246-2v2m33-2v2m-336 0v2m8-2v2m235-2v2m47-2v2m13-2v2m10-2v2m-322 0v2m2 0v2m21-2v2m290-2v2m13-2v2m1-2v2m17-2v2m-327 0v2m223-2v2m72-2v2m4-2v2m12-2v2m15-2v2m3-2v2m-329 0v2m191-2v2m35-2v2m72-2v2m3-2v2m2-2v2m5-2v2m7-2v2m10-2v2m-333 0v2m3-2v2m13-2v2m219-2v2m25-2v2m44-2v2m12-2v2m18-2v2m-137 0v2m4-2v2m35-2v2m72-2v2m-310 0v2m37-2v2m225-2v2m-259 0v2m-6 0v2m342 0v2m-37 0v2m25 0v2m-334 2v2m313-2v2m5-2v2m25 0v2m-4 2v2m3-2v2m-18 0v2m-46 0v2m-265 62v2m1-2v2m200-2v2m128-2v2m-335 0v2m3-2v2m209-2v2m8-2v2m79-2v2m-293 2v2m1-2v2m205-2v2m18-2v2m-224 0v2m7-2v2m-3 0v2m207-2v2m1-2v2m1-2v2m20-2v2m3-2v2m5-2v2m1-2v2m18-2v2m6-2v2m65-2v2m-318 0v2m11-2v2m186-2v2m14-2v2m51-2v2m1-2v2m42-2v2m8-2v2m3-2v2m-310 0v2m186-2v2m20-2v2m14-2v2m6-2v2m10-2v2m24-2v2m48-2v2m5-2v2m-347 0v2m6-2v2m5-2v2m3-2v2m27-2v2m169-2v2m2-2v2m3-2v2m8-2v2m4-2v2m5-2v2m1-2v2m1-2v2m7-2v2m1-2v2m8-2v2m21-2v2m3-2v2m19-2v2m23-2v2m6-2v2m-322 0v2m14-2v2m179-2v2m21-2v2m1-2v2m25-2v2m9-2v2m1-2v2m14-2v2m51-2v2m2-2v2m9-2v2m3-2v2m2-2v2m7-2v2m6-2v2m-311 0v2m4-2v2m2-2v2m7-2v2m6-2v2m142-2v2m17-2v2m3-2v2m3-2v2m3-2v2m10-2v2m10-2v2m1-2v2m6-2v2m16-2v2m3-2v2m3-2v2m5-2v2m3-2v2m17-2v2m13-2v2m1-2v2m12-2v2m2-2v2m4-2v2m2-2v2m-283 0v2m8-2v2m137-2v2m2-2v2m2-2v2m25-2v2m6-2v2m1-2v2m11-2v2m3-2v2m7-2v2m2-2v2m1-2v2m7-2v2m3-2v2m1-2v2m3-2v2m6-2v2m20-2v2m5-2v2m23-2v2m20-2v2m-339 0v2m9-2v2m1-2v2m2-2v2m5-2v2m4-2v2m7-2v2m5-2v2m21-2v2m7-2v2m175-2v2m2-2v2m23-2v2m28-2v2m9-2v2m4-2v2m-292 0v2m10-2v2m32-2v2m6-2v2m18-2v2m5-2v2m198-2v2m23-2v2m32-2v2m10-2v2m3-2v2m-314 0v2m2-2v2m4-2v2m5-2v2m5-2v2m9-2v2m2-2v2m19-2v2m7-2v2m2-2v2m124-2v2m8-2v2m9-2v2m6-2v2m8-2v2m4-2v2m25-2v2m41-2v2m-286 0v2m10-2v2m3-2v2m3-2v2m21-2v2m12-2v2m12-2v2m1-2v2m15-2v2m12-2v2m38-2v2m81-2v2m1-2v2m16-2v2m3-2v2m5-2v2m12-2v2m12-2v2m3-2v2m12-2v2m4-2v2m18-2v2m4-2v2m2-2v2m6-2v2m2-2v2m5-2v2m6-2v2m-334 0v2m22-2v2m4-2v2m2-2v2m8-2v2m5-2v2m10-2v2m12-2v2m6-2v2m7-2v2m57-2v2m44-2v2m2-2v2m27-2v2m8-2v2m24-2v2m2-2v2m42-2v2m9-2v2m4-2v2m9-2v2m-314 0v2m6-2v2m10-2v2m20-2v2m6-2v2m6-2v2m4-2v2m15-2v2m13-2v2m1-2v2m6-2v2m5-2v2m16-2v2m2-2v2m7-2v2m15-2v2m90-2v2m1-2v2m16-2v2m11-2v2m1-2v2m22-2v2m2-2v2m1-2v2m15-2v2m33-2v2m17-2v2m5-2v2m-302 0v2m8-2v2m16-2v2m3-2v2m20-2v2m7-2v2m13-2v2m75-2v2m3-2v2m1-2v2m6-2v2m15-2v2m31-2v2m9-2v2m1-2v2m14-2v2m4-2v2m20-2v2m7-2v2m4-2v2m2-2v2m11-2v2m19-2v2m11-2v2m-336 0v2m17-2v2m23-2v2m31-2v2m15-2v2m32-2v2m85-2v2m4-2v2m12-2v2m41-2v2m17-2v2m13-2v2m12-2v2m22-2v2m4-2v2m2-2v2m5-2v2m2-2v2m-330 0v2m16-2v2m23-2v2m8-2v2m4-2v2m4-2v2m22-2v2m130-2v2m54-2v2m21-2v2m4-2v2m4-2v2m-306 0v2m2-2v2m1-2v2m14-2v2m13-2v2m30-2v2m6-2v2m1-2v2m5-2v2m6-2v2m9-2v2m42-2v2m5-2v2m74-2v2m4-2v2m20-2v2m4-2v2m16-2v2m13-2v2m39-2v2m3-2v2m2-2v2m37-2v2m-311 0v2m34-2v2m6-2v2m5-2v2m5-2v2m1-2v2m5-2v2m4-2v2m35-2v2m29-2v2m71-2v2m4-2v2m9-2v2m53-2v2m8-2v2m14-2v2m2-2v2m20-2v2m-311 0v2m1-2v2m8-2v2m16-2v2m58-2v2m18-2v2m25-2v2m34-2v2m34-2v2m12-2v2m7-2v2m11-2v2m7-2v2m11-2v2m30-2v2m11-2v2m29-2v2m-329 0v2m42-2v2m76-2v2m15-2v2m72-2v2m16-2v2m17-2v2m33-2v2m34-2v2m13-2v2m6-2v2m8-2v2m-330 0v2m37-2v2m5-2v2m2-2v2m12-2v2m4-2v2m4-2v2m6-2v2m88-2v2m13-2v2m10-2v2m35-2v2m66-2v2m18-2v2m20-2v2m4-2v2m-297 0v2m7-2v2m3-2v2m29-2v2m14-2v2m32-2v2m68-2v2m46-2v2m25-2v2m36-2v2m2-2v2m9-2v2m12-2v2m2-2v2m9-2v2m-297 0v2m22-2v2m3-2v2m10-2v2m6-2v2m15-2v2m4-2v2m69-2v2m17-2v2m10-2v2m46-2v2m2-2v2m5-2v2m41-2v2m44-2v2m12-2v2m3-2v2"/><path stroke="#a04000" d="M410 0v2m2-2v2m6-2v2m-213 2v2m208-2v2m7-2v2m-26 2v2m15-2v2m12-2v2m-10 0v2m-231 0v2m215-2v2m-27 0v2m26-2v2m34-2v2m-34 0v2m15-2v2m-377 0v2m108-2v2m60-2v2m212-2v2m-152 0v2m134-2v2m-260 0v2m-101 0v2m225-2v2m1-2v2m1-2v2m-88 0v2m223-2v2m-216 0v2m22-2v2m226-2v2m-267 0v2m234-2v2m27-2v2m-389 0v2m67-2v2m77-2v2m-36 0v2m286-2v2m-328 0v2m78-2v2m82 0v2m2-2v2m-226 0v2m360 0v2m33-2v2m-255 0v2m86 2v2m137-2v2m31-2v2m-279 0v2m11-2v2m12-2v2m89-2v2m111-2v2m-339 0v2m112-2v2m115-2v2m146-2v2m-263 0v2m7-2v2m21 0v2m1 0v2m2-2v2m67-2v2m157-2v2m4 0v2m5-2v2m1-2v2m-249 0v2m2-2v2m10-2v2m89-2v2m146-2v2m2-2v2m-237 0v2m-168 0v2m30-2v2m110-2v2m8-2v2m26-2v2m9-2v2m-38 0v2m24 0v2m6-2v2m63-2v2m128-2v2m29 0v2m25-2v2m5-2v2m-394 0v2m2-2v2m99-2v2m25-2v2m153-2v2m96-2v2m10-2v2m-268 0v2m28-2v2m82-2v2m169-2v2m-428 0v2m169-2v2m72-2v2m176-2v2m9-2v2m1-2v2m-322 0v2m262-2v2m29-2v2m30-2v2m-426 0v2m158-2v2m152-2v2m95-2v2m7-2v2m-397 0v2m11-2v2m78-2v2m58-2v2m207-2v2m34-2v2m23-2v2m-401 0v2m5-2v2m113-2v2m7-2v2m110-2v2m-230 0v2m110-2v2m10-2v2m25-2v2m194-2v2m58-2v2m1-2v2m-397 0v2m117-2v2m91-2v2m1-2v2m70-2v2m103-2v2m13-2v2m1-2v2m-310 0v2m293-2v2m17-2v2m1-2v2m-279 0v2m8-2v2m2-2v2m261-2v2m1-2v2m-322 0v2m44-2v2m14-2v2m83-2v2m166-2v2m11-2v2m-409 0v2m125-2v2m73-2v2m196-2v2m17-2v2m-389 0v2m121-2v2m55-2v2m201-2v2m-373 0v2m323-2v2m11-2v2m38-2v2m5-2v2m1-2v2m-250 0v2m44-2v2m33-2v2m119-2v2m57-2v2m-277 0v2m102-2v2m177-2v2m-284 0v2m23-2v2m20-2v2m30-2v2m205-2v2m4-2v2m3-2v2m4-2v2m6-2v2m-380 0v2m51-2v2m61-2v2m73-2v2m176-2v2m14-2v2m-261 0v2m253-2v2m-318 0v2m314-2v2m-314 0v2m1-2v2m7-2v2m28-2v2m7-2v2m86-2v2m172-2v2m28-2v2m-26 0v2m5-2v2m7-2v2m-308 0v2m304-2v2m6-2v2m3-2v2m-387 0v2m124-2v2m247-2v2m2-2v2m6-2v2m2-2v2m4-2v2m6-2v2m7-2v2m-118 0v2m113-2v2m-319 0v2m52-2v2m202-2v2m29-2v2m-362 2v2m81-2v2m2-2v2m202-2v2m88-2v2m3-2v2m1-2v2m-232 0v2m13-2v2m215-2v2m19-2v2m-416 0v2m415-2v2m8-2v2m-399 0v2m82-2v2m56-2v2m2-2v2m61-2v2m165-2v2m22-2v2m-398 0v2m46-2v2m124-2v2m54-2v2m119-2v2m8-2v2m32-2v2m16-2v2m8-2v2m-273 0v2m7-2v2m221-2v2m40-2v2m5-2v2m1-2v2m-324 0v2m5-2v2m35-2v2m14-2v2m10-2v2m78-2v2m179-2v2m1-2v2m-272 0v2m4-2v2m24-2v2m241-2v2m-235 0v2m234-2v2m-386 0v2m141-2v2m28-2v2m19-2v2m12-2v2m81-2v2m88-2v2m-268 0v2m281-2v2m3-2v2m7-2v2m-260 0v2m6-2v2m14-2v2m41-2v2m3-2v2m181-2v2m1-2v2m-384 0v2m139-2v2m1-2v2m6-2v2m14-2v2m181-2v2m-209 0v2m13-2v2m183-2v2m-206 0v2m24-2v2m3-2v2m243-2v2m-392 0v2m138-2v2m13-2v2m46-2v2m90-2v2m54-2v2m-227 0v2m8-2v2m18-2v2m4-2v2m7-2v2m42-2v2m2-2v2m5-2v2m144-2v2m32-2v2m24-2v2m-260 0v2m6-2v2m29-2v2m167-2v2m31-2v2m1-2v2m23-2v2m1-2v2m-320 0v2m43-2v2m2-2v2m11-2v2m2-2v2m5-2v2m200-2v2m48-2v2m3-2v2m-258 0v2m63-2v2m7-2v2m-195 0v2m120-2v2m7-2v2m16-2v2m44-2v2m91-2v2m57-2v2m5-2v2m41-2v2m3-2v2m-185 0v2m79-2v2m-139 0v2m4-2v2m47-2v2m200-2v2m-278 0v2m16-2v2m67-2v2m4-2v2m135-2v2m28-2v2m5-2v2m1-2v2m21-2v2m2-2v2m-277 0v2m16-2v2m250-2v2m-257 0v2m19-2v2m50-2v2m3-2v2m178-2v2m17-2v2m-271 0v2m6-2v2m7-2v2m9-2v2m61-2v2m132-2v2m29-2v2m19-2v2m-313 0v2m207-2v2m92-2v2m10-2v2m-312 0v2m66-2v2m10-2v2m54-2v2m130-2v2m55-2v2m-276 0v2m9-2v2m6-2v2m46-2v2m206-2v2m-256 0v2m24-2v2m228-2v2m23-2v2m-275 0v2m85-2v2m119-2v2m60-2v2m11-2v2m-395 0v2m73-2v2m29-2v2m14-2v2m16-2v2m243-2v2m-391 0v2m160-2v2m50-2v2m2-2v2m160-2v2m9-2v2m-379 0v2m14-2v2m103-2v2m29-2v2m5-2v2m53-2v2m5-2v2m87-2v2m41-2v2m17-2v2m34-2v2m15-2v2m-322 0v2m66-2v2m1-2v2m6-2v2m1-2v2m58-2v2m199-2v2m-267 0v2m73-2v2m134-2v2m17-2v2m18-2v2m-395 0v2m92-2v2m33-2v2m89-2v2m-161 0v2m45-2v2m94-2v2m-101 0v2m9-2v2m60-2v2m52-2v2m17-2v2m158-2v2m-368 0v2m203-2v2m6-2v2m85-2v2m34-2v2m18-2v2m54-2v2m-425 0v2m115-2v2m18-2v2m8-2v2m32-2v2m137-2v2m68-2v2m48-2v2m-401 0v2m77-2v2m62-2v2m59-2v2m87-2v2m-304 0v2m137-2v2m25-2v2m4-2v2m60-2v2m-102 0v2m25-2v2m70-2v2m9-2v2m-129 0v2m10-2v2m15-2v2m98-2v2m125-2v2m53-2v2m-270 0v2m19-2v2m72-2v2m5-2v2m18-2v2m142-2v2m-334 0v2m46-2v2m27-2v2m21-2v2m79-2v2m146-2v2m-359 0v2m10-2v2m76-2v2m28-2v2m4-2v2m8-2v2m9-2v2m67-2v2m6-2v2m5-2v2m43-2v2m110-2v2m-278 0v2m64-2v2m4-2v2m49-2v2m3-2v2m6-2v2m45-2v2m31-2v2m1-2v2m41-2v2m42-2v2m11-2v2m22-2v2m-295 0v2m13-2v2m7-2v2m67-2v2m21-2v2m136-2v2m15-2v2m13-2v2m-299 0v2m53-2v2m3-2v2m78-2v2m19-2v2m102-2v2m12-2v2m35-2v2m-303 0v2m34-2v2m17-2v2m18-2v2m57-2v2m4-2v2m1-2v2m122-2v2m8-2v2m-233 0v2m81-2v2m6-2v2m7-2v2m3-2v2m5-2v2m77-2v2m1-2v2m19-2v2m29-2v2m34-2v2m32-2v2m-422 0v2m277-2v2m-280 0v2m8-2v2m21-2v2m18-2v2m90-2v2m62-2v2m30-2v2m-223 0v2m1-2v2m213-2v2m2-2v2m13-2v2m21-2v2m110-2v2m31-2v2m-302 0v2m8-2v2m3-2v2m10-2v2m15-2v2m91-2v2m2-2v2m2-2v2m13-2v2m20-2v2m80-2v2m19-2v2m26-2v2m21-2v2m21-2v2m-411 0v2m193-2v2m10-2v2m12-2v2m1-2v2m5-2v2m36-2v2m-167 0v2m33-2v2m4-2v2m78-2v2m6-2v2m3-2v2m9-2v2m145-2v2m13-2v2m6-2v2m12-2v2m-413 0v2m95-2v2m9-2v2m1-2v2m78-2v2m144-2v2m11-2v2m38-2v2m4-2v2m41-2v2m5-2v2m-412 0v2m81-2v2m7-2v2m1-2v2m49-2v2m58-2v2m8-2v2m3-2v2m3-2v2m5-2v2m125-2v2m43-2v2m-241 0v2m152-2v2m8-2v2m44-2v2m61-2v2m-278 0v2m28-2v2m47-2v2m16-2v2m-227 0v2m96-2v2m33-2v2m5-2v2m1-2v2m88-2v2m9-2v2m115-2v2m35-2v2m-330 0v2m55-2v2m35-2v2m49-2v2m28-2v2m12-2v2m122-2v2m11-2v2m49-2v2m-421 0v2m106-2v2m27-2v2m4-2v2m241-2v2m2-2v2m19-2v2m-392 0v2m19-2v2m78-2v2m34-2v2m29-2v2m6-2v2m54-2v2m8-2v2m4-2v2m13-2v2m22-2v2m35-2v2m23-2v2m32-2v2m8-2v2m-220 0v2m82-2v2m134-2v2m10-2v2m1-2v2m-8 0v2m4-2v2m15-2v2m2-2v2m30-2v2m-318 0v2m115-2v2m21-2v2m38-2v2m33-2v2m57-2v2m-352 0v2m81-2v2m8-2v2m31-2v2m12-2v2m90-2v2m2-2v2m126-2v2m3-2v2m1-2v2m2-2v2m-362 0v2m106-2v2m96-2v2m27-2v2m154-2v2m6-2v2m1-2v2m13-2v2m-402 0v2m5-2v2m80-2v2m7-2v2m69-2v2m78-2v2m116-2v2m1-2v2m4-2v2m-353 0v2m239-2v2m85-2v2m14-2v2m1-2v2m12-2v2m17-2v2m35-2v2m-400 0v2m78-2v2m4-2v2m44-2v2m99-2v2m6-2v2m98-2v2m15-2v2m2-2v2m17-2v2m-382 0v2m94-2v2m35-2v2m11-2v2m20-2v2m168-2v2m39-2v2m32-2v2m-401 0v2m153-2v2m33-2v2m75-2v2m119-2v2m11-2v2m-385 0v2m89-2v2m58-2v2m32-2v2m1-2v2m108-2v2m2-2v2m15-2v2m17-2v2m12-2v2m-333 0v2m2-2v2m4-2v2m5-2v2m98-2v2m29-2v2m8-2v2m2-2v2m12-2v2m217-2v2m6-2v2m-291 0v2m8-2v2m82-2v2m72-2v2m32-2v2m65-2v2m10-2v2m-368 0v2m11-2v2m88-2v2m16-2v2m42-2v2m184-2v2m30-2v2m5-2v2m3-2v2m3-2v2m7-2v2m-389 0v2m2-2v2m6-2v2m21-2v2m116-2v2m84-2v2m93-2v2m12-2v2m-333 0v2m2-2v2m5-2v2m6-2v2m12-2v2m22-2v2m90-2v2m28-2v2m41-2v2m22-2v2m136-2v2m36-2v2m-382 0v2m106-2v2m20-2v2m123-2v2m105-2v2m28-2v2m-395 0v2m12-2v2m85-2v2m32-2v2m89-2v2m51-2v2m3-2v2m-271 0v2m12-2v2m78-2v2m24-2v2m70-2v2m47-2v2m2-2v2m71-2v2m39-2v2m-349 0v2m7-2v2m13-2v2m96-2v2m8-2v2m103-2v2m98-2v2m58-2v2m-382 0v2m16-2v2m201-2v2m4-2v2m121-2v2m36-2v2m9-2v2m1-2v2m-390 0v2m13-2v2m69-2v2m139-2v2m10-2v2m165-2v2m-367 0v2m193-2v2m49-2v2m18-2v2m73-2v2m2-2v2m1-2v2m-280 0v2m25-2v2m12-2v2m85-2v2m30-2v2m2-2v2m20-2v2m73-2v2m31-2v2m33-2v2m-293 0v2m8-2v2m7-2v2m5-2v2m209-2v2m31-2v2m-350 0v2m16-2v2m48-2v2m150-2v2m63-2v2m-228 0v2m28-2v2m132-2v2m113-2v2m51-2v2m14-2v2m-385 0v2m55-2v2m54-2v2m68-2v2m5-2v2m112-2v2m1-2v2m-310 0v2m77-2v2m53-2v2m108-2v2m-222 0v2m2-2v2m32-2v2m13-2v2m2-2v2m1-2v2m37-2v2m7-2v2m4-2v2m10-2v2m93-2v2m48-2v2m8-2v2m-210 0v2m5-2v2m42-2v2m12-2v2m4-2v2m65-2v2m4-2v2m42-2v2m3-2v2m22-2v2m11-2v2m68-2v2m-232 0v2m85-2v2m1-2v2m20-2v2m8-2v2m14-2v2m26-2v2m33-2v2m-295 0v2m100-2v2m17-2v2m76-2v2m63-2v2m8-2v2m3-2v2m5-2v2m38-2v2m-272 0v2m61-2v2m1-2v2m25-2v2m4-2v2m64-2v2m40-2v2m21-2v2m11-2v2m1-2v2m29-2v2m-287 0v2m4-2v2m58-2v2m5-2v2m187-2v2m31-2v2m-277 0v2m5-2v2m14-2v2m2-2v2m2-2v2m36-2v2m8-2v2m126-2v2m37-2v2m8-2v2m12-2v2m7-2v2m17-2v2m15-2v2m18-2v2m-283 0v2m30-2v2m125-2v2m3-2v2m14-2v2m1-2v2m53-2v2m2-2v2m5-2v2m-268 0v2m5-2v2m6-2v2m19-2v2m10-2v2m22-2v2m15-2v2m125-2v2m64-2v2m27-2v2m-299 0v2m10-2v2m61-2v2m127-2v2m15-2v2m-199 0v2m13-2v2m172-2v2m-178 0v2m43-2v2m1-2v2m176-2v2m1-2v2m14-2v2m19-2v2m29-2v2m-250 0v2m11-2v2m252-2v2m6-2v2m-116 0v2m36-2v2m68-2v2m-67 0v2m-192 0v2m4-2v2m215-2v2m-246 0v2m187-2v2m1-2v2m35-2v2m43-2v2m58-2v2m-349 0v2m21-2v2m4-2v2m10-2v2m4-2v2m171-2v2m41-2v2m1-2v2m72-2v2m-321 0v2m9-2v2m29-2v2m3-2v2m229-2v2m36-2v2m33-2v2m6-2v2m-64 0v2m29-2v2m13-2v2m8-2v2m-327 0v2m9-2v2m13-2v2m4-2v2m272-2v2m5-2v2m9-2v2m5-2v2m-323 0v2m311-2v2m12-2v2m8-2v2m-331 0v2m274-2v2m-276 0v2m328-2v2m14 0v2m-321 34v2m310 2v2m-319 0v2m5-2v2m221-2v2m87-2v2m8-2v2m-320 0v2m7-2v2m218-2v2m66-2v2m9-2v2m-89 0v2m2-2v2m4-2v2m38-2v2m32-2v2m39-2v2m6-2v2m5-2v2m-328 0v2m204-2v2m1-2v2m15-2v2m24-2v2m19-2v2m-266 0v2m1-2v2m3-2v2m213-2v2m8-2v2m1-2v2m2-2v2m14-2v2m4-2v2m26-2v2m14-2v2m1-2v2m4-2v2m10-2v2m14-2v2m6-2v2m4-2v2m-336 0v2m18-2v2m2-2v2m1-2v2m181-2v2m55-2v2m12-2v2m28-2v2m1-2v2m6-2v2m2-2v2m5-2v2m4-2v2m4-2v2m-88 0v2m75-2v2m6-2v2m-314 0v2m24-2v2m7-2v2m197-2v2m13 0v2m-244 0v2m41-2v2m225-2v2m81-2v2m-35 0v2m-305 0v2m31-2v2m5-2v2m173-2v2m1-2v2m-189 0v2m3-2v2m18-2v2m144-2v2m10-2v2m144-2v2m-319 0v2m16-2v2m146-2v2m-182 0v2m15-2v2m33-2v2m7-2v2m147-2v2m33-2v2m63-2v2m-309 0v2m26-2v2m33-2v2m337-2v2m-160 0v2m10-2v2m74-2v2m-248 0v2m210-2v2m66 0v2m2-2v2m-307 0v2m38-2v2m10-2v2m59-2v2m106-2v2m-156 0v2m16-2v2m3-2v2m16-2v2m23-2v2m9-2v2m101-2v2m78-2v2m-337 0v2m105-2v2m236-2v2m61-2v2m-316 0v2m49-2v2m9-2v2m2-2v2m5-2v2m1-2v2m132-2v2m29-2v2m98-2v2m-418 0v2m6-2v2m130-2v2m7-2v2m4-2v2m27-2v2m1-2v2m20-2v2m4-2v2m76-2v2m88-2v2m10-2v2m20-2v2m13-2v2m-370 0v2m24-2v2m2-2v2m3-2v2m36-2v2m43-2v2m8-2v2m16-2v2m57-2v2m71-2v2m101-2v2m16-2v2m10-2v2m-395 0v2m63-2v2m8-2v2m26-2v2m11-2v2m6-2v2m3-2v2m7-2v2m4-2v2m4-2v2m91-2v2m16-2v2m51-2v2m5-2v2m-208 0v2m30-2v2m4-2v2m15-2v2m8-2v2m115-2v2m61-2v2m55-2v2m1-2v2m16-2v2m-400 0v2m50-2v2m43-2v2m23-2v2m10-2v2m13-2v2m1-2v2m10-2v2m71-2v2m61-2v2m105-2v2m-356 0v2m55-2v2m12-2v2m17-2v2m25-2v2m1-2v2m88-2v2m78-2v2m12-2v2m73-2v2m3-2v2m7-2v2m-390 0v2m25-2v2m25-2v2m8-2v2m54-2v2m2-2v2m17-2v2m6-2v2m14-2v2m155-2v2m58-2v2m21-2v2m-412 0v2m13-2v2m7-2v2m117-2v2m19-2v2m11-2v2m31-2v2m37-2v2m57-2v2m3-2v2m9-2v2m31-2v2m60-2v2m4-2v2m-343 0v2m76-2v2m8-2v2m4-2v2m33-2v2m9-2v2m79-2v2m39-2v2m86-2v2m-372 0v2m115-2v2m5-2v2m19-2v2m9-2v2m9-2v2m9-2v2m44-2v2m8-2v2m22-2v2m44-2v2m2-2v2m87-2v2m2-2v2m1-2v2m7-2v2m1-2v2m15-2v2m-399 0v2m10-2v2m32-2v2m25-2v2m14-2v2m9-2v2m38-2v2m9-2v2m4-2v2m11-2v2m31-2v2m94-2v2m5-2v2m89-2v2m10-2v2"/><path stroke="#c02000" d="M142 2v2m63 6v2m221-2v2m-286 0v2m60-2v2m211 0v2m10-2v2m-260 0v2m40-2v2m207-2v2m-202 0v2m189 0v2m-189 2v2m206-2v2m-212 0v2m60-2v2m161-2v2m-273 0v2m52-2v2m194-2v2m25-2v2m-10 0v2m3-2v2m-2 0v2m-252 0v2m252-2v2m11-2v2m-26 0v2m26-2v2m-251 0v2m30-2v2m208-2v2m11-2v2m-286 2v2m236-2v2m26-2v2m-363 0v2m151-2v2m227-2v2m1-2v2m7-2v2m1-2v2m-279 0v2m31-2v2m12-2v2m211-2v2m27-2v2m-12 0v2m-15 0v2m18-2v2m-243 0v2m2-2v2m196 0v2m-167 0v2m59-2v2m136-2v2m-195 0v2m-101 0v2m107-2v2m-22 0v2m16-2v2m-30 0v2m13-2v2m-43 0v2m36-2v2m-42 0v2m8-2v2m58-2v2m60-2v2m-111 0v2m34-2v2m128-2v2m-169 0v2m30-2v2m11-2v2m1-2v2m210-2v2m-245 0v2m246-2v2m32-2v2m-402 0v2m158-2v2m75-2v2m-117 0v2m6-2v2m2-2v2m21-2v2m2-2v2m12-2v2m-50 0v2m41-2v2m-25 0v2m25-2v2m64-2v2m155-2v2m-289 2v2m52-2v2m237-2v2m2-2v2m-396 0v2m259-2v2m135-2v2m-368 0v2m78-2v2m65-2v2m1-2v2m89-2v2m-111 0v2m9-2v2m13-2v2m71-2v2m17-2v2m136-2v2m2-2v2m-225 0v2m1-2v2m197-2v2m25-2v2m32-2v2m-395 0v2m101-2v2m15-2v2m13 0v2m10-2v2m2-2v2m12-2v2m229-2v2m13-2v2m-281 0v2m24-2v2m89-2v2m1-2v2m135-2v2m-290 0v2m30-2v2m41-2v2m9-2v2m183-2v2m2-2v2m59-2v2m-394 0v2m135-2v2m-135 0v2m141-2v2m-26 0v2m20-2v2m89-2v2m109-2v2m-206 0v2m97-2v2m1-2v2m51-2v2m1-2v2m57-2v2m26-2v2m26-2v2m-420 0v2m169-2v2m89-2v2m109-2v2m50-2v2m10-2v2m-396 0v2m116-2v2m29-2v2m252-2v2m-253 0v2m194-2v2m26-2v2m1-2v2m21-2v2m-241 0v2m228-2v2m13-2v2m-260 0v2m1-2v2m19-2v2m251-2v2m-296 0v2m26-2v2m2-2v2m2-2v2m14-2v2m63-2v2m20-2v2m1-2v2m97-2v2m13-2v2m56-2v2m1-2v2m-294 0v2m15-2v2m1-2v2m9-2v2m1-2v2m2-2v2m97-2v2m2-2v2m108-2v2m49-2v2m10-2v2m1-2v2m-271 0v2m2-2v2m1-2v2m245-2v2m-375 0v2m103-2v2m16-2v2m8-2v2m2-2v2m1-2v2m1-2v2m98-2v2m51-2v2m60-2v2m27-2v2m-397 0v2m30-2v2m210-2v2m1-2v2m17-2v2m1-2v2m1-2v2m136-2v2m7-2v2m-403 0v2m311-2v2m92-2v2m23-2v2m-426 0v2m30-2v2m74-2v2m55-2v2m3-2v2m97-2v2m135-2v2m10-2v2m23-2v2m-265 0v2m77-2v2m1-2v2m1-2v2m69-2v2m93-2v2m4-2v2m19-2v2m-396 0v2m69-2v2m6-2v2m51-2v2m20-2v2m83-2v2m52-2v2m57-2v2m38-2v2m20-2v2m-396 0v2m68-2v2m7-2v2m154-2v2m133-2v2m34-2v2m-283 0v2m96-2v2m21-2v2m159-2v2m-316 0v2m2-2v2m129-2v2m5-2v2m1-2v2m20-2v2m97-2v2m46-2v2m25-2v2m-398 0v2m69-2v2m6-2v2m80-2v2m37-2v2m135-2v2m69-2v2m-327 0v2m34-2v2m10-2v2m96-2v2m1-2v2m117-2v2m46-2v2m7-2v2m7-2v2m1-2v2m2-2v2m1-2v2m-275 0v2m211-2v2m60-2v2m9-2v2m-320 0v2m27-2v2m19-2v2m253-2v2m-405 0v2m97-2v2m2-2v2m47-2v2m31-2v2m51-2v2m189-2v2m10-2v2m-427 0v2m107-2v2m67-2v2m66-2v2m20-2v2m51-2v2m97-2v2m6-2v2m-414 0v2m97-2v2m142-2v2m72-2v2m-213 0v2m9-2v2m306-2v2m-413 0v2m240-2v2m18-2v2m160-2v2m-313 0v2m51-2v2m21-2v2m81-2v2m150-2v2m19-2v2m-320 0v2m67-2v2m65-2v2m1-2v2m-215 0v2m73-2v2m6-2v2m52-2v2m9 0v2m251-2v2m-311 0v2m51-2v2m85-2v2m17-2v2m142-2v2m-375 0v2m81-2v2m50-2v2m8-2v2m77-2v2m160-2v2m1-2v2m-246 0v2m84-2v2m177-2v2m-314 0v2m307-2v2m12-2v2m2-2v2m-398 0v2m138-2v2m236-2v2m1-2v2m-244 0v2m209-2v2m58-2v2m-258 0v2m19-2v2m231-2v2m-242 0v2m3-2v2m8-2v2m54-2v2m154-2v2m23-2v2m1-2v2m6-2v2m-272 0v2m249-2v2m16-2v2m-277 0v2m7-2v2m21-2v2m247-2v2m-393 0v2m5-2v2m148-2v2m11-2v2m56-2v2m71-2v2m103-2v2m8-2v2m-274 0v2m217-2v2m32-2v2m16-2v2m-388 0v2m138-2v2m21-2v2m47-2v2m9-2v2m160-2v2m15-2v2m7-2v2m-277 0v2m252-2v2m-159 0v2m161-2v2m13-2v2m3-2v2m-416 0v2m146-2v2m24-2v2m15-2v2m217-2v2m9-2v2m3-2v2m-263 0v2m250-2v2m13-2v2m1-2v2m1-2v2m1-2v2m5-2v2m2-2v2m-276 0v2m13-2v2m4-2v2m192-2v2m40-2v2m10-2v2m9-2v2m-270 0v2m75-2v2m178-2v2m23-2v2m2-2v2m-66 0v2m42-2v2m13-2v2m3-2v2m1-2v2m7-2v2m-321 0v2m46-2v2m250-2v2m24-2v2m-397 0v2m120-2v2m74-2v2m14-2v2m123-2v2m44-2v2m1-2v2m13-2v2m-257 0v2m8-2v2m241-2v2m-244 0v2m1-2v2m2-2v2m251-2v2m-267 0v2m74-2v2m193-2v2m-414 0v2m162-2v2m60-2v2m174-2v2m26-2v2m-400 0v2m139-2v2m60-2v2m146-2v2m25-2v2m4-2v2m14-2v2m-264 0v2m78-2v2m3-2v2m4-2v2m1-2v2m133-2v2m39-2v2m-381 0v2m77-2v2m51-2v2m9-2v2m1-2v2m1-2v2m9-2v2m1-2v2m182-2v2m11-2v2m1-2v2m37-2v2m-303 0v2m129-2v2m2-2v2m119-2v2m16-2v2m1-2v2m-225 0v2m3-2v2m86-2v2m134-2v2m-268 0v2m32-2v2m17-2v2m9-2v2m16-2v2m58-2v2m5-2v2m-134 0v2m5-2v2m8-2v2m31-2v2m15-2v2m60-2v2m-215 0v2m19-2v2m74-2v2m3-2v2m43-2v2m20-2v2m1-2v2m6-2v2m52-2v2m151-2v2m13-2v2m-237 0v2m13-2v2m71-2v2m-98 0v2m8-2v2m20-2v2m1-2v2m63-2v2m-222 0v2m143-2v2m13-2v2m58-2v2m2-2v2m6-2v2m4-2v2m2-2v2m-210 0v2m138-2v2m56-2v2m9-2v2m83-2v2m92-2v2m-260 0v2m76-2v2m5-2v2m3-2v2m34-2v2m85-2v2m-298 0v2m115-2v2m61-2v2m7-2v2m1-2v2m134-2v2m1-2v2m23-2v2m-373 0v2m147-2v2m147-2v2m-209 0v2m125-2v2m84-2v2m25-2v2m10-2v2m10-2v2m9-2v2m13-2v2m-240 0v2m88-2v2m131-2v2m10-2v2m-146 0v2m3-2v2m6-2v2m6-2v2m118-2v2m2-2v2m48-2v2m-395 0v2m93-2v2m43-2v2m81-2v2m6-2v2m2-2v2m148-2v2m-151 0v2m1-2v2m2-2v2m2-2v2m116-2v2m-337 0v2m130-2v2m76-2v2m12-2v2m132-2v2m-346 0v2m127-2v2m207-2v2m-168 0v2m32-2v2m12-2v2m4-2v2m1-2v2m76-2v2m44-2v2m-136 0v2m8-2v2m4-2v2m145-2v2m-367 0v2m123-2v2m23-2v2m73-2v2m3-2v2m4-2v2m2-2v2m7-2v2m-229 0v2m122-2v2m2-2v2m4-2v2m3-2v2m75-2v2m8-2v2m1-2v2m4-2v2m-219 0v2m12-2v2m128-2v2m63-2v2m157-2v2m31-2v2m-252 0v2m1-2v2m63-2v2m5-2v2m4-2v2m5-2v2m-231 0v2m15-2v2m142-2v2m72-2v2m4-2v2m3-2v2m75-2v2m58-2v2m22-2v2m32-2v2m-412 0v2m10-2v2m111-2v2m54-2v2m33-2v2m1-2v2m1-2v2m2-2v2m12-2v2m1-2v2m127-2v2m20-2v2m31-2v2m-413 0v2m28-2v2m206-2v2m23-2v2m107-2v2m4-2v2m-357 0v2m208-2v2m1-2v2m12-2v2m62-2v2m-281 0v2m117-2v2m223-2v2m-239 0v2m17-2v2m132-2v2m5-2v2m42-2v2m73-2v2m29-2v2m-226 0v2m133-2v2m102-2v2m-396 0v2m76-2v2m29-2v2m55-2v2m24-2v2m9-2v2m46-2v2m90-2v2m5-2v2m18-2v2m19-2v2m-298 0v2m88-2v2m72-2v2m5-2v2m91-2v2m20-2v2m2-2v2m10-2v2m3-2v2m-385 0v2m127-2v2m55-2v2m107-2v2m58-2v2m10-2v2m13-2v2m1-2v2m6-2v2m-382 0v2m16-2v2m172-2v2m70-2v2m4-2v2m20-2v2m12-2v2m33-2v2m15-2v2m22-2v2m-172 0v2m72-2v2m2-2v2m30-2v2m102-2v2m-389 0v2m180-2v2m28-2v2m75-2v2m7-2v2m-296 0v2m78-2v2m12-2v2m27-2v2m69-2v2m-184 0v2m12-2v2m103-2v2m7-2v2m3-2v2m131-2v2m1-2v2m34-2v2m125-2v2m-402 0v2m1-2v2m74-2v2m35-2v2m61-2v2m60-2v2m43-2v2m6-2v2m-205 0v2m18-2v2m5-2v2m3-2v2m4-2v2m5-2v2m61-2v2m-83 0v2m1-2v2m1-2v2m6-2v2m9-2v2m141-2v2m1-2v2m1-2v2m-156 0v2m11-2v2m95-2v2m82-2v2m64-2v2m37-2v2m-341 0v2m18-2v2m12-2v2m5-2v2m1-2v2m5-2v2m7-2v2m3-2v2m9-2v2m178-2v2m26-2v2m18-2v2m-332 0v2m82-2v2m27-2v2m88-2v2m13-2v2m72-2v2m8-2v2m1-2v2m98-2v2m-331 0v2m1-2v2m17-2v2m-21 0v2m12-2v2m2-2v2m3-2v2m1-2v2m3-2v2m2-2v2m135-2v2m11-2v2m36-2v2m14-2v2m-265 0v2m37-2v2m7-2v2m9-2v2m4-2v2m2-2v2m1-2v2m54-2v2m64-2v2m93-2v2m1-2v2m-275 0v2m5-2v2m42-2v2m6-2v2m7-2v2m226-2v2m-244 0v2m9-2v2m7-2v2m2-2v2m8-2v2m24-2v2m88-2v2m20-2v2m-165 0v2m10-2v2m3-2v2m7-2v2m3-2v2m21-2v2m255-2v2m-295 0v2m4-2v2m2-2v2m3-2v2m133-2v2m93-2v2m13-2v2m-250 0v2m249-2v2m-283 0v2m5-2v2m189-2v2m89-2v2m-289 0v2m4-2v2m74-2v2m153-2v2m17-2v2m-232 0v2m52-2v2m212-2v2m-283 0v2m3-2v2m4-2v2m12-2v2m8-2v2m236-2v2m2-2v2m-275 0v2m10-2v2m1-2v2m17-2v2m11-2v2m2-2v2m1-2v2m6-2v2m1-2v2m20-2v2m179-2v2m2-2v2m1-2v2m-231 0v2m20-2v2m2-2v2m2-2v2m165-2v2m1-2v2m39-2v2m27-2v2m40-2v2m-274 0v2m165-2v2m45-2v2m2-2v2m22-2v2m28-2v2m-282 0v2m296-2v2m-40 0v2m28-2v2m10-2v2m-313 0v2m48-2v2m226-2v2m35-2v2m-64 0v2m72-2v2m-280 0v2m6-2v2m302-2v2m-343 0v2m276 0v2m3-2v2m48-2v2m4 0v2m-8 0v2m-327 2v2m17 42v2m279-2v2m-52 0v2m69-2v2m4-2v2m17-2v2m7-2v2m-333 0v2m200-2v2m2-2v2m39-2v2m40-2v2m30-2v2m2-2v2m-63 0v2m39-2v2m2-2v2m16-2v2m1-2v2m8-2v2m5-2v2m5-2v2m-298 0v2m193-2v2m28-2v2m1-2v2m33-2v2m-277 0v2m192-2v2m18-2v2m87-2v2m22-2v2m9-2v2m-313 4v2m217-2v2m-231 0v2m26-2v2m-41 0v2m31 0v2m215-2v2m-183 0v2m135-2v2m47-2v2m-192 0v2m-2 0v2m-20 0v2m1-2v2m214-2v2m-165 0v2m192-2v2m-188 0v2m311-2v2m5-2v2m4-2v2m-313 0v2m4-2v2m48-2v2m183-2v2m6-2v2m-304 0v2m126-2v2m194-2v2m-317 0v2m46-2v2m34-2v2m24-2v2m19-2v2m28-2v2m39-2v2m69-2v2m104-2v2m2-2v2m7-2v2m-159 0v2m104-2v2m23-2v2m24-2v2m10-2v2m-394 0v2m65-2v2m78-2v2m91-2v2m104-2v2m12-2v2m5-2v2m3-2v2m7-2v2m6-2v2m10-2v2m11-2v2m-309 0v2m72-2v2m16-2v2m16-2v2m171-2v2m10-2v2m5-2v2m7-2v2m7-2v2m2-2v2m2-2v2m-259 0v2m40-2v2m61-2v2m35-2v2m25-2v2m44-2v2m6-2v2m11-2v2m6-2v2m4-2v2m2-2v2m11-2v2m4-2v2m1-2v2m7-2v2m15-2v2m9-2v2m-283 0v2m103-2v2m105-2v2m2-2v2m3-2v2m7-2v2m9-2v2m7-2v2m4-2v2m1-2v2m1-2v2m1-2v2m4-2v2m1-2v2m1-2v2m1-2v2m2-2v2m30-2v2m-342 0v2m100-2v2m67-2v2m9-2v2m26-2v2m68-2v2m9-2v2m19-2v2m1-2v2m6-2v2m4-2v2m1-2v2m13-2v2m16-2v2m3-2v2m-281 0v2m15-2v2m72-2v2m81-2v2m38-2v2m13-2v2m1-2v2m1-2v2m2-2v2m8-2v2m6-2v2m11-2v2m1-2v2m3-2v2m31-2v2m-348 0v2m105-2v2m16-2v2m46-2v2m42-2v2m71-2v2m4-2v2m2-2v2m22-2v2m3-2v2m1-2v2m3-2v2m9-2v2m11-2v2m-359 0v2m73-2v2m15-2v2m10-2v2m42-2v2m51-2v2m105-2v2m3-2v2m8-2v2m6-2v2m8-2v2m2-2v2m5-2v2m7-2v2m3-2v2m2-2v2m-326 0v2m85-2v2m46-2v2m12-2v2m142-2v2m1-2v2m2-2v2m10-2v2m6-2v2m13-2v2m4-2v2m3-2v2m1-2v2m19-2v2m-298 0v2m48-2v2m21-2v2m75-2v2m94-2v2m11-2v2m15-2v2m26-2v2m-223 0v2m36-2v2m42-2v2m25-2v2m33-2v2m23-2v2m10-2v2m2-2v2m2-2v2m9-2v2m2-2v2m13-2v2m11-2v2m4-2v2"/><path stroke="#808000" d="M147 4v2m29-2v2m-15 0v2m1 0v2m98-2v2m-90 0v2m141-2v2m-311 0v2m369-2v2m0 4v2m-226 0v2m-10 0v2m38-2v2m187-2v2m-208 0v2m-8 0v2m19-2v2m15-2v2m227-2v2m-260 0v2m15 2v2m2-2v2m2 0v2m-63 0v2m59-2v2m2-2v2m245 0v2m-262 0v2m14-2v2m-58 0v2m35-2v2m15-2v2m161-2v2m0 0v2m98-2v2m3 0v2m-314 0v2m64-2v2m251-2v2m8-2v2m-395 0v2m333-2v2m59-2v2m-392 0v2m73-2v2m108-2v2m105-2v2m98 2v2m-384 0v2m133-2v2m243-2v2m3-2v2m9-2v2m5-2v2m-272 0v2m-43 0v2m136-2v2m-78 0v2m244-2v2m-301 2v2m39-2v2m18-2v2m237-2v2m-294 2v2m125 0v2m187-2v2m-317 0v2m8-2v2m203 0v2m-211 0v2m122-2v2m137-2v2m-251 0v2m39-2v2m166-2v2m-106 0v2m23-2v2m-59 0v2m48-2v2m140-2v2m43-2v2m-294 0v2m114-2v2m1 0v2m-207 0v2m162-2v2m6-2v2m175-2v2m43-2v2m-400 0v2m309-2v2m-147 0v2m231-2v2m1-2v2m27-2v2m-284 0v2m95-2v2m133-2v2m35 0v2m-231 0v2m2-2v2m11-2v2m214-2v2m-396 0v2m116-2v2m34-2v2m5-2v2m27-2v2m-16 0v2m193-2v2m42-2v2m-342 0v2m1-2v2m113-2v2m-29 0v2m-111 0v2m361-2v2m-230 0v2m9-2v2m58-2v2m127-2v2m-192 0v2m56-2v2m13-2v2m130-2v2m-141 0v2m147-2v2m2-2v2m2-2v2m-238 0v2m231-2v2m23-2v2m-343 0v2m310-2v2m9-2v2m-367 0v2m359-2v2m9-2v2m-252 0v2m22-2v2m9-2v2m5-2v2m240-2v2m-366 0v2m127-2v2m9-2v2m74-2v2m-82 0v2m73-2v2m3-2v2m120-2v2m13-2v2m-207 0v2m61-2v2m173-2v2m5-2v2m-247 0v2m1-2v2m69-2v2m13-2v2m190-2v2m4-2v2m-326 0v2m67-2v2m203-2v2m-133 0v2m147-2v2m44-2v2m-284 0v2m27-2v2m180-2v2m39-2v2m4-2v2m34-2v2m-271 0v2m5-2v2m60-2v2m157-2v2m16-2v2m-220 0v2m192-2v2m-318 0v2m180-2v2m144-2v2m-226 0v2m8-2v2m18-2v2m178-2v2m25-2v2m1-2v2m50-2v2m-319 0v2m35-2v2m116-2v2m124-2v2m3-2v2m-385 0v2m96-2v2m3-2v2m50-2v2m86-2v2m126-2v2m34-2v2m32-2v2m-320 0v2m-3 0v2m38-2v2m30-2v2m51-2v2m86-2v2m-78 0v2m28-2v2m147-2v2m-170 0v2m23-2v2m-122 0v2m94-2v2m2-2v2m144-2v2m-234 0v2m88-2v2m7-2v2m21-2v2m97-2v2m-249 0v2m124-2v2m-127 0v2m321-2v2m-271 0v2m-95 0v2m36-2v2m143-2v2m-12 0v2m165-2v2m-284 0v2m119-2v2m-227 0v2m383-2v2m-372 0v2m4-2v2m93-2v2m9-2v2m117-2v2m120-2v2m-334 0v2m148-2v2m60-2v2m2-2v2m1-2v2m8-2v2m136-2v2m1-2v2m52-2v2m-294 0v2m-125 0v2m6-2v2m91-2v2m112-2v2m5-2v2m1-2v2m10-2v2m117-2v2m30-2v2m10-2v2m-364 0v2m117-2v2m29-2v2m-69 0v2m34-2v2m14-2v2m75-2v2m4-2v2m144-2v2m17-2v2m-392 0v2m154-2v2m68-2v2m156-2v2m-375 0v2m58-2v2m83-2v2m86-2v2m-220 0v2m135-2v2m8-2v2m3-2v2m-156 0v2m134-2v2m21-2v2m217-2v2m-362 0v2m39-2v2m344-2v2m-381 0v2m248-2v2m113-2v2m-205 0v2m212-2v2m2-2v2m-248 0v2m256-2v2m24-2v2m-80 0v2m55-2v2m31-2v2m-282 0v2m18-2v2m123-2v2m61-2v2m25-2v2m10-2v2m19-2v2m31-2v2m-417 0v2m11-2v2m221-2v2m119-2v2m42-2v2m-401 0v2m2-2v2m354-2v2m44-2v2m-386 0v2m46-2v2m212-2v2m59-2v2m26-2v2m32-2v2m8-2v2m3-2v2m15-2v2m-136 0v2m49-2v2m4-2v2m19-2v2m20-2v2m3-2v2m-367 0v2m8-2v2m243-2v2m106-2v2m28-2v2m-390 0v2m114-2v2m201-2v2m47-2v2m5-2v2m36-2v2m21-2v2m-400 0v2m296-2v2m68-2v2m-382 0v2m97-2v2m163-2v2m103-2v2m4-2v2m3-2v2m5-2v2m40-2v2m-412 0v2m86-2v2m249-2v2m-29 0v2m107-2v2m-419 0v2m4-2v2m275-2v2m60-2v2m29-2v2m1-2v2m26-2v2m28-2v2m-412 0v2m5-2v2m78-2v2m178-2v2m4-2v2m75-2v2m30-2v2m39-2v2m-410 0v2m349-2v2m-344 0v2m263-2v2m44-2v2m53-2v2m-369 0v2m9-2v2m6-2v2m23-2v2m195-2v2m91-2v2m36-2v2m1-2v2m5-2v2m24-2v2m-383 0v2m300-2v2m57-2v2m-371 0v2m161-2v2m45-2v2m63-2v2m81-2v2m20-2v2m28-2v2m-391 0v2m2-2v2m150-2v2m14-2v2m61-2v2m81-2v2m42-2v2m26-2v2m-373 0v2m151-2v2m1-2v2m111-2v2m52-2v2m6-2v2m6-2v2m2-2v2m50-2v2m-29 0v2m-345 0v2m137-2v2m92-2v2m77-2v2m37-2v2m9-2v2m11-2v2m-377 0v2m362-2v2m5-2v2m3-2v2m3-2v2m4-2v2m43-2v2m-404 0v2m293-2v2m27-2v2m32-2v2m-187 0v2m25-2v2m39-2v2m15-2v2m54-2v2m48-2v2m15-2v2m11-2v2m6-2v2m-396 0v2m131-2v2m52-2v2m162-2v2m17-2v2m-345 0v2m153-2v2m184-2v2m1-2v2m14-2v2m21-2v2m-388 0v2m291-2v2m54-2v2m14-2v2m-187 0v2m23-2v2m7-2v2m1-2v2m4-2v2m2-2v2m2-2v2m33-2v2m17-2v2m70-2v2m20-2v2m60-2v2m-413 0v2m23-2v2m182-2v2m3-2v2m5-2v2m55-2v2m61-2v2m17-2v2m39-2v2m-382 0v2m1-2v2m7-2v2m82-2v2m69-2v2m79-2v2m71-2v2m11-2v2m6-2v2m11-2v2m4-2v2m6-2v2m19-2v2m10-2v2m-130 0v2m95-2v2m-179 0v2m64-2v2m21-2v2m31-2v2m64-2v2m74-2v2m-396 0v2m190-2v2m78-2v2m84-2v2m-373 0v2m2-2v2m6-2v2m220-2v2m48-2v2m3-2v2m39-2v2m7-2v2m-175 0v2m97-2v2m112-2v2m-304 0v2m86-2v2m92-2v2m26-2v2m19-2v2m36-2v2m31-2v2m-329 0v2m105-2v2m85-2v2m19-2v2m10-2v2m21-2v2m56-2v2m3-2v2m-214 0v2m119-2v2m5-2v2m101-2v2m-142 0v2m32-2v2m22-2v2m80-2v2m-100 0v2m26-2v2m3-2v2m24-2v2m-90 0v2m39-2v2m18-2v2m4-2v2m7-2v2m1-2v2m27-2v2m10-2v2m44-2v2m5-2v2m5-2v2m-220 0v2m147-2v2m113-2v2m-282 0v2m17-2v2m99-2v2m51-2v2m54-2v2m-134 0v2m59-2v2m-250 0v2m192-2v2m3-2v2m78-2v2m25-2v2m2-2v2m18-2v2m-110 0v2m9-2v2m113-2v2m1-2v2m31-2v2m-312 0v2m169-2v2m31-2v2m12-2v2m115-2v2m13-2v2m-327 0v2m184-2v2m9-2v2m26-2v2m29-2v2m11-2v2m-254 0v2m56-2v2m155-2v2m3-2v2m-210 0v2m16-2v2m6-2v2m183-2v2m53-2v2m-281 0v2m20-2v2m16-2v2m122-2v2m43-2v2m11-2v2m14-2v2m47-2v2m-274 0v2m166-2v2m39-2v2m64-2v2m-252 0v2m45-2v2m192-2v2m-276 0v2m90-2v2m83-2v2m16-2v2m31-2v2m18-2v2m18-2v2m58-2v2m-281 0v2m54-2v2m97-2v2m42-2v2m18-2v2m-247 0v2m29-2v2m2-2v2m211-2v2m-141 0v2m114-2v2m42-2v2m-264 0v2m70-2v2m27-2v2m133-2v2m34-2v2m-186 0v2m8-2v2m113-2v2m-174 0v2m5-2v2m2-2v2m1-2v2m22-2v2m172-2v2m78-2v2m-254 0v2m217-2v2m34-2v2m27-2v2m-305 0v2m8-2v2m165-2v2m1-2v2m44-2v2m64-2v2m2-2v2m25-2v2m-349 0v2m28-2v2m17-2v2m24-2v2m138-2v2m141-2v2m2-2v2m-25 0v2m10-2v2m-284 0v2m3-2v2m6-2v2m221-2v2m39-2v2m19-2v2m3-2v2m-279 0v2m183-2v2m33-2v2m26-2v2m-94 4v2m95-2v2m32 0v2m-336 0v2m36-2v2m10-2v2m201-2v2m99-2v2m-103 0v2m3-2v2m-219 0v2m7-2v2m270 0v2m18-2v2m4-2v2m17-2v2m-8 0v2m-26 0v2m-307 0v2m331-2v2m-331 0v2m325-2v2m20-2v2m-26 0v2m-51 54v2m47 2v2m25-2v2m-333 0v2m10-2v2m253-2v2m11-2v2m19-2v2m18-2v2m-107 0v2m24-2v2m1-2v2m50-2v2m1-2v2m8-2v2m6-2v2m-292 0v2m226-2v2m55-2v2m13-2v2m6-2v2m-297 0v2m215-2v2m10-2v2m7-2v2m9-2v2m43-2v2m44-2v2m-311 0v2m177-2v2m51-2v2m62-2v2m-320 0v2m13-2v2m5-2v2m232-2v2m6-2v2m2-2v2m27-2v2m24-2v2m15-2v2m15-2v2m-126 0v2m12-2v2m40-2v2m7-2v2m45-2v2m-76 0v2m27-2v2m52-2v2m7-2v2m7-2v2m10-2v2m-345 0v2m25-2v2m197-2v2m17-2v2m49-2v2m2-2v2m-272 0v2m177-2v2m25-2v2m8-2v2m37-2v2m-190 0v2m188-2v2m14-2v2m22-2v2m29-2v2m-257 0v2m53-2v2m72-2v2m36-2v2m31-2v2m39-2v2m100-2v2m1-2v2m-403 0v2m1-2v2m46-2v2m228-2v2m14-2v2m18-2v2m6-2v2m20-2v2m7-2v2m1-2v2m-314 0v2m70-2v2m12-2v2m17-2v2m140-2v2m45-2v2m3-2v2m-313 0v2m67-2v2m53-2v2m106-2v2m4-2v2m2-2v2m28-2v2m31-2v2m15-2v2m16-2v2m64-2v2m7-2v2m-381 0v2m12-2v2m1-2v2m26-2v2m15-2v2m41-2v2m9-2v2m93-2v2m18-2v2m2-2v2m20-2v2m17-2v2m14-2v2m15-2v2m31-2v2m-329 0v2m43-2v2m10-2v2m29-2v2m2-2v2m2-2v2m7-2v2m16-2v2m6-2v2m20-2v2m48-2v2m8-2v2m24-2v2m11-2v2m5-2v2m90-2v2m18-2v2m18-2v2m-338 0v2m8-2v2m40-2v2m3-2v2m29-2v2m6-2v2m16-2v2m65-2v2m31-2v2m63-2v2m43-2v2m8-2v2m6-2v2m33-2v2m-365 0v2m66-2v2m3-2v2m1-2v2m4-2v2m29-2v2m98-2v2m22-2v2m17-2v2m12-2v2m14-2v2m25-2v2m5-2v2m39-2v2m4-2v2m17-2v2m-331 0v2m12-2v2m6-2v2m44-2v2m31-2v2m9-2v2m83-2v2m48-2v2m29-2v2m8-2v2m17-2v2m16-2v2m25-2v2m10-2v2m2-2v2m-331 0v2m24-2v2m41-2v2m83-2v2m27-2v2m7-2v2m12-2v2m17-2v2m22-2v2m7-2v2m22-2v2m13-2v2m5-2v2m5-2v2m8-2v2m47-2v2m-374 0v2m12-2v2m28-2v2m7-2v2m18-2v2m23-2v2m115-2v2m5-2v2m13-2v2m1-2v2m3-2v2m24-2v2m139-2v2m-344 0v2m11-2v2m13-2v2m18-2v2m21-2v2m22-2v2m63-2v2m3-2v2m11-2v2m13-2v2m20-2v2m7-2v2m10-2v2m3-2v2m15-2v2m9-2v2m17-2v2m5-2v2m26-2v2m1-2v2m22-2v2m25-2v2m-361 0v2m5-2v2m15-2v2m19-2v2m4-2v2m15-2v2m1-2v2m24-2v2m5-2v2m77-2v2m3-2v2m8-2v2m8-2v2m53-2v2m13-2v2m3-2v2m13-2v2m4-2v2m11-2v2m40-2v2m3-2v2m17-2v2m5-2v2m8-2v2m-350 0v2m3-2v2m61-2v2m193-2v2m4-2v2m12-2v2m12-2v2m3-2v2m10-2v2m11-2v2m6-2v2m-331 0v2m3-2v2m103-2v2m75-2v2m23-2v2m2-2v2m18-2v2m3-2v2m9-2v2m15-2v2m4-2v2m16-2v2m13-2v2m4-2v2m7-2v2m5-2v2m8-2v2m2-2v2m18-2v2m20-2v2m21-2v2m1-2v2m6-2v2m1-2v2m7-2v2"/><path stroke="#c04000" d="M169 6v2m32 2v2m217-2v2m1-2v2m2-2v2m-10 6v2m-17 2v2m-254 0v2m281-2v2m-3 0v2m-257 2v2m251 0v2m-229 2v2m-22 6v2m98-2v2m-101 8v2m237-2v2m-211 0v2m57 2v2m-69 0v2m11-2v2m-158 2v2m117-2v2m6 0v2m110-2v2m136 0v2m2 2v2m-262 2v2m41-2v2m84-2v2m-110 0v2m35-2v2m-150 0v2m136-2v2m88-2v2m168-2v2m-278 0v2m-6 0v2m275-2v2m-417 4v2m419-2v2m-321 2v2m51-2v2m8 0v2m261-2v2m-242 0v2m252-2v2m-280 0v2m91-2v2m174-2v2m-155 0v2m-97 0v2m15-2v2m190-2v2m53-2v2m7-2v2m2-2v2m-60 0v2m1-2v2m41-2v2m-313 0v2m321-2v2m-48 0v2m-195 0v2m65-2v2m163-2v2m24-2v2m-294 2v2m225-2v2m49-2v2m-250 4v2m28-2v2m-160 2v2m127-2v2m3-2v2m75-2v2m-96 0v2m105-2v2m-142 0v2m109 2v2m151 0v2m-47 0v2m1-2v2m102-2v2m-386 2v2m373-2v2m-302 0v2m0 0v2m303-2v2m-370 0v2m210-2v2m-142 0v2m-73 0v2m396-2v2m-396 6v2m371-2v2m20 0v2m2-2v2m-388 2v2m69 0v2m46-2v2m-46 0v2m46 0v2m39-2v2m183-2v2m31 2v2m-296 0v2m62-2v2m20-2v2m237-2v2m-274 0v2m24-2v2m227-2v2m-241 0v2m266-2v2m-4 0v2m2 0v2m-246 0v2m192-2v2m-193 0v2m194-2v2m47 0v2m-17 0v2m20-2v2m-253 0v2m9-2v2m51-2v2m143-2v2m27-2v2m1-2v2m20-2v2m-191 0v2m-61 0v2m245 0v2m-259 0v2m7-2v2m6-2v2m-163 0v2m148-2v2m18-2v2m7-2v2m181 2v2m-191 0v2m42-2v2m204-2v2m11-2v2m-372 0v2m101-2v2m9-2v2m60-2v2m-68 2v2m17-2v2m32-2v2m152-2v2m5-2v2m-208 0v2m22-2v2m224-2v2m-347 0v2m52-2v2m132-2v2m80-2v2m43-2v2m65-2v2m-244 0v2m228-2v2m-244 2v2m73-2v2m-84 0v2m51-2v2m29-2v2m138-2v2m36-2v2m-243 0v2m58-2v2m200-2v2m-318 0v2m53-2v2m215-2v2m17-2v2m-246 0v2m18 0v2m189-2v2m57-2v2m-179 0v2m88-2v2m-166 0v2m80-2v2m86-2v2m-90 0v2m-122 0v2m123-2v2m-80 0v2m76-2v2m4-2v2m-123 0v2m44-2v2m77-2v2m205-2v2m-408 0v2m201-2v2m185-2v2m1-2v2m-398 0v2m169-2v2m180-2v2m9-2v2m-210 0v2m71-2v2m9-2v2m150-2v2m-164 0v2m45-2v2m-127 0v2m84-2v2m136-2v2m-187 0v2m87-2v2m-121 0v2m224-2v2m65-2v2m-169 0v2m-125 0v2m18-2v2m263-2v2m-237 0v2m-176 0v2m7-2v2m15-2v2m115-2v2m234-2v2m13-2v2m39-2v2m-52 2v2m26-2v2m-264 0v2m124 0v2m2-2v2m164-2v2m-46 0v2m-20 0v2m31-2v2m-388 0v2m260-2v2m51-2v2m40-2v2m5-2v2m43-2v2m-398 0v2m115-2v2m18-2v2m124-2v2m134-2v2m-296 0v2m296-2v2m-249 0v2m236-2v2m8-2v2m2-2v2m-222 0v2m94-2v2m30-2v2m85-2v2m21-2v2m-381 0v2m250-2v2m136-2v2m-110 0v2m1-2v2m48 0v2m-100 0v2m16-2v2m11-2v2m105-2v2m25-2v2m1-2v2m-261 0v2m92-2v2m157-2v2m15-2v2m-26 0v2m22-2v2m-313 0v2m12-2v2m25-2v2m109-2v2m-202 0v2m76-2v2m4-2v2m85-2v2m196-2v2m9-2v2m-305 0v2m36-2v2m90-2v2m-142 0v2m29-2v2m3-2v2m98-2v2m34-2v2m154-2v2m-393 0v2m89-2v2m101-2v2m37-2v2m4-2v2m35-2v2m-262 0v2m53-2v2m13-2v2m6-2v2m9-2v2m8-2v2m4-2v2m137-2v2m-176 0v2m25-2v2m10-2v2m127-2v2m-119 0v2m23-2v2m128 2v2m7 2v2m26 0v2m-273 0v2m184-2v2m93-2v2m-27 0v2m27-2v2m-217 0v2m118-2v2m-184 0v2m286-2v2m-252 2v2m253-2v2m-239 0v2m244 0v2m7-2v2m23-2v2m-275 0v2m-33 0v2m28-2v2m-5 2v2m226-2v2m44-2v2m-310 0v2m297-2v2m29-2v2m-313 0v2m17-2v2m290 0v2m-9 44v2m-46 0v2m-25 0v2m88 0v2m4-2v2m-112 0v2m16-2v2m10-2v2m42-2v2m32-2v2m-312 0v2m252-2v2m3-2v2m41-2v2m10-2v2m5-2v2m5-2v2m-122 0v2m17-2v2m6-2v2m-220 0v2m200-2v2m30-2v2m74-2v2m17-2v2m-327 0v2m2-2v2m284-2v2m-287 2v2m32 2v2m-6 0v2m9-2v2m7-2v2m-34 0v2m36-2v2m-3 0v2m10-2v2m12-2v2m179-2v2m-170 2v2m169-2v2m154 2v2m-199 0v2m207-2v2m-290 0v2m3-2v2m43-2v2m-69 0v2m58-2v2m93-2v2m86-2v2m73-2v2m-181 0v2m-192 0v2m116-2v2m10-2v2m8-2v2m237-2v2m-370 0v2m128-2v2m-22 0v2m190-2v2m-201 0v2m73-2v2m206-2v2m-349 0v2m31-2v2m25-2v2m4-2v2m144-2v2m139-2v2m-86 0v2m85-2v2m17-2v2m-269 0v2m267-2v2m-217 0v2m117-2v2m-254 0v2m17-2v2m57-2v2m24-2v2m87 0v2m-84 0v2m104-2v2m52-2v2m-143 0v2m223-2v2m26-2v2"/><path stroke="#c00000" d="M206 8v2m-64 0v2m-1 2v2m59-2v2m-58 2v2m0 0v2m225-2v2m45 0v2m6 0v2m-159 4v2m159 4v2m8-2v2m-286 0v2m32 0v2m237 2v2m-383 0v2m386-2v2m-2 0v2m-2 0v2m2 0v2m8-2v2m-8 0v2m1-2v2m8-2v2m-9 0v2m10-2v2m1-2v2m-9 0v2m-2 2v2m10-2v2m-280 4v2m0 0v2m32-2v2m34-2v2m-58 0v2m24 0v2m222 0v2m-394 2v2m140-2v2m255-2v2m-224 0v2m13-2v2m-8 0v2m24-2v2m194-2v2m-225 2v2m1-2v2m30-2v2m-16 0v2m-12 4v2m11-2v2m-36 0v2m22-2v2m200-2v2m35-2v2m-220 0v2m210 0v2m-223 0v2m13-2v2m16-2v2m59-2v2m-110 0v2m-115 0v2m113-2v2m23-2v2m-27 0v2m252-2v2m-290 0v2m66-2v2m12-2v2m243-2v2m-58 0v2m-218 0v2m21-2v2m1-2v2m11-2v2m185-2v2m59-2v2m-257 0v2m2-2v2m-23 0v2m1-2v2m244-2v2m-360 0v2m114-2v2m-1 0v2m22-2v2m3-2v2m-138 2v2m114-2v2m221-2v2m-222 0v2m22-2v2m1-2v2m1-2v2m5 0v2m191-2v2m28-2v2m-252 0v2m4-2v2m258-2v2m-308 0v2m62-2v2m17-2v2m84-2v2m107-2v2m-234 0v2m262-2v2m32-2v2m-269 0v2m2-2v2m-26 0v2m16-2v2m11-2v2m39-2v2m228-2v2m-324 0v2m264-2v2m-211 0v2m5-2v2m77-2v2m157-2v2m11-2v2m-249 0v2m18-2v2m135-2v2m115-2v2m-268 0v2m2-2v2m244-2v2m1-2v2m-405 0v2m26-2v2m4-2v2m128-2v2m3-2v2m14-2v2m85-2v2m109-2v2m25-2v2m-287 0v2m50-2v2m18-2v2m253-2v2m-402 0v2m149-2v2m219-2v2m10-2v2m-374 0v2m146-2v2m83-2v2m98-2v2m1-2v2m68 0v2m-116 0v2m47-2v2m48-2v2m21-2v2m-396 0v2m69-2v2m212-2v2m93-2v2m-307 0v2m1-2v2m36-2v2m22-2v2m85-2v2m153-2v2m32-2v2m-283 0v2m115-2v2m100-2v2m-252 0v2m154-2v2m-163 0v2m37-2v2m125-2v2m-259 0v2m105-2v2m134-2v2m19-2v2m2-2v2m168-2v2m-331 0v2m8-2v2m29-2v2m105-2v2m71-2v2m116-2v2m1-2v2m-293 0v2m107-2v2m156-2v2m30-2v2m-329 0v2m161-2v2m52-2v2m116-2v2m1-2v2m-428 0v2m97-2v2m1-2v2m6 0v2m2-2v2m27-2v2m126-2v2m155-2v2m1-2v2m-316 0v2m-99 0v2m99-2v2m159-2v2m1-2v2m-125 0v2m124-2v2m168-2v2m2-2v2m-2 0v2m-292 0v2m126-2v2m166-2v2m-323 0v2m2-2v2m134-2v2m159-2v2m-372 0v2m130-2v2m29-2v2m54-2v2m1-2v2m18-2v2m2-2v2m-20 0v2m18-2v2m166-2v2m-321 0v2m3-2v2m50-2v2m102-2v2m157-2v2m-311 0v2m52-2v2m29-2v2m56 0v2m157-2v2m1-2v2m-399 0v2m26-2v2m214-2v2m157-2v2m1-2v2m-224 0v2m11-2v2m73-2v2m1-2v2m142-2v2m-401 0v2m358-2v2m42-2v2m16-2v2m-47 0v2m1-2v2m44-2v2m-175 0v2m-54 0v2m56-2v2m117-2v2m10-2v2m1-2v2m45-2v2m8-2v2m-422 0v2m156-2v2m202-2v2m10-2v2m32-2v2m-223 0v2m221-2v2m16-2v2m8-2v2m-8 0v2m-258 0v2m245-2v2m16-2v2m-251 0v2m191 0v2m-211 0v2m20-2v2m233-2v2m24-2v2m2-2v2m-279 0v2m10-2v2m9-2v2m-1 0v2m68-2v2m167 0v2m-225 0v2m44-2v2m11-2v2m185-2v2m2-2v2m-264 0v2m13-2v2m55-2v2m-54 2v2m1-2v2m-15 0v2m216-2v2m-368 0v2m151-2v2m23-2v2m48-2v2m-222 0v2m103-2v2m-78 0v2m129-2v2m10-2v2m1-2v2m62-2v2m7-2v2m122-2v2m-189 0v2m55-2v2m-197 0v2m328-2v2m15-2v2m-342 0v2m137-2v2m56-2v2m134-2v2m-186 0v2m201 0v2m-13 0v2m4-2v2m8-2v2m-342 0v2m120-2v2m21-2v2m188-2v2m-328 0v2m141-2v2m71-2v2m118-2v2m3-2v2m-333 0v2m140-2v2m55-2v2m17-2v2m-135 0v2m130-2v2m-65 0v2m56-2v2m88 0v2m-286 0v2m113-2v2m89-2v2m4-2v2m1-2v2m-94 0v2m6-2v2m9-2v2m79-2v2m-116 0v2m105-2v2m10-2v2m-100 0v2m12-2v2m75-2v2m1-2v2m7-2v2m145-2v2m-236 0v2m19-2v2m78-2v2m1-2v2m140-2v2m-152 0v2m129-2v2m38-2v2m-253 0v2m88-2v2m12-2v2m130-2v2m16-2v2m-8 0v2m1-2v2m-188 0v2m34-2v2m1-2v2m15-2v2m1-2v2m154-2v2m-172 0v2m18-2v2m141-2v2m7-2v2m3-2v2m-168 0v2m160-2v2m6-2v2m-271 0v2m260-2v2m7-2v2m-280 0v2m163 0v2m97-2v2m1-2v2m1-2v2m-176 0v2m72-2v2m4-2v2m1-2v2m30-2v2m-171 0v2m-4 2v2m97-2v2m47-2v2m34-2v2m-273 0v2m100-2v2m138-2v2m1-2v2m-182 0v2m34-2v2m1-2v2m14-2v2m85-2v2m1-2v2m25-2v2m-243 0v2m65-2v2m47-2v2m4-2v2m11-2v2m116-2v2m-161 0v2m35-2v2m144-2v2m6-2v2m1-2v2m25-2v2m5-2v2m-224 0v2m121-2v2m73-2v2m32-2v2m-291 0v2m44-2v2m2-2v2m37-2v2m2-2v2m100-2v2m75-2v2m-202 0v2m14-2v2m2-2v2m3-2v2m3-2v2m183-2v2m20-2v2m7-2v2m-273 0v2m46-2v2m1-2v2m16-2v2m1-2v2m181-2v2m1-2v2m26-2v2m-236 0v2m135-2v2m104-2v2m-301 0v2m66-2v2m4-2v2m146-2v2m-155 0v2m229-2v2m-290 0v2m53-2v2m8-2v2m6-2v2m179-2v2m12-2v2m32-2v2m11-2v2m10-2v2m-252 0v2m242-2v2m2-2v2m-279 0v2m30-2v2m220-2v2m28-2v2m-278 0v2m18-2v2m269-2v2m-96 0v2m41-2v2m32-2v2m22-2v2m1-2v2m-273 0v2m-25 0v2m13-2v2m11-2v2m4-2v2m173-2v2m-199 0v2m8-2v2m14-2v2m6-2v2m2-2v2m167-2v2m41-2v2m2-2v2m-255 0v2m36-2v2m218-2v2m-2 0v2m26-2v2m29-2v2m-277 0v2m5-2v2m219-2v2m23-2v2m31-2v2m3-2v2m1-2v2m1-2v2m-4 0v2m-309 0v2m322-2v2m-43 0v2m6-2v2m43-2v2m-48 0v2m51-2v2m-95 58v2m22-2v2m-233 2v2m0 0v2m6 0v2m-6 2v2m175-2v2m0 0v2m-150 0v2m10 2v2m337-2v2m-323 0v2m-49 0v2m309-2v2m66-2v2m-312 0v2m71 0v2m25-2v2m217-2v2m5 0v2m-308 0v2m102-2v2m0 0v2m6-2v2m54-2v2m101-2v2m32-2v2m-339 0v2m152-2v2m45-2v2m115-2v2m3-2v2m36-2v2m2-2v2m17-2v2m3-2v2m-349 0v2m65-2v2m63-2v2m149-2v2m21-2v2m9-2v2m3-2v2m-205 0v2m17-2v2m77-2v2m77-2v2m1 0v2m10-2v2m14-2v2m8-2v2m-273 0v2m40-2v2m29-2v2m170-2v2m23-2v2m-18 0v2m19-2v2m25-2v2m-79 0v2m32-2v2m36-2v2m16-2v2m17-2v2m-346 0v2m169-2v2m103-2v2m8-2v2m16-2v2m7-2v2m2-2v2m1-2v2m3-2v2m-353 0v2m149-2v2m96-2v2m81-2v2m10-2v2m3-2v2m15-2v2m7-2v2m-310 0v2m267-2v2m5-2v2m4-2v2m13-2v2m19-2v2"/><path stroke="#008000" d="M147 28v2m12-2v2m244 8v2m-164 0v2m-208 2v2m373 8v2m-228 6v2m193-2v2m-213 20v2m-51 2v2m261-2v2m-260 14v2m37 0v2m167 0v2m-194 0v2m-91 2v2m-16 0v2m94 2v2m60-2v2m242 2v2m-378 0v2m388 0v2m-280 16v2m101 2v2m-68 0v2m-52 0v2m37-2v2m-21 10v2m-83 6v2m181 2v2m-8 6v2m-126 6v2m131 4v2m164 0v2m-28 0v2m24-2v2m-8 4v2m-283 12v2m259 0v2m-135 4v2m158 0v2m-318 0v2m1-2v2m319-2v2m-24 0v2m3-2v2m-122 0v2m-82 10v2m31 2v2m188-2v2m18 2v2m-381 4v2m328 0v2m-337 2v2m340-2v2m37-2v2m-375 2v2m313 0v2m0 2v2m-308 2v2m341 0v2m39-2v2m-66 0v2m-107 0v2m59-2v2m89-2v2m17-2v2m-40 0v2m0 0v2m-334 0v2m114 0v2m209-2v2m-3 4v2m-241 0v2m131 0v2m-87 2v2m201-2v2m-307 4v2m319-2v2m-332 0v2m310-2v2m11-2v2m-286 8v2m194 104v2m30 2v2m36-2v2m-84 0v2m2-2v2m5 0v2m71-2v2m25 0v2m8-2v2m-102 0v2m75-2v2m-276 0v2m31-2v2m217-2v2m-209 0v2m150-2v2m32-2v2m-249 0v2m7 0v2m122-2v2m81-2v2m31 0v2m71-2v2m-105 6v2m130-2v2m-278 0v2m155-2v2m118-2v2m-111 2v2m9-2v2m-194 2v2m57-2v2m133-2v2m-224 0v2m43-2v2"/><path stroke="#e02000" d="M182 40v2m1 6v2m236 0v2m2 2v2m-9 72v2m-9 12v2m-230 104v2m-12 2v2m243 16v2m1 8v2m-179 4v2m172 0v2m16 2v2m-229 4v2m181 0v2m12 6v2m-148 12v2m-152 4v2m14 8v2m227 76v2m-41 2v2m16-2v2m128 36v2"/><path stroke="#e04000" d="M142 106v2m15 126v2m238 10v2m-235 44v2m214 18v2m-9 12v2m-177 0v2m77 2v2m-169 10v2m127 0v2m28 16v2m3 4v2m83 2v2m6-2v2m1 24v2m-321 4v2m-3 0v2m214 2v2m12-2v2m-27 4v2m6-2v2m10 0v2m-186 6v2m145 8v2m-100 6v2m47 6v2"/></g></svg>
<div id="tk"><b style="left:101px"></b><b style="left:133px"></b><b style="left:157px"></b><b style="left:180px"></b><b style="left:203px"></b><b style="left:336px"></b><b style="left:351.5px"></b><b style="left:376px"></b><b style="left:400px"></b><b style="left:411.5px"></b><b style="left:423px"></b></div>
<div id="bar"></div>
<span class="t" style="left:184.6px;top:3.1px;font-size:14px;letter-spacing:0.32px">NEAR X-Ray Analysis</span>
<span class="t" style="left:391.7px;top:5.8px;font-size:11.5px;letter-spacing:0.86px">Date: Wed Jun  6 10:41:13 2001</span>
<span class="t" style="left:7.0px;top:22.3px;font-size:11.5px;transform:scaleX(0.990)">256</span>
<span class="t" style="left:17.4px;top:536.3px;font-size:11.5px">0</span>
<span class="t" style="left:37.4px;top:546.3px;font-size:11.5px">0</span>
<span class="t" style="left:246.4px;top:547.1px;font-size:11px;letter-spacing:0.15px">File Time</span>
<span class="t" style="left:500.0px;top:546.3px;font-size:11.5px;transform:scaleX(0.977)">1715</span>
<span class="t" style="left:21.5px;top:631.8px;font-size:12px;letter-spacing:0.32px">LOG10 Normalized Spectrogram Scale</span>
<span class="t" style="left:22.0px;top:669.3px;font-size:11.5px;letter-spacing:0.50px">0.0</span>
<span class="t" style="left:180.0px;top:669.3px;font-size:11.5px;letter-spacing:0.70px">0.5</span>
<span class="t" style="left:342.0px;top:669.3px;font-size:11.5px">1.0</span>
<span class="t" style="left:368.6px;top:638.8px;font-size:12px;letter-spacing:0.00px">Spect</span>
<span class="t" style="left:406.1px;top:638.8px;font-size:12px;letter-spacing:0.50px">type=</span>
<span class="t" style="left:444.4px;top:638.8px;font-size:12px;transform:scaleX(0.814)">ACTIVE</span>
<span class="t" style="left:487.1px;top:638.8px;font-size:12px;transform:scaleX(0.861)">SOLAR,</span>
<span class="t" style="left:538.0px;top:638.8px;font-size:12px;letter-spacing:0.33px">256</span>
<span class="t" style="left:565.9px;top:638.8px;font-size:12px;transform:scaleX(0.966)">Channels,</span>
<span class="t" style="left:666.0px;top:638.8px;font-size:12px">1</span>
<span class="t" style="left:680.1px;top:638.8px;font-size:12px;letter-spacing:0.81px">ch/bin</span>
<span class="t" style="left:368.6px;top:658.8px;font-size:12px;letter-spacing:0.14px">Directory</span>
<span class="t" style="left:425.6px;top:658.8px;font-size:12px">=</span>
<span class="t" style="left:440.0px;top:658.8px;font-size:12px;letter-spacing:1.17px">/near/xdr/XRS/2000/05-00/XSdaily-05_18_00out/</span>
<span class="t v" style="left:46.5px;top:300.8px;font-size:11.5px;letter-spacing:1.167px">Channel # -----></span>
</body></html>
